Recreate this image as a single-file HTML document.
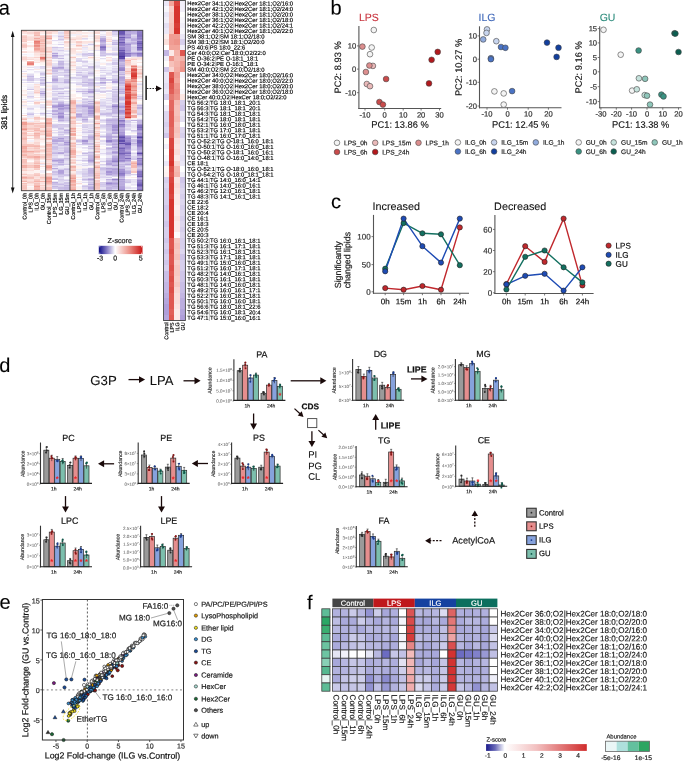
<!DOCTYPE html><html><head><meta charset="utf-8"><style>html,body{margin:0;padding:0;background:#fff;overflow:hidden}svg{display:block;}.hm rect{width:1.02px;height:1.04px}svg{font-family:"Liberation Sans",sans-serif;will-change:transform;text-rendering:geometricPrecision}</style></head><body><svg width="685" height="761" viewBox="0 0 685 761"><text transform="translate(-1.2 14.4) rotate(0.05)" font-size="20" stroke="#000" stroke-width="0.1">a</text>
<g shape-rendering="crispEdges" class="hm" transform="translate(21.4 30.3) scale(6.0700 1.0693)">
<rect x="0" y="0" fill="#f8ccc7"/>
<rect x="1" y="0" fill="#fae0dc"/>
<rect x="2" y="0" fill="#fbe2df"/>
<rect x="3" y="0" fill="#fcebe9"/>
<rect x="4" y="0" fill="#f8d2cd"/>
<rect x="5" y="0" fill="#fadfdc"/>
<rect x="6" y="0" fill="#ebe7f5"/>
<rect x="7" y="0" fill="#f7c6bf"/>
<rect x="8" y="0" fill="#fbe1de"/>
<rect x="9" y="0" fill="#f8d0ca"/>
<rect x="10" y="0" fill="#fef8f7"/>
<rect x="11" y="0" fill="#ded7ef"/>
<rect x="12" y="0" fill="#fadfdc"/>
<rect x="13" y="0" fill="#e6e1f3"/>
<rect x="14" y="0" fill="#fbe2de"/>
<rect x="15" y="0" fill="#b5a6dc"/>
<rect x="16" y="0" fill="#4f3ba2"/>
<rect x="17" y="0" fill="#8572c2"/>
<rect x="18" y="0" fill="#b9abde"/>
<rect x="19" y="0" fill="#9280c9"/>
<rect x="0" y="1" fill="#f7cac4"/>
<rect x="1" y="1" fill="#fbe4e1"/>
<rect x="2" y="1" fill="#f9d7d3"/>
<rect x="3" y="1" fill="#f9d6d2"/>
<rect x="4" y="1" fill="#f9d6d2"/>
<rect x="5" y="1" fill="#f9d4d0"/>
<rect x="6" y="1" fill="#efebf7"/>
<rect x="7" y="1" fill="#f6c1ba"/>
<rect x="8" y="1" fill="#fcecea"/>
<rect x="9" y="1" fill="#fadeda"/>
<rect x="10" y="1" fill="#fffdfd"/>
<rect x="11" y="1" fill="#f5f4fb"/>
<rect x="12" y="1" fill="#fbe0dd"/>
<rect x="13" y="1" fill="#e4dff2"/>
<rect x="14" y="1" fill="#fcedeb"/>
<rect x="15" y="1" fill="#c1b4e2"/>
<rect x="16" y="1" fill="#6754b0"/>
<rect x="17" y="1" fill="#ad9bd8"/>
<rect x="18" y="1" fill="#b6a7dd"/>
<rect x="19" y="1" fill="#9482ca"/>
<rect x="0" y="2" fill="#fbe2df"/>
<rect x="1" y="2" fill="#f9d7d3"/>
<rect x="2" y="2" fill="#f6bfb8"/>
<rect x="3" y="2" fill="#fcebe9"/>
<rect x="4" y="2" fill="#f8cfc9"/>
<rect x="5" y="2" fill="#fbe6e3"/>
<rect x="6" y="2" fill="#e1dbf1"/>
<rect x="7" y="2" fill="#f7c5be"/>
<rect x="8" y="2" fill="#fbe4e1"/>
<rect x="9" y="2" fill="#fceae8"/>
<rect x="10" y="2" fill="#fceae8"/>
<rect x="11" y="2" fill="#fdeeec"/>
<rect x="12" y="2" fill="#f9d8d3"/>
<rect x="13" y="2" fill="#f9f7fc"/>
<rect x="14" y="2" fill="#fbe2df"/>
<rect x="15" y="2" fill="#dad2ee"/>
<rect x="16" y="2" fill="#6a57b2"/>
<rect x="17" y="2" fill="#b7a8dd"/>
<rect x="18" y="2" fill="#bcaee0"/>
<rect x="19" y="2" fill="#8d7bc7"/>
<rect x="0" y="3" fill="#fef5f4"/>
<rect x="1" y="3" fill="#fceae8"/>
<rect x="2" y="3" fill="#f7c5be"/>
<rect x="3" y="3" fill="#f9f8fc"/>
<rect x="4" y="3" fill="#fcecea"/>
<rect x="5" y="3" fill="#fef8f8"/>
<rect x="6" y="3" fill="#ebe7f6"/>
<rect x="7" y="3" fill="#f9d5d1"/>
<rect x="8" y="3" fill="#f3f1f9"/>
<rect x="9" y="3" fill="#efecf8"/>
<rect x="10" y="3" fill="#fef9f8"/>
<rect x="11" y="3" fill="#f8f6fc"/>
<rect x="12" y="3" fill="#fcfbfe"/>
<rect x="13" y="3" fill="#ece8f6"/>
<rect x="14" y="3" fill="#fbe3e0"/>
<rect x="15" y="3" fill="#d6ceec"/>
<rect x="16" y="3" fill="#7360b7"/>
<rect x="17" y="3" fill="#a997d6"/>
<rect x="18" y="3" fill="#cec4e8"/>
<rect x="19" y="3" fill="#8a77c4"/>
<rect x="0" y="4" fill="#f9d7d2"/>
<rect x="1" y="4" fill="#fdf0ef"/>
<rect x="2" y="4" fill="#f5b7ae"/>
<rect x="3" y="4" fill="#f9d4cf"/>
<rect x="4" y="4" fill="#f8cbc6"/>
<rect x="5" y="4" fill="#efebf7"/>
<rect x="6" y="4" fill="#e3def2"/>
<rect x="7" y="4" fill="#f7c8c2"/>
<rect x="8" y="4" fill="#f4f2fa"/>
<rect x="9" y="4" fill="#fcedeb"/>
<rect x="10" y="4" fill="#fbe5e2"/>
<rect x="11" y="4" fill="#f6f4fb"/>
<rect x="12" y="4" fill="#faddd9"/>
<rect x="13" y="4" fill="#f0edf8"/>
<rect x="14" y="4" fill="#fbe4e1"/>
<rect x="15" y="4" fill="#e7e2f4"/>
<rect x="16" y="4" fill="#9482ca"/>
<rect x="17" y="4" fill="#af9ed9"/>
<rect x="18" y="4" fill="#e0daf1"/>
<rect x="19" y="4" fill="#8674c2"/>
<rect x="0" y="5" fill="#f7cbc5"/>
<rect x="1" y="5" fill="#fbe5e2"/>
<rect x="2" y="5" fill="#f9d8d4"/>
<rect x="3" y="5" fill="#f7c7c1"/>
<rect x="4" y="5" fill="#f5b8b0"/>
<rect x="5" y="5" fill="#f1eff9"/>
<rect x="6" y="5" fill="#cdc2e7"/>
<rect x="7" y="5" fill="#fad9d5"/>
<rect x="8" y="5" fill="#fefbfb"/>
<rect x="9" y="5" fill="#fce8e6"/>
<rect x="10" y="5" fill="#fadfdb"/>
<rect x="11" y="5" fill="#f0edf8"/>
<rect x="12" y="5" fill="#fadad5"/>
<rect x="13" y="5" fill="#d0c7e9"/>
<rect x="14" y="5" fill="#fef7f6"/>
<rect x="15" y="5" fill="#ebe6f5"/>
<rect x="16" y="5" fill="#a08ed1"/>
<rect x="17" y="5" fill="#b3a4db"/>
<rect x="18" y="5" fill="#d5cceb"/>
<rect x="19" y="5" fill="#8876c3"/>
<rect x="0" y="6" fill="#f7c7c1"/>
<rect x="1" y="6" fill="#fadeda"/>
<rect x="2" y="6" fill="#f8d1cc"/>
<rect x="3" y="6" fill="#f6c2bb"/>
<rect x="4" y="6" fill="#f6bfb8"/>
<rect x="5" y="6" fill="#fef5f4"/>
<rect x="6" y="6" fill="#e3ddf2"/>
<rect x="7" y="6" fill="#f5bcb5"/>
<rect x="8" y="6" fill="#fce8e5"/>
<rect x="9" y="6" fill="#fbe3e0"/>
<rect x="10" y="6" fill="#fdf1ef"/>
<rect x="11" y="6" fill="#fffdfd"/>
<rect x="12" y="6" fill="#f9d8d3"/>
<rect x="13" y="6" fill="#d4cceb"/>
<rect x="14" y="6" fill="#fce9e6"/>
<rect x="15" y="6" fill="#fffcfb"/>
<rect x="16" y="6" fill="#6956b1"/>
<rect x="17" y="6" fill="#9c8acf"/>
<rect x="18" y="6" fill="#d3caea"/>
<rect x="19" y="6" fill="#9482cb"/>
<rect x="0" y="7" fill="#f8cfca"/>
<rect x="1" y="7" fill="#faddd9"/>
<rect x="2" y="7" fill="#f3aba2"/>
<rect x="3" y="7" fill="#f7cac4"/>
<rect x="4" y="7" fill="#f1a198"/>
<rect x="5" y="7" fill="#fefbfa"/>
<rect x="6" y="7" fill="#e2dcf1"/>
<rect x="7" y="7" fill="#f9d5d0"/>
<rect x="8" y="7" fill="#fbe3df"/>
<rect x="9" y="7" fill="#fadeda"/>
<rect x="10" y="7" fill="#ded7ef"/>
<rect x="11" y="7" fill="#f8f6fb"/>
<rect x="12" y="7" fill="#f9d5d0"/>
<rect x="13" y="7" fill="#b9aade"/>
<rect x="14" y="7" fill="#fcecea"/>
<rect x="15" y="7" fill="#faf9fd"/>
<rect x="16" y="7" fill="#907dc8"/>
<rect x="17" y="7" fill="#bbaddf"/>
<rect x="18" y="7" fill="#c0b3e1"/>
<rect x="19" y="7" fill="#8d7bc6"/>
<rect x="0" y="8" fill="#f7c9c3"/>
<rect x="1" y="8" fill="#fadbd7"/>
<rect x="2" y="8" fill="#f7cac4"/>
<rect x="3" y="8" fill="#f5bcb5"/>
<rect x="4" y="8" fill="#f9d3ce"/>
<rect x="5" y="8" fill="#fffefe"/>
<rect x="6" y="8" fill="#cfc5e8"/>
<rect x="7" y="8" fill="#fbe1de"/>
<rect x="8" y="8" fill="#f8d1cc"/>
<rect x="9" y="8" fill="#fbe2df"/>
<rect x="10" y="8" fill="#ece8f6"/>
<rect x="11" y="8" fill="#fffefe"/>
<rect x="12" y="8" fill="#fbe6e3"/>
<rect x="13" y="8" fill="#b6a7dd"/>
<rect x="14" y="8" fill="#fadcd8"/>
<rect x="15" y="8" fill="#f2eff9"/>
<rect x="16" y="8" fill="#8573c2"/>
<rect x="17" y="8" fill="#d4cbeb"/>
<rect x="18" y="8" fill="#b9abde"/>
<rect x="19" y="8" fill="#9a88ce"/>
<rect x="0" y="9" fill="#f8cdc7"/>
<rect x="1" y="9" fill="#fae0dc"/>
<rect x="2" y="9" fill="#f3ada4"/>
<rect x="3" y="9" fill="#f5bcb4"/>
<rect x="4" y="9" fill="#fce9e7"/>
<rect x="5" y="9" fill="#e0daf1"/>
<rect x="6" y="9" fill="#e4dff2"/>
<rect x="7" y="9" fill="#fef7f6"/>
<rect x="8" y="9" fill="#fce9e6"/>
<rect x="9" y="9" fill="#fef7f6"/>
<rect x="10" y="9" fill="#fffcfc"/>
<rect x="11" y="9" fill="#fefafa"/>
<rect x="12" y="9" fill="#fad9d5"/>
<rect x="13" y="9" fill="#aa98d7"/>
<rect x="14" y="9" fill="#fceae8"/>
<rect x="15" y="9" fill="#d1c7e9"/>
<rect x="16" y="9" fill="#9582cb"/>
<rect x="17" y="9" fill="#cfc6e9"/>
<rect x="18" y="9" fill="#bbacdf"/>
<rect x="19" y="9" fill="#ac9ad8"/>
<rect x="0" y="10" fill="#f7c7c1"/>
<rect x="1" y="10" fill="#fffcfc"/>
<rect x="2" y="10" fill="#e87b72"/>
<rect x="3" y="10" fill="#f5bab3"/>
<rect x="4" y="10" fill="#fadad6"/>
<rect x="5" y="10" fill="#f9f7fc"/>
<rect x="6" y="10" fill="#f7f5fb"/>
<rect x="7" y="10" fill="#f8d1cc"/>
<rect x="8" y="10" fill="#fce7e5"/>
<rect x="9" y="10" fill="#f8cec9"/>
<rect x="10" y="10" fill="#fbe3df"/>
<rect x="11" y="10" fill="#fbe2df"/>
<rect x="12" y="10" fill="#fae0dc"/>
<rect x="13" y="10" fill="#b3a3db"/>
<rect x="14" y="10" fill="#f9d6d1"/>
<rect x="15" y="10" fill="#dfd8f0"/>
<rect x="16" y="10" fill="#9f8dd1"/>
<rect x="17" y="10" fill="#d7ceec"/>
<rect x="18" y="10" fill="#d0c6e9"/>
<rect x="19" y="10" fill="#7e6bbd"/>
<rect x="0" y="11" fill="#fceae7"/>
<rect x="1" y="11" fill="#fdeeec"/>
<rect x="2" y="11" fill="#eb877e"/>
<rect x="3" y="11" fill="#f8cec9"/>
<rect x="4" y="11" fill="#f9d7d3"/>
<rect x="5" y="11" fill="#fdfcfe"/>
<rect x="6" y="11" fill="#eeeaf7"/>
<rect x="7" y="11" fill="#f8cfca"/>
<rect x="8" y="11" fill="#fbe6e3"/>
<rect x="9" y="11" fill="#f7cbc5"/>
<rect x="10" y="11" fill="#fbe4e1"/>
<rect x="11" y="11" fill="#fbe2df"/>
<rect x="12" y="11" fill="#fef7f6"/>
<rect x="13" y="11" fill="#c1b4e2"/>
<rect x="14" y="11" fill="#fafafd"/>
<rect x="15" y="11" fill="#c8bce5"/>
<rect x="16" y="11" fill="#6d5ab4"/>
<rect x="17" y="11" fill="#c8bde5"/>
<rect x="18" y="11" fill="#bfb1e1"/>
<rect x="19" y="11" fill="#826fc0"/>
<rect x="0" y="12" fill="#faddd9"/>
<rect x="1" y="12" fill="#fefafa"/>
<rect x="2" y="12" fill="#ec8c83"/>
<rect x="3" y="12" fill="#f4b2aa"/>
<rect x="4" y="12" fill="#f9d4cf"/>
<rect x="5" y="12" fill="#fcfcfe"/>
<rect x="6" y="12" fill="#f8f7fc"/>
<rect x="7" y="12" fill="#fbe3e0"/>
<rect x="8" y="12" fill="#fef5f4"/>
<rect x="9" y="12" fill="#fadedb"/>
<rect x="10" y="12" fill="#fce9e7"/>
<rect x="11" y="12" fill="#efecf7"/>
<rect x="12" y="12" fill="#fffefe"/>
<rect x="13" y="12" fill="#cac0e6"/>
<rect x="14" y="12" fill="#fdf0ee"/>
<rect x="15" y="12" fill="#cec4e8"/>
<rect x="16" y="12" fill="#8c79c5"/>
<rect x="17" y="12" fill="#b7a8dd"/>
<rect x="18" y="12" fill="#baabde"/>
<rect x="19" y="12" fill="#6a57b2"/>
<rect x="0" y="13" fill="#f8cec8"/>
<rect x="1" y="13" fill="#fbfafd"/>
<rect x="2" y="13" fill="#f2a89e"/>
<rect x="3" y="13" fill="#f8cfca"/>
<rect x="4" y="13" fill="#fcedeb"/>
<rect x="5" y="13" fill="#efecf7"/>
<rect x="6" y="13" fill="#dbd3ee"/>
<rect x="7" y="13" fill="#fce8e5"/>
<rect x="8" y="13" fill="#efecf7"/>
<rect x="9" y="13" fill="#fadfdb"/>
<rect x="10" y="13" fill="#f6f4fb"/>
<rect x="11" y="13" fill="#d3caea"/>
<rect x="12" y="13" fill="#fdf3f1"/>
<rect x="13" y="13" fill="#b9aade"/>
<rect x="14" y="13" fill="#e8e3f4"/>
<rect x="15" y="13" fill="#c1b4e2"/>
<rect x="16" y="13" fill="#8b78c5"/>
<rect x="17" y="13" fill="#a18fd2"/>
<rect x="18" y="13" fill="#cfc5e8"/>
<rect x="19" y="13" fill="#8471c1"/>
<rect x="0" y="14" fill="#f6c3bc"/>
<rect x="1" y="14" fill="#fae0dc"/>
<rect x="2" y="14" fill="#eb8980"/>
<rect x="3" y="14" fill="#f6beb7"/>
<rect x="4" y="14" fill="#fdf4f3"/>
<rect x="5" y="14" fill="#fefbfa"/>
<rect x="6" y="14" fill="#fcfbfe"/>
<rect x="7" y="14" fill="#fce7e4"/>
<rect x="8" y="14" fill="#fdf4f3"/>
<rect x="9" y="14" fill="#f5bbb3"/>
<rect x="10" y="14" fill="#e5dff3"/>
<rect x="11" y="14" fill="#f4f2fa"/>
<rect x="12" y="14" fill="#f7c8c2"/>
<rect x="13" y="14" fill="#b4a4dc"/>
<rect x="14" y="14" fill="#fdf2f0"/>
<rect x="15" y="14" fill="#edeaf7"/>
<rect x="16" y="14" fill="#9280c9"/>
<rect x="17" y="14" fill="#b4a4db"/>
<rect x="18" y="14" fill="#e6e1f3"/>
<rect x="19" y="14" fill="#816ebf"/>
<rect x="0" y="15" fill="#f7c6c0"/>
<rect x="1" y="15" fill="#fadedb"/>
<rect x="2" y="15" fill="#ed9187"/>
<rect x="3" y="15" fill="#f7c7c1"/>
<rect x="4" y="15" fill="#fdefed"/>
<rect x="5" y="15" fill="#f4f1fa"/>
<rect x="6" y="15" fill="#fefeff"/>
<rect x="7" y="15" fill="#fce8e6"/>
<rect x="8" y="15" fill="#fdf4f3"/>
<rect x="9" y="15" fill="#fadad6"/>
<rect x="10" y="15" fill="#fce9e7"/>
<rect x="11" y="15" fill="#fef8f7"/>
<rect x="12" y="15" fill="#f9d6d2"/>
<rect x="13" y="15" fill="#8d7bc6"/>
<rect x="14" y="15" fill="#fce9e7"/>
<rect x="15" y="15" fill="#e7e2f4"/>
<rect x="16" y="15" fill="#ac9bd8"/>
<rect x="17" y="15" fill="#b2a2db"/>
<rect x="18" y="15" fill="#dcd5ee"/>
<rect x="19" y="15" fill="#907ec8"/>
<rect x="0" y="16" fill="#f8cec9"/>
<rect x="1" y="16" fill="#fef6f5"/>
<rect x="2" y="16" fill="#f4b3aa"/>
<rect x="3" y="16" fill="#f7c7c0"/>
<rect x="4" y="16" fill="#f9d5d1"/>
<rect x="5" y="16" fill="#cdc3e7"/>
<rect x="6" y="16" fill="#d8d0ed"/>
<rect x="7" y="16" fill="#fef8f7"/>
<rect x="8" y="16" fill="#fef7f6"/>
<rect x="9" y="16" fill="#fdf4f3"/>
<rect x="10" y="16" fill="#e5e0f3"/>
<rect x="11" y="16" fill="#fdf4f2"/>
<rect x="12" y="16" fill="#fce9e6"/>
<rect x="13" y="16" fill="#7d6bbd"/>
<rect x="14" y="16" fill="#ebe7f6"/>
<rect x="15" y="16" fill="#e4def2"/>
<rect x="16" y="16" fill="#9785cc"/>
<rect x="17" y="16" fill="#b4a5dc"/>
<rect x="18" y="16" fill="#d3c9ea"/>
<rect x="19" y="16" fill="#6855b1"/>
<rect x="0" y="17" fill="#fcebe9"/>
<rect x="1" y="17" fill="#fffcfc"/>
<rect x="2" y="17" fill="#f1a197"/>
<rect x="3" y="17" fill="#f5bdb6"/>
<rect x="4" y="17" fill="#fadad6"/>
<rect x="5" y="17" fill="#e2dcf1"/>
<rect x="6" y="17" fill="#ebe7f6"/>
<rect x="7" y="17" fill="#fce8e6"/>
<rect x="8" y="17" fill="#faddd9"/>
<rect x="9" y="17" fill="#fbe1de"/>
<rect x="10" y="17" fill="#eeeaf7"/>
<rect x="11" y="17" fill="#fdf0ee"/>
<rect x="12" y="17" fill="#fceae8"/>
<rect x="13" y="17" fill="#9785cc"/>
<rect x="14" y="17" fill="#f7f5fb"/>
<rect x="15" y="17" fill="#dfd9f0"/>
<rect x="16" y="17" fill="#9381ca"/>
<rect x="17" y="17" fill="#b2a2db"/>
<rect x="18" y="17" fill="#d7cfec"/>
<rect x="19" y="17" fill="#8371c0"/>
<rect x="0" y="18" fill="#fffefe"/>
<rect x="1" y="18" fill="#fef9f8"/>
<rect x="2" y="18" fill="#f4b4ac"/>
<rect x="3" y="18" fill="#f5bab2"/>
<rect x="4" y="18" fill="#fadfdc"/>
<rect x="5" y="18" fill="#e1dbf1"/>
<rect x="6" y="18" fill="#d5cceb"/>
<rect x="7" y="18" fill="#ede9f7"/>
<rect x="8" y="18" fill="#fbe1dd"/>
<rect x="9" y="18" fill="#fffdfc"/>
<rect x="10" y="18" fill="#f5f3fa"/>
<rect x="11" y="18" fill="#eeeaf7"/>
<rect x="12" y="18" fill="#e6e1f3"/>
<rect x="13" y="18" fill="#ac9bd8"/>
<rect x="14" y="18" fill="#fcedeb"/>
<rect x="15" y="18" fill="#dfd8f0"/>
<rect x="16" y="18" fill="#6754b0"/>
<rect x="17" y="18" fill="#ac9ad8"/>
<rect x="18" y="18" fill="#ddd6ef"/>
<rect x="19" y="18" fill="#a492d3"/>
<rect x="0" y="19" fill="#fadcd8"/>
<rect x="1" y="19" fill="#fdf0ef"/>
<rect x="2" y="19" fill="#f7c9c3"/>
<rect x="3" y="19" fill="#f4b3ab"/>
<rect x="4" y="19" fill="#f6c4bd"/>
<rect x="5" y="19" fill="#ebe6f5"/>
<rect x="6" y="19" fill="#eae5f5"/>
<rect x="7" y="19" fill="#e9e5f5"/>
<rect x="8" y="19" fill="#fbe3df"/>
<rect x="9" y="19" fill="#fdeeec"/>
<rect x="10" y="19" fill="#ede9f7"/>
<rect x="11" y="19" fill="#fffdfd"/>
<rect x="12" y="19" fill="#fffdfc"/>
<rect x="13" y="19" fill="#d2c9ea"/>
<rect x="14" y="19" fill="#fef8f8"/>
<rect x="15" y="19" fill="#fdf3f1"/>
<rect x="16" y="19" fill="#8774c3"/>
<rect x="17" y="19" fill="#b3a4db"/>
<rect x="18" y="19" fill="#ddd5ef"/>
<rect x="19" y="19" fill="#d0c6e9"/>
<rect x="0" y="20" fill="#fadad6"/>
<rect x="1" y="20" fill="#fcedec"/>
<rect x="2" y="20" fill="#f9d7d2"/>
<rect x="3" y="20" fill="#f8cfca"/>
<rect x="4" y="20" fill="#f8d2cd"/>
<rect x="5" y="20" fill="#e2dbf1"/>
<rect x="6" y="20" fill="#f0ecf8"/>
<rect x="7" y="20" fill="#fdfdfe"/>
<rect x="8" y="20" fill="#fbe6e3"/>
<rect x="9" y="20" fill="#fceae8"/>
<rect x="10" y="20" fill="#f0edf8"/>
<rect x="11" y="20" fill="#f8f7fc"/>
<rect x="12" y="20" fill="#fffdfc"/>
<rect x="13" y="20" fill="#cec4e8"/>
<rect x="14" y="20" fill="#fef5f4"/>
<rect x="15" y="20" fill="#e7e2f4"/>
<rect x="16" y="20" fill="#6d5ab3"/>
<rect x="17" y="20" fill="#b5a6dc"/>
<rect x="18" y="20" fill="#c2b5e2"/>
<rect x="19" y="20" fill="#b4a5dc"/>
<rect x="0" y="21" fill="#fefefe"/>
<rect x="1" y="21" fill="#fcfbfe"/>
<rect x="2" y="21" fill="#fbe5e2"/>
<rect x="3" y="21" fill="#fadbd7"/>
<rect x="4" y="21" fill="#fdeeec"/>
<rect x="5" y="21" fill="#b5a6dc"/>
<rect x="6" y="21" fill="#ede9f6"/>
<rect x="7" y="21" fill="#f3f0f9"/>
<rect x="8" y="21" fill="#fce8e5"/>
<rect x="9" y="21" fill="#ede9f6"/>
<rect x="10" y="21" fill="#d8d0ed"/>
<rect x="11" y="21" fill="#c9bde5"/>
<rect x="12" y="21" fill="#fcfcfe"/>
<rect x="13" y="21" fill="#cec3e8"/>
<rect x="14" y="21" fill="#d6ceec"/>
<rect x="15" y="21" fill="#d6ceec"/>
<rect x="16" y="21" fill="#6451ae"/>
<rect x="17" y="21" fill="#8673c2"/>
<rect x="18" y="21" fill="#9f8dd1"/>
<rect x="19" y="21" fill="#8976c4"/>
<rect x="0" y="22" fill="#f0edf8"/>
<rect x="1" y="22" fill="#f8f7fc"/>
<rect x="2" y="22" fill="#fbe3df"/>
<rect x="3" y="22" fill="#f7c9c3"/>
<rect x="4" y="22" fill="#fbe0dd"/>
<rect x="5" y="22" fill="#d7cfec"/>
<rect x="6" y="22" fill="#efecf7"/>
<rect x="7" y="22" fill="#e1dbf1"/>
<rect x="8" y="22" fill="#fdf3f1"/>
<rect x="9" y="22" fill="#e6e1f3"/>
<rect x="10" y="22" fill="#cec3e8"/>
<rect x="11" y="22" fill="#d8d0ed"/>
<rect x="12" y="22" fill="#fcfbfd"/>
<rect x="13" y="22" fill="#d4cbeb"/>
<rect x="14" y="22" fill="#d1c7e9"/>
<rect x="15" y="22" fill="#cac0e6"/>
<rect x="16" y="22" fill="#6552af"/>
<rect x="17" y="22" fill="#9c8acf"/>
<rect x="18" y="22" fill="#b5a5dc"/>
<rect x="19" y="22" fill="#9684cc"/>
<rect x="0" y="23" fill="#fef8f7"/>
<rect x="1" y="23" fill="#faf9fd"/>
<rect x="2" y="23" fill="#fce8e5"/>
<rect x="3" y="23" fill="#f9d6d1"/>
<rect x="4" y="23" fill="#fce8e5"/>
<rect x="5" y="23" fill="#aa98d7"/>
<rect x="6" y="23" fill="#d1c7e9"/>
<rect x="7" y="23" fill="#ebe7f6"/>
<rect x="8" y="23" fill="#f7f5fb"/>
<rect x="9" y="23" fill="#f3f1f9"/>
<rect x="10" y="23" fill="#d9d1ed"/>
<rect x="11" y="23" fill="#ccc1e7"/>
<rect x="12" y="23" fill="#f7f5fb"/>
<rect x="13" y="23" fill="#cabfe6"/>
<rect x="14" y="23" fill="#eae5f5"/>
<rect x="15" y="23" fill="#ded7ef"/>
<rect x="16" y="23" fill="#6350ae"/>
<rect x="17" y="23" fill="#9886cd"/>
<rect x="18" y="23" fill="#beb1e1"/>
<rect x="19" y="23" fill="#9a88ce"/>
<rect x="0" y="24" fill="#fbe5e2"/>
<rect x="1" y="24" fill="#f9f8fc"/>
<rect x="2" y="24" fill="#fdeeec"/>
<rect x="3" y="24" fill="#f7c8c2"/>
<rect x="4" y="24" fill="#fbe5e2"/>
<rect x="5" y="24" fill="#baabde"/>
<rect x="6" y="24" fill="#ddd6ef"/>
<rect x="7" y="24" fill="#f6f4fb"/>
<rect x="8" y="24" fill="#fcebe9"/>
<rect x="9" y="24" fill="#fdf2f1"/>
<rect x="10" y="24" fill="#e4def2"/>
<rect x="11" y="24" fill="#fef6f5"/>
<rect x="12" y="24" fill="#fffdfc"/>
<rect x="13" y="24" fill="#e7e2f4"/>
<rect x="14" y="24" fill="#fefefe"/>
<rect x="15" y="24" fill="#fbfbfd"/>
<rect x="16" y="24" fill="#4a369f"/>
<rect x="17" y="24" fill="#aa98d7"/>
<rect x="18" y="24" fill="#d6ceec"/>
<rect x="19" y="24" fill="#b6a7dd"/>
<rect x="0" y="25" fill="#f9d5d0"/>
<rect x="1" y="25" fill="#fbe0dd"/>
<rect x="2" y="25" fill="#f9d2cd"/>
<rect x="3" y="25" fill="#e6746c"/>
<rect x="4" y="25" fill="#f7c7c0"/>
<rect x="5" y="25" fill="#cec4e8"/>
<rect x="6" y="25" fill="#ebe7f6"/>
<rect x="7" y="25" fill="#f6f5fb"/>
<rect x="8" y="25" fill="#f7c7c1"/>
<rect x="9" y="25" fill="#fdfdfe"/>
<rect x="10" y="25" fill="#f6f4fb"/>
<rect x="11" y="25" fill="#f9d5d0"/>
<rect x="12" y="25" fill="#fdefed"/>
<rect x="13" y="25" fill="#ffffff"/>
<rect x="14" y="25" fill="#fbe0dd"/>
<rect x="15" y="25" fill="#fffdfd"/>
<rect x="16" y="25" fill="#604dac"/>
<rect x="17" y="25" fill="#fffdfd"/>
<rect x="18" y="25" fill="#fce8e5"/>
<rect x="19" y="25" fill="#fbe2df"/>
<rect x="0" y="26" fill="#f9d6d2"/>
<rect x="1" y="26" fill="#fce8e6"/>
<rect x="2" y="26" fill="#fdeeec"/>
<rect x="3" y="26" fill="#e87b73"/>
<rect x="4" y="26" fill="#fbe4e1"/>
<rect x="5" y="26" fill="#d1c7e9"/>
<rect x="6" y="26" fill="#c4b8e3"/>
<rect x="7" y="26" fill="#f2f0f9"/>
<rect x="8" y="26" fill="#fcecea"/>
<rect x="9" y="26" fill="#dfd8f0"/>
<rect x="10" y="26" fill="#e8e3f4"/>
<rect x="11" y="26" fill="#fdefee"/>
<rect x="12" y="26" fill="#fbfafd"/>
<rect x="13" y="26" fill="#e3def2"/>
<rect x="14" y="26" fill="#fdf4f3"/>
<rect x="15" y="26" fill="#e6e0f3"/>
<rect x="16" y="26" fill="#5946a8"/>
<rect x="17" y="26" fill="#fbe0dd"/>
<rect x="18" y="26" fill="#fbe0dd"/>
<rect x="19" y="26" fill="#fbe2df"/>
<rect x="0" y="27" fill="#f9d3ce"/>
<rect x="1" y="27" fill="#fadbd7"/>
<rect x="2" y="27" fill="#fce7e5"/>
<rect x="3" y="27" fill="#f09e94"/>
<rect x="4" y="27" fill="#fce7e5"/>
<rect x="5" y="27" fill="#fbfafd"/>
<rect x="6" y="27" fill="#f3f0f9"/>
<rect x="7" y="27" fill="#f2f0f9"/>
<rect x="8" y="27" fill="#fdefed"/>
<rect x="9" y="27" fill="#e0daf0"/>
<rect x="10" y="27" fill="#fefaf9"/>
<rect x="11" y="27" fill="#fef8f7"/>
<rect x="12" y="27" fill="#fdf0ee"/>
<rect x="13" y="27" fill="#f8f7fc"/>
<rect x="14" y="27" fill="#fdeeec"/>
<rect x="15" y="27" fill="#e7e2f4"/>
<rect x="16" y="27" fill="#a08ed1"/>
<rect x="17" y="27" fill="#faddda"/>
<rect x="18" y="27" fill="#f8cdc8"/>
<rect x="19" y="27" fill="#fce7e4"/>
<rect x="0" y="28" fill="#fbe6e4"/>
<rect x="1" y="28" fill="#ffffff"/>
<rect x="2" y="28" fill="#fceae7"/>
<rect x="3" y="28" fill="#f6c4bd"/>
<rect x="4" y="28" fill="#f7cac4"/>
<rect x="5" y="28" fill="#efebf7"/>
<rect x="6" y="28" fill="#e2ddf2"/>
<rect x="7" y="28" fill="#ece8f6"/>
<rect x="8" y="28" fill="#fef6f5"/>
<rect x="9" y="28" fill="#dad2ed"/>
<rect x="10" y="28" fill="#eae6f5"/>
<rect x="11" y="28" fill="#fcfbfd"/>
<rect x="12" y="28" fill="#fdf0ee"/>
<rect x="13" y="28" fill="#fdfdfe"/>
<rect x="14" y="28" fill="#fadcd8"/>
<rect x="15" y="28" fill="#dcd5ef"/>
<rect x="16" y="28" fill="#aa98d7"/>
<rect x="17" y="28" fill="#f4b0a7"/>
<rect x="18" y="28" fill="#fdf0ee"/>
<rect x="19" y="28" fill="#f8f6fc"/>
<rect x="0" y="29" fill="#fdf0ee"/>
<rect x="1" y="29" fill="#f4b3ab"/>
<rect x="2" y="29" fill="#fdf0ee"/>
<rect x="3" y="29" fill="#f9d6d1"/>
<rect x="4" y="29" fill="#fad9d5"/>
<rect x="5" y="29" fill="#f2eff9"/>
<rect x="6" y="29" fill="#c3b7e3"/>
<rect x="7" y="29" fill="#e4dff2"/>
<rect x="8" y="29" fill="#fbe2df"/>
<rect x="9" y="29" fill="#d6ceec"/>
<rect x="10" y="29" fill="#d3c9ea"/>
<rect x="11" y="29" fill="#f5f3fa"/>
<rect x="12" y="29" fill="#f7f5fb"/>
<rect x="13" y="29" fill="#fefdfe"/>
<rect x="14" y="29" fill="#fdf2f1"/>
<rect x="15" y="29" fill="#e6e1f3"/>
<rect x="16" y="29" fill="#b5a6dc"/>
<rect x="17" y="29" fill="#f8ccc6"/>
<rect x="18" y="29" fill="#fcedea"/>
<rect x="19" y="29" fill="#fefaf9"/>
<rect x="0" y="30" fill="#fffcfb"/>
<rect x="1" y="30" fill="#ed9188"/>
<rect x="2" y="30" fill="#fbe1de"/>
<rect x="3" y="30" fill="#fcedeb"/>
<rect x="4" y="30" fill="#f9d5d0"/>
<rect x="5" y="30" fill="#fef9f8"/>
<rect x="6" y="30" fill="#cac0e6"/>
<rect x="7" y="30" fill="#f2eff9"/>
<rect x="8" y="30" fill="#fad9d5"/>
<rect x="9" y="30" fill="#fbfbfd"/>
<rect x="10" y="30" fill="#ded7ef"/>
<rect x="11" y="30" fill="#f9f8fc"/>
<rect x="12" y="30" fill="#eeebf7"/>
<rect x="13" y="30" fill="#f7f6fb"/>
<rect x="14" y="30" fill="#faf9fd"/>
<rect x="15" y="30" fill="#d1c7e9"/>
<rect x="16" y="30" fill="#cabfe6"/>
<rect x="17" y="30" fill="#f7c8c1"/>
<rect x="18" y="30" fill="#fcedeb"/>
<rect x="19" y="30" fill="#fbe6e3"/>
<rect x="0" y="31" fill="#fef8f7"/>
<rect x="1" y="31" fill="#e97f77"/>
<rect x="2" y="31" fill="#fdfdfe"/>
<rect x="3" y="31" fill="#fdf4f2"/>
<rect x="4" y="31" fill="#f8ccc7"/>
<rect x="5" y="31" fill="#e6e1f3"/>
<rect x="6" y="31" fill="#c2b5e2"/>
<rect x="7" y="31" fill="#ddd7ef"/>
<rect x="8" y="31" fill="#fceae8"/>
<rect x="9" y="31" fill="#f6f4fb"/>
<rect x="10" y="31" fill="#f0edf8"/>
<rect x="11" y="31" fill="#efebf7"/>
<rect x="12" y="31" fill="#f2f0f9"/>
<rect x="13" y="31" fill="#fdefed"/>
<rect x="14" y="31" fill="#e6e0f3"/>
<rect x="15" y="31" fill="#d1c7e9"/>
<rect x="16" y="31" fill="#c1b4e2"/>
<rect x="17" y="31" fill="#f8d0cb"/>
<rect x="18" y="31" fill="#fce8e6"/>
<rect x="19" y="31" fill="#fffefe"/>
<rect x="0" y="32" fill="#fef6f5"/>
<rect x="1" y="32" fill="#f8cec8"/>
<rect x="2" y="32" fill="#fefeff"/>
<rect x="3" y="32" fill="#fefbfb"/>
<rect x="4" y="32" fill="#f9d3cf"/>
<rect x="5" y="32" fill="#e2dcf2"/>
<rect x="6" y="32" fill="#cfc5e8"/>
<rect x="7" y="32" fill="#e6e1f3"/>
<rect x="8" y="32" fill="#f9d4d0"/>
<rect x="9" y="32" fill="#fef8f7"/>
<rect x="10" y="32" fill="#e0d9f0"/>
<rect x="11" y="32" fill="#f4f1fa"/>
<rect x="12" y="32" fill="#eae6f5"/>
<rect x="13" y="32" fill="#ffffff"/>
<rect x="14" y="32" fill="#f2eff9"/>
<rect x="15" y="32" fill="#f3f1f9"/>
<rect x="16" y="32" fill="#b4a5dc"/>
<rect x="17" y="32" fill="#fad9d5"/>
<rect x="18" y="32" fill="#f4b2aa"/>
<rect x="19" y="32" fill="#f4f2fa"/>
<rect x="0" y="33" fill="#f2f0f9"/>
<rect x="1" y="33" fill="#fdf3f1"/>
<rect x="2" y="33" fill="#ebe7f6"/>
<rect x="3" y="33" fill="#dad2ee"/>
<rect x="4" y="33" fill="#fbe3e0"/>
<rect x="5" y="33" fill="#d8d0ed"/>
<rect x="6" y="33" fill="#ccc1e7"/>
<rect x="7" y="33" fill="#eae6f5"/>
<rect x="8" y="33" fill="#fcecea"/>
<rect x="9" y="33" fill="#e7e3f4"/>
<rect x="10" y="33" fill="#e2dcf1"/>
<rect x="11" y="33" fill="#cac0e6"/>
<rect x="12" y="33" fill="#e5dff3"/>
<rect x="13" y="33" fill="#ece8f6"/>
<rect x="14" y="33" fill="#faf9fd"/>
<rect x="15" y="33" fill="#e2dbf1"/>
<rect x="16" y="33" fill="#bdafe0"/>
<rect x="17" y="33" fill="#fce8e5"/>
<rect x="18" y="33" fill="#e87c73"/>
<rect x="19" y="33" fill="#fadcd9"/>
<rect x="0" y="34" fill="#fdf1ef"/>
<rect x="1" y="34" fill="#e6e1f3"/>
<rect x="2" y="34" fill="#ece8f6"/>
<rect x="3" y="34" fill="#dfd9f0"/>
<rect x="4" y="34" fill="#fbe3df"/>
<rect x="5" y="34" fill="#b9aade"/>
<rect x="6" y="34" fill="#ae9dd9"/>
<rect x="7" y="34" fill="#e2dcf1"/>
<rect x="8" y="34" fill="#fceeec"/>
<rect x="9" y="34" fill="#e4dff2"/>
<rect x="10" y="34" fill="#faf9fd"/>
<rect x="11" y="34" fill="#cabfe6"/>
<rect x="12" y="34" fill="#e9e5f5"/>
<rect x="13" y="34" fill="#ebe7f6"/>
<rect x="14" y="34" fill="#f1eef8"/>
<rect x="15" y="34" fill="#ede9f6"/>
<rect x="16" y="34" fill="#a492d4"/>
<rect x="17" y="34" fill="#fdf1f0"/>
<rect x="18" y="34" fill="#f3aca3"/>
<rect x="19" y="34" fill="#fadbd7"/>
<rect x="0" y="35" fill="#fef6f5"/>
<rect x="1" y="35" fill="#fffefe"/>
<rect x="2" y="35" fill="#efecf8"/>
<rect x="3" y="35" fill="#dfd8f0"/>
<rect x="4" y="35" fill="#fef5f4"/>
<rect x="5" y="35" fill="#b3a3db"/>
<rect x="6" y="35" fill="#b8aade"/>
<rect x="7" y="35" fill="#e1dbf1"/>
<rect x="8" y="35" fill="#fef6f5"/>
<rect x="9" y="35" fill="#ded7f0"/>
<rect x="10" y="35" fill="#e1dbf1"/>
<rect x="11" y="35" fill="#d7ceec"/>
<rect x="12" y="35" fill="#f1eef9"/>
<rect x="13" y="35" fill="#ded7f0"/>
<rect x="14" y="35" fill="#f3f1fa"/>
<rect x="15" y="35" fill="#dbd4ee"/>
<rect x="16" y="35" fill="#9b89ce"/>
<rect x="17" y="35" fill="#f9d8d4"/>
<rect x="18" y="35" fill="#e77a72"/>
<rect x="19" y="35" fill="#fdf1ef"/>
<rect x="0" y="36" fill="#fdf3f2"/>
<rect x="1" y="36" fill="#e5dff3"/>
<rect x="2" y="36" fill="#fce9e6"/>
<rect x="3" y="36" fill="#f4f2fa"/>
<rect x="4" y="36" fill="#fadcd8"/>
<rect x="5" y="36" fill="#ccc1e7"/>
<rect x="6" y="36" fill="#d1c7e9"/>
<rect x="7" y="36" fill="#d0c6e9"/>
<rect x="8" y="36" fill="#fadfdb"/>
<rect x="9" y="36" fill="#e8e3f4"/>
<rect x="10" y="36" fill="#e1dbf1"/>
<rect x="11" y="36" fill="#e2dcf1"/>
<rect x="12" y="36" fill="#fcfcfe"/>
<rect x="13" y="36" fill="#f1eef8"/>
<rect x="14" y="36" fill="#f3f1fa"/>
<rect x="15" y="36" fill="#e2dcf1"/>
<rect x="16" y="36" fill="#9784cc"/>
<rect x="17" y="36" fill="#fadad6"/>
<rect x="18" y="36" fill="#dc4e47"/>
<rect x="19" y="36" fill="#f8ccc6"/>
<rect x="0" y="37" fill="#f8f6fc"/>
<rect x="1" y="37" fill="#f7f6fb"/>
<rect x="2" y="37" fill="#fdfdfe"/>
<rect x="3" y="37" fill="#f6f4fb"/>
<rect x="4" y="37" fill="#f9d3ce"/>
<rect x="5" y="37" fill="#c8bce5"/>
<rect x="6" y="37" fill="#e2dcf1"/>
<rect x="7" y="37" fill="#c6bbe4"/>
<rect x="8" y="37" fill="#fcedeb"/>
<rect x="9" y="37" fill="#ded7ef"/>
<rect x="10" y="37" fill="#dad2ed"/>
<rect x="11" y="37" fill="#e5dff3"/>
<rect x="12" y="37" fill="#fce9e6"/>
<rect x="13" y="37" fill="#dad2ed"/>
<rect x="14" y="37" fill="#e3def2"/>
<rect x="15" y="37" fill="#e0d9f0"/>
<rect x="16" y="37" fill="#9785cc"/>
<rect x="17" y="37" fill="#fadbd8"/>
<rect x="18" y="37" fill="#dc4d46"/>
<rect x="19" y="37" fill="#fbe0dd"/>
<rect x="0" y="38" fill="#e4def2"/>
<rect x="1" y="38" fill="#fcfcfe"/>
<rect x="2" y="38" fill="#eae5f5"/>
<rect x="3" y="38" fill="#ebe7f6"/>
<rect x="4" y="38" fill="#fbe6e4"/>
<rect x="5" y="38" fill="#c8bde5"/>
<rect x="6" y="38" fill="#ede9f6"/>
<rect x="7" y="38" fill="#d5cdeb"/>
<rect x="8" y="38" fill="#fdf4f3"/>
<rect x="9" y="38" fill="#eae6f5"/>
<rect x="10" y="38" fill="#f3f1f9"/>
<rect x="11" y="38" fill="#ded8f0"/>
<rect x="12" y="38" fill="#fdf2f1"/>
<rect x="13" y="38" fill="#f2eff9"/>
<rect x="14" y="38" fill="#f0edf8"/>
<rect x="15" y="38" fill="#cec3e8"/>
<rect x="16" y="38" fill="#d5cceb"/>
<rect x="17" y="38" fill="#f5bbb3"/>
<rect x="18" y="38" fill="#e57068"/>
<rect x="19" y="38" fill="#faddda"/>
<rect x="0" y="39" fill="#fdfcfe"/>
<rect x="1" y="39" fill="#fcfcfe"/>
<rect x="2" y="39" fill="#f2eff9"/>
<rect x="3" y="39" fill="#e0daf0"/>
<rect x="4" y="39" fill="#fce7e4"/>
<rect x="5" y="39" fill="#dbd4ee"/>
<rect x="6" y="39" fill="#d5cdeb"/>
<rect x="7" y="39" fill="#ccc1e7"/>
<rect x="8" y="39" fill="#fdf3f1"/>
<rect x="9" y="39" fill="#ccc1e7"/>
<rect x="10" y="39" fill="#e4def2"/>
<rect x="11" y="39" fill="#d4cbeb"/>
<rect x="12" y="39" fill="#fef6f5"/>
<rect x="13" y="39" fill="#e1dbf1"/>
<rect x="14" y="39" fill="#e5dff3"/>
<rect x="15" y="39" fill="#d1c8e9"/>
<rect x="16" y="39" fill="#cabfe6"/>
<rect x="17" y="39" fill="#f9d7d2"/>
<rect x="18" y="39" fill="#e05d55"/>
<rect x="19" y="39" fill="#f8d2cd"/>
<rect x="0" y="40" fill="#fbe4e1"/>
<rect x="1" y="40" fill="#efecf7"/>
<rect x="2" y="40" fill="#faf9fd"/>
<rect x="3" y="40" fill="#cec4e8"/>
<rect x="4" y="40" fill="#f7c6bf"/>
<rect x="5" y="40" fill="#d2c9ea"/>
<rect x="6" y="40" fill="#e1daf1"/>
<rect x="7" y="40" fill="#e4def2"/>
<rect x="8" y="40" fill="#fffefe"/>
<rect x="9" y="40" fill="#e7e2f4"/>
<rect x="10" y="40" fill="#e7e2f4"/>
<rect x="11" y="40" fill="#c3b7e3"/>
<rect x="12" y="40" fill="#fdf3f2"/>
<rect x="13" y="40" fill="#fbfafd"/>
<rect x="14" y="40" fill="#d9d1ed"/>
<rect x="15" y="40" fill="#eae6f5"/>
<rect x="16" y="40" fill="#d0c7e9"/>
<rect x="17" y="40" fill="#f8cbc6"/>
<rect x="18" y="40" fill="#da433d"/>
<rect x="19" y="40" fill="#f6bdb6"/>
<rect x="0" y="41" fill="#fdf0ee"/>
<rect x="1" y="41" fill="#e1dbf1"/>
<rect x="2" y="41" fill="#fffdfc"/>
<rect x="3" y="41" fill="#d1c7e9"/>
<rect x="4" y="41" fill="#fbe1de"/>
<rect x="5" y="41" fill="#e4def2"/>
<rect x="6" y="41" fill="#dfd9f0"/>
<rect x="7" y="41" fill="#d9d1ed"/>
<rect x="8" y="41" fill="#f1eef8"/>
<rect x="9" y="41" fill="#d5cceb"/>
<rect x="10" y="41" fill="#dfd8f0"/>
<rect x="11" y="41" fill="#d5cdeb"/>
<rect x="12" y="41" fill="#fffdfd"/>
<rect x="13" y="41" fill="#f0edf8"/>
<rect x="14" y="41" fill="#e0daf0"/>
<rect x="15" y="41" fill="#f1eef8"/>
<rect x="16" y="41" fill="#beb0e0"/>
<rect x="17" y="41" fill="#fbe3e0"/>
<rect x="18" y="41" fill="#d9413a"/>
<rect x="19" y="41" fill="#f9d3cf"/>
<rect x="0" y="42" fill="#f4f1fa"/>
<rect x="1" y="42" fill="#ddd6ef"/>
<rect x="2" y="42" fill="#fefbfb"/>
<rect x="3" y="42" fill="#e1dbf1"/>
<rect x="4" y="42" fill="#fffefe"/>
<rect x="5" y="42" fill="#d9d1ed"/>
<rect x="6" y="42" fill="#dbd3ee"/>
<rect x="7" y="42" fill="#c7bbe5"/>
<rect x="8" y="42" fill="#fef9f9"/>
<rect x="9" y="42" fill="#d3caea"/>
<rect x="10" y="42" fill="#d3caea"/>
<rect x="11" y="42" fill="#dbd4ee"/>
<rect x="12" y="42" fill="#fef5f4"/>
<rect x="13" y="42" fill="#dad2ed"/>
<rect x="14" y="42" fill="#eae5f5"/>
<rect x="15" y="42" fill="#d4cbeb"/>
<rect x="16" y="42" fill="#dbd3ee"/>
<rect x="17" y="42" fill="#fcedeb"/>
<rect x="18" y="42" fill="#d83a34"/>
<rect x="19" y="42" fill="#fce8e6"/>
<rect x="0" y="43" fill="#fbe4e1"/>
<rect x="1" y="43" fill="#c5b9e4"/>
<rect x="2" y="43" fill="#fefeff"/>
<rect x="3" y="43" fill="#f5f3fa"/>
<rect x="4" y="43" fill="#fdf1ef"/>
<rect x="5" y="43" fill="#cec4e8"/>
<rect x="6" y="43" fill="#fefeff"/>
<rect x="7" y="43" fill="#d8d0ed"/>
<rect x="8" y="43" fill="#f6f4fb"/>
<rect x="9" y="43" fill="#ece8f6"/>
<rect x="10" y="43" fill="#c5b9e3"/>
<rect x="11" y="43" fill="#ede9f6"/>
<rect x="12" y="43" fill="#fbfafd"/>
<rect x="13" y="43" fill="#e5e0f3"/>
<rect x="14" y="43" fill="#fefafa"/>
<rect x="15" y="43" fill="#ded8f0"/>
<rect x="16" y="43" fill="#beb0e0"/>
<rect x="17" y="43" fill="#fef8f8"/>
<rect x="18" y="43" fill="#d6342e"/>
<rect x="19" y="43" fill="#f9d3ce"/>
<rect x="0" y="44" fill="#fef6f5"/>
<rect x="1" y="44" fill="#d6cdeb"/>
<rect x="2" y="44" fill="#fdfcfe"/>
<rect x="3" y="44" fill="#c8bde5"/>
<rect x="4" y="44" fill="#fffdfd"/>
<rect x="5" y="44" fill="#d1c7e9"/>
<rect x="6" y="44" fill="#ebe7f6"/>
<rect x="7" y="44" fill="#dcd5ef"/>
<rect x="8" y="44" fill="#d5cceb"/>
<rect x="9" y="44" fill="#dfd8f0"/>
<rect x="10" y="44" fill="#cec4e8"/>
<rect x="11" y="44" fill="#f9f8fc"/>
<rect x="12" y="44" fill="#e1dbf1"/>
<rect x="13" y="44" fill="#d5cceb"/>
<rect x="14" y="44" fill="#efecf7"/>
<rect x="15" y="44" fill="#dfd9f0"/>
<rect x="16" y="44" fill="#af9fd9"/>
<rect x="17" y="44" fill="#fbe4e1"/>
<rect x="18" y="44" fill="#e05b54"/>
<rect x="19" y="44" fill="#fbe0dc"/>
<rect x="0" y="45" fill="#f9f8fc"/>
<rect x="1" y="45" fill="#cfc5e8"/>
<rect x="2" y="45" fill="#dfd8f0"/>
<rect x="3" y="45" fill="#e6e1f3"/>
<rect x="4" y="45" fill="#fef7f6"/>
<rect x="5" y="45" fill="#c0b3e1"/>
<rect x="6" y="45" fill="#ded7ef"/>
<rect x="7" y="45" fill="#e2dcf1"/>
<rect x="8" y="45" fill="#ddd6ef"/>
<rect x="9" y="45" fill="#d8d0ed"/>
<rect x="10" y="45" fill="#d6cdeb"/>
<rect x="11" y="45" fill="#e5e0f3"/>
<rect x="12" y="45" fill="#e1daf1"/>
<rect x="13" y="45" fill="#b7a8dd"/>
<rect x="14" y="45" fill="#f9f8fc"/>
<rect x="15" y="45" fill="#dad3ee"/>
<rect x="16" y="45" fill="#b2a2db"/>
<rect x="17" y="45" fill="#fcedeb"/>
<rect x="18" y="45" fill="#df5a53"/>
<rect x="19" y="45" fill="#fcedeb"/>
<rect x="0" y="46" fill="#e5dff3"/>
<rect x="1" y="46" fill="#cdc2e7"/>
<rect x="2" y="46" fill="#e6e1f3"/>
<rect x="3" y="46" fill="#cbc1e7"/>
<rect x="4" y="46" fill="#fffcfc"/>
<rect x="5" y="46" fill="#b1a1da"/>
<rect x="6" y="46" fill="#ded7ef"/>
<rect x="7" y="46" fill="#c8bde5"/>
<rect x="8" y="46" fill="#efecf7"/>
<rect x="9" y="46" fill="#ece8f6"/>
<rect x="10" y="46" fill="#d7cfec"/>
<rect x="11" y="46" fill="#cabfe6"/>
<rect x="12" y="46" fill="#e5e0f3"/>
<rect x="13" y="46" fill="#ccc2e7"/>
<rect x="14" y="46" fill="#d0c6e9"/>
<rect x="15" y="46" fill="#c6bbe4"/>
<rect x="16" y="46" fill="#b8a9dd"/>
<rect x="17" y="46" fill="#f4b0a7"/>
<rect x="18" y="46" fill="#ee938a"/>
<rect x="19" y="46" fill="#fffefd"/>
<rect x="0" y="47" fill="#fefbfa"/>
<rect x="1" y="47" fill="#ede9f6"/>
<rect x="2" y="47" fill="#fefeff"/>
<rect x="3" y="47" fill="#e0d9f0"/>
<rect x="4" y="47" fill="#fefafa"/>
<rect x="5" y="47" fill="#c8bde5"/>
<rect x="6" y="47" fill="#e2dcf1"/>
<rect x="7" y="47" fill="#c3b6e3"/>
<rect x="8" y="47" fill="#fefefe"/>
<rect x="9" y="47" fill="#f2f0f9"/>
<rect x="10" y="47" fill="#d8d0ec"/>
<rect x="11" y="47" fill="#d8cfec"/>
<rect x="12" y="47" fill="#fefefe"/>
<rect x="13" y="47" fill="#e2dcf1"/>
<rect x="14" y="47" fill="#fefbfb"/>
<rect x="15" y="47" fill="#b2a2db"/>
<rect x="16" y="47" fill="#c6bae4"/>
<rect x="17" y="47" fill="#ee938a"/>
<rect x="18" y="47" fill="#ea877e"/>
<rect x="19" y="47" fill="#f9d8d4"/>
<rect x="0" y="48" fill="#e8e3f4"/>
<rect x="1" y="48" fill="#dcd5ee"/>
<rect x="2" y="48" fill="#ebe7f5"/>
<rect x="3" y="48" fill="#d3caea"/>
<rect x="4" y="48" fill="#cbc0e6"/>
<rect x="5" y="48" fill="#c5b9e4"/>
<rect x="6" y="48" fill="#cec4e8"/>
<rect x="7" y="48" fill="#bbaddf"/>
<rect x="8" y="48" fill="#e3ddf2"/>
<rect x="9" y="48" fill="#e0daf0"/>
<rect x="10" y="48" fill="#c1b4e2"/>
<rect x="11" y="48" fill="#c3b7e3"/>
<rect x="12" y="48" fill="#ddd6ef"/>
<rect x="13" y="48" fill="#b0a0da"/>
<rect x="14" y="48" fill="#ded7f0"/>
<rect x="15" y="48" fill="#b2a2db"/>
<rect x="16" y="48" fill="#bbaddf"/>
<rect x="17" y="48" fill="#f09b91"/>
<rect x="18" y="48" fill="#f4b6ae"/>
<rect x="19" y="48" fill="#faf9fd"/>
<rect x="0" y="49" fill="#fefafa"/>
<rect x="1" y="49" fill="#fffdfc"/>
<rect x="2" y="49" fill="#f2eff9"/>
<rect x="3" y="49" fill="#c3b6e3"/>
<rect x="4" y="49" fill="#f5f3fa"/>
<rect x="5" y="49" fill="#e6e0f3"/>
<rect x="6" y="49" fill="#e5dff3"/>
<rect x="7" y="49" fill="#dbd3ee"/>
<rect x="8" y="49" fill="#efebf7"/>
<rect x="9" y="49" fill="#ddd6ef"/>
<rect x="10" y="49" fill="#e2dcf1"/>
<rect x="11" y="49" fill="#c3b6e3"/>
<rect x="12" y="49" fill="#d4cbeb"/>
<rect x="13" y="49" fill="#c4b8e3"/>
<rect x="14" y="49" fill="#fdf4f3"/>
<rect x="15" y="49" fill="#e3ddf2"/>
<rect x="16" y="49" fill="#bbaddf"/>
<rect x="17" y="49" fill="#e87c74"/>
<rect x="18" y="49" fill="#f3aca3"/>
<rect x="19" y="49" fill="#ece8f6"/>
<rect x="0" y="50" fill="#fef5f4"/>
<rect x="1" y="50" fill="#f2eff9"/>
<rect x="2" y="50" fill="#fadeda"/>
<rect x="3" y="50" fill="#d9d1ed"/>
<rect x="4" y="50" fill="#fdf4f3"/>
<rect x="5" y="50" fill="#e9e5f5"/>
<rect x="6" y="50" fill="#e8e4f4"/>
<rect x="7" y="50" fill="#ede9f6"/>
<rect x="8" y="50" fill="#fefdfe"/>
<rect x="9" y="50" fill="#d7cfec"/>
<rect x="10" y="50" fill="#d0c7e9"/>
<rect x="11" y="50" fill="#c8bde5"/>
<rect x="12" y="50" fill="#e9e5f5"/>
<rect x="13" y="50" fill="#e5e0f3"/>
<rect x="14" y="50" fill="#fef8f8"/>
<rect x="15" y="50" fill="#f0edf8"/>
<rect x="16" y="50" fill="#d1c7e9"/>
<rect x="17" y="50" fill="#e1625a"/>
<rect x="18" y="50" fill="#f3aaa0"/>
<rect x="19" y="50" fill="#ded7ef"/>
<rect x="0" y="51" fill="#fef9f8"/>
<rect x="1" y="51" fill="#f4f2fa"/>
<rect x="2" y="51" fill="#fcecea"/>
<rect x="3" y="51" fill="#dbd4ee"/>
<rect x="4" y="51" fill="#fdeeec"/>
<rect x="5" y="51" fill="#ded7ef"/>
<rect x="6" y="51" fill="#ebe7f6"/>
<rect x="7" y="51" fill="#ebe7f6"/>
<rect x="8" y="51" fill="#fefafa"/>
<rect x="9" y="51" fill="#f3f0f9"/>
<rect x="10" y="51" fill="#d2c8ea"/>
<rect x="11" y="51" fill="#cabfe6"/>
<rect x="12" y="51" fill="#e5dff3"/>
<rect x="13" y="51" fill="#dcd4ee"/>
<rect x="14" y="51" fill="#fdf3f1"/>
<rect x="15" y="51" fill="#f9f8fc"/>
<rect x="16" y="51" fill="#cbc1e7"/>
<rect x="17" y="51" fill="#dd4f48"/>
<rect x="18" y="51" fill="#ef9990"/>
<rect x="19" y="51" fill="#f2f0f9"/>
<rect x="0" y="52" fill="#f7f6fb"/>
<rect x="1" y="52" fill="#f1eef8"/>
<rect x="2" y="52" fill="#faddd9"/>
<rect x="3" y="52" fill="#ffffff"/>
<rect x="4" y="52" fill="#fceae8"/>
<rect x="5" y="52" fill="#d9d1ed"/>
<rect x="6" y="52" fill="#eae5f5"/>
<rect x="7" y="52" fill="#e5e0f3"/>
<rect x="8" y="52" fill="#fefaf9"/>
<rect x="9" y="52" fill="#fdefed"/>
<rect x="10" y="52" fill="#ded7f0"/>
<rect x="11" y="52" fill="#dcd5ef"/>
<rect x="12" y="52" fill="#fbe4e1"/>
<rect x="13" y="52" fill="#fffefe"/>
<rect x="14" y="52" fill="#fdf4f3"/>
<rect x="15" y="52" fill="#e9e4f5"/>
<rect x="16" y="52" fill="#dbd4ee"/>
<rect x="17" y="52" fill="#d6342e"/>
<rect x="18" y="52" fill="#eb8b82"/>
<rect x="19" y="52" fill="#fdefed"/>
<rect x="0" y="53" fill="#fffefe"/>
<rect x="1" y="53" fill="#ece8f6"/>
<rect x="2" y="53" fill="#fbe1de"/>
<rect x="3" y="53" fill="#fefafa"/>
<rect x="4" y="53" fill="#f5f3fa"/>
<rect x="5" y="53" fill="#d8d0ed"/>
<rect x="6" y="53" fill="#e7e2f4"/>
<rect x="7" y="53" fill="#dad2ee"/>
<rect x="8" y="53" fill="#fffcfc"/>
<rect x="9" y="53" fill="#fef7f6"/>
<rect x="10" y="53" fill="#fefeff"/>
<rect x="11" y="53" fill="#e3ddf2"/>
<rect x="12" y="53" fill="#fdf1f0"/>
<rect x="13" y="53" fill="#dfd9f0"/>
<rect x="14" y="53" fill="#fce9e6"/>
<rect x="15" y="53" fill="#e1dbf1"/>
<rect x="16" y="53" fill="#d2c9ea"/>
<rect x="17" y="53" fill="#dc4e47"/>
<rect x="18" y="53" fill="#f09e94"/>
<rect x="19" y="53" fill="#f0edf8"/>
<rect x="0" y="54" fill="#fefbfa"/>
<rect x="1" y="54" fill="#ece9f6"/>
<rect x="2" y="54" fill="#fbe5e2"/>
<rect x="3" y="54" fill="#e7e2f4"/>
<rect x="4" y="54" fill="#fdeeed"/>
<rect x="5" y="54" fill="#cfc5e8"/>
<rect x="6" y="54" fill="#c9bee6"/>
<rect x="7" y="54" fill="#dad2ee"/>
<rect x="8" y="54" fill="#faf9fd"/>
<rect x="9" y="54" fill="#eae6f5"/>
<rect x="10" y="54" fill="#ece8f6"/>
<rect x="11" y="54" fill="#e1dbf1"/>
<rect x="12" y="54" fill="#f1eff9"/>
<rect x="13" y="54" fill="#e5dff3"/>
<rect x="14" y="54" fill="#fcebe9"/>
<rect x="15" y="54" fill="#e6e0f3"/>
<rect x="16" y="54" fill="#ccc1e7"/>
<rect x="17" y="54" fill="#dc4b44"/>
<rect x="18" y="54" fill="#f2a79e"/>
<rect x="19" y="54" fill="#f1eef8"/>
<rect x="0" y="55" fill="#fefbfb"/>
<rect x="1" y="55" fill="#d1c7e9"/>
<rect x="2" y="55" fill="#fbe5e2"/>
<rect x="3" y="55" fill="#e0d9f0"/>
<rect x="4" y="55" fill="#fce7e4"/>
<rect x="5" y="55" fill="#d1c8ea"/>
<rect x="6" y="55" fill="#ddd6ef"/>
<rect x="7" y="55" fill="#fffdfd"/>
<rect x="8" y="55" fill="#f8f7fc"/>
<rect x="9" y="55" fill="#e2dbf1"/>
<rect x="10" y="55" fill="#dbd3ee"/>
<rect x="11" y="55" fill="#c1b4e2"/>
<rect x="12" y="55" fill="#e2dcf1"/>
<rect x="13" y="55" fill="#f4f2fa"/>
<rect x="14" y="55" fill="#faf9fd"/>
<rect x="15" y="55" fill="#cabfe6"/>
<rect x="16" y="55" fill="#bdafe0"/>
<rect x="17" y="55" fill="#d73932"/>
<rect x="18" y="55" fill="#f3aea5"/>
<rect x="19" y="55" fill="#f3f0f9"/>
<rect x="0" y="56" fill="#fceae8"/>
<rect x="1" y="56" fill="#fdfdfe"/>
<rect x="2" y="56" fill="#fadad5"/>
<rect x="3" y="56" fill="#e7e2f4"/>
<rect x="4" y="56" fill="#fdeeed"/>
<rect x="5" y="56" fill="#f1eef8"/>
<rect x="6" y="56" fill="#f4f2fa"/>
<rect x="7" y="56" fill="#ece8f6"/>
<rect x="8" y="56" fill="#fdf4f3"/>
<rect x="9" y="56" fill="#eeeaf7"/>
<rect x="10" y="56" fill="#e4def2"/>
<rect x="11" y="56" fill="#c9bee6"/>
<rect x="12" y="56" fill="#dfd8f0"/>
<rect x="13" y="56" fill="#ebe6f5"/>
<rect x="14" y="56" fill="#dfd9f0"/>
<rect x="15" y="56" fill="#e5e0f3"/>
<rect x="16" y="56" fill="#cec4e8"/>
<rect x="17" y="56" fill="#df564f"/>
<rect x="18" y="56" fill="#ed9288"/>
<rect x="19" y="56" fill="#fffcfc"/>
<rect x="0" y="57" fill="#fdf1f0"/>
<rect x="1" y="57" fill="#ede9f7"/>
<rect x="2" y="57" fill="#fadbd7"/>
<rect x="3" y="57" fill="#c3b6e3"/>
<rect x="4" y="57" fill="#fcfbfe"/>
<rect x="5" y="57" fill="#d7cfec"/>
<rect x="6" y="57" fill="#d9d1ed"/>
<rect x="7" y="57" fill="#d5cceb"/>
<rect x="8" y="57" fill="#fef9f9"/>
<rect x="9" y="57" fill="#c6bae4"/>
<rect x="10" y="57" fill="#c1b4e2"/>
<rect x="11" y="57" fill="#ac9ad8"/>
<rect x="12" y="57" fill="#d3caea"/>
<rect x="13" y="57" fill="#d1c7e9"/>
<rect x="14" y="57" fill="#d9d1ed"/>
<rect x="15" y="57" fill="#cfc6e9"/>
<rect x="16" y="57" fill="#baacdf"/>
<rect x="17" y="57" fill="#e6756d"/>
<rect x="18" y="57" fill="#f5bab3"/>
<rect x="19" y="57" fill="#f5f2fa"/>
<rect x="0" y="58" fill="#fdf4f3"/>
<rect x="1" y="58" fill="#eeebf7"/>
<rect x="2" y="58" fill="#f7c9c3"/>
<rect x="3" y="58" fill="#d4cbeb"/>
<rect x="4" y="58" fill="#fdf0ee"/>
<rect x="5" y="58" fill="#eeeaf7"/>
<rect x="6" y="58" fill="#dfd8f0"/>
<rect x="7" y="58" fill="#ece8f6"/>
<rect x="8" y="58" fill="#fdfcfe"/>
<rect x="9" y="58" fill="#efecf8"/>
<rect x="10" y="58" fill="#ded7f0"/>
<rect x="11" y="58" fill="#b4a5dc"/>
<rect x="12" y="58" fill="#f8f7fc"/>
<rect x="13" y="58" fill="#dad2ed"/>
<rect x="14" y="58" fill="#fcfbfe"/>
<rect x="15" y="58" fill="#d1c8e9"/>
<rect x="16" y="58" fill="#c7bce5"/>
<rect x="17" y="58" fill="#dd514a"/>
<rect x="18" y="58" fill="#f4b0a7"/>
<rect x="19" y="58" fill="#fefdfe"/>
<rect x="0" y="59" fill="#fef9f9"/>
<rect x="1" y="59" fill="#e7e3f4"/>
<rect x="2" y="59" fill="#fbe1de"/>
<rect x="3" y="59" fill="#b1a1da"/>
<rect x="4" y="59" fill="#fcedeb"/>
<rect x="5" y="59" fill="#ddd6ef"/>
<rect x="6" y="59" fill="#c0b3e1"/>
<rect x="7" y="59" fill="#e0daf1"/>
<rect x="8" y="59" fill="#fefbfa"/>
<rect x="9" y="59" fill="#f7f5fb"/>
<rect x="10" y="59" fill="#cdc3e8"/>
<rect x="11" y="59" fill="#d8d0ed"/>
<rect x="12" y="59" fill="#f1eef8"/>
<rect x="13" y="59" fill="#fffefe"/>
<rect x="14" y="59" fill="#ebe7f6"/>
<rect x="15" y="59" fill="#d9d1ed"/>
<rect x="16" y="59" fill="#beb1e1"/>
<rect x="17" y="59" fill="#e36a62"/>
<rect x="18" y="59" fill="#f1a399"/>
<rect x="19" y="59" fill="#ffffff"/>
<rect x="0" y="60" fill="#fbe5e2"/>
<rect x="1" y="60" fill="#f0ecf8"/>
<rect x="2" y="60" fill="#fdf4f2"/>
<rect x="3" y="60" fill="#d2c9ea"/>
<rect x="4" y="60" fill="#fdf2f0"/>
<rect x="5" y="60" fill="#dcd5ef"/>
<rect x="6" y="60" fill="#e7e2f3"/>
<rect x="7" y="60" fill="#f2eff9"/>
<rect x="8" y="60" fill="#fdefed"/>
<rect x="9" y="60" fill="#fffdfd"/>
<rect x="10" y="60" fill="#e6e1f3"/>
<rect x="11" y="60" fill="#e8e4f4"/>
<rect x="12" y="60" fill="#fdf0ee"/>
<rect x="13" y="60" fill="#fceeec"/>
<rect x="14" y="60" fill="#f0edf8"/>
<rect x="15" y="60" fill="#d1c7e9"/>
<rect x="16" y="60" fill="#e7e2f3"/>
<rect x="17" y="60" fill="#db4640"/>
<rect x="18" y="60" fill="#e98279"/>
<rect x="19" y="60" fill="#efebf7"/>
<rect x="0" y="61" fill="#fefaf9"/>
<rect x="1" y="61" fill="#d6cdec"/>
<rect x="2" y="61" fill="#fffdfd"/>
<rect x="3" y="61" fill="#e3def2"/>
<rect x="4" y="61" fill="#fcedeb"/>
<rect x="5" y="61" fill="#ede9f6"/>
<rect x="6" y="61" fill="#d2c9ea"/>
<rect x="7" y="61" fill="#d0c6e9"/>
<rect x="8" y="61" fill="#fdefee"/>
<rect x="9" y="61" fill="#ffffff"/>
<rect x="10" y="61" fill="#e5dff3"/>
<rect x="11" y="61" fill="#cabee6"/>
<rect x="12" y="61" fill="#fdf4f3"/>
<rect x="13" y="61" fill="#fefafa"/>
<rect x="14" y="61" fill="#f2eff9"/>
<rect x="15" y="61" fill="#cabfe6"/>
<rect x="16" y="61" fill="#d8d0ed"/>
<rect x="17" y="61" fill="#d9403a"/>
<rect x="18" y="61" fill="#f2a89e"/>
<rect x="19" y="61" fill="#d3caea"/>
<rect x="0" y="62" fill="#fef6f5"/>
<rect x="1" y="62" fill="#e5dff3"/>
<rect x="2" y="62" fill="#fbe6e4"/>
<rect x="3" y="62" fill="#dfd8f0"/>
<rect x="4" y="62" fill="#fef5f4"/>
<rect x="5" y="62" fill="#dfd9f0"/>
<rect x="6" y="62" fill="#e4def2"/>
<rect x="7" y="62" fill="#f1eef8"/>
<rect x="8" y="62" fill="#fef5f4"/>
<rect x="9" y="62" fill="#fceae7"/>
<rect x="10" y="62" fill="#fdfcfe"/>
<rect x="11" y="62" fill="#dfd8f0"/>
<rect x="12" y="62" fill="#fdf2f1"/>
<rect x="13" y="62" fill="#fcece9"/>
<rect x="14" y="62" fill="#efebf7"/>
<rect x="15" y="62" fill="#d3c9ea"/>
<rect x="16" y="62" fill="#c4b8e3"/>
<rect x="17" y="62" fill="#d83b35"/>
<rect x="18" y="62" fill="#ed8f86"/>
<rect x="19" y="62" fill="#efebf7"/>
<rect x="0" y="63" fill="#fffefe"/>
<rect x="1" y="63" fill="#eeebf7"/>
<rect x="2" y="63" fill="#fffdfd"/>
<rect x="3" y="63" fill="#f4f2fa"/>
<rect x="4" y="63" fill="#fffcfc"/>
<rect x="5" y="63" fill="#cfc5e8"/>
<rect x="6" y="63" fill="#dad2ed"/>
<rect x="7" y="63" fill="#dfd8f0"/>
<rect x="8" y="63" fill="#fbe6e3"/>
<rect x="9" y="63" fill="#fcedec"/>
<rect x="10" y="63" fill="#e0daf0"/>
<rect x="11" y="63" fill="#ebe7f6"/>
<rect x="12" y="63" fill="#fcecea"/>
<rect x="13" y="63" fill="#f8f7fc"/>
<rect x="14" y="63" fill="#dcd4ee"/>
<rect x="15" y="63" fill="#cec4e8"/>
<rect x="16" y="63" fill="#c2b5e2"/>
<rect x="17" y="63" fill="#d83a34"/>
<rect x="18" y="63" fill="#f1a197"/>
<rect x="19" y="63" fill="#d8d0ec"/>
<rect x="0" y="64" fill="#e9e4f4"/>
<rect x="1" y="64" fill="#fbfbfd"/>
<rect x="2" y="64" fill="#f9f7fc"/>
<rect x="3" y="64" fill="#e4def2"/>
<rect x="4" y="64" fill="#f6f5fb"/>
<rect x="5" y="64" fill="#cec4e8"/>
<rect x="6" y="64" fill="#f0edf8"/>
<rect x="7" y="64" fill="#ece8f6"/>
<rect x="8" y="64" fill="#fbe5e2"/>
<rect x="9" y="64" fill="#fffcfb"/>
<rect x="10" y="64" fill="#cfc5e8"/>
<rect x="11" y="64" fill="#dbd3ee"/>
<rect x="12" y="64" fill="#fefeff"/>
<rect x="13" y="64" fill="#e5e0f3"/>
<rect x="14" y="64" fill="#edeaf7"/>
<rect x="15" y="64" fill="#cbc0e6"/>
<rect x="16" y="64" fill="#beb1e1"/>
<rect x="17" y="64" fill="#de554e"/>
<rect x="18" y="64" fill="#f6c3bc"/>
<rect x="19" y="64" fill="#f0edf8"/>
<rect x="0" y="65" fill="#fef6f6"/>
<rect x="1" y="65" fill="#f5f2fa"/>
<rect x="2" y="65" fill="#eeeaf7"/>
<rect x="3" y="65" fill="#f6f5fb"/>
<rect x="4" y="65" fill="#fbe1de"/>
<rect x="5" y="65" fill="#e0d9f0"/>
<rect x="6" y="65" fill="#e9e4f5"/>
<rect x="7" y="65" fill="#fefdfe"/>
<rect x="8" y="65" fill="#f5bcb4"/>
<rect x="9" y="65" fill="#ede9f6"/>
<rect x="10" y="65" fill="#e3ddf2"/>
<rect x="11" y="65" fill="#e1dbf1"/>
<rect x="12" y="65" fill="#fdf2f1"/>
<rect x="13" y="65" fill="#ebe7f6"/>
<rect x="14" y="65" fill="#e1daf1"/>
<rect x="15" y="65" fill="#d1c8e9"/>
<rect x="16" y="65" fill="#d5cceb"/>
<rect x="17" y="65" fill="#de554e"/>
<rect x="18" y="65" fill="#f8cfca"/>
<rect x="19" y="65" fill="#fdf2f0"/>
<rect x="0" y="66" fill="#fadedb"/>
<rect x="1" y="66" fill="#e4def2"/>
<rect x="2" y="66" fill="#fce9e6"/>
<rect x="3" y="66" fill="#fcedeb"/>
<rect x="4" y="66" fill="#f8cdc7"/>
<rect x="5" y="66" fill="#d8cfec"/>
<rect x="6" y="66" fill="#d4cbeb"/>
<rect x="7" y="66" fill="#e6e1f3"/>
<rect x="8" y="66" fill="#f4b4ac"/>
<rect x="9" y="66" fill="#efecf7"/>
<rect x="10" y="66" fill="#d6ceec"/>
<rect x="11" y="66" fill="#bdb0e0"/>
<rect x="12" y="66" fill="#f9d4cf"/>
<rect x="13" y="66" fill="#e4dff2"/>
<rect x="14" y="66" fill="#efecf7"/>
<rect x="15" y="66" fill="#d0c7e9"/>
<rect x="16" y="66" fill="#e5e0f3"/>
<rect x="17" y="66" fill="#d73832"/>
<rect x="18" y="66" fill="#f7c6c0"/>
<rect x="19" y="66" fill="#fffcfb"/>
<rect x="0" y="67" fill="#fbe4e0"/>
<rect x="1" y="67" fill="#fffcfc"/>
<rect x="2" y="67" fill="#f7c8c1"/>
<rect x="3" y="67" fill="#fadfdc"/>
<rect x="4" y="67" fill="#f8ccc7"/>
<rect x="5" y="67" fill="#d1c8e9"/>
<rect x="6" y="67" fill="#c2b5e2"/>
<rect x="7" y="67" fill="#eeeaf7"/>
<rect x="8" y="67" fill="#f3aca3"/>
<rect x="9" y="67" fill="#fcebe9"/>
<rect x="10" y="67" fill="#d0c6e9"/>
<rect x="11" y="67" fill="#ddd6ef"/>
<rect x="12" y="67" fill="#f5b9b1"/>
<rect x="13" y="67" fill="#ddd6ef"/>
<rect x="14" y="67" fill="#eeeaf7"/>
<rect x="15" y="67" fill="#dbd4ee"/>
<rect x="16" y="67" fill="#dcd4ee"/>
<rect x="17" y="67" fill="#d6342e"/>
<rect x="18" y="67" fill="#f2a89e"/>
<rect x="19" y="67" fill="#faf9fd"/>
<rect x="0" y="68" fill="#fdf4f2"/>
<rect x="1" y="68" fill="#f6f4fb"/>
<rect x="2" y="68" fill="#f8cec9"/>
<rect x="3" y="68" fill="#fefeff"/>
<rect x="4" y="68" fill="#fadcd8"/>
<rect x="5" y="68" fill="#ebe7f6"/>
<rect x="6" y="68" fill="#c0b2e1"/>
<rect x="7" y="68" fill="#e0d9f0"/>
<rect x="8" y="68" fill="#f4b0a7"/>
<rect x="9" y="68" fill="#ede9f6"/>
<rect x="10" y="68" fill="#dcd5ef"/>
<rect x="11" y="68" fill="#bdafe0"/>
<rect x="12" y="68" fill="#f5bbb4"/>
<rect x="13" y="68" fill="#ded7f0"/>
<rect x="14" y="68" fill="#e2dcf1"/>
<rect x="15" y="68" fill="#ebe7f6"/>
<rect x="16" y="68" fill="#c6bbe4"/>
<rect x="17" y="68" fill="#d6342e"/>
<rect x="18" y="68" fill="#f2a399"/>
<rect x="19" y="68" fill="#fdf3f2"/>
<rect x="0" y="69" fill="#fdeeec"/>
<rect x="1" y="69" fill="#ffffff"/>
<rect x="2" y="69" fill="#fce9e6"/>
<rect x="3" y="69" fill="#e9e4f5"/>
<rect x="4" y="69" fill="#f8d1cc"/>
<rect x="5" y="69" fill="#d6cdec"/>
<rect x="6" y="69" fill="#ab9ad7"/>
<rect x="7" y="69" fill="#c5b9e4"/>
<rect x="8" y="69" fill="#f6c4bd"/>
<rect x="9" y="69" fill="#d9d1ed"/>
<rect x="10" y="69" fill="#c8bce5"/>
<rect x="11" y="69" fill="#ccc1e7"/>
<rect x="12" y="69" fill="#f9d8d3"/>
<rect x="13" y="69" fill="#dfd9f0"/>
<rect x="14" y="69" fill="#eeebf7"/>
<rect x="15" y="69" fill="#beb0e0"/>
<rect x="16" y="69" fill="#cabfe6"/>
<rect x="17" y="69" fill="#d6342e"/>
<rect x="18" y="69" fill="#f8cdc7"/>
<rect x="19" y="69" fill="#e1dbf1"/>
<rect x="0" y="70" fill="#e7e2f4"/>
<rect x="1" y="70" fill="#f4f2fa"/>
<rect x="2" y="70" fill="#f0edf8"/>
<rect x="3" y="70" fill="#e7e2f4"/>
<rect x="4" y="70" fill="#fadbd7"/>
<rect x="5" y="70" fill="#b3a3db"/>
<rect x="6" y="70" fill="#a18fd2"/>
<rect x="7" y="70" fill="#a795d5"/>
<rect x="8" y="70" fill="#f7c8c2"/>
<rect x="9" y="70" fill="#c0b3e1"/>
<rect x="10" y="70" fill="#b8a9dd"/>
<rect x="11" y="70" fill="#baacdf"/>
<rect x="12" y="70" fill="#f9d8d4"/>
<rect x="13" y="70" fill="#d4cbeb"/>
<rect x="14" y="70" fill="#e0d9f0"/>
<rect x="15" y="70" fill="#af9fd9"/>
<rect x="16" y="70" fill="#beb1e0"/>
<rect x="17" y="70" fill="#e05c54"/>
<rect x="18" y="70" fill="#f8cbc6"/>
<rect x="19" y="70" fill="#c2b5e2"/>
<rect x="0" y="71" fill="#fdefee"/>
<rect x="1" y="71" fill="#efecf8"/>
<rect x="2" y="71" fill="#edeaf7"/>
<rect x="3" y="71" fill="#e8e4f4"/>
<rect x="4" y="71" fill="#fffefe"/>
<rect x="5" y="71" fill="#a795d5"/>
<rect x="6" y="71" fill="#9b89cf"/>
<rect x="7" y="71" fill="#c3b7e3"/>
<rect x="8" y="71" fill="#f7cbc5"/>
<rect x="9" y="71" fill="#c3b7e3"/>
<rect x="10" y="71" fill="#ac9bd8"/>
<rect x="11" y="71" fill="#a896d6"/>
<rect x="12" y="71" fill="#f7c8c2"/>
<rect x="13" y="71" fill="#dcd4ee"/>
<rect x="14" y="71" fill="#d0c7e9"/>
<rect x="15" y="71" fill="#9381ca"/>
<rect x="16" y="71" fill="#a997d6"/>
<rect x="17" y="71" fill="#d6342e"/>
<rect x="18" y="71" fill="#f9d7d2"/>
<rect x="19" y="71" fill="#d3caea"/>
<rect x="0" y="72" fill="#fdf4f3"/>
<rect x="1" y="72" fill="#efebf7"/>
<rect x="2" y="72" fill="#f1eef8"/>
<rect x="3" y="72" fill="#ddd6ef"/>
<rect x="4" y="72" fill="#fbe0dd"/>
<rect x="5" y="72" fill="#b5a6dc"/>
<rect x="6" y="72" fill="#b9aade"/>
<rect x="7" y="72" fill="#b5a5dc"/>
<rect x="8" y="72" fill="#f8cfc9"/>
<rect x="9" y="72" fill="#d0c6e9"/>
<rect x="10" y="72" fill="#c9bee6"/>
<rect x="11" y="72" fill="#a492d4"/>
<rect x="12" y="72" fill="#f7c5be"/>
<rect x="13" y="72" fill="#e8e3f4"/>
<rect x="14" y="72" fill="#d3caea"/>
<rect x="15" y="72" fill="#b8a9de"/>
<rect x="16" y="72" fill="#ad9bd8"/>
<rect x="17" y="72" fill="#dc4b44"/>
<rect x="18" y="72" fill="#f7c5bf"/>
<rect x="19" y="72" fill="#bcaedf"/>
<rect x="0" y="73" fill="#f8f7fc"/>
<rect x="1" y="73" fill="#dbd3ee"/>
<rect x="2" y="73" fill="#fdfcfe"/>
<rect x="3" y="73" fill="#eeebf7"/>
<rect x="4" y="73" fill="#fdf4f3"/>
<rect x="5" y="73" fill="#d5cceb"/>
<rect x="6" y="73" fill="#a593d4"/>
<rect x="7" y="73" fill="#b0a0da"/>
<rect x="8" y="73" fill="#f5b9b2"/>
<rect x="9" y="73" fill="#d5cceb"/>
<rect x="10" y="73" fill="#d2c8ea"/>
<rect x="11" y="73" fill="#a492d4"/>
<rect x="12" y="73" fill="#f6c3bd"/>
<rect x="13" y="73" fill="#e8e4f4"/>
<rect x="14" y="73" fill="#e4dff3"/>
<rect x="15" y="73" fill="#bdb0e0"/>
<rect x="16" y="73" fill="#c9bde5"/>
<rect x="17" y="73" fill="#df5a53"/>
<rect x="18" y="73" fill="#f8cec8"/>
<rect x="19" y="73" fill="#c0b3e1"/>
<rect x="0" y="74" fill="#fffefe"/>
<rect x="1" y="74" fill="#e3def2"/>
<rect x="2" y="74" fill="#fef7f6"/>
<rect x="3" y="74" fill="#f1eef8"/>
<rect x="4" y="74" fill="#fffefe"/>
<rect x="5" y="74" fill="#d9d1ed"/>
<rect x="6" y="74" fill="#b0a0da"/>
<rect x="7" y="74" fill="#c5b9e4"/>
<rect x="8" y="74" fill="#f7c8c2"/>
<rect x="9" y="74" fill="#ddd6ef"/>
<rect x="10" y="74" fill="#cec4e8"/>
<rect x="11" y="74" fill="#beb1e0"/>
<rect x="12" y="74" fill="#f6bfb8"/>
<rect x="13" y="74" fill="#f6f4fb"/>
<rect x="14" y="74" fill="#d0c7e9"/>
<rect x="15" y="74" fill="#c4b7e3"/>
<rect x="16" y="74" fill="#c5b9e4"/>
<rect x="17" y="74" fill="#d73731"/>
<rect x="18" y="74" fill="#f8cfc9"/>
<rect x="19" y="74" fill="#d8d0ed"/>
<rect x="0" y="75" fill="#fcfbfd"/>
<rect x="1" y="75" fill="#f6f5fb"/>
<rect x="2" y="75" fill="#fef9f9"/>
<rect x="3" y="75" fill="#f8f7fc"/>
<rect x="4" y="75" fill="#ece8f6"/>
<rect x="5" y="75" fill="#b8a9de"/>
<rect x="6" y="75" fill="#c1b5e2"/>
<rect x="7" y="75" fill="#cec4e8"/>
<rect x="8" y="75" fill="#f7c7c1"/>
<rect x="9" y="75" fill="#d5cceb"/>
<rect x="10" y="75" fill="#ccc1e7"/>
<rect x="11" y="75" fill="#a998d7"/>
<rect x="12" y="75" fill="#f6c0b9"/>
<rect x="13" y="75" fill="#e2dcf1"/>
<rect x="14" y="75" fill="#e6e1f3"/>
<rect x="15" y="75" fill="#c2b5e2"/>
<rect x="16" y="75" fill="#a593d4"/>
<rect x="17" y="75" fill="#e15f57"/>
<rect x="18" y="75" fill="#f4b6ad"/>
<rect x="19" y="75" fill="#ded7ef"/>
<rect x="0" y="76" fill="#fffdfd"/>
<rect x="1" y="76" fill="#eae6f5"/>
<rect x="2" y="76" fill="#fffdfc"/>
<rect x="3" y="76" fill="#efebf7"/>
<rect x="4" y="76" fill="#f9f7fc"/>
<rect x="5" y="76" fill="#d7cfec"/>
<rect x="6" y="76" fill="#b8a9dd"/>
<rect x="7" y="76" fill="#e6e1f3"/>
<rect x="8" y="76" fill="#f4b5ad"/>
<rect x="9" y="76" fill="#e7e2f4"/>
<rect x="10" y="76" fill="#d2c9ea"/>
<rect x="11" y="76" fill="#b2a2db"/>
<rect x="12" y="76" fill="#f8cec8"/>
<rect x="13" y="76" fill="#ded7ef"/>
<rect x="14" y="76" fill="#d7cfec"/>
<rect x="15" y="76" fill="#beb0e0"/>
<rect x="16" y="76" fill="#a997d6"/>
<rect x="17" y="76" fill="#d83d36"/>
<rect x="18" y="76" fill="#f4b4ac"/>
<rect x="19" y="76" fill="#dbd4ee"/>
<rect x="0" y="77" fill="#f1eef8"/>
<rect x="1" y="77" fill="#d7cfec"/>
<rect x="2" y="77" fill="#eae6f5"/>
<rect x="3" y="77" fill="#cbc0e7"/>
<rect x="4" y="77" fill="#cfc5e8"/>
<rect x="5" y="77" fill="#cabee6"/>
<rect x="6" y="77" fill="#a391d3"/>
<rect x="7" y="77" fill="#ece9f6"/>
<rect x="8" y="77" fill="#f9d6d1"/>
<rect x="9" y="77" fill="#c7bbe4"/>
<rect x="10" y="77" fill="#ccc2e7"/>
<rect x="11" y="77" fill="#a896d6"/>
<rect x="12" y="77" fill="#fbe2df"/>
<rect x="13" y="77" fill="#cac0e6"/>
<rect x="14" y="77" fill="#c4b8e3"/>
<rect x="15" y="77" fill="#c4b8e3"/>
<rect x="16" y="77" fill="#b4a4db"/>
<rect x="17" y="77" fill="#d83e38"/>
<rect x="18" y="77" fill="#f8cec9"/>
<rect x="19" y="77" fill="#d3c9ea"/>
<rect x="0" y="78" fill="#fffcfc"/>
<rect x="1" y="78" fill="#cabfe6"/>
<rect x="2" y="78" fill="#fffdfd"/>
<rect x="3" y="78" fill="#e4def2"/>
<rect x="4" y="78" fill="#f9f7fc"/>
<rect x="5" y="78" fill="#b8a9dd"/>
<rect x="6" y="78" fill="#b5a5dc"/>
<rect x="7" y="78" fill="#cbc0e6"/>
<rect x="8" y="78" fill="#fbe5e2"/>
<rect x="9" y="78" fill="#b1a1da"/>
<rect x="10" y="78" fill="#cfc5e8"/>
<rect x="11" y="78" fill="#c2b5e2"/>
<rect x="12" y="78" fill="#fcecea"/>
<rect x="13" y="78" fill="#c6bae4"/>
<rect x="14" y="78" fill="#c9bee6"/>
<rect x="15" y="78" fill="#ded7f0"/>
<rect x="16" y="78" fill="#c2b5e2"/>
<rect x="17" y="78" fill="#e05b54"/>
<rect x="18" y="78" fill="#fbe5e3"/>
<rect x="19" y="78" fill="#cec4e8"/>
<rect x="0" y="79" fill="#f9d4cf"/>
<rect x="1" y="79" fill="#e7e2f4"/>
<rect x="2" y="79" fill="#fdf2f0"/>
<rect x="3" y="79" fill="#ece8f6"/>
<rect x="4" y="79" fill="#f0edf8"/>
<rect x="5" y="79" fill="#ddd6ef"/>
<rect x="6" y="79" fill="#b1a1da"/>
<rect x="7" y="79" fill="#e8e3f4"/>
<rect x="8" y="79" fill="#fbe6e3"/>
<rect x="9" y="79" fill="#bbaddf"/>
<rect x="10" y="79" fill="#d7cfec"/>
<rect x="11" y="79" fill="#bfb2e1"/>
<rect x="12" y="79" fill="#f7c9c3"/>
<rect x="13" y="79" fill="#e2dcf1"/>
<rect x="14" y="79" fill="#d2c9ea"/>
<rect x="15" y="79" fill="#e3ddf2"/>
<rect x="16" y="79" fill="#d9d1ed"/>
<rect x="17" y="79" fill="#e36961"/>
<rect x="18" y="79" fill="#f2a89e"/>
<rect x="19" y="79" fill="#f0edf8"/>
<rect x="0" y="80" fill="#fefbfb"/>
<rect x="1" y="80" fill="#eae5f5"/>
<rect x="2" y="80" fill="#fcebe9"/>
<rect x="3" y="80" fill="#fffdfc"/>
<rect x="4" y="80" fill="#efebf7"/>
<rect x="5" y="80" fill="#d1c7e9"/>
<rect x="6" y="80" fill="#9b89ce"/>
<rect x="7" y="80" fill="#ded8f0"/>
<rect x="8" y="80" fill="#f8cdc7"/>
<rect x="9" y="80" fill="#b6a7dd"/>
<rect x="10" y="80" fill="#cbc0e6"/>
<rect x="11" y="80" fill="#cbc1e7"/>
<rect x="12" y="80" fill="#f4b2a9"/>
<rect x="13" y="80" fill="#f3f1fa"/>
<rect x="14" y="80" fill="#dfd8f0"/>
<rect x="15" y="80" fill="#c8bce5"/>
<rect x="16" y="80" fill="#c7bbe4"/>
<rect x="17" y="80" fill="#e05d56"/>
<rect x="18" y="80" fill="#f2a89f"/>
<rect x="19" y="80" fill="#f4f1fa"/>
<rect x="0" y="81" fill="#fbe6e3"/>
<rect x="1" y="81" fill="#eeebf7"/>
<rect x="2" y="81" fill="#f7c5be"/>
<rect x="3" y="81" fill="#fcecea"/>
<rect x="4" y="81" fill="#fdf1f0"/>
<rect x="5" y="81" fill="#d6cdeb"/>
<rect x="6" y="81" fill="#9e8bd0"/>
<rect x="7" y="81" fill="#d8cfec"/>
<rect x="8" y="81" fill="#f4b1a8"/>
<rect x="9" y="81" fill="#c9bde5"/>
<rect x="10" y="81" fill="#c3b7e3"/>
<rect x="11" y="81" fill="#d5cceb"/>
<rect x="12" y="81" fill="#f4b2a9"/>
<rect x="13" y="81" fill="#fefbfb"/>
<rect x="14" y="81" fill="#faf9fd"/>
<rect x="15" y="81" fill="#e8e3f4"/>
<rect x="16" y="81" fill="#c8bde5"/>
<rect x="17" y="81" fill="#d6342e"/>
<rect x="18" y="81" fill="#f4b0a8"/>
<rect x="19" y="81" fill="#fef6f5"/>
<rect x="0" y="82" fill="#f8ccc6"/>
<rect x="1" y="82" fill="#fbe4e1"/>
<rect x="2" y="82" fill="#f7c9c3"/>
<rect x="3" y="82" fill="#fad9d5"/>
<rect x="4" y="82" fill="#f5b9b1"/>
<rect x="5" y="82" fill="#e5dff3"/>
<rect x="6" y="82" fill="#b8a9dd"/>
<rect x="7" y="82" fill="#d2c9ea"/>
<rect x="8" y="82" fill="#f5bcb4"/>
<rect x="9" y="82" fill="#e5e0f3"/>
<rect x="10" y="82" fill="#d3caea"/>
<rect x="11" y="82" fill="#fffdfc"/>
<rect x="12" y="82" fill="#f5b7af"/>
<rect x="13" y="82" fill="#fbfafd"/>
<rect x="14" y="82" fill="#d9d1ed"/>
<rect x="15" y="82" fill="#cfc5e8"/>
<rect x="16" y="82" fill="#b4a4db"/>
<rect x="17" y="82" fill="#f5bbb3"/>
<rect x="18" y="82" fill="#fdf4f3"/>
<rect x="19" y="82" fill="#f3f0f9"/>
<rect x="0" y="83" fill="#f5bcb4"/>
<rect x="1" y="83" fill="#f7f6fb"/>
<rect x="2" y="83" fill="#f8d1cc"/>
<rect x="3" y="83" fill="#fbe4e1"/>
<rect x="4" y="83" fill="#f4b1a8"/>
<rect x="5" y="83" fill="#ebe7f6"/>
<rect x="6" y="83" fill="#c8bce5"/>
<rect x="7" y="83" fill="#d5cdeb"/>
<rect x="8" y="83" fill="#fadbd7"/>
<rect x="9" y="83" fill="#e4dff2"/>
<rect x="10" y="83" fill="#b3a3db"/>
<rect x="11" y="83" fill="#eeeaf7"/>
<rect x="12" y="83" fill="#f7c5be"/>
<rect x="13" y="83" fill="#e3ddf2"/>
<rect x="14" y="83" fill="#c3b7e3"/>
<rect x="15" y="83" fill="#bfb1e1"/>
<rect x="16" y="83" fill="#c2b5e2"/>
<rect x="17" y="83" fill="#fae0dc"/>
<rect x="18" y="83" fill="#f3f0f9"/>
<rect x="19" y="83" fill="#ded7ef"/>
<rect x="0" y="84" fill="#fce9e7"/>
<rect x="1" y="84" fill="#f9f7fc"/>
<rect x="2" y="84" fill="#fcece9"/>
<rect x="3" y="84" fill="#ffffff"/>
<rect x="4" y="84" fill="#f5b7af"/>
<rect x="5" y="84" fill="#fef7f6"/>
<rect x="6" y="84" fill="#b8a9de"/>
<rect x="7" y="84" fill="#ccc1e7"/>
<rect x="8" y="84" fill="#f9d4cf"/>
<rect x="9" y="84" fill="#e4def2"/>
<rect x="10" y="84" fill="#c9bee5"/>
<rect x="11" y="84" fill="#ebe7f6"/>
<rect x="12" y="84" fill="#fcebe9"/>
<rect x="13" y="84" fill="#d4cbeb"/>
<rect x="14" y="84" fill="#b8a9de"/>
<rect x="15" y="84" fill="#bbaddf"/>
<rect x="16" y="84" fill="#8876c3"/>
<rect x="17" y="84" fill="#d3caea"/>
<rect x="18" y="84" fill="#bfb2e1"/>
<rect x="19" y="84" fill="#c0b3e1"/>
<rect x="0" y="85" fill="#f8d0cb"/>
<rect x="1" y="85" fill="#efecf8"/>
<rect x="2" y="85" fill="#fadfdc"/>
<rect x="3" y="85" fill="#fffcfc"/>
<rect x="4" y="85" fill="#f6c0b9"/>
<rect x="5" y="85" fill="#ece9f6"/>
<rect x="6" y="85" fill="#d5cceb"/>
<rect x="7" y="85" fill="#dfd8f0"/>
<rect x="8" y="85" fill="#f6c4be"/>
<rect x="9" y="85" fill="#fcfbfd"/>
<rect x="10" y="85" fill="#cec3e8"/>
<rect x="11" y="85" fill="#e3ddf2"/>
<rect x="12" y="85" fill="#fad9d5"/>
<rect x="13" y="85" fill="#e3ddf2"/>
<rect x="14" y="85" fill="#c6bae4"/>
<rect x="15" y="85" fill="#c3b6e3"/>
<rect x="16" y="85" fill="#9a87ce"/>
<rect x="17" y="85" fill="#d2c8ea"/>
<rect x="18" y="85" fill="#f8f7fc"/>
<rect x="19" y="85" fill="#c3b7e3"/>
<rect x="0" y="86" fill="#f09d93"/>
<rect x="1" y="86" fill="#fadbd7"/>
<rect x="2" y="86" fill="#fbe5e2"/>
<rect x="3" y="86" fill="#faddd9"/>
<rect x="4" y="86" fill="#f2a89f"/>
<rect x="5" y="86" fill="#fefbfb"/>
<rect x="6" y="86" fill="#ece8f6"/>
<rect x="7" y="86" fill="#e9e5f5"/>
<rect x="8" y="86" fill="#f8cbc6"/>
<rect x="9" y="86" fill="#f5f3fa"/>
<rect x="10" y="86" fill="#ded7ef"/>
<rect x="11" y="86" fill="#e7e2f4"/>
<rect x="12" y="86" fill="#fadad6"/>
<rect x="13" y="86" fill="#e6e0f3"/>
<rect x="14" y="86" fill="#c6bbe4"/>
<rect x="15" y="86" fill="#c4b8e3"/>
<rect x="16" y="86" fill="#af9fd9"/>
<rect x="17" y="86" fill="#d4cceb"/>
<rect x="18" y="86" fill="#e4def2"/>
<rect x="19" y="86" fill="#c2b6e2"/>
<rect x="0" y="87" fill="#f09f95"/>
<rect x="1" y="87" fill="#f6beb6"/>
<rect x="2" y="87" fill="#f6bfb8"/>
<rect x="3" y="87" fill="#f6c4bd"/>
<rect x="4" y="87" fill="#ee958b"/>
<rect x="5" y="87" fill="#f2f0f9"/>
<rect x="6" y="87" fill="#f7f6fb"/>
<rect x="7" y="87" fill="#fcfbfe"/>
<rect x="8" y="87" fill="#f6bfb8"/>
<rect x="9" y="87" fill="#f9d8d4"/>
<rect x="10" y="87" fill="#fdf4f3"/>
<rect x="11" y="87" fill="#fef7f6"/>
<rect x="12" y="87" fill="#f2a49a"/>
<rect x="13" y="87" fill="#fffcfc"/>
<rect x="14" y="87" fill="#d2c9ea"/>
<rect x="15" y="87" fill="#c6bae4"/>
<rect x="16" y="87" fill="#b2a2db"/>
<rect x="17" y="87" fill="#e6e1f3"/>
<rect x="18" y="87" fill="#f6f4fb"/>
<rect x="19" y="87" fill="#c5b8e3"/>
<rect x="0" y="88" fill="#f09f95"/>
<rect x="1" y="88" fill="#f6c1ba"/>
<rect x="2" y="88" fill="#f9d7d3"/>
<rect x="3" y="88" fill="#fadbd7"/>
<rect x="4" y="88" fill="#f4b3ab"/>
<rect x="5" y="88" fill="#d8d0ed"/>
<rect x="6" y="88" fill="#d0c6e9"/>
<rect x="7" y="88" fill="#d3caea"/>
<rect x="8" y="88" fill="#fadbd8"/>
<rect x="9" y="88" fill="#fffefe"/>
<rect x="10" y="88" fill="#ded8f0"/>
<rect x="11" y="88" fill="#ded7f0"/>
<rect x="12" y="88" fill="#f9d7d3"/>
<rect x="13" y="88" fill="#e3ddf2"/>
<rect x="14" y="88" fill="#bbaddf"/>
<rect x="15" y="88" fill="#b6a7dd"/>
<rect x="16" y="88" fill="#8775c3"/>
<rect x="17" y="88" fill="#d1c7e9"/>
<rect x="18" y="88" fill="#ebe7f6"/>
<rect x="19" y="88" fill="#a290d2"/>
<rect x="0" y="89" fill="#f5b9b1"/>
<rect x="1" y="89" fill="#f9d7d2"/>
<rect x="2" y="89" fill="#f7c8c2"/>
<rect x="3" y="89" fill="#f7c9c3"/>
<rect x="4" y="89" fill="#f5b9b1"/>
<rect x="5" y="89" fill="#cfc5e8"/>
<rect x="6" y="89" fill="#d6cdeb"/>
<rect x="7" y="89" fill="#d5cceb"/>
<rect x="8" y="89" fill="#fadad5"/>
<rect x="9" y="89" fill="#f2eff9"/>
<rect x="10" y="89" fill="#d9d1ed"/>
<rect x="11" y="89" fill="#e0daf0"/>
<rect x="12" y="89" fill="#fbe3e0"/>
<rect x="13" y="89" fill="#d6cdec"/>
<rect x="14" y="89" fill="#c7bbe4"/>
<rect x="15" y="89" fill="#a492d4"/>
<rect x="16" y="89" fill="#9c89cf"/>
<rect x="17" y="89" fill="#d6cdec"/>
<rect x="18" y="89" fill="#e6e1f3"/>
<rect x="19" y="89" fill="#8572c1"/>
<rect x="0" y="90" fill="#f6bfb8"/>
<rect x="1" y="90" fill="#f9d6d1"/>
<rect x="2" y="90" fill="#f9d4d0"/>
<rect x="3" y="90" fill="#f7c4be"/>
<rect x="4" y="90" fill="#f8cec9"/>
<rect x="5" y="90" fill="#d4cbeb"/>
<rect x="6" y="90" fill="#d6cdec"/>
<rect x="7" y="90" fill="#e3ddf2"/>
<rect x="8" y="90" fill="#f8d1cc"/>
<rect x="9" y="90" fill="#fffefe"/>
<rect x="10" y="90" fill="#d3caea"/>
<rect x="11" y="90" fill="#e5dff3"/>
<rect x="12" y="90" fill="#f5bcb4"/>
<rect x="13" y="90" fill="#dbd4ee"/>
<rect x="14" y="90" fill="#cec4e8"/>
<rect x="15" y="90" fill="#a391d3"/>
<rect x="16" y="90" fill="#b4a5dc"/>
<rect x="17" y="90" fill="#e7e2f4"/>
<rect x="18" y="90" fill="#e9e4f4"/>
<rect x="19" y="90" fill="#7966bb"/>
<rect x="0" y="91" fill="#f2a89e"/>
<rect x="1" y="91" fill="#f7c6bf"/>
<rect x="2" y="91" fill="#f6beb6"/>
<rect x="3" y="91" fill="#fce8e6"/>
<rect x="4" y="91" fill="#f7c5bf"/>
<rect x="5" y="91" fill="#f1eef8"/>
<rect x="6" y="91" fill="#c9bee6"/>
<rect x="7" y="91" fill="#f0edf8"/>
<rect x="8" y="91" fill="#f2a59b"/>
<rect x="9" y="91" fill="#fdf0ee"/>
<rect x="10" y="91" fill="#ece8f6"/>
<rect x="11" y="91" fill="#dcd5ef"/>
<rect x="12" y="91" fill="#f8d0cb"/>
<rect x="13" y="91" fill="#e6e1f3"/>
<rect x="14" y="91" fill="#ccc2e7"/>
<rect x="15" y="91" fill="#b4a5dc"/>
<rect x="16" y="91" fill="#bfb1e1"/>
<rect x="17" y="91" fill="#e0d9f0"/>
<rect x="18" y="91" fill="#f0edf8"/>
<rect x="19" y="91" fill="#9684cb"/>
<rect x="0" y="92" fill="#ee938a"/>
<rect x="1" y="92" fill="#f8ccc6"/>
<rect x="2" y="92" fill="#f6c2bb"/>
<rect x="3" y="92" fill="#fbe5e2"/>
<rect x="4" y="92" fill="#f7c4be"/>
<rect x="5" y="92" fill="#f9f8fc"/>
<rect x="6" y="92" fill="#d3c9ea"/>
<rect x="7" y="92" fill="#d3caea"/>
<rect x="8" y="92" fill="#f5b9b1"/>
<rect x="9" y="92" fill="#fefafa"/>
<rect x="10" y="92" fill="#ded7ef"/>
<rect x="11" y="92" fill="#e8e4f4"/>
<rect x="12" y="92" fill="#fadcd8"/>
<rect x="13" y="92" fill="#f0ecf8"/>
<rect x="14" y="92" fill="#cdc2e7"/>
<rect x="15" y="92" fill="#a896d6"/>
<rect x="16" y="92" fill="#b7a8dd"/>
<rect x="17" y="92" fill="#d9d2ed"/>
<rect x="18" y="92" fill="#f4f2fa"/>
<rect x="19" y="92" fill="#8e7cc7"/>
<rect x="0" y="93" fill="#f6bfb8"/>
<rect x="1" y="93" fill="#fbe2de"/>
<rect x="2" y="93" fill="#f5b7af"/>
<rect x="3" y="93" fill="#f8cec9"/>
<rect x="4" y="93" fill="#f5b8b0"/>
<rect x="5" y="93" fill="#e4dff2"/>
<rect x="6" y="93" fill="#e7e2f4"/>
<rect x="7" y="93" fill="#bbacdf"/>
<rect x="8" y="93" fill="#f6c2bb"/>
<rect x="9" y="93" fill="#fdf0ef"/>
<rect x="10" y="93" fill="#eae5f5"/>
<rect x="11" y="93" fill="#d3caea"/>
<rect x="12" y="93" fill="#fce9e7"/>
<rect x="13" y="93" fill="#fefaf9"/>
<rect x="14" y="93" fill="#d0c6e9"/>
<rect x="15" y="93" fill="#a998d7"/>
<rect x="16" y="93" fill="#b6a7dc"/>
<rect x="17" y="93" fill="#e7e3f4"/>
<rect x="18" y="93" fill="#cec3e8"/>
<rect x="19" y="93" fill="#aa98d7"/>
<rect x="0" y="94" fill="#f9d3ce"/>
<rect x="1" y="94" fill="#f8cdc7"/>
<rect x="2" y="94" fill="#f9d3ce"/>
<rect x="3" y="94" fill="#f6beb7"/>
<rect x="4" y="94" fill="#f2a89f"/>
<rect x="5" y="94" fill="#fef7f6"/>
<rect x="6" y="94" fill="#dcd5ef"/>
<rect x="7" y="94" fill="#d1c8e9"/>
<rect x="8" y="94" fill="#f2a79e"/>
<rect x="9" y="94" fill="#fefbfa"/>
<rect x="10" y="94" fill="#e0d9f0"/>
<rect x="11" y="94" fill="#d7ceec"/>
<rect x="12" y="94" fill="#f8d1cc"/>
<rect x="13" y="94" fill="#eeeaf7"/>
<rect x="14" y="94" fill="#dad2ee"/>
<rect x="15" y="94" fill="#c2b5e2"/>
<rect x="16" y="94" fill="#baabde"/>
<rect x="17" y="94" fill="#fdfcfe"/>
<rect x="18" y="94" fill="#e0daf0"/>
<rect x="19" y="94" fill="#bbacdf"/>
<rect x="0" y="95" fill="#f6c0b8"/>
<rect x="1" y="95" fill="#fef6f6"/>
<rect x="2" y="95" fill="#f8cfca"/>
<rect x="3" y="95" fill="#f9d7d2"/>
<rect x="4" y="95" fill="#f5bab3"/>
<rect x="5" y="95" fill="#e3ddf2"/>
<rect x="6" y="95" fill="#cfc6e9"/>
<rect x="7" y="95" fill="#c5b9e4"/>
<rect x="8" y="95" fill="#f9d6d2"/>
<rect x="9" y="95" fill="#f4f1fa"/>
<rect x="10" y="95" fill="#d2c9ea"/>
<rect x="11" y="95" fill="#cac0e6"/>
<rect x="12" y="95" fill="#fbe0dd"/>
<rect x="13" y="95" fill="#e5e0f3"/>
<rect x="14" y="95" fill="#d7ceec"/>
<rect x="15" y="95" fill="#b6a7dd"/>
<rect x="16" y="95" fill="#a896d6"/>
<rect x="17" y="95" fill="#f6f4fb"/>
<rect x="18" y="95" fill="#efebf7"/>
<rect x="19" y="95" fill="#b1a1da"/>
<rect x="0" y="96" fill="#f4b6ae"/>
<rect x="1" y="96" fill="#fadfdb"/>
<rect x="2" y="96" fill="#f4b0a7"/>
<rect x="3" y="96" fill="#f9d7d2"/>
<rect x="4" y="96" fill="#f3ada4"/>
<rect x="5" y="96" fill="#f0edf8"/>
<rect x="6" y="96" fill="#e3def2"/>
<rect x="7" y="96" fill="#d6cdec"/>
<rect x="8" y="96" fill="#f3ada4"/>
<rect x="9" y="96" fill="#fffcfc"/>
<rect x="10" y="96" fill="#ede9f7"/>
<rect x="11" y="96" fill="#ebe7f6"/>
<rect x="12" y="96" fill="#f6beb7"/>
<rect x="13" y="96" fill="#fdfdfe"/>
<rect x="14" y="96" fill="#cabfe6"/>
<rect x="15" y="96" fill="#b2a2db"/>
<rect x="16" y="96" fill="#ae9dd9"/>
<rect x="17" y="96" fill="#f6f4fb"/>
<rect x="18" y="96" fill="#fdf1f0"/>
<rect x="19" y="96" fill="#9b89cf"/>
<rect x="0" y="97" fill="#f6c2bb"/>
<rect x="1" y="97" fill="#fbe5e2"/>
<rect x="2" y="97" fill="#f6beb7"/>
<rect x="3" y="97" fill="#f8cdc7"/>
<rect x="4" y="97" fill="#f3aaa1"/>
<rect x="5" y="97" fill="#f9f8fc"/>
<rect x="6" y="97" fill="#d2c8ea"/>
<rect x="7" y="97" fill="#e6e0f3"/>
<rect x="8" y="97" fill="#f2a49a"/>
<rect x="9" y="97" fill="#fefaf9"/>
<rect x="10" y="97" fill="#eeebf7"/>
<rect x="11" y="97" fill="#dbd3ee"/>
<rect x="12" y="97" fill="#f8d0cb"/>
<rect x="13" y="97" fill="#f0edf8"/>
<rect x="14" y="97" fill="#c3b7e3"/>
<rect x="15" y="97" fill="#e3ddf2"/>
<rect x="16" y="97" fill="#aa99d7"/>
<rect x="17" y="97" fill="#ffffff"/>
<rect x="18" y="97" fill="#fffefe"/>
<rect x="19" y="97" fill="#a290d3"/>
<rect x="0" y="98" fill="#f7c5bf"/>
<rect x="1" y="98" fill="#f7c8c2"/>
<rect x="2" y="98" fill="#f5b7af"/>
<rect x="3" y="98" fill="#fce8e6"/>
<rect x="4" y="98" fill="#f1a299"/>
<rect x="5" y="98" fill="#f8f7fc"/>
<rect x="6" y="98" fill="#e2dcf1"/>
<rect x="7" y="98" fill="#fafafd"/>
<rect x="8" y="98" fill="#f3afa6"/>
<rect x="9" y="98" fill="#fdeeec"/>
<rect x="10" y="98" fill="#f6f4fb"/>
<rect x="11" y="98" fill="#cfc5e8"/>
<rect x="12" y="98" fill="#f5b7af"/>
<rect x="13" y="98" fill="#e4def2"/>
<rect x="14" y="98" fill="#bfb2e1"/>
<rect x="15" y="98" fill="#dcd4ee"/>
<rect x="16" y="98" fill="#9582cb"/>
<rect x="17" y="98" fill="#d1c7e9"/>
<rect x="18" y="98" fill="#ddd6ef"/>
<rect x="19" y="98" fill="#a18fd2"/>
<rect x="0" y="99" fill="#f7c9c3"/>
<rect x="1" y="99" fill="#fdf0ef"/>
<rect x="2" y="99" fill="#f7c4be"/>
<rect x="3" y="99" fill="#fdf4f3"/>
<rect x="4" y="99" fill="#f5b9b2"/>
<rect x="5" y="99" fill="#ded8f0"/>
<rect x="6" y="99" fill="#d3caea"/>
<rect x="7" y="99" fill="#cabfe6"/>
<rect x="8" y="99" fill="#fbe5e2"/>
<rect x="9" y="99" fill="#fcfcfe"/>
<rect x="10" y="99" fill="#d1c8e9"/>
<rect x="11" y="99" fill="#bfb2e1"/>
<rect x="12" y="99" fill="#f7c8c2"/>
<rect x="13" y="99" fill="#c5b9e4"/>
<rect x="14" y="99" fill="#b3a4db"/>
<rect x="15" y="99" fill="#b7a8dd"/>
<rect x="16" y="99" fill="#7562b8"/>
<rect x="17" y="99" fill="#b1a1da"/>
<rect x="18" y="99" fill="#d1c7e9"/>
<rect x="19" y="99" fill="#7a67bb"/>
<rect x="0" y="100" fill="#f6c2bb"/>
<rect x="1" y="100" fill="#fdf5f3"/>
<rect x="2" y="100" fill="#f7c7c1"/>
<rect x="3" y="100" fill="#fdeeec"/>
<rect x="4" y="100" fill="#fadedb"/>
<rect x="5" y="100" fill="#c6bae4"/>
<rect x="6" y="100" fill="#ccc2e7"/>
<rect x="7" y="100" fill="#cdc2e7"/>
<rect x="8" y="100" fill="#f8cbc5"/>
<rect x="9" y="100" fill="#fffefe"/>
<rect x="10" y="100" fill="#ddd6ef"/>
<rect x="11" y="100" fill="#baacdf"/>
<rect x="12" y="100" fill="#f9d8d4"/>
<rect x="13" y="100" fill="#dfd9f0"/>
<rect x="14" y="100" fill="#b4a5dc"/>
<rect x="15" y="100" fill="#c0b3e1"/>
<rect x="16" y="100" fill="#5f4cab"/>
<rect x="17" y="100" fill="#a896d6"/>
<rect x="18" y="100" fill="#ccc2e7"/>
<rect x="19" y="100" fill="#5642a6"/>
<rect x="0" y="101" fill="#f4b3ab"/>
<rect x="1" y="101" fill="#fadad6"/>
<rect x="2" y="101" fill="#f8cec8"/>
<rect x="3" y="101" fill="#fbe5e3"/>
<rect x="4" y="101" fill="#f3aba2"/>
<rect x="5" y="101" fill="#d0c7e9"/>
<rect x="6" y="101" fill="#aa99d7"/>
<rect x="7" y="101" fill="#cfc5e9"/>
<rect x="8" y="101" fill="#f7cac4"/>
<rect x="9" y="101" fill="#fef7f6"/>
<rect x="10" y="101" fill="#e1dbf1"/>
<rect x="11" y="101" fill="#c2b6e2"/>
<rect x="12" y="101" fill="#f9d6d1"/>
<rect x="13" y="101" fill="#fffdfd"/>
<rect x="14" y="101" fill="#b8aade"/>
<rect x="15" y="101" fill="#e2dcf1"/>
<rect x="16" y="101" fill="#7f6dbe"/>
<rect x="17" y="101" fill="#9b89cf"/>
<rect x="18" y="101" fill="#eae5f5"/>
<rect x="19" y="101" fill="#8a78c5"/>
<rect x="0" y="102" fill="#f5bab2"/>
<rect x="1" y="102" fill="#fffcfc"/>
<rect x="2" y="102" fill="#fbe2de"/>
<rect x="3" y="102" fill="#fadeda"/>
<rect x="4" y="102" fill="#f6c1ba"/>
<rect x="5" y="102" fill="#bcaedf"/>
<rect x="6" y="102" fill="#c0b4e2"/>
<rect x="7" y="102" fill="#d7ceec"/>
<rect x="8" y="102" fill="#f8cbc5"/>
<rect x="9" y="102" fill="#e0d9f0"/>
<rect x="10" y="102" fill="#d1c7e9"/>
<rect x="11" y="102" fill="#c6bbe4"/>
<rect x="12" y="102" fill="#f8d1cb"/>
<rect x="13" y="102" fill="#fef5f4"/>
<rect x="14" y="102" fill="#b8aade"/>
<rect x="15" y="102" fill="#bdafe0"/>
<rect x="16" y="102" fill="#7f6cbe"/>
<rect x="17" y="102" fill="#a795d5"/>
<rect x="18" y="102" fill="#ccc2e7"/>
<rect x="19" y="102" fill="#9885cc"/>
<rect x="0" y="103" fill="#f8ccc7"/>
<rect x="1" y="103" fill="#f4f1fa"/>
<rect x="2" y="103" fill="#fce7e4"/>
<rect x="3" y="103" fill="#fdf1f0"/>
<rect x="4" y="103" fill="#fce8e6"/>
<rect x="5" y="103" fill="#b4a4dc"/>
<rect x="6" y="103" fill="#b7a8dd"/>
<rect x="7" y="103" fill="#c6bae4"/>
<rect x="8" y="103" fill="#fce9e7"/>
<rect x="9" y="103" fill="#cabfe6"/>
<rect x="10" y="103" fill="#a290d3"/>
<rect x="11" y="103" fill="#d6cdec"/>
<rect x="12" y="103" fill="#fcecea"/>
<rect x="13" y="103" fill="#e0d9f0"/>
<rect x="14" y="103" fill="#9280c9"/>
<rect x="15" y="103" fill="#b0a0da"/>
<rect x="16" y="103" fill="#614ead"/>
<rect x="17" y="103" fill="#9c8acf"/>
<rect x="18" y="103" fill="#c8bde5"/>
<rect x="19" y="103" fill="#725fb6"/>
<rect x="0" y="104" fill="#f8cfca"/>
<rect x="1" y="104" fill="#fcebe9"/>
<rect x="2" y="104" fill="#f9d7d3"/>
<rect x="3" y="104" fill="#fef5f4"/>
<rect x="4" y="104" fill="#f7c7c1"/>
<rect x="5" y="104" fill="#cfc6e9"/>
<rect x="6" y="104" fill="#e3ddf2"/>
<rect x="7" y="104" fill="#a795d5"/>
<rect x="8" y="104" fill="#f8d2cd"/>
<rect x="9" y="104" fill="#e1dbf1"/>
<rect x="10" y="104" fill="#c4b7e3"/>
<rect x="11" y="104" fill="#dfd9f0"/>
<rect x="12" y="104" fill="#f8cfca"/>
<rect x="13" y="104" fill="#f1eef8"/>
<rect x="14" y="104" fill="#b7a8dd"/>
<rect x="15" y="104" fill="#c4b8e3"/>
<rect x="16" y="104" fill="#8e7bc7"/>
<rect x="17" y="104" fill="#8572c2"/>
<rect x="18" y="104" fill="#d7cfec"/>
<rect x="19" y="104" fill="#715eb6"/>
<rect x="0" y="105" fill="#f8d0cb"/>
<rect x="1" y="105" fill="#fceae7"/>
<rect x="2" y="105" fill="#f9d8d4"/>
<rect x="3" y="105" fill="#fbfafd"/>
<rect x="4" y="105" fill="#f8cec9"/>
<rect x="5" y="105" fill="#c0b2e1"/>
<rect x="6" y="105" fill="#d7cfec"/>
<rect x="7" y="105" fill="#c0b3e1"/>
<rect x="8" y="105" fill="#f5b6ae"/>
<rect x="9" y="105" fill="#f8f7fc"/>
<rect x="10" y="105" fill="#bcaedf"/>
<rect x="11" y="105" fill="#c6bae4"/>
<rect x="12" y="105" fill="#fce8e5"/>
<rect x="13" y="105" fill="#ebe6f5"/>
<rect x="14" y="105" fill="#d5cdeb"/>
<rect x="15" y="105" fill="#bfb2e1"/>
<rect x="16" y="105" fill="#5d49aa"/>
<rect x="17" y="105" fill="#6f5bb4"/>
<rect x="18" y="105" fill="#beb0e0"/>
<rect x="19" y="105" fill="#7c69bc"/>
<rect x="0" y="106" fill="#f6c3bd"/>
<rect x="1" y="106" fill="#f7c5be"/>
<rect x="2" y="106" fill="#fadbd7"/>
<rect x="3" y="106" fill="#fffefe"/>
<rect x="4" y="106" fill="#f2a69d"/>
<rect x="5" y="106" fill="#d5cceb"/>
<rect x="6" y="106" fill="#ccc1e7"/>
<rect x="7" y="106" fill="#b0a0da"/>
<rect x="8" y="106" fill="#f8cec9"/>
<rect x="9" y="106" fill="#dad2ed"/>
<rect x="10" y="106" fill="#cfc5e9"/>
<rect x="11" y="106" fill="#ccc2e7"/>
<rect x="12" y="106" fill="#f8cbc6"/>
<rect x="13" y="106" fill="#ede9f6"/>
<rect x="14" y="106" fill="#c9bee5"/>
<rect x="15" y="106" fill="#b3a3db"/>
<rect x="16" y="106" fill="#9f8dd1"/>
<rect x="17" y="106" fill="#6956b1"/>
<rect x="18" y="106" fill="#d2c8ea"/>
<rect x="19" y="106" fill="#8674c2"/>
<rect x="0" y="107" fill="#f6c2bb"/>
<rect x="1" y="107" fill="#f6c1ba"/>
<rect x="2" y="107" fill="#f6bfb8"/>
<rect x="3" y="107" fill="#fcece9"/>
<rect x="4" y="107" fill="#f4b2a9"/>
<rect x="5" y="107" fill="#ddd6ef"/>
<rect x="6" y="107" fill="#cabfe6"/>
<rect x="7" y="107" fill="#c8bde5"/>
<rect x="8" y="107" fill="#f6c2bb"/>
<rect x="9" y="107" fill="#f7f5fb"/>
<rect x="10" y="107" fill="#efecf8"/>
<rect x="11" y="107" fill="#e6e1f3"/>
<rect x="12" y="107" fill="#f8cec8"/>
<rect x="13" y="107" fill="#fdfdfe"/>
<rect x="14" y="107" fill="#d7ceec"/>
<rect x="15" y="107" fill="#c8bde5"/>
<rect x="16" y="107" fill="#a290d3"/>
<rect x="17" y="107" fill="#9381ca"/>
<rect x="18" y="107" fill="#d7cfec"/>
<rect x="19" y="107" fill="#8471c1"/>
<rect x="0" y="108" fill="#f2a69c"/>
<rect x="1" y="108" fill="#f5bab3"/>
<rect x="2" y="108" fill="#f4b5ad"/>
<rect x="3" y="108" fill="#fadbd7"/>
<rect x="4" y="108" fill="#f4b4ac"/>
<rect x="5" y="108" fill="#ccc2e7"/>
<rect x="6" y="108" fill="#e2ddf2"/>
<rect x="7" y="108" fill="#dbd4ee"/>
<rect x="8" y="108" fill="#f5bdb6"/>
<rect x="9" y="108" fill="#f6f4fb"/>
<rect x="10" y="108" fill="#fffefe"/>
<rect x="11" y="108" fill="#c9bee6"/>
<rect x="12" y="108" fill="#f3aca3"/>
<rect x="13" y="108" fill="#fef6f5"/>
<rect x="14" y="108" fill="#fcfcfe"/>
<rect x="15" y="108" fill="#c0b2e1"/>
<rect x="16" y="108" fill="#a694d5"/>
<rect x="17" y="108" fill="#9b89ce"/>
<rect x="18" y="108" fill="#e5e0f3"/>
<rect x="19" y="108" fill="#907dc8"/>
<rect x="0" y="109" fill="#f3aca3"/>
<rect x="1" y="109" fill="#fadcd8"/>
<rect x="2" y="109" fill="#f8cec8"/>
<rect x="3" y="109" fill="#fadfdb"/>
<rect x="4" y="109" fill="#f7c6c0"/>
<rect x="5" y="109" fill="#c9bee5"/>
<rect x="6" y="109" fill="#dad3ee"/>
<rect x="7" y="109" fill="#cdc2e7"/>
<rect x="8" y="109" fill="#f9d4d0"/>
<rect x="9" y="109" fill="#f3f0f9"/>
<rect x="10" y="109" fill="#e3ddf2"/>
<rect x="11" y="109" fill="#ded7ef"/>
<rect x="12" y="109" fill="#f9d6d2"/>
<rect x="13" y="109" fill="#fffcfb"/>
<rect x="14" y="109" fill="#d2c9ea"/>
<rect x="15" y="109" fill="#b2a2db"/>
<rect x="16" y="109" fill="#8f7cc7"/>
<rect x="17" y="109" fill="#9987cd"/>
<rect x="18" y="109" fill="#e6e1f3"/>
<rect x="19" y="109" fill="#a694d5"/>
<rect x="0" y="110" fill="#f3aaa1"/>
<rect x="1" y="110" fill="#f8d0cb"/>
<rect x="2" y="110" fill="#f7c5be"/>
<rect x="3" y="110" fill="#fdf2f1"/>
<rect x="4" y="110" fill="#f5b8b1"/>
<rect x="5" y="110" fill="#cdc2e7"/>
<rect x="6" y="110" fill="#d7cfec"/>
<rect x="7" y="110" fill="#c9bde5"/>
<rect x="8" y="110" fill="#f6c2bb"/>
<rect x="9" y="110" fill="#fefbfa"/>
<rect x="10" y="110" fill="#eae6f5"/>
<rect x="11" y="110" fill="#cec3e8"/>
<rect x="12" y="110" fill="#f7cac4"/>
<rect x="13" y="110" fill="#fef6f5"/>
<rect x="14" y="110" fill="#beb1e0"/>
<rect x="15" y="110" fill="#c6bae4"/>
<rect x="16" y="110" fill="#7360b7"/>
<rect x="17" y="110" fill="#9f8dd1"/>
<rect x="18" y="110" fill="#e4def2"/>
<rect x="19" y="110" fill="#ab9ad7"/>
<rect x="0" y="111" fill="#f5bbb3"/>
<rect x="1" y="111" fill="#fadcd8"/>
<rect x="2" y="111" fill="#f9d6d1"/>
<rect x="3" y="111" fill="#fadcd8"/>
<rect x="4" y="111" fill="#f5bab2"/>
<rect x="5" y="111" fill="#cfc5e8"/>
<rect x="6" y="111" fill="#e1dbf1"/>
<rect x="7" y="111" fill="#c8bde5"/>
<rect x="8" y="111" fill="#f6c1ba"/>
<rect x="9" y="111" fill="#fdfdfe"/>
<rect x="10" y="111" fill="#fdfcfe"/>
<rect x="11" y="111" fill="#e6e1f3"/>
<rect x="12" y="111" fill="#f8ccc6"/>
<rect x="13" y="111" fill="#e8e3f4"/>
<rect x="14" y="111" fill="#cec4e8"/>
<rect x="15" y="111" fill="#c4b8e3"/>
<rect x="16" y="111" fill="#907ec8"/>
<rect x="17" y="111" fill="#ac9ad8"/>
<rect x="18" y="111" fill="#ded8f0"/>
<rect x="19" y="111" fill="#ae9dd9"/>
<rect x="0" y="112" fill="#f4b3ab"/>
<rect x="1" y="112" fill="#f9d6d2"/>
<rect x="2" y="112" fill="#f8cdc7"/>
<rect x="3" y="112" fill="#f8cec9"/>
<rect x="4" y="112" fill="#f6c2bb"/>
<rect x="5" y="112" fill="#dcd5ef"/>
<rect x="6" y="112" fill="#d9d1ed"/>
<rect x="7" y="112" fill="#c5b8e3"/>
<rect x="8" y="112" fill="#f3aca3"/>
<rect x="9" y="112" fill="#fef8f8"/>
<rect x="10" y="112" fill="#f4f1fa"/>
<rect x="11" y="112" fill="#eeeaf7"/>
<rect x="12" y="112" fill="#fadbd7"/>
<rect x="13" y="112" fill="#f4f2fa"/>
<rect x="14" y="112" fill="#dbd4ee"/>
<rect x="15" y="112" fill="#d3caea"/>
<rect x="16" y="112" fill="#8a78c5"/>
<rect x="17" y="112" fill="#b8a9dd"/>
<rect x="18" y="112" fill="#e9e4f4"/>
<rect x="19" y="112" fill="#baacdf"/>
<rect x="0" y="113" fill="#f2a89e"/>
<rect x="1" y="113" fill="#f3aca3"/>
<rect x="2" y="113" fill="#f6bfb8"/>
<rect x="3" y="113" fill="#f9d5d0"/>
<rect x="4" y="113" fill="#f5b7b0"/>
<rect x="5" y="113" fill="#dad3ee"/>
<rect x="6" y="113" fill="#e2dcf1"/>
<rect x="7" y="113" fill="#bfb2e1"/>
<rect x="8" y="113" fill="#f3aaa1"/>
<rect x="9" y="113" fill="#fcebe9"/>
<rect x="10" y="113" fill="#fffefe"/>
<rect x="11" y="113" fill="#e3ddf2"/>
<rect x="12" y="113" fill="#f4b5ad"/>
<rect x="13" y="113" fill="#f4f2fa"/>
<rect x="14" y="113" fill="#ded7ef"/>
<rect x="15" y="113" fill="#b7a8dd"/>
<rect x="16" y="113" fill="#917ec8"/>
<rect x="17" y="113" fill="#ab99d7"/>
<rect x="18" y="113" fill="#fffcfc"/>
<rect x="19" y="113" fill="#b7a8dd"/>
<rect x="0" y="114" fill="#f5b8b0"/>
<rect x="1" y="114" fill="#f7c6c0"/>
<rect x="2" y="114" fill="#f8d1cc"/>
<rect x="3" y="114" fill="#fce7e4"/>
<rect x="4" y="114" fill="#f7c7c1"/>
<rect x="5" y="114" fill="#cbc0e6"/>
<rect x="6" y="114" fill="#baabde"/>
<rect x="7" y="114" fill="#c1b4e2"/>
<rect x="8" y="114" fill="#f3aba2"/>
<rect x="9" y="114" fill="#fcecea"/>
<rect x="10" y="114" fill="#dfd9f0"/>
<rect x="11" y="114" fill="#c5b9e3"/>
<rect x="12" y="114" fill="#f8d0cb"/>
<rect x="13" y="114" fill="#f5f3fa"/>
<rect x="14" y="114" fill="#d1c8e9"/>
<rect x="15" y="114" fill="#a896d6"/>
<rect x="16" y="114" fill="#8e7bc7"/>
<rect x="17" y="114" fill="#9482ca"/>
<rect x="18" y="114" fill="#ebe7f5"/>
<rect x="19" y="114" fill="#8e7cc7"/>
<rect x="0" y="115" fill="#f7cac4"/>
<rect x="1" y="115" fill="#f8d2cc"/>
<rect x="2" y="115" fill="#fce9e7"/>
<rect x="3" y="115" fill="#fdf4f3"/>
<rect x="4" y="115" fill="#f6c1ba"/>
<rect x="5" y="115" fill="#c3b6e3"/>
<rect x="6" y="115" fill="#b4a4db"/>
<rect x="7" y="115" fill="#dbd4ee"/>
<rect x="8" y="115" fill="#f4b5ad"/>
<rect x="9" y="115" fill="#fef6f5"/>
<rect x="10" y="115" fill="#c4b8e3"/>
<rect x="11" y="115" fill="#d4cbeb"/>
<rect x="12" y="115" fill="#fdf4f3"/>
<rect x="13" y="115" fill="#dfd8f0"/>
<rect x="14" y="115" fill="#cdc3e8"/>
<rect x="15" y="115" fill="#b8a9dd"/>
<rect x="16" y="115" fill="#715eb6"/>
<rect x="17" y="115" fill="#7d6bbd"/>
<rect x="18" y="115" fill="#d9d1ed"/>
<rect x="19" y="115" fill="#5b47a9"/>
<rect x="0" y="116" fill="#f5b7af"/>
<rect x="1" y="116" fill="#f9d4cf"/>
<rect x="2" y="116" fill="#f7c9c3"/>
<rect x="3" y="116" fill="#fadad6"/>
<rect x="4" y="116" fill="#f4b3aa"/>
<rect x="5" y="116" fill="#ded8f0"/>
<rect x="6" y="116" fill="#e1dbf1"/>
<rect x="7" y="116" fill="#d8d0ed"/>
<rect x="8" y="116" fill="#f4afa7"/>
<rect x="9" y="116" fill="#fffcfc"/>
<rect x="10" y="116" fill="#e6e1f3"/>
<rect x="11" y="116" fill="#d2c9ea"/>
<rect x="12" y="116" fill="#f9d3ce"/>
<rect x="13" y="116" fill="#f1eef8"/>
<rect x="14" y="116" fill="#d6cdeb"/>
<rect x="15" y="116" fill="#d7cfec"/>
<rect x="16" y="116" fill="#8c79c5"/>
<rect x="17" y="116" fill="#af9ed9"/>
<rect x="18" y="116" fill="#ece9f6"/>
<rect x="19" y="116" fill="#9683cb"/>
<rect x="0" y="117" fill="#f4b1a8"/>
<rect x="1" y="117" fill="#f8ccc6"/>
<rect x="2" y="117" fill="#f9d2ce"/>
<rect x="3" y="117" fill="#faddd9"/>
<rect x="4" y="117" fill="#f5bab2"/>
<rect x="5" y="117" fill="#dcd5ee"/>
<rect x="6" y="117" fill="#ece8f6"/>
<rect x="7" y="117" fill="#ccc2e7"/>
<rect x="8" y="117" fill="#f8cec9"/>
<rect x="9" y="117" fill="#e7e2f4"/>
<rect x="10" y="117" fill="#dad2ed"/>
<rect x="11" y="117" fill="#c7bbe5"/>
<rect x="12" y="117" fill="#f8d2cd"/>
<rect x="13" y="117" fill="#f7f6fb"/>
<rect x="14" y="117" fill="#e9e4f5"/>
<rect x="15" y="117" fill="#cbc0e6"/>
<rect x="16" y="117" fill="#9886cd"/>
<rect x="17" y="117" fill="#9886cd"/>
<rect x="18" y="117" fill="#ebe6f5"/>
<rect x="19" y="117" fill="#a795d6"/>
<rect x="0" y="118" fill="#f7c9c2"/>
<rect x="1" y="118" fill="#f5b8b1"/>
<rect x="2" y="118" fill="#f3aaa1"/>
<rect x="3" y="118" fill="#f7c9c3"/>
<rect x="4" y="118" fill="#f6c2bc"/>
<rect x="5" y="118" fill="#e5dff3"/>
<rect x="6" y="118" fill="#f4f2fa"/>
<rect x="7" y="118" fill="#e4def2"/>
<rect x="8" y="118" fill="#f6c2bb"/>
<rect x="9" y="118" fill="#f4f2fa"/>
<rect x="10" y="118" fill="#f5f3fa"/>
<rect x="11" y="118" fill="#c6bae4"/>
<rect x="12" y="118" fill="#f4b0a7"/>
<rect x="13" y="118" fill="#fffefd"/>
<rect x="14" y="118" fill="#ebe7f6"/>
<rect x="15" y="118" fill="#bdafe0"/>
<rect x="16" y="118" fill="#9c8acf"/>
<rect x="17" y="118" fill="#b4a5dc"/>
<rect x="18" y="118" fill="#dcd4ee"/>
<rect x="19" y="118" fill="#c4b8e3"/>
<rect x="0" y="119" fill="#fbe2df"/>
<rect x="1" y="119" fill="#f9d5d0"/>
<rect x="2" y="119" fill="#f6c0ba"/>
<rect x="3" y="119" fill="#fadad6"/>
<rect x="4" y="119" fill="#f8d0ca"/>
<rect x="5" y="119" fill="#d1c8ea"/>
<rect x="6" y="119" fill="#d4cceb"/>
<rect x="7" y="119" fill="#c8bde5"/>
<rect x="8" y="119" fill="#fdeeec"/>
<rect x="9" y="119" fill="#fbfafd"/>
<rect x="10" y="119" fill="#dfd8f0"/>
<rect x="11" y="119" fill="#c1b4e2"/>
<rect x="12" y="119" fill="#f9d6d2"/>
<rect x="13" y="119" fill="#efecf8"/>
<rect x="14" y="119" fill="#d0c6e9"/>
<rect x="15" y="119" fill="#af9ed9"/>
<rect x="16" y="119" fill="#9c8acf"/>
<rect x="17" y="119" fill="#7c69bc"/>
<rect x="18" y="119" fill="#d4cbeb"/>
<rect x="19" y="119" fill="#8875c3"/>
<rect x="0" y="120" fill="#f6beb7"/>
<rect x="1" y="120" fill="#fce7e4"/>
<rect x="2" y="120" fill="#f7c9c3"/>
<rect x="3" y="120" fill="#fceae8"/>
<rect x="4" y="120" fill="#f5b9b2"/>
<rect x="5" y="120" fill="#c8bde5"/>
<rect x="6" y="120" fill="#bcafe0"/>
<rect x="7" y="120" fill="#d4cceb"/>
<rect x="8" y="120" fill="#fad9d5"/>
<rect x="9" y="120" fill="#f6f4fb"/>
<rect x="10" y="120" fill="#eae5f5"/>
<rect x="11" y="120" fill="#bbaddf"/>
<rect x="12" y="120" fill="#fadad6"/>
<rect x="13" y="120" fill="#f0edf8"/>
<rect x="14" y="120" fill="#d3caea"/>
<rect x="15" y="120" fill="#ac9bd8"/>
<rect x="16" y="120" fill="#a896d6"/>
<rect x="17" y="120" fill="#b0a0da"/>
<rect x="18" y="120" fill="#d1c7e9"/>
<rect x="19" y="120" fill="#a896d6"/>
<rect x="0" y="121" fill="#f6c3bc"/>
<rect x="1" y="121" fill="#fef5f4"/>
<rect x="2" y="121" fill="#fad9d5"/>
<rect x="3" y="121" fill="#fcfbfe"/>
<rect x="4" y="121" fill="#fadad5"/>
<rect x="5" y="121" fill="#ac9bd8"/>
<rect x="6" y="121" fill="#af9fd9"/>
<rect x="7" y="121" fill="#dcd5ee"/>
<rect x="8" y="121" fill="#f8cfca"/>
<rect x="9" y="121" fill="#e0d9f0"/>
<rect x="10" y="121" fill="#cdc3e7"/>
<rect x="11" y="121" fill="#aa99d7"/>
<rect x="12" y="121" fill="#fef8f7"/>
<rect x="13" y="121" fill="#efecf7"/>
<rect x="14" y="121" fill="#c0b3e1"/>
<rect x="15" y="121" fill="#a391d3"/>
<rect x="16" y="121" fill="#9583cb"/>
<rect x="17" y="121" fill="#a997d6"/>
<rect x="18" y="121" fill="#fdf3f2"/>
<rect x="19" y="121" fill="#9986cd"/>
<rect x="0" y="122" fill="#f6c0ba"/>
<rect x="1" y="122" fill="#fffcfc"/>
<rect x="2" y="122" fill="#f8cfca"/>
<rect x="3" y="122" fill="#f3f1f9"/>
<rect x="4" y="122" fill="#fadad6"/>
<rect x="5" y="122" fill="#c2b5e2"/>
<rect x="6" y="122" fill="#bfb1e1"/>
<rect x="7" y="122" fill="#e6e0f3"/>
<rect x="8" y="122" fill="#fadcd8"/>
<rect x="9" y="122" fill="#faf9fd"/>
<rect x="10" y="122" fill="#e3def2"/>
<rect x="11" y="122" fill="#b7a8dd"/>
<rect x="12" y="122" fill="#fbe3e0"/>
<rect x="13" y="122" fill="#d6ceec"/>
<rect x="14" y="122" fill="#b7a8dd"/>
<rect x="15" y="122" fill="#9280c9"/>
<rect x="16" y="122" fill="#a593d4"/>
<rect x="17" y="122" fill="#c0b3e1"/>
<rect x="18" y="122" fill="#f8cdc8"/>
<rect x="19" y="122" fill="#a290d2"/>
<rect x="0" y="123" fill="#f6c2bb"/>
<rect x="1" y="123" fill="#fbe2df"/>
<rect x="2" y="123" fill="#f7c8c2"/>
<rect x="3" y="123" fill="#fdeeed"/>
<rect x="4" y="123" fill="#fae0dc"/>
<rect x="5" y="123" fill="#dfd8f0"/>
<rect x="6" y="123" fill="#baacdf"/>
<rect x="7" y="123" fill="#e5e0f3"/>
<rect x="8" y="123" fill="#f7c5bf"/>
<rect x="9" y="123" fill="#f9f8fc"/>
<rect x="10" y="123" fill="#fffdfc"/>
<rect x="11" y="123" fill="#cbc0e6"/>
<rect x="12" y="123" fill="#f5bbb3"/>
<rect x="13" y="123" fill="#f5f3fa"/>
<rect x="14" y="123" fill="#beb1e0"/>
<rect x="15" y="123" fill="#b8a9de"/>
<rect x="16" y="123" fill="#cac0e6"/>
<rect x="17" y="123" fill="#d3caea"/>
<rect x="18" y="123" fill="#f6beb7"/>
<rect x="19" y="123" fill="#a08ed1"/>
<rect x="0" y="124" fill="#f7c9c4"/>
<rect x="1" y="124" fill="#fadad5"/>
<rect x="2" y="124" fill="#f5bab2"/>
<rect x="3" y="124" fill="#f9d8d4"/>
<rect x="4" y="124" fill="#f8ccc7"/>
<rect x="5" y="124" fill="#ded7ef"/>
<rect x="6" y="124" fill="#d2c9ea"/>
<rect x="7" y="124" fill="#e1dbf1"/>
<rect x="8" y="124" fill="#f8d1cc"/>
<rect x="9" y="124" fill="#fef5f4"/>
<rect x="10" y="124" fill="#e5e0f3"/>
<rect x="11" y="124" fill="#dbd3ee"/>
<rect x="12" y="124" fill="#f9d2cd"/>
<rect x="13" y="124" fill="#fef9f8"/>
<rect x="14" y="124" fill="#b3a3db"/>
<rect x="15" y="124" fill="#c6bae4"/>
<rect x="16" y="124" fill="#d7cfec"/>
<rect x="17" y="124" fill="#ccc2e7"/>
<rect x="18" y="124" fill="#f3aaa1"/>
<rect x="19" y="124" fill="#9280c9"/>
<rect x="0" y="125" fill="#f8cfc9"/>
<rect x="1" y="125" fill="#fadeda"/>
<rect x="2" y="125" fill="#f9d4cf"/>
<rect x="3" y="125" fill="#e9e5f5"/>
<rect x="4" y="125" fill="#f9d7d2"/>
<rect x="5" y="125" fill="#c6bbe4"/>
<rect x="6" y="125" fill="#bcafe0"/>
<rect x="7" y="125" fill="#cfc6e9"/>
<rect x="8" y="125" fill="#fdf1ef"/>
<rect x="9" y="125" fill="#e8e4f4"/>
<rect x="10" y="125" fill="#edeaf7"/>
<rect x="11" y="125" fill="#dad2ee"/>
<rect x="12" y="125" fill="#fbe5e3"/>
<rect x="13" y="125" fill="#dad2ed"/>
<rect x="14" y="125" fill="#b1a1da"/>
<rect x="15" y="125" fill="#bfb2e1"/>
<rect x="16" y="125" fill="#c2b6e2"/>
<rect x="17" y="125" fill="#b7a8dd"/>
<rect x="18" y="125" fill="#f7c4be"/>
<rect x="19" y="125" fill="#8875c3"/>
<rect x="0" y="126" fill="#f3ada4"/>
<rect x="1" y="126" fill="#f7c5be"/>
<rect x="2" y="126" fill="#f3afa6"/>
<rect x="3" y="126" fill="#fef6f5"/>
<rect x="4" y="126" fill="#f2a89e"/>
<rect x="5" y="126" fill="#d6ceec"/>
<rect x="6" y="126" fill="#d9d2ed"/>
<rect x="7" y="126" fill="#f4f2fa"/>
<rect x="8" y="126" fill="#f9d6d1"/>
<rect x="9" y="126" fill="#f4f2fa"/>
<rect x="10" y="126" fill="#ddd6ef"/>
<rect x="11" y="126" fill="#e4def2"/>
<rect x="12" y="126" fill="#f8ccc7"/>
<rect x="13" y="126" fill="#e8e3f4"/>
<rect x="14" y="126" fill="#cec4e8"/>
<rect x="15" y="126" fill="#ae9dd9"/>
<rect x="16" y="126" fill="#cbc1e7"/>
<rect x="17" y="126" fill="#dad2ee"/>
<rect x="18" y="126" fill="#f5b9b1"/>
<rect x="19" y="126" fill="#b0a0da"/>
<rect x="0" y="127" fill="#f4b2a9"/>
<rect x="1" y="127" fill="#f7cbc5"/>
<rect x="2" y="127" fill="#f4b5ad"/>
<rect x="3" y="127" fill="#fadedb"/>
<rect x="4" y="127" fill="#f09c92"/>
<rect x="5" y="127" fill="#dbd3ee"/>
<rect x="6" y="127" fill="#f1eef8"/>
<rect x="7" y="127" fill="#ede9f7"/>
<rect x="8" y="127" fill="#f3afa6"/>
<rect x="9" y="127" fill="#fdf2f0"/>
<rect x="10" y="127" fill="#f7f5fb"/>
<rect x="11" y="127" fill="#fef8f8"/>
<rect x="12" y="127" fill="#f6c1ba"/>
<rect x="13" y="127" fill="#f3f1f9"/>
<rect x="14" y="127" fill="#ded7ef"/>
<rect x="15" y="127" fill="#d1c7e9"/>
<rect x="16" y="127" fill="#c0b3e2"/>
<rect x="17" y="127" fill="#efecf7"/>
<rect x="18" y="127" fill="#f5b7b0"/>
<rect x="19" y="127" fill="#c0b3e1"/>
<rect x="0" y="128" fill="#f4b1a8"/>
<rect x="1" y="128" fill="#f7c6bf"/>
<rect x="2" y="128" fill="#f4b0a7"/>
<rect x="3" y="128" fill="#fdfcfe"/>
<rect x="4" y="128" fill="#ee978d"/>
<rect x="5" y="128" fill="#ece8f6"/>
<rect x="6" y="128" fill="#edeaf7"/>
<rect x="7" y="128" fill="#efecf7"/>
<rect x="8" y="128" fill="#f4b6ae"/>
<rect x="9" y="128" fill="#fdf3f1"/>
<rect x="10" y="128" fill="#fef5f3"/>
<rect x="11" y="128" fill="#f3f0f9"/>
<rect x="12" y="128" fill="#f3a9a0"/>
<rect x="13" y="128" fill="#d4cceb"/>
<rect x="14" y="128" fill="#d5cceb"/>
<rect x="15" y="128" fill="#d5cceb"/>
<rect x="16" y="128" fill="#cabfe6"/>
<rect x="17" y="128" fill="#dbd4ee"/>
<rect x="18" y="128" fill="#f5b9b2"/>
<rect x="19" y="128" fill="#ccc1e7"/>
<rect x="0" y="129" fill="#f9d7d2"/>
<rect x="1" y="129" fill="#fce9e7"/>
<rect x="2" y="129" fill="#f8d1cb"/>
<rect x="3" y="129" fill="#fef8f7"/>
<rect x="4" y="129" fill="#f4b3aa"/>
<rect x="5" y="129" fill="#baabde"/>
<rect x="6" y="129" fill="#e5e0f3"/>
<rect x="7" y="129" fill="#d6cdec"/>
<rect x="8" y="129" fill="#f8d0cb"/>
<rect x="9" y="129" fill="#fdf2f1"/>
<rect x="10" y="129" fill="#e8e4f4"/>
<rect x="11" y="129" fill="#c4b7e3"/>
<rect x="12" y="129" fill="#f9d2ce"/>
<rect x="13" y="129" fill="#c8bde5"/>
<rect x="14" y="129" fill="#b2a2db"/>
<rect x="15" y="129" fill="#b7a9dd"/>
<rect x="16" y="129" fill="#c3b6e3"/>
<rect x="17" y="129" fill="#d6cdec"/>
<rect x="18" y="129" fill="#fadcd8"/>
<rect x="19" y="129" fill="#cfc5e8"/>
<rect x="0" y="130" fill="#f9d6d1"/>
<rect x="1" y="130" fill="#fce7e4"/>
<rect x="2" y="130" fill="#f7cac4"/>
<rect x="3" y="130" fill="#fffefe"/>
<rect x="4" y="130" fill="#f5bdb6"/>
<rect x="5" y="130" fill="#ddd6ef"/>
<rect x="6" y="130" fill="#d2c9ea"/>
<rect x="7" y="130" fill="#c6bbe4"/>
<rect x="8" y="130" fill="#f8ccc6"/>
<rect x="9" y="130" fill="#edeaf7"/>
<rect x="10" y="130" fill="#d8d0ed"/>
<rect x="11" y="130" fill="#c4b8e3"/>
<rect x="12" y="130" fill="#f9d5d0"/>
<rect x="13" y="130" fill="#cbc0e6"/>
<rect x="14" y="130" fill="#beb0e0"/>
<rect x="15" y="130" fill="#af9ed9"/>
<rect x="16" y="130" fill="#a492d4"/>
<rect x="17" y="130" fill="#ddd6ef"/>
<rect x="18" y="130" fill="#fadbd7"/>
<rect x="19" y="130" fill="#bdb0e0"/>
<rect x="0" y="131" fill="#f8ccc6"/>
<rect x="1" y="131" fill="#fadfdb"/>
<rect x="2" y="131" fill="#fdf4f3"/>
<rect x="3" y="131" fill="#f1eef8"/>
<rect x="4" y="131" fill="#f9d5d0"/>
<rect x="5" y="131" fill="#e7e2f4"/>
<rect x="6" y="131" fill="#b2a2db"/>
<rect x="7" y="131" fill="#ddd6ef"/>
<rect x="8" y="131" fill="#f5bdb5"/>
<rect x="9" y="131" fill="#f4f2fa"/>
<rect x="10" y="131" fill="#e2dcf1"/>
<rect x="11" y="131" fill="#beb1e1"/>
<rect x="12" y="131" fill="#f9d7d3"/>
<rect x="13" y="131" fill="#d6ceec"/>
<rect x="14" y="131" fill="#c0b3e2"/>
<rect x="15" y="131" fill="#baabde"/>
<rect x="16" y="131" fill="#a997d6"/>
<rect x="17" y="131" fill="#cec4e8"/>
<rect x="18" y="131" fill="#fadad6"/>
<rect x="19" y="131" fill="#ae9dd9"/>
<rect x="0" y="132" fill="#fceae8"/>
<rect x="1" y="132" fill="#fdefed"/>
<rect x="2" y="132" fill="#fdf3f1"/>
<rect x="3" y="132" fill="#f1eef9"/>
<rect x="4" y="132" fill="#fffefe"/>
<rect x="5" y="132" fill="#cbc0e6"/>
<rect x="6" y="132" fill="#b1a0da"/>
<rect x="7" y="132" fill="#ddd6ef"/>
<rect x="8" y="132" fill="#fceae7"/>
<rect x="9" y="132" fill="#e4def2"/>
<rect x="10" y="132" fill="#dbd4ee"/>
<rect x="11" y="132" fill="#c0b3e1"/>
<rect x="12" y="132" fill="#f8d1cc"/>
<rect x="13" y="132" fill="#ddd6ef"/>
<rect x="14" y="132" fill="#a492d4"/>
<rect x="15" y="132" fill="#b5a6dc"/>
<rect x="16" y="132" fill="#9e8cd0"/>
<rect x="17" y="132" fill="#bdb0e0"/>
<rect x="18" y="132" fill="#f7c6c0"/>
<rect x="19" y="132" fill="#8876c4"/>
<rect x="0" y="133" fill="#fbe1de"/>
<rect x="1" y="133" fill="#fdf1ef"/>
<rect x="2" y="133" fill="#f8d1cc"/>
<rect x="3" y="133" fill="#fef9f8"/>
<rect x="4" y="133" fill="#f8cdc7"/>
<rect x="5" y="133" fill="#d7ceec"/>
<rect x="6" y="133" fill="#b6a7dc"/>
<rect x="7" y="133" fill="#e4def2"/>
<rect x="8" y="133" fill="#fbe0dd"/>
<rect x="9" y="133" fill="#e5e0f3"/>
<rect x="10" y="133" fill="#d3c9ea"/>
<rect x="11" y="133" fill="#c2b5e2"/>
<rect x="12" y="133" fill="#f6bfb8"/>
<rect x="13" y="133" fill="#d5cceb"/>
<rect x="14" y="133" fill="#b6a7dd"/>
<rect x="15" y="133" fill="#b5a5dc"/>
<rect x="16" y="133" fill="#8876c4"/>
<rect x="17" y="133" fill="#bcafe0"/>
<rect x="18" y="133" fill="#fef8f7"/>
<rect x="19" y="133" fill="#8976c4"/>
<rect x="0" y="134" fill="#f7c6bf"/>
<rect x="1" y="134" fill="#fadad6"/>
<rect x="2" y="134" fill="#f8cbc6"/>
<rect x="3" y="134" fill="#fbe4e1"/>
<rect x="4" y="134" fill="#f8cdc8"/>
<rect x="5" y="134" fill="#cfc5e8"/>
<rect x="6" y="134" fill="#c6bbe4"/>
<rect x="7" y="134" fill="#d0c6e9"/>
<rect x="8" y="134" fill="#f8cfca"/>
<rect x="9" y="134" fill="#ece8f6"/>
<rect x="10" y="134" fill="#d4cbeb"/>
<rect x="11" y="134" fill="#ccc1e7"/>
<rect x="12" y="134" fill="#f7c8c2"/>
<rect x="13" y="134" fill="#ded7f0"/>
<rect x="14" y="134" fill="#ad9cd8"/>
<rect x="15" y="134" fill="#c1b4e2"/>
<rect x="16" y="134" fill="#9380ca"/>
<rect x="17" y="134" fill="#dbd3ee"/>
<rect x="18" y="134" fill="#d7cfec"/>
<rect x="19" y="134" fill="#816fbf"/>
<rect x="0" y="135" fill="#fbe3e0"/>
<rect x="1" y="135" fill="#f9d7d2"/>
<rect x="2" y="135" fill="#f6c2bb"/>
<rect x="3" y="135" fill="#fbe0dd"/>
<rect x="4" y="135" fill="#f9d5d1"/>
<rect x="5" y="135" fill="#e0d9f0"/>
<rect x="6" y="135" fill="#d4cbeb"/>
<rect x="7" y="135" fill="#ccc2e7"/>
<rect x="8" y="135" fill="#f5b7af"/>
<rect x="9" y="135" fill="#f8f7fc"/>
<rect x="10" y="135" fill="#dcd4ee"/>
<rect x="11" y="135" fill="#cabfe6"/>
<rect x="12" y="135" fill="#f5bab3"/>
<rect x="13" y="135" fill="#e9e4f4"/>
<rect x="14" y="135" fill="#cec4e8"/>
<rect x="15" y="135" fill="#cabfe6"/>
<rect x="16" y="135" fill="#9b89cf"/>
<rect x="17" y="135" fill="#dfd8f0"/>
<rect x="18" y="135" fill="#f4f2fa"/>
<rect x="19" y="135" fill="#8572c1"/>
<rect x="0" y="136" fill="#f7c5bf"/>
<rect x="1" y="136" fill="#f8d1cc"/>
<rect x="2" y="136" fill="#fadedb"/>
<rect x="3" y="136" fill="#fadcd9"/>
<rect x="4" y="136" fill="#f6c0b9"/>
<rect x="5" y="136" fill="#e8e3f4"/>
<rect x="6" y="136" fill="#cfc4e8"/>
<rect x="7" y="136" fill="#eae5f5"/>
<rect x="8" y="136" fill="#f5b7af"/>
<rect x="9" y="136" fill="#f7f5fb"/>
<rect x="10" y="136" fill="#d6ceec"/>
<rect x="11" y="136" fill="#d6cdec"/>
<rect x="12" y="136" fill="#f7cac4"/>
<rect x="13" y="136" fill="#e0d9f0"/>
<rect x="14" y="136" fill="#eae6f5"/>
<rect x="15" y="136" fill="#dbd4ee"/>
<rect x="16" y="136" fill="#b9aade"/>
<rect x="17" y="136" fill="#f8f6fc"/>
<rect x="18" y="136" fill="#fefeff"/>
<rect x="19" y="136" fill="#715eb6"/>
<rect x="0" y="137" fill="#f2a69d"/>
<rect x="1" y="137" fill="#f6beb7"/>
<rect x="2" y="137" fill="#fadedb"/>
<rect x="3" y="137" fill="#f6c4bd"/>
<rect x="4" y="137" fill="#f09d93"/>
<rect x="5" y="137" fill="#eae5f5"/>
<rect x="6" y="137" fill="#dfd9f0"/>
<rect x="7" y="137" fill="#f8f7fc"/>
<rect x="8" y="137" fill="#f3afa6"/>
<rect x="9" y="137" fill="#fce8e6"/>
<rect x="10" y="137" fill="#e6e1f3"/>
<rect x="11" y="137" fill="#e7e2f4"/>
<rect x="12" y="137" fill="#f5b8b1"/>
<rect x="13" y="137" fill="#ddd5ef"/>
<rect x="14" y="137" fill="#d5cdeb"/>
<rect x="15" y="137" fill="#fefbfa"/>
<rect x="16" y="137" fill="#c2b5e2"/>
<rect x="17" y="137" fill="#fdf4f3"/>
<rect x="18" y="137" fill="#fcecea"/>
<rect x="19" y="137" fill="#ac9ad8"/>
<rect x="0" y="138" fill="#f5b8b0"/>
<rect x="1" y="138" fill="#f6c2bb"/>
<rect x="2" y="138" fill="#fbe4e1"/>
<rect x="3" y="138" fill="#f9d3ce"/>
<rect x="4" y="138" fill="#ef9990"/>
<rect x="5" y="138" fill="#cec4e8"/>
<rect x="6" y="138" fill="#e2dcf1"/>
<rect x="7" y="138" fill="#faf9fc"/>
<rect x="8" y="138" fill="#f09b91"/>
<rect x="9" y="138" fill="#fffdfc"/>
<rect x="10" y="138" fill="#ddd7ef"/>
<rect x="11" y="138" fill="#c6bae4"/>
<rect x="12" y="138" fill="#f7c6c0"/>
<rect x="13" y="138" fill="#f1eef8"/>
<rect x="14" y="138" fill="#f0edf8"/>
<rect x="15" y="138" fill="#d5cdeb"/>
<rect x="16" y="138" fill="#cfc5e8"/>
<rect x="17" y="138" fill="#fffefe"/>
<rect x="18" y="138" fill="#fefeff"/>
<rect x="19" y="138" fill="#c1b5e2"/>
<rect x="0" y="139" fill="#f9d5d0"/>
<rect x="1" y="139" fill="#faddd9"/>
<rect x="2" y="139" fill="#f7cac4"/>
<rect x="3" y="139" fill="#fadad6"/>
<rect x="4" y="139" fill="#f2a399"/>
<rect x="5" y="139" fill="#c6bae4"/>
<rect x="6" y="139" fill="#d3caea"/>
<rect x="7" y="139" fill="#e6e1f3"/>
<rect x="8" y="139" fill="#f5bdb6"/>
<rect x="9" y="139" fill="#eeebf7"/>
<rect x="10" y="139" fill="#c4b8e3"/>
<rect x="11" y="139" fill="#af9fd9"/>
<rect x="12" y="139" fill="#fcecea"/>
<rect x="13" y="139" fill="#f1eff9"/>
<rect x="14" y="139" fill="#beb1e0"/>
<rect x="15" y="139" fill="#9481ca"/>
<rect x="16" y="139" fill="#aa99d7"/>
<rect x="17" y="139" fill="#dad2ed"/>
<rect x="18" y="139" fill="#e3ddf2"/>
<rect x="19" y="139" fill="#ab99d7"/>
<rect x="0" y="140" fill="#f8cfc9"/>
<rect x="1" y="140" fill="#fbe1dd"/>
<rect x="2" y="140" fill="#f7c6c0"/>
<rect x="3" y="140" fill="#fbe6e3"/>
<rect x="4" y="140" fill="#f3aea5"/>
<rect x="5" y="140" fill="#fffefe"/>
<rect x="6" y="140" fill="#d9d2ed"/>
<rect x="7" y="140" fill="#d5cceb"/>
<rect x="8" y="140" fill="#f1a096"/>
<rect x="9" y="140" fill="#fffcfb"/>
<rect x="10" y="140" fill="#dcd5ef"/>
<rect x="11" y="140" fill="#cabfe6"/>
<rect x="12" y="140" fill="#f7cac4"/>
<rect x="13" y="140" fill="#f6f4fb"/>
<rect x="14" y="140" fill="#d7ceec"/>
<rect x="15" y="140" fill="#bcafe0"/>
<rect x="16" y="140" fill="#beb1e0"/>
<rect x="17" y="140" fill="#d8d0ec"/>
<rect x="18" y="140" fill="#eae6f5"/>
<rect x="19" y="140" fill="#8d7bc6"/>
<rect x="0" y="141" fill="#f4b2aa"/>
<rect x="1" y="141" fill="#f9d4d0"/>
<rect x="2" y="141" fill="#f4b2a9"/>
<rect x="3" y="141" fill="#f5b7af"/>
<rect x="4" y="141" fill="#ef978e"/>
<rect x="5" y="141" fill="#eae6f5"/>
<rect x="6" y="141" fill="#dfd9f0"/>
<rect x="7" y="141" fill="#ebe7f5"/>
<rect x="8" y="141" fill="#f2a69c"/>
<rect x="9" y="141" fill="#fdefed"/>
<rect x="10" y="141" fill="#f6f4fb"/>
<rect x="11" y="141" fill="#dbd3ee"/>
<rect x="12" y="141" fill="#f8cbc6"/>
<rect x="13" y="141" fill="#fffcfb"/>
<rect x="14" y="141" fill="#d7ceec"/>
<rect x="15" y="141" fill="#cabfe6"/>
<rect x="16" y="141" fill="#b6a7dd"/>
<rect x="17" y="141" fill="#d4cbeb"/>
<rect x="18" y="141" fill="#e6e1f3"/>
<rect x="19" y="141" fill="#9280c9"/>
<rect x="0" y="142" fill="#fceae8"/>
<rect x="1" y="142" fill="#f7cbc5"/>
<rect x="2" y="142" fill="#f9d4d0"/>
<rect x="3" y="142" fill="#fbe3e0"/>
<rect x="4" y="142" fill="#f3aea5"/>
<rect x="5" y="142" fill="#bcafe0"/>
<rect x="6" y="142" fill="#e3def2"/>
<rect x="7" y="142" fill="#cfc6e9"/>
<rect x="8" y="142" fill="#f4b2a9"/>
<rect x="9" y="142" fill="#f6f4fb"/>
<rect x="10" y="142" fill="#e3ddf2"/>
<rect x="11" y="142" fill="#cdc2e7"/>
<rect x="12" y="142" fill="#f8cfca"/>
<rect x="13" y="142" fill="#d3caea"/>
<rect x="14" y="142" fill="#b2a2db"/>
<rect x="15" y="142" fill="#bcaedf"/>
<rect x="16" y="142" fill="#bcaedf"/>
<rect x="17" y="142" fill="#ccc2e7"/>
<rect x="18" y="142" fill="#eae6f5"/>
<rect x="19" y="142" fill="#8674c2"/>
<rect x="0" y="143" fill="#f6c1ba"/>
<rect x="1" y="143" fill="#fadeda"/>
<rect x="2" y="143" fill="#f6c1ba"/>
<rect x="3" y="143" fill="#fbe1de"/>
<rect x="4" y="143" fill="#f4b4ac"/>
<rect x="5" y="143" fill="#cbc0e7"/>
<rect x="6" y="143" fill="#d6ceec"/>
<rect x="7" y="143" fill="#cec3e8"/>
<rect x="8" y="143" fill="#f6c1ba"/>
<rect x="9" y="143" fill="#fadbd7"/>
<rect x="10" y="143" fill="#fbfbfd"/>
<rect x="11" y="143" fill="#d3caea"/>
<rect x="12" y="143" fill="#f5b8b1"/>
<rect x="13" y="143" fill="#d7cfec"/>
<rect x="14" y="143" fill="#9a88ce"/>
<rect x="15" y="143" fill="#ab9ad7"/>
<rect x="16" y="143" fill="#bbaddf"/>
<rect x="17" y="143" fill="#f1eef9"/>
<rect x="18" y="143" fill="#f2eff9"/>
<rect x="19" y="143" fill="#7e6cbe"/>
<rect x="0" y="144" fill="#f8d1cc"/>
<rect x="1" y="144" fill="#fcebe9"/>
<rect x="2" y="144" fill="#f7c6c0"/>
<rect x="3" y="144" fill="#fceae8"/>
<rect x="4" y="144" fill="#f7c5bf"/>
<rect x="5" y="144" fill="#cbc0e6"/>
<rect x="6" y="144" fill="#c8bce5"/>
<rect x="7" y="144" fill="#d7cfec"/>
<rect x="8" y="144" fill="#f3aca2"/>
<rect x="9" y="144" fill="#fdf4f3"/>
<rect x="10" y="144" fill="#fef6f5"/>
<rect x="11" y="144" fill="#b9abde"/>
<rect x="12" y="144" fill="#f5bbb4"/>
<rect x="13" y="144" fill="#d0c6e9"/>
<rect x="14" y="144" fill="#b1a1da"/>
<rect x="15" y="144" fill="#b7a9dd"/>
<rect x="16" y="144" fill="#baabde"/>
<rect x="17" y="144" fill="#f7f6fb"/>
<rect x="18" y="144" fill="#e8e3f4"/>
<rect x="19" y="144" fill="#6e5bb4"/>
<rect x="0" y="145" fill="#f7c6bf"/>
<rect x="1" y="145" fill="#fce7e4"/>
<rect x="2" y="145" fill="#f5b8b1"/>
<rect x="3" y="145" fill="#f8d0cb"/>
<rect x="4" y="145" fill="#f9d5d0"/>
<rect x="5" y="145" fill="#dcd5ee"/>
<rect x="6" y="145" fill="#dcd5ef"/>
<rect x="7" y="145" fill="#bfb2e1"/>
<rect x="8" y="145" fill="#f4b2aa"/>
<rect x="9" y="145" fill="#ffffff"/>
<rect x="10" y="145" fill="#dbd4ee"/>
<rect x="11" y="145" fill="#d6ceec"/>
<rect x="12" y="145" fill="#f5bdb6"/>
<rect x="13" y="145" fill="#d7ceec"/>
<rect x="14" y="145" fill="#c3b6e3"/>
<rect x="15" y="145" fill="#c5b9e4"/>
<rect x="16" y="145" fill="#bcafe0"/>
<rect x="17" y="145" fill="#f3f1f9"/>
<rect x="18" y="145" fill="#f1eef8"/>
<rect x="19" y="145" fill="#6955b1"/>
<rect x="0" y="146" fill="#f7c5bf"/>
<rect x="1" y="146" fill="#faf9fc"/>
<rect x="2" y="146" fill="#f1a298"/>
<rect x="3" y="146" fill="#fbe4e1"/>
<rect x="4" y="146" fill="#f9d9d4"/>
<rect x="5" y="146" fill="#c4b8e3"/>
<rect x="6" y="146" fill="#d9d1ed"/>
<rect x="7" y="146" fill="#ccc2e7"/>
<rect x="8" y="146" fill="#f6c3bc"/>
<rect x="9" y="146" fill="#f6f4fb"/>
<rect x="10" y="146" fill="#cdc2e7"/>
<rect x="11" y="146" fill="#c5b9e4"/>
<rect x="12" y="146" fill="#f7c4be"/>
<rect x="13" y="146" fill="#d5cdeb"/>
<rect x="14" y="146" fill="#ccc1e7"/>
<rect x="15" y="146" fill="#beb0e0"/>
<rect x="16" y="146" fill="#b3a3db"/>
<rect x="17" y="146" fill="#ede9f6"/>
<rect x="18" y="146" fill="#ffffff"/>
<rect x="19" y="146" fill="#8370c0"/>
<rect x="0" y="147" fill="#f6c3bc"/>
<rect x="1" y="147" fill="#fdf0ee"/>
<rect x="2" y="147" fill="#f4b6ae"/>
<rect x="3" y="147" fill="#f9d8d4"/>
<rect x="4" y="147" fill="#f6c2bc"/>
<rect x="5" y="147" fill="#d2c9ea"/>
<rect x="6" y="147" fill="#c8bce5"/>
<rect x="7" y="147" fill="#c3b7e3"/>
<rect x="8" y="147" fill="#f5b7af"/>
<rect x="9" y="147" fill="#fdf3f1"/>
<rect x="10" y="147" fill="#ddd6ef"/>
<rect x="11" y="147" fill="#baacdf"/>
<rect x="12" y="147" fill="#f6c3bd"/>
<rect x="13" y="147" fill="#e6e1f3"/>
<rect x="14" y="147" fill="#c0b3e1"/>
<rect x="15" y="147" fill="#c7bce5"/>
<rect x="16" y="147" fill="#b0a0da"/>
<rect x="17" y="147" fill="#dfd8f0"/>
<rect x="18" y="147" fill="#e9e4f5"/>
<rect x="19" y="147" fill="#9a88ce"/>
<rect x="0" y="148" fill="#f7cbc5"/>
<rect x="1" y="148" fill="#fce9e6"/>
<rect x="2" y="148" fill="#f3aca3"/>
<rect x="3" y="148" fill="#f9d2ce"/>
<rect x="4" y="148" fill="#f6bfb7"/>
<rect x="5" y="148" fill="#f5f3fa"/>
<rect x="6" y="148" fill="#cfc5e9"/>
<rect x="7" y="148" fill="#c6bbe4"/>
<rect x="8" y="148" fill="#f2a69c"/>
<rect x="9" y="148" fill="#fef9f8"/>
<rect x="10" y="148" fill="#e5e0f3"/>
<rect x="11" y="148" fill="#cabfe6"/>
<rect x="12" y="148" fill="#f8cdc7"/>
<rect x="13" y="148" fill="#dcd5ee"/>
<rect x="14" y="148" fill="#c6bae4"/>
<rect x="15" y="148" fill="#dbd4ee"/>
<rect x="16" y="148" fill="#a492d4"/>
<rect x="17" y="148" fill="#f7f6fb"/>
<rect x="18" y="148" fill="#f4f2fa"/>
<rect x="19" y="148" fill="#8471c1"/>
<rect x="0" y="149" fill="#f5bbb3"/>
<rect x="1" y="149" fill="#fbe4e2"/>
<rect x="2" y="149" fill="#f9d3ce"/>
<rect x="3" y="149" fill="#f9d4cf"/>
<rect x="4" y="149" fill="#f7c9c3"/>
<rect x="5" y="149" fill="#f4f2fa"/>
<rect x="6" y="149" fill="#bcaedf"/>
<rect x="7" y="149" fill="#d4cbeb"/>
<rect x="8" y="149" fill="#f5bab2"/>
<rect x="9" y="149" fill="#f0edf8"/>
<rect x="10" y="149" fill="#e0daf0"/>
<rect x="11" y="149" fill="#d2c9ea"/>
<rect x="12" y="149" fill="#f8cbc6"/>
<rect x="13" y="149" fill="#d6ceec"/>
<rect x="14" y="149" fill="#cdc3e7"/>
<rect x="15" y="149" fill="#b8aade"/>
<rect x="16" y="149" fill="#b4a4dc"/>
<rect x="17" y="149" fill="#f6f4fb"/>
<rect x="18" y="149" fill="#fdf2f0"/>
<rect x="19" y="149" fill="#9c8acf"/>
</g>
<rect x="21.4" y="30.3" width="121.4" height="160.4" fill="none" stroke="#444" stroke-width="0.9"/>
<line x1="45.68" y1="30.3" x2="45.68" y2="190.7" stroke="#333" stroke-width="0.9"/>
<line x1="69.96" y1="30.3" x2="69.96" y2="190.7" stroke="#333" stroke-width="0.9"/>
<line x1="94.24" y1="30.3" x2="94.24" y2="190.7" stroke="#333" stroke-width="0.9"/>
<line x1="118.52" y1="30.3" x2="118.52" y2="190.7" stroke="#333" stroke-width="0.9"/>
<line x1="12.7" y1="35" x2="12.7" y2="189" stroke="#111" stroke-width="0.8"/>
<path d="M12.7 30.8L10.9 37L14.5 37Z" fill="#111"/>
<path d="M12.7 193.6L10.9 187.4L14.5 187.4Z" fill="#111"/>
<text transform="translate(7 112.2) rotate(-89.95)" font-size="8.2" text-anchor="middle" stroke="#000" stroke-width="0.2">381 lipids</text>
<text transform="translate(26.43 192.8) rotate(-89.95)" font-size="5.5" text-anchor="end" stroke="#000" stroke-width="0.17">Control_0h</text>
<text transform="translate(32.5 192.8) rotate(-89.95)" font-size="5.5" text-anchor="end" stroke="#000" stroke-width="0.17">LPS_0h</text>
<text transform="translate(38.58 192.8) rotate(-89.95)" font-size="5.5" text-anchor="end" stroke="#000" stroke-width="0.17">ILG_0h</text>
<text transform="translate(44.64 192.8) rotate(-89.95)" font-size="5.5" text-anchor="end" stroke="#000" stroke-width="0.17">GU_0h</text>
<text transform="translate(50.72 192.8) rotate(-89.95)" font-size="5.5" text-anchor="end" stroke="#000" stroke-width="0.17">Control_15m</text>
<text transform="translate(56.79 192.8) rotate(-89.95)" font-size="5.5" text-anchor="end" stroke="#000" stroke-width="0.17">LPS_15m</text>
<text transform="translate(62.85 192.8) rotate(-89.95)" font-size="5.5" text-anchor="end" stroke="#000" stroke-width="0.17">ILG_15m</text>
<text transform="translate(68.93 192.8) rotate(-89.95)" font-size="5.5" text-anchor="end" stroke="#000" stroke-width="0.17">GU_15m</text>
<text transform="translate(75 192.8) rotate(-89.95)" font-size="5.5" text-anchor="end" stroke="#000" stroke-width="0.17">Control_1h</text>
<text transform="translate(81.06 192.8) rotate(-89.95)" font-size="5.5" text-anchor="end" stroke="#000" stroke-width="0.17">LPS_1h</text>
<text transform="translate(87.13 192.8) rotate(-89.95)" font-size="5.5" text-anchor="end" stroke="#000" stroke-width="0.17">ILG_1h</text>
<text transform="translate(93.21 192.8) rotate(-89.95)" font-size="5.5" text-anchor="end" stroke="#000" stroke-width="0.17">GU_1h</text>
<text transform="translate(99.28 192.8) rotate(-89.95)" font-size="5.5" text-anchor="end" stroke="#000" stroke-width="0.17">Control_6h</text>
<text transform="translate(105.34 192.8) rotate(-89.95)" font-size="5.5" text-anchor="end" stroke="#000" stroke-width="0.17">LPS_6h</text>
<text transform="translate(111.41 192.8) rotate(-89.95)" font-size="5.5" text-anchor="end" stroke="#000" stroke-width="0.17">ILG_6h</text>
<text transform="translate(117.49 192.8) rotate(-89.95)" font-size="5.5" text-anchor="end" stroke="#000" stroke-width="0.17">GU_6h</text>
<text transform="translate(123.56 192.8) rotate(-89.95)" font-size="5.5" text-anchor="end" stroke="#000" stroke-width="0.17">Control_24h</text>
<text transform="translate(129.62 192.8) rotate(-89.95)" font-size="5.5" text-anchor="end" stroke="#000" stroke-width="0.17">LPS_24h</text>
<text transform="translate(135.69 192.8) rotate(-89.95)" font-size="5.5" text-anchor="end" stroke="#000" stroke-width="0.17">ILG_24h</text>
<text transform="translate(141.77 192.8) rotate(-89.95)" font-size="5.5" text-anchor="end" stroke="#000" stroke-width="0.17">GU_24h</text>
<defs><linearGradient id="zg" x1="0" x2="1" y1="0" y2="0"><stop offset="0" stop-color="#0b0b86"/><stop offset="0.19" stop-color="#8a80c8"/><stop offset="0.375" stop-color="#ffffff"/><stop offset="0.7" stop-color="#ec8f86"/><stop offset="1" stop-color="#c81414"/></linearGradient></defs>
<rect x="98.8" y="245.8" width="43.7" height="8.3" fill="url(#zg)"/>
<line x1="99.8" y1="245.8" x2="99.8" y2="247.3" stroke="#fff" stroke-width="0.6"/>
<line x1="99.8" y1="252.6" x2="99.8" y2="254.1" stroke="#fff" stroke-width="0.6"/>
<line x1="141.5" y1="245.8" x2="141.5" y2="247.3" stroke="#fff" stroke-width="0.6"/>
<line x1="141.5" y1="252.6" x2="141.5" y2="254.1" stroke="#fff" stroke-width="0.6"/>
<text transform="translate(119.8 243) rotate(0.05)" font-size="7.2" text-anchor="middle" fill="#222" stroke="#222" stroke-width="0.2">Z-score</text>
<text transform="translate(100.1 260.4) rotate(0.05)" font-size="7" text-anchor="middle" fill="#222" stroke="#222" stroke-width="0.2">-3</text>
<text transform="translate(115.3 260.4) rotate(0.05)" font-size="7" text-anchor="middle" fill="#222" stroke="#222" stroke-width="0.2">0</text>
<text transform="translate(140.6 260.4) rotate(0.05)" font-size="7" text-anchor="middle" fill="#222" stroke="#222" stroke-width="0.2">5</text>
<line x1="146.1" y1="75.8" x2="146.1" y2="100.1" stroke="#000" stroke-width="1.4"/>
<line x1="146.8" y1="88.5" x2="156" y2="88.5" stroke="#111" stroke-width="0.9" stroke-dasharray="1.6 1.2"/>
<path d="M161.9 88.5L156 85.4L156 91.6Z" fill="#150a0a"/>
<g shape-rendering="crispEdges">
<rect x="163.5" y="0.5" width="5.53" height="5.57" fill="#ebe7f6"/>
<rect x="168.97" y="0.5" width="5.53" height="5.57" fill="#f2a59b"/>
<rect x="174.45" y="0.5" width="5.53" height="5.57" fill="#da453f"/>
<rect x="179.93" y="0.5" width="5.53" height="5.57" fill="#f2eff9"/>
<rect x="163.5" y="6.02" width="5.53" height="5.57" fill="#f8f7fc"/>
<rect x="168.97" y="6.02" width="5.53" height="5.57" fill="#f8cfc9"/>
<rect x="174.45" y="6.02" width="5.53" height="5.57" fill="#d6342e"/>
<rect x="179.93" y="6.02" width="5.53" height="5.57" fill="#f2eff9"/>
<rect x="163.5" y="11.53" width="5.53" height="5.57" fill="#ebe7f6"/>
<rect x="168.97" y="11.53" width="5.53" height="5.57" fill="#f7c8c1"/>
<rect x="174.45" y="11.53" width="5.53" height="5.57" fill="#d6342e"/>
<rect x="179.93" y="11.53" width="5.53" height="5.57" fill="#ffffff"/>
<rect x="163.5" y="17.05" width="5.53" height="5.57" fill="#f2eff9"/>
<rect x="168.97" y="17.05" width="5.53" height="5.57" fill="#f7c8c1"/>
<rect x="174.45" y="17.05" width="5.53" height="5.57" fill="#d6342e"/>
<rect x="179.93" y="17.05" width="5.53" height="5.57" fill="#f8f7fc"/>
<rect x="163.5" y="22.57" width="5.53" height="5.57" fill="#e4dff2"/>
<rect x="168.97" y="22.57" width="5.53" height="5.57" fill="#f6c1ba"/>
<rect x="174.45" y="22.57" width="5.53" height="5.57" fill="#d83d36"/>
<rect x="179.93" y="22.57" width="5.53" height="5.57" fill="#f2eff9"/>
<rect x="163.5" y="28.09" width="5.53" height="5.57" fill="#ebe7f6"/>
<rect x="168.97" y="28.09" width="5.53" height="5.57" fill="#f6c1ba"/>
<rect x="174.45" y="28.09" width="5.53" height="5.57" fill="#d6342e"/>
<rect x="179.93" y="28.09" width="5.53" height="5.57" fill="#f8f7fc"/>
<rect x="163.5" y="33.6" width="5.53" height="5.57" fill="#fceeec"/>
<rect x="168.97" y="33.6" width="5.53" height="5.57" fill="#f09c93"/>
<rect x="174.45" y="33.6" width="5.53" height="5.57" fill="#f09c93"/>
<rect x="179.93" y="33.6" width="5.53" height="5.57" fill="#ebe7f6"/>
<rect x="163.5" y="39.12" width="5.53" height="5.57" fill="#fae0dc"/>
<rect x="168.97" y="39.12" width="5.53" height="5.57" fill="#f09c93"/>
<rect x="174.45" y="39.12" width="5.53" height="5.57" fill="#ee948a"/>
<rect x="179.93" y="39.12" width="5.53" height="5.57" fill="#d7cfec"/>
<rect x="163.5" y="44.64" width="5.53" height="5.57" fill="#ffffff"/>
<rect x="168.97" y="44.64" width="5.53" height="5.57" fill="#f2a59b"/>
<rect x="174.45" y="44.64" width="5.53" height="5.57" fill="#f2a59b"/>
<rect x="179.93" y="44.64" width="5.53" height="5.57" fill="#f2eff9"/>
<rect x="163.5" y="50.16" width="5.53" height="5.57" fill="#c3b6e3"/>
<rect x="168.97" y="50.16" width="5.53" height="5.57" fill="#fceae8"/>
<rect x="174.45" y="50.16" width="5.53" height="5.57" fill="#f4b3aa"/>
<rect x="179.93" y="50.16" width="5.53" height="5.57" fill="#df5750"/>
<rect x="163.5" y="55.67" width="5.53" height="5.57" fill="#f2eff9"/>
<rect x="168.97" y="55.67" width="5.53" height="5.57" fill="#ee948a"/>
<rect x="174.45" y="55.67" width="5.53" height="5.57" fill="#f5bab2"/>
<rect x="179.93" y="55.67" width="5.53" height="5.57" fill="#f4b3aa"/>
<rect x="163.5" y="61.19" width="5.53" height="5.57" fill="#fefcfb"/>
<rect x="168.97" y="61.19" width="5.53" height="5.57" fill="#f6c1ba"/>
<rect x="174.45" y="61.19" width="5.53" height="5.57" fill="#f4b3aa"/>
<rect x="179.93" y="61.19" width="5.53" height="5.57" fill="#f09c93"/>
<rect x="163.5" y="66.71" width="5.53" height="5.57" fill="#d0c6e9"/>
<rect x="168.97" y="66.71" width="5.53" height="5.57" fill="#f9d5d1"/>
<rect x="174.45" y="66.71" width="5.53" height="5.57" fill="#f3aca3"/>
<rect x="179.93" y="66.71" width="5.53" height="5.57" fill="#ee948a"/>
<rect x="163.5" y="72.22" width="5.53" height="5.57" fill="#ebe7f6"/>
<rect x="168.97" y="72.22" width="5.53" height="5.57" fill="#df5750"/>
<rect x="174.45" y="72.22" width="5.53" height="5.57" fill="#f09c93"/>
<rect x="179.93" y="72.22" width="5.53" height="5.57" fill="#f8f7fc"/>
<rect x="163.5" y="77.74" width="5.53" height="5.57" fill="#ebe7f6"/>
<rect x="168.97" y="77.74" width="5.53" height="5.57" fill="#da453f"/>
<rect x="174.45" y="77.74" width="5.53" height="5.57" fill="#f2a59b"/>
<rect x="179.93" y="77.74" width="5.53" height="5.57" fill="#ffffff"/>
<rect x="163.5" y="83.26" width="5.53" height="5.57" fill="#e4dff2"/>
<rect x="168.97" y="83.26" width="5.53" height="5.57" fill="#df5750"/>
<rect x="174.45" y="83.26" width="5.53" height="5.57" fill="#ee948a"/>
<rect x="179.93" y="83.26" width="5.53" height="5.57" fill="#ffffff"/>
<rect x="163.5" y="88.78" width="5.53" height="5.57" fill="#ebe7f6"/>
<rect x="168.97" y="88.78" width="5.53" height="5.57" fill="#e15f58"/>
<rect x="174.45" y="88.78" width="5.53" height="5.57" fill="#ec8b82"/>
<rect x="179.93" y="88.78" width="5.53" height="5.57" fill="#f8f7fc"/>
<rect x="163.5" y="94.29" width="5.53" height="5.57" fill="#d7cfec"/>
<rect x="168.97" y="94.29" width="5.53" height="5.57" fill="#e77a71"/>
<rect x="174.45" y="94.29" width="5.53" height="5.57" fill="#ee948a"/>
<rect x="179.93" y="94.29" width="5.53" height="5.57" fill="#fce7e4"/>
<rect x="163.5" y="99.81" width="5.53" height="5.57" fill="#ffffff"/>
<rect x="168.97" y="99.81" width="5.53" height="5.57" fill="#e36860"/>
<rect x="174.45" y="99.81" width="5.53" height="5.57" fill="#f5bab2"/>
<rect x="179.93" y="99.81" width="5.53" height="5.57" fill="#d7cfec"/>
<rect x="163.5" y="105.33" width="5.53" height="5.57" fill="#f2eff9"/>
<rect x="168.97" y="105.33" width="5.53" height="5.57" fill="#e36860"/>
<rect x="174.45" y="105.33" width="5.53" height="5.57" fill="#f6c1ba"/>
<rect x="179.93" y="105.33" width="5.53" height="5.57" fill="#d0c6e9"/>
<rect x="163.5" y="110.84" width="5.53" height="5.57" fill="#ded7ef"/>
<rect x="168.97" y="110.84" width="5.53" height="5.57" fill="#e15f58"/>
<rect x="174.45" y="110.84" width="5.53" height="5.57" fill="#f6c1ba"/>
<rect x="179.93" y="110.84" width="5.53" height="5.57" fill="#ebe7f6"/>
<rect x="163.5" y="116.36" width="5.53" height="5.57" fill="#ded7ef"/>
<rect x="168.97" y="116.36" width="5.53" height="5.57" fill="#e15f58"/>
<rect x="174.45" y="116.36" width="5.53" height="5.57" fill="#f5bab2"/>
<rect x="179.93" y="116.36" width="5.53" height="5.57" fill="#e4dff2"/>
<rect x="163.5" y="121.88" width="5.53" height="5.57" fill="#d7cfec"/>
<rect x="168.97" y="121.88" width="5.53" height="5.57" fill="#e15f58"/>
<rect x="174.45" y="121.88" width="5.53" height="5.57" fill="#f7c8c1"/>
<rect x="179.93" y="121.88" width="5.53" height="5.57" fill="#ffffff"/>
<rect x="163.5" y="127.4" width="5.53" height="5.57" fill="#ded7ef"/>
<rect x="168.97" y="127.4" width="5.53" height="5.57" fill="#e36860"/>
<rect x="174.45" y="127.4" width="5.53" height="5.57" fill="#f6c1ba"/>
<rect x="179.93" y="127.4" width="5.53" height="5.57" fill="#ded7ef"/>
<rect x="163.5" y="132.91" width="5.53" height="5.57" fill="#d0c6e9"/>
<rect x="168.97" y="132.91" width="5.53" height="5.57" fill="#e36860"/>
<rect x="174.45" y="132.91" width="5.53" height="5.57" fill="#f7c8c1"/>
<rect x="179.93" y="132.91" width="5.53" height="5.57" fill="#d7cfec"/>
<rect x="163.5" y="138.43" width="5.53" height="5.57" fill="#fefcfb"/>
<rect x="168.97" y="138.43" width="5.53" height="5.57" fill="#da453f"/>
<rect x="174.45" y="138.43" width="5.53" height="5.57" fill="#fadcd9"/>
<rect x="179.93" y="138.43" width="5.53" height="5.57" fill="#ebe7f6"/>
<rect x="163.5" y="143.95" width="5.53" height="5.57" fill="#f2eff9"/>
<rect x="168.97" y="143.95" width="5.53" height="5.57" fill="#da453f"/>
<rect x="174.45" y="143.95" width="5.53" height="5.57" fill="#fbe3e0"/>
<rect x="179.93" y="143.95" width="5.53" height="5.57" fill="#ebe7f6"/>
<rect x="163.5" y="149.47" width="5.53" height="5.57" fill="#ffffff"/>
<rect x="168.97" y="149.47" width="5.53" height="5.57" fill="#d83d36"/>
<rect x="174.45" y="149.47" width="5.53" height="5.57" fill="#fadcd9"/>
<rect x="179.93" y="149.47" width="5.53" height="5.57" fill="#ebe7f6"/>
<rect x="163.5" y="154.98" width="5.53" height="5.57" fill="#f8f7fc"/>
<rect x="168.97" y="154.98" width="5.53" height="5.57" fill="#d83d36"/>
<rect x="174.45" y="154.98" width="5.53" height="5.57" fill="#fceae8"/>
<rect x="179.93" y="154.98" width="5.53" height="5.57" fill="#e4dff2"/>
<rect x="163.5" y="160.5" width="5.53" height="5.57" fill="#ebe7f6"/>
<rect x="168.97" y="160.5" width="5.53" height="5.57" fill="#d6342e"/>
<rect x="174.45" y="160.5" width="5.53" height="5.57" fill="#f9d5d1"/>
<rect x="179.93" y="160.5" width="5.53" height="5.57" fill="#ebe7f6"/>
<rect x="163.5" y="166.02" width="5.53" height="5.57" fill="#fef5f3"/>
<rect x="168.97" y="166.02" width="5.53" height="5.57" fill="#dc4e47"/>
<rect x="174.45" y="166.02" width="5.53" height="5.57" fill="#f5bab2"/>
<rect x="179.93" y="166.02" width="5.53" height="5.57" fill="#ffffff"/>
<rect x="163.5" y="171.53" width="5.53" height="5.57" fill="#fdf1f0"/>
<rect x="168.97" y="171.53" width="5.53" height="5.57" fill="#df5750"/>
<rect x="174.45" y="171.53" width="5.53" height="5.57" fill="#f4b3aa"/>
<rect x="179.93" y="171.53" width="5.53" height="5.57" fill="#f2eff9"/>
<rect x="163.5" y="177.05" width="5.53" height="5.57" fill="#d7cfec"/>
<rect x="168.97" y="177.05" width="5.53" height="5.57" fill="#da453f"/>
<rect x="174.45" y="177.05" width="5.53" height="5.57" fill="#fbe3e0"/>
<rect x="179.93" y="177.05" width="5.53" height="5.57" fill="#d0c6e9"/>
<rect x="163.5" y="182.57" width="5.53" height="5.57" fill="#ded7ef"/>
<rect x="168.97" y="182.57" width="5.53" height="5.57" fill="#d83d36"/>
<rect x="174.45" y="182.57" width="5.53" height="5.57" fill="#fadcd9"/>
<rect x="179.93" y="182.57" width="5.53" height="5.57" fill="#d7cfec"/>
<rect x="163.5" y="188.09" width="5.53" height="5.57" fill="#d7cfec"/>
<rect x="168.97" y="188.09" width="5.53" height="5.57" fill="#d83d36"/>
<rect x="174.45" y="188.09" width="5.53" height="5.57" fill="#fbe3e0"/>
<rect x="179.93" y="188.09" width="5.53" height="5.57" fill="#ded7ef"/>
<rect x="163.5" y="193.6" width="5.53" height="5.57" fill="#d7cfec"/>
<rect x="168.97" y="193.6" width="5.53" height="5.57" fill="#da453f"/>
<rect x="174.45" y="193.6" width="5.53" height="5.57" fill="#fceae8"/>
<rect x="179.93" y="193.6" width="5.53" height="5.57" fill="#d7cfec"/>
<rect x="163.5" y="199.12" width="5.53" height="5.57" fill="#d7cfec"/>
<rect x="168.97" y="199.12" width="5.53" height="5.57" fill="#d6342e"/>
<rect x="174.45" y="199.12" width="5.53" height="5.57" fill="#fceae8"/>
<rect x="179.93" y="199.12" width="5.53" height="5.57" fill="#ded7ef"/>
<rect x="163.5" y="204.64" width="5.53" height="5.57" fill="#d0c6e9"/>
<rect x="168.97" y="204.64" width="5.53" height="5.57" fill="#d6342e"/>
<rect x="174.45" y="204.64" width="5.53" height="5.57" fill="#fdf1f0"/>
<rect x="179.93" y="204.64" width="5.53" height="5.57" fill="#d7cfec"/>
<rect x="163.5" y="210.16" width="5.53" height="5.57" fill="#d7cfec"/>
<rect x="168.97" y="210.16" width="5.53" height="5.57" fill="#d6342e"/>
<rect x="174.45" y="210.16" width="5.53" height="5.57" fill="#fceae8"/>
<rect x="179.93" y="210.16" width="5.53" height="5.57" fill="#ded7ef"/>
<rect x="163.5" y="215.67" width="5.53" height="5.57" fill="#d7cfec"/>
<rect x="168.97" y="215.67" width="5.53" height="5.57" fill="#d6342e"/>
<rect x="174.45" y="215.67" width="5.53" height="5.57" fill="#fbe3e0"/>
<rect x="179.93" y="215.67" width="5.53" height="5.57" fill="#d7cfec"/>
<rect x="163.5" y="221.19" width="5.53" height="5.57" fill="#d0c6e9"/>
<rect x="168.97" y="221.19" width="5.53" height="5.57" fill="#d6342e"/>
<rect x="174.45" y="221.19" width="5.53" height="5.57" fill="#fceae8"/>
<rect x="179.93" y="221.19" width="5.53" height="5.57" fill="#ded7ef"/>
<rect x="163.5" y="226.71" width="5.53" height="5.57" fill="#d7cfec"/>
<rect x="168.97" y="226.71" width="5.53" height="5.57" fill="#d6342e"/>
<rect x="174.45" y="226.71" width="5.53" height="5.57" fill="#fceae8"/>
<rect x="179.93" y="226.71" width="5.53" height="5.57" fill="#d7cfec"/>
<rect x="163.5" y="232.22" width="5.53" height="5.57" fill="#d7cfec"/>
<rect x="168.97" y="232.22" width="5.53" height="5.57" fill="#d6342e"/>
<rect x="174.45" y="232.22" width="5.53" height="5.57" fill="#fefcfb"/>
<rect x="179.93" y="232.22" width="5.53" height="5.57" fill="#ded7ef"/>
<rect x="163.5" y="237.74" width="5.53" height="5.57" fill="#d0c6e9"/>
<rect x="168.97" y="237.74" width="5.53" height="5.57" fill="#df5750"/>
<rect x="174.45" y="237.74" width="5.53" height="5.57" fill="#f7c8c1"/>
<rect x="179.93" y="237.74" width="5.53" height="5.57" fill="#d7cfec"/>
<rect x="163.5" y="243.26" width="5.53" height="5.57" fill="#d7cfec"/>
<rect x="168.97" y="243.26" width="5.53" height="5.57" fill="#df5750"/>
<rect x="174.45" y="243.26" width="5.53" height="5.57" fill="#f6c1ba"/>
<rect x="179.93" y="243.26" width="5.53" height="5.57" fill="#d7cfec"/>
<rect x="163.5" y="248.78" width="5.53" height="5.57" fill="#d0c6e9"/>
<rect x="168.97" y="248.78" width="5.53" height="5.57" fill="#dc4e47"/>
<rect x="174.45" y="248.78" width="5.53" height="5.57" fill="#f7c8c1"/>
<rect x="179.93" y="248.78" width="5.53" height="5.57" fill="#ded7ef"/>
<rect x="163.5" y="254.29" width="5.53" height="5.57" fill="#d7cfec"/>
<rect x="168.97" y="254.29" width="5.53" height="5.57" fill="#df5750"/>
<rect x="174.45" y="254.29" width="5.53" height="5.57" fill="#f6c1ba"/>
<rect x="179.93" y="254.29" width="5.53" height="5.57" fill="#d0c6e9"/>
<rect x="163.5" y="259.81" width="5.53" height="5.57" fill="#d0c6e9"/>
<rect x="168.97" y="259.81" width="5.53" height="5.57" fill="#df5750"/>
<rect x="174.45" y="259.81" width="5.53" height="5.57" fill="#f8cfc9"/>
<rect x="179.93" y="259.81" width="5.53" height="5.57" fill="#d7cfec"/>
<rect x="163.5" y="265.33" width="5.53" height="5.57" fill="#d7cfec"/>
<rect x="168.97" y="265.33" width="5.53" height="5.57" fill="#dc4e47"/>
<rect x="174.45" y="265.33" width="5.53" height="5.57" fill="#f7c8c1"/>
<rect x="179.93" y="265.33" width="5.53" height="5.57" fill="#d7cfec"/>
<rect x="163.5" y="270.84" width="5.53" height="5.57" fill="#c9bee6"/>
<rect x="168.97" y="270.84" width="5.53" height="5.57" fill="#df5750"/>
<rect x="174.45" y="270.84" width="5.53" height="5.57" fill="#f7c8c1"/>
<rect x="179.93" y="270.84" width="5.53" height="5.57" fill="#d0c6e9"/>
<rect x="163.5" y="276.36" width="5.53" height="5.57" fill="#c9bee6"/>
<rect x="168.97" y="276.36" width="5.53" height="5.57" fill="#dc4e47"/>
<rect x="174.45" y="276.36" width="5.53" height="5.57" fill="#f8cfc9"/>
<rect x="179.93" y="276.36" width="5.53" height="5.57" fill="#d0c6e9"/>
<rect x="163.5" y="281.88" width="5.53" height="5.57" fill="#c3b6e3"/>
<rect x="168.97" y="281.88" width="5.53" height="5.57" fill="#df5750"/>
<rect x="174.45" y="281.88" width="5.53" height="5.57" fill="#f7c8c1"/>
<rect x="179.93" y="281.88" width="5.53" height="5.57" fill="#c9bee6"/>
<rect x="163.5" y="287.4" width="5.53" height="5.57" fill="#c3b6e3"/>
<rect x="168.97" y="287.4" width="5.53" height="5.57" fill="#dc4e47"/>
<rect x="174.45" y="287.4" width="5.53" height="5.57" fill="#f9d5d1"/>
<rect x="179.93" y="287.4" width="5.53" height="5.57" fill="#c9bee6"/>
<rect x="163.5" y="292.91" width="5.53" height="5.57" fill="#bcaedf"/>
<rect x="168.97" y="292.91" width="5.53" height="5.57" fill="#df5750"/>
<rect x="174.45" y="292.91" width="5.53" height="5.57" fill="#fadcd9"/>
<rect x="179.93" y="292.91" width="5.53" height="5.57" fill="#c3b6e3"/>
<rect x="163.5" y="298.43" width="5.53" height="5.57" fill="#b5a6dc"/>
<rect x="168.97" y="298.43" width="5.53" height="5.57" fill="#df5750"/>
<rect x="174.45" y="298.43" width="5.53" height="5.57" fill="#fadcd9"/>
<rect x="179.93" y="298.43" width="5.53" height="5.57" fill="#bcaedf"/>
<rect x="163.5" y="303.95" width="5.53" height="5.57" fill="#af9ed9"/>
<rect x="168.97" y="303.95" width="5.53" height="5.57" fill="#df5750"/>
<rect x="174.45" y="303.95" width="5.53" height="5.57" fill="#fbe3e0"/>
<rect x="179.93" y="303.95" width="5.53" height="5.57" fill="#bcaedf"/>
<rect x="163.5" y="309.47" width="5.53" height="5.57" fill="#af9ed9"/>
<rect x="168.97" y="309.47" width="5.53" height="5.57" fill="#e15f58"/>
<rect x="174.45" y="309.47" width="5.53" height="5.57" fill="#fceae8"/>
<rect x="179.93" y="309.47" width="5.53" height="5.57" fill="#b5a6dc"/>
<rect x="163.5" y="314.98" width="5.53" height="5.57" fill="#b5a6dc"/>
<rect x="168.97" y="314.98" width="5.53" height="5.57" fill="#df5750"/>
<rect x="174.45" y="314.98" width="5.53" height="5.57" fill="#fceae8"/>
<rect x="179.93" y="314.98" width="5.53" height="5.57" fill="#af9ed9"/>
</g>
<rect x="163.5" y="0.5" width="21.9" height="320" fill="none" stroke="#444" stroke-width="0.9"/>
<g font-size="5.86" stroke="#000" stroke-width="0.17">
<text transform="translate(187.3 5.36) rotate(0.05)">Hex2Cer 34:1;O2<tspan fill="#aaa" stroke="#aaa">|</tspan>Hex2Cer 18:1;O2/16:0</text>
<text transform="translate(187.3 10.88) rotate(0.05)">Hex2Cer 42:1;O2<tspan fill="#aaa" stroke="#aaa">|</tspan>Hex2Cer 18:1;O2/24:0</text>
<text transform="translate(187.3 16.39) rotate(0.05)">Hex2Cer 38:1;O2<tspan fill="#aaa" stroke="#aaa">|</tspan>Hex2Cer 18:1;O2/20:0</text>
<text transform="translate(187.3 21.91) rotate(0.05)">Hex2Cer 36:1;O2<tspan fill="#aaa" stroke="#aaa">|</tspan>Hex2Cer 18:1;O2/18:0</text>
<text transform="translate(187.3 27.43) rotate(0.05)">Hex2Cer 42:2;O2<tspan fill="#aaa" stroke="#aaa">|</tspan>Hex2Cer 18:1;O2/24:1</text>
<text transform="translate(187.3 32.94) rotate(0.05)">Hex2Cer 40:1;O2<tspan fill="#aaa" stroke="#aaa">|</tspan>Hex2Cer 18:1;O2/22:0</text>
<text transform="translate(187.3 38.46) rotate(0.05)">SM 38:1;O2<tspan fill="#aaa" stroke="#aaa">|</tspan>SM 18:1;O2/18:0</text>
<text transform="translate(187.3 43.98) rotate(0.05)">SM 38:1;O2<tspan fill="#aaa" stroke="#aaa">|</tspan>SM 18:1;O2/20:0</text>
<text transform="translate(187.3 49.5) rotate(0.05)">PS 40:6<tspan fill="#aaa" stroke="#aaa">|</tspan>PS 18:0_22:6</text>
<text transform="translate(187.3 55.01) rotate(0.05)">Cer 40:0;O2<tspan fill="#aaa" stroke="#aaa">|</tspan>Cer 18:0;O2/22:0</text>
<text transform="translate(187.3 60.53) rotate(0.05)">PE O-36:2<tspan fill="#aaa" stroke="#aaa">|</tspan>PE O-18:1_18:1</text>
<text transform="translate(187.3 66.05) rotate(0.05)">PE O-34:2<tspan fill="#aaa" stroke="#aaa">|</tspan>PE O-16:1_18:1</text>
<text transform="translate(187.3 71.57) rotate(0.05)">SM 40:0;O2<tspan fill="#aaa" stroke="#aaa">|</tspan>SM 22:0;O2/18:0</text>
<text transform="translate(187.3 77.08) rotate(0.05)">Hex2Cer 34:0;O2<tspan fill="#aaa" stroke="#aaa">|</tspan>Hex2Cer 18:0;O2/16:0</text>
<text transform="translate(187.3 82.6) rotate(0.05)">Hex2Cer 40:0;O2<tspan fill="#aaa" stroke="#aaa">|</tspan>Hex2Cer 18:0;O2/22:0</text>
<text transform="translate(187.3 88.12) rotate(0.05)">Hex2Cer 38:0;O2<tspan fill="#aaa" stroke="#aaa">|</tspan>Hex2Cer 18:0;O2/20:0</text>
<text transform="translate(187.3 93.63) rotate(0.05)">Hex2Cer 36:0;O2<tspan fill="#aaa" stroke="#aaa">|</tspan>Hex2Cer 18:0;O2/18:0</text>
<text transform="translate(187.3 99.15) rotate(0.05)">HexCer 40:0;O2<tspan fill="#aaa" stroke="#aaa">|</tspan>HexCer 18:0;O2/22:0</text>
<text transform="translate(187.3 104.67) rotate(0.05)">TG 56:2<tspan fill="#aaa" stroke="#aaa">|</tspan>TG 18:0_18:1_20:1</text>
<text transform="translate(187.3 110.19) rotate(0.05)">TG 56:3<tspan fill="#aaa" stroke="#aaa">|</tspan>TG 18:1_18:1_20:1</text>
<text transform="translate(187.3 115.7) rotate(0.05)">TG 54:3<tspan fill="#aaa" stroke="#aaa">|</tspan>TG 18:1_18:1_18:1</text>
<text transform="translate(187.3 121.22) rotate(0.05)">TG 54:2<tspan fill="#aaa" stroke="#aaa">|</tspan>TG 18:0_18:1_18:1</text>
<text transform="translate(187.3 126.74) rotate(0.05)">TG 52:1<tspan fill="#aaa" stroke="#aaa">|</tspan>TG 16:0_18:0_18:1</text>
<text transform="translate(187.3 132.26) rotate(0.05)">TG 53:2<tspan fill="#aaa" stroke="#aaa">|</tspan>TG 17:0_18:1_18:1</text>
<text transform="translate(187.3 137.77) rotate(0.05)">TG 51:1<tspan fill="#aaa" stroke="#aaa">|</tspan>TG 16:0_17:0_18:1</text>
<text transform="translate(187.3 143.29) rotate(0.05)">TG O-52:2<tspan fill="#aaa" stroke="#aaa">|</tspan>TG O-18:1_16:0_18:1</text>
<text transform="translate(187.3 148.81) rotate(0.05)">TG O-50:1<tspan fill="#aaa" stroke="#aaa">|</tspan>TG O-16:0_16:0_18:1</text>
<text transform="translate(187.3 154.32) rotate(0.05)">TG O-50:2<tspan fill="#aaa" stroke="#aaa">|</tspan>TG O-18:1_16:0_16:1</text>
<text transform="translate(187.3 159.84) rotate(0.05)">TG O-48:1<tspan fill="#aaa" stroke="#aaa">|</tspan>TG O-16:0_14:0_18:1</text>
<text transform="translate(187.3 165.36) rotate(0.05)">CE 18:1</text>
<text transform="translate(187.3 170.88) rotate(0.05)">TG O-52:1<tspan fill="#aaa" stroke="#aaa">|</tspan>TG O-18:0_16:0_18:1</text>
<text transform="translate(187.3 176.39) rotate(0.05)">TG O-54:2<tspan fill="#aaa" stroke="#aaa">|</tspan>TG O-18:0_18:1_18:1</text>
<text transform="translate(187.3 181.91) rotate(0.05)">TG 44:1<tspan fill="#aaa" stroke="#aaa">|</tspan>TG 14:0_16:0_14:1</text>
<text transform="translate(187.3 187.43) rotate(0.05)">TG 46:1<tspan fill="#aaa" stroke="#aaa">|</tspan>TG 14:0_16:0_16:1</text>
<text transform="translate(187.3 192.94) rotate(0.05)">TG 46:2<tspan fill="#aaa" stroke="#aaa">|</tspan>TG 12:0_16:1_18:1</text>
<text transform="translate(187.3 198.46) rotate(0.05)">TG 48:3<tspan fill="#aaa" stroke="#aaa">|</tspan>TG 14:1_16:1_18:1</text>
<text transform="translate(187.3 203.98) rotate(0.05)">CE 22:6</text>
<text transform="translate(187.3 209.5) rotate(0.05)">CE 18:2</text>
<text transform="translate(187.3 215.01) rotate(0.05)">CE 20:4</text>
<text transform="translate(187.3 220.53) rotate(0.05)">CE 16:1</text>
<text transform="translate(187.3 226.05) rotate(0.05)">CE 18:3</text>
<text transform="translate(187.3 231.57) rotate(0.05)">CE 20:5</text>
<text transform="translate(187.3 237.08) rotate(0.05)">CE 20:3</text>
<text transform="translate(187.3 242.6) rotate(0.05)">TG 50:2<tspan fill="#aaa" stroke="#aaa">|</tspan>TG 16:0_16:1_18:1</text>
<text transform="translate(187.3 248.12) rotate(0.05)">TG 51:3<tspan fill="#aaa" stroke="#aaa">|</tspan>TG 16:1_17:1_18:1</text>
<text transform="translate(187.3 253.63) rotate(0.05)">TG 52:3<tspan fill="#aaa" stroke="#aaa">|</tspan>TG 16:1_18:1_18:1</text>
<text transform="translate(187.3 259.15) rotate(0.05)">TG 53:3<tspan fill="#aaa" stroke="#aaa">|</tspan>TG 17:1_18:1_18:1</text>
<text transform="translate(187.3 264.67) rotate(0.05)">TG 49:1<tspan fill="#aaa" stroke="#aaa">|</tspan>TG 15:0_16:0_18:1</text>
<text transform="translate(187.3 270.19) rotate(0.05)">TG 51:2<tspan fill="#aaa" stroke="#aaa">|</tspan>TG 16:0_17:1_18:1</text>
<text transform="translate(187.3 275.7) rotate(0.05)">TG 48:2<tspan fill="#aaa" stroke="#aaa">|</tspan>TG 14:0_16:1_18:1</text>
<text transform="translate(187.3 281.22) rotate(0.05)">TG 50:3<tspan fill="#aaa" stroke="#aaa">|</tspan>TG 16:1_16:1_18:1</text>
<text transform="translate(187.3 286.74) rotate(0.05)">TG 48:1<tspan fill="#aaa" stroke="#aaa">|</tspan>TG 14:0_16:0_18:1</text>
<text transform="translate(187.3 292.26) rotate(0.05)">TG 49:2<tspan fill="#aaa" stroke="#aaa">|</tspan>TG 16:0_16:1_17:1</text>
<text transform="translate(187.3 297.77) rotate(0.05)">TG 52:2<tspan fill="#aaa" stroke="#aaa">|</tspan>TG 16:0_18:1_18:1</text>
<text transform="translate(187.3 303.29) rotate(0.05)">TG 50:1<tspan fill="#aaa" stroke="#aaa">|</tspan>TG 16:0_16:0_18:1</text>
<text transform="translate(187.3 308.81) rotate(0.05)">TG 56:6<tspan fill="#aaa" stroke="#aaa">|</tspan>TG 18:0_18:1_22:6</text>
<text transform="translate(187.3 314.32) rotate(0.05)">TG 54:6<tspan fill="#aaa" stroke="#aaa">|</tspan>TG 16:0_18:1_20:4</text>
<text transform="translate(187.3 319.84) rotate(0.05)">TG 47:1<tspan fill="#aaa" stroke="#aaa">|</tspan>TG 15:0_16:0_16:1</text>
</g>
<text transform="translate(168.24 322.3) rotate(-89.95)" font-size="5.4" text-anchor="end" stroke="#000" stroke-width="0.17">Control</text>
<text transform="translate(173.71 322.3) rotate(-89.95)" font-size="5.4" text-anchor="end" stroke="#000" stroke-width="0.17">LPS</text>
<text transform="translate(179.19 322.3) rotate(-89.95)" font-size="5.4" text-anchor="end" stroke="#000" stroke-width="0.17">ILG</text>
<text transform="translate(184.66 322.3) rotate(-89.95)" font-size="5.4" text-anchor="end" stroke="#000" stroke-width="0.17">GU</text>
<text transform="translate(330.5 14.5) rotate(0.05)" font-size="20" stroke="#000" stroke-width="0.1">b</text>
<text transform="translate(358.9 21) rotate(0.05)" font-size="10.5" fill="#c8323c" stroke="#c8323c" stroke-width="0.1">LPS</text>
<line x1="358.9" y1="26.1" x2="358.9" y2="109.05" stroke="#555" stroke-width="1.1"/>
<line x1="358.35" y1="108.5" x2="441.2" y2="108.5" stroke="#555" stroke-width="1.1"/>
<line x1="356.9" y1="45.9" x2="358.9" y2="45.9" stroke="#555" stroke-width="0.8"/>
<text transform="translate(356.3 48.6) rotate(0.05)" font-size="7.6" text-anchor="end" fill="#333" stroke="#333" stroke-width="0.2">10</text>
<line x1="356.9" y1="69.1" x2="358.9" y2="69.1" stroke="#555" stroke-width="0.8"/>
<text transform="translate(356.3 71.8) rotate(0.05)" font-size="7.6" text-anchor="end" fill="#333" stroke="#333" stroke-width="0.2">0</text>
<line x1="356.9" y1="92.7" x2="358.9" y2="92.7" stroke="#555" stroke-width="0.8"/>
<text transform="translate(356.3 95.4) rotate(0.05)" font-size="7.6" text-anchor="end" fill="#333" stroke="#333" stroke-width="0.2">-10</text>
<line x1="365" y1="108.5" x2="365" y2="110.5" stroke="#555" stroke-width="0.8"/>
<text transform="translate(365 117.4) rotate(0.05)" font-size="7.6" text-anchor="middle" fill="#333" stroke="#333" stroke-width="0.2">-10</text>
<line x1="384.7" y1="108.5" x2="384.7" y2="110.5" stroke="#555" stroke-width="0.8"/>
<text transform="translate(384.7 117.4) rotate(0.05)" font-size="7.6" text-anchor="middle" fill="#333" stroke="#333" stroke-width="0.2">0</text>
<line x1="403.2" y1="108.5" x2="403.2" y2="110.5" stroke="#555" stroke-width="0.8"/>
<text transform="translate(403.2 117.4) rotate(0.05)" font-size="7.6" text-anchor="middle" fill="#333" stroke="#333" stroke-width="0.2">10</text>
<line x1="421.1" y1="108.5" x2="421.1" y2="110.5" stroke="#555" stroke-width="0.8"/>
<text transform="translate(421.1 117.4) rotate(0.05)" font-size="7.6" text-anchor="middle" fill="#333" stroke="#333" stroke-width="0.2">20</text>
<line x1="439.5" y1="108.5" x2="439.5" y2="110.5" stroke="#555" stroke-width="0.8"/>
<text transform="translate(439.5 117.4) rotate(0.05)" font-size="7.6" text-anchor="middle" fill="#333" stroke="#333" stroke-width="0.2">30</text>
<text transform="translate(400 127.8) rotate(0.05)" font-size="9.3" text-anchor="middle" fill="#111" stroke="#111" stroke-width="0.14">PC1: 13.86 %</text>
<text transform="translate(341 67.4) rotate(-89.95)" font-size="9.3" text-anchor="middle" fill="#111" stroke="#111" stroke-width="0.14">PC2: 8.93 %</text>
<circle cx="373.8" cy="30" r="2.85" fill="#f4f4f4" stroke="#444" stroke-width="0.6"/>
<circle cx="371.7" cy="47.5" r="2.85" fill="#f4f4f4" stroke="#444" stroke-width="0.6"/>
<circle cx="370" cy="54.2" r="2.85" fill="#f4f4f4" stroke="#444" stroke-width="0.6"/>
<circle cx="372.9" cy="65.9" r="2.85" fill="#e9b9b9" stroke="#444" stroke-width="0.6"/>
<circle cx="366.8" cy="84" r="2.85" fill="#e9b9b9" stroke="#444" stroke-width="0.6"/>
<circle cx="370" cy="86.2" r="2.85" fill="#e9b9b9" stroke="#444" stroke-width="0.6"/>
<circle cx="362.4" cy="46.6" r="2.85" fill="#dc8e8e" stroke="#444" stroke-width="0.6"/>
<circle cx="369.4" cy="65.5" r="2.85" fill="#dc8e8e" stroke="#444" stroke-width="0.6"/>
<circle cx="365.9" cy="72" r="2.85" fill="#dc8e8e" stroke="#444" stroke-width="0.6"/>
<circle cx="386.1" cy="79" r="2.85" fill="#c94b4b" stroke="#444" stroke-width="0.6"/>
<circle cx="379.4" cy="102" r="2.85" fill="#c94b4b" stroke="#444" stroke-width="0.6"/>
<circle cx="382.9" cy="104.6" r="2.85" fill="#c94b4b" stroke="#444" stroke-width="0.6"/>
<circle cx="437.7" cy="51.9" r="2.85" fill="#b3181c" stroke="#444" stroke-width="0.6"/>
<circle cx="431.6" cy="59.8" r="2.85" fill="#b3181c" stroke="#444" stroke-width="0.6"/>
<circle cx="429" cy="83.4" r="2.85" fill="#b3181c" stroke="#444" stroke-width="0.6"/>
<text transform="translate(478.6 21) rotate(0.05)" font-size="10.5" fill="#3d66b8" stroke="#3d66b8" stroke-width="0.1">ILG</text>
<line x1="479.5" y1="26.3" x2="479.5" y2="108.25" stroke="#555" stroke-width="1.1"/>
<line x1="478.95" y1="107.7" x2="561.5" y2="107.7" stroke="#555" stroke-width="1.1"/>
<line x1="477.5" y1="35.9" x2="479.5" y2="35.9" stroke="#555" stroke-width="0.8"/>
<text transform="translate(476.9 38.6) rotate(0.05)" font-size="7.6" text-anchor="end" fill="#333" stroke="#333" stroke-width="0.2">10</text>
<line x1="477.5" y1="59.2" x2="479.5" y2="59.2" stroke="#555" stroke-width="0.8"/>
<text transform="translate(476.9 61.9) rotate(0.05)" font-size="7.6" text-anchor="end" fill="#333" stroke="#333" stroke-width="0.2">0</text>
<line x1="477.5" y1="82.3" x2="479.5" y2="82.3" stroke="#555" stroke-width="0.8"/>
<text transform="translate(476.9 85) rotate(0.05)" font-size="7.6" text-anchor="end" fill="#333" stroke="#333" stroke-width="0.2">-10</text>
<line x1="477.5" y1="106" x2="479.5" y2="106" stroke="#555" stroke-width="0.8"/>
<text transform="translate(476.9 108.7) rotate(0.05)" font-size="7.6" text-anchor="end" fill="#333" stroke="#333" stroke-width="0.2">-20</text>
<line x1="487" y1="107.7" x2="487" y2="109.7" stroke="#555" stroke-width="0.8"/>
<text transform="translate(487 116.6) rotate(0.05)" font-size="7.6" text-anchor="middle" fill="#333" stroke="#333" stroke-width="0.2">-10</text>
<line x1="507.5" y1="107.7" x2="507.5" y2="109.7" stroke="#555" stroke-width="0.8"/>
<text transform="translate(507.5 116.6) rotate(0.05)" font-size="7.6" text-anchor="middle" fill="#333" stroke="#333" stroke-width="0.2">0</text>
<line x1="528.2" y1="107.7" x2="528.2" y2="109.7" stroke="#555" stroke-width="0.8"/>
<text transform="translate(528.2 116.6) rotate(0.05)" font-size="7.6" text-anchor="middle" fill="#333" stroke="#333" stroke-width="0.2">10</text>
<line x1="548.4" y1="107.7" x2="548.4" y2="109.7" stroke="#555" stroke-width="0.8"/>
<text transform="translate(548.4 116.6) rotate(0.05)" font-size="7.6" text-anchor="middle" fill="#333" stroke="#333" stroke-width="0.2">20</text>
<text transform="translate(520.7 127.8) rotate(0.05)" font-size="9.3" text-anchor="middle" fill="#111" stroke="#111" stroke-width="0.14">PC1: 12.45 %</text>
<text transform="translate(461.8 67.4) rotate(-89.95)" font-size="9.3" text-anchor="middle" fill="#111" stroke="#111" stroke-width="0.14">PC2: 10.27 %</text>
<circle cx="494.4" cy="91.4" r="2.85" fill="#f4f4f4" stroke="#444" stroke-width="0.6"/>
<circle cx="503.7" cy="93.4" r="2.85" fill="#f4f4f4" stroke="#444" stroke-width="0.6"/>
<circle cx="503.7" cy="104.6" r="2.85" fill="#f4f4f4" stroke="#444" stroke-width="0.6"/>
<circle cx="487" cy="29.4" r="2.85" fill="#c8d5ee" stroke="#444" stroke-width="0.6"/>
<circle cx="486.5" cy="32.9" r="2.85" fill="#c8d5ee" stroke="#444" stroke-width="0.6"/>
<circle cx="496.3" cy="41.2" r="2.85" fill="#c8d5ee" stroke="#444" stroke-width="0.6"/>
<circle cx="483.2" cy="39.4" r="2.85" fill="#91abdd" stroke="#444" stroke-width="0.6"/>
<circle cx="490.9" cy="58.2" r="2.85" fill="#91abdd" stroke="#444" stroke-width="0.6"/>
<circle cx="501" cy="47" r="2.85" fill="#4a73c4" stroke="#444" stroke-width="0.6"/>
<circle cx="505.4" cy="47.8" r="2.85" fill="#4a73c4" stroke="#444" stroke-width="0.6"/>
<circle cx="512.1" cy="91.1" r="2.85" fill="#4a73c4" stroke="#444" stroke-width="0.6"/>
<circle cx="490.9" cy="59.2" r="2.85" fill="#4a73c4" stroke="#444" stroke-width="0.6"/>
<circle cx="547" cy="42.6" r="2.85" fill="#123f9e" stroke="#444" stroke-width="0.6"/>
<circle cx="558.5" cy="47.7" r="2.85" fill="#123f9e" stroke="#444" stroke-width="0.6"/>
<circle cx="556.6" cy="56.9" r="2.85" fill="#123f9e" stroke="#444" stroke-width="0.6"/>
<text transform="translate(599.7 21) rotate(0.05)" font-size="10.5" fill="#2a8a7a" stroke="#2a8a7a" stroke-width="0.1">GU</text>
<line x1="599.7" y1="26.3" x2="599.7" y2="108.25" stroke="#555" stroke-width="1.1"/>
<line x1="599.15" y1="107.7" x2="681.5" y2="107.7" stroke="#555" stroke-width="1.1"/>
<line x1="597.7" y1="28.6" x2="599.7" y2="28.6" stroke="#555" stroke-width="0.8"/>
<text transform="translate(597.1 31.3) rotate(0.05)" font-size="7.6" text-anchor="end" fill="#333" stroke="#333" stroke-width="0.2">15</text>
<line x1="597.7" y1="42.9" x2="599.7" y2="42.9" stroke="#555" stroke-width="0.8"/>
<text transform="translate(597.1 45.6) rotate(0.05)" font-size="7.6" text-anchor="end" fill="#333" stroke="#333" stroke-width="0.2">10</text>
<line x1="597.7" y1="57.5" x2="599.7" y2="57.5" stroke="#555" stroke-width="0.8"/>
<text transform="translate(597.1 60.2) rotate(0.05)" font-size="7.6" text-anchor="end" fill="#333" stroke="#333" stroke-width="0.2">5</text>
<line x1="597.7" y1="71.8" x2="599.7" y2="71.8" stroke="#555" stroke-width="0.8"/>
<text transform="translate(597.1 74.5) rotate(0.05)" font-size="7.6" text-anchor="end" fill="#333" stroke="#333" stroke-width="0.2">0</text>
<line x1="597.7" y1="86.7" x2="599.7" y2="86.7" stroke="#555" stroke-width="0.8"/>
<text transform="translate(597.1 89.4) rotate(0.05)" font-size="7.6" text-anchor="end" fill="#333" stroke="#333" stroke-width="0.2">-5</text>
<line x1="597.7" y1="101.6" x2="599.7" y2="101.6" stroke="#555" stroke-width="0.8"/>
<text transform="translate(597.1 104.3) rotate(0.05)" font-size="7.6" text-anchor="end" fill="#333" stroke="#333" stroke-width="0.2">-10</text>
<line x1="600.9" y1="107.7" x2="600.9" y2="109.7" stroke="#555" stroke-width="0.8"/>
<text transform="translate(600.9 116.6) rotate(0.05)" font-size="7.6" text-anchor="middle" fill="#333" stroke="#333" stroke-width="0.2">-30</text>
<line x1="616.3" y1="107.7" x2="616.3" y2="109.7" stroke="#555" stroke-width="0.8"/>
<text transform="translate(616.3 116.6) rotate(0.05)" font-size="7.6" text-anchor="middle" fill="#333" stroke="#333" stroke-width="0.2">-20</text>
<line x1="631.6" y1="107.7" x2="631.6" y2="109.7" stroke="#555" stroke-width="0.8"/>
<text transform="translate(631.6 116.6) rotate(0.05)" font-size="7.6" text-anchor="middle" fill="#333" stroke="#333" stroke-width="0.2">-10</text>
<line x1="647" y1="107.7" x2="647" y2="109.7" stroke="#555" stroke-width="0.8"/>
<text transform="translate(647 116.6) rotate(0.05)" font-size="7.6" text-anchor="middle" fill="#333" stroke="#333" stroke-width="0.2">0</text>
<line x1="662.8" y1="107.7" x2="662.8" y2="109.7" stroke="#555" stroke-width="0.8"/>
<text transform="translate(662.8 116.6) rotate(0.05)" font-size="7.6" text-anchor="middle" fill="#333" stroke="#333" stroke-width="0.2">10</text>
<line x1="678.5" y1="107.7" x2="678.5" y2="109.7" stroke="#555" stroke-width="0.8"/>
<text transform="translate(678.5 116.6) rotate(0.05)" font-size="7.6" text-anchor="middle" fill="#333" stroke="#333" stroke-width="0.2">20</text>
<text transform="translate(640.7 127.8) rotate(0.05)" font-size="9.3" text-anchor="middle" fill="#111" stroke="#111" stroke-width="0.14">PC1: 13.38 %</text>
<text transform="translate(581.8 67.4) rotate(-89.95)" font-size="9.3" text-anchor="middle" fill="#111" stroke="#111" stroke-width="0.14">PC2: 9.16 %</text>
<circle cx="603.5" cy="29.8" r="2.85" fill="#f4f4f4" stroke="#444" stroke-width="0.6"/>
<circle cx="620.7" cy="54.7" r="2.85" fill="#f4f4f4" stroke="#444" stroke-width="0.6"/>
<circle cx="632.1" cy="90.6" r="2.85" fill="#f4f4f4" stroke="#444" stroke-width="0.6"/>
<circle cx="638.9" cy="78.3" r="2.85" fill="#c6e2dc" stroke="#444" stroke-width="0.6"/>
<circle cx="636.8" cy="89.3" r="2.85" fill="#c6e2dc" stroke="#444" stroke-width="0.6"/>
<circle cx="644.7" cy="95.1" r="2.85" fill="#c6e2dc" stroke="#444" stroke-width="0.6"/>
<circle cx="645.1" cy="78.8" r="2.85" fill="#8ec6ba" stroke="#444" stroke-width="0.6"/>
<circle cx="647" cy="95.7" r="2.85" fill="#8ec6ba" stroke="#444" stroke-width="0.6"/>
<circle cx="650" cy="104.6" r="2.85" fill="#8ec6ba" stroke="#444" stroke-width="0.6"/>
<circle cx="638.6" cy="50.5" r="2.85" fill="#3a9282" stroke="#444" stroke-width="0.6"/>
<circle cx="661.4" cy="94.6" r="2.85" fill="#3a9282" stroke="#444" stroke-width="0.6"/>
<circle cx="663.5" cy="96.4" r="2.85" fill="#3a9282" stroke="#444" stroke-width="0.6"/>
<circle cx="674.5" cy="33.3" r="2.85" fill="#0b5e50" stroke="#444" stroke-width="0.6"/>
<circle cx="675.4" cy="33.6" r="2.85" fill="#0b5e50" stroke="#444" stroke-width="0.6"/>
<circle cx="678.5" cy="52" r="2.85" fill="#0b5e50" stroke="#444" stroke-width="0.6"/>
<circle cx="337" cy="142.8" r="2.8" fill="#f4f4f4" stroke="#444" stroke-width="0.6"/>
<text transform="translate(344 145.2) rotate(0.05)" font-size="6.6" fill="#222" stroke="#222" stroke-width="0.2">LPS_0h</text>
<circle cx="375.2" cy="142.8" r="2.8" fill="#e9b9b9" stroke="#444" stroke-width="0.6"/>
<text transform="translate(382.2 145.2) rotate(0.05)" font-size="6.6" fill="#222" stroke="#222" stroke-width="0.2">LPS_15m</text>
<circle cx="418.5" cy="142.8" r="2.8" fill="#dc8e8e" stroke="#444" stroke-width="0.6"/>
<text transform="translate(425.5 145.2) rotate(0.05)" font-size="6.6" fill="#222" stroke="#222" stroke-width="0.2">LPS_1h</text>
<circle cx="337" cy="152" r="2.8" fill="#c94b4b" stroke="#444" stroke-width="0.6"/>
<text transform="translate(344 154.4) rotate(0.05)" font-size="6.6" fill="#222" stroke="#222" stroke-width="0.2">LPS_6h</text>
<circle cx="375.2" cy="152" r="2.8" fill="#b3181c" stroke="#444" stroke-width="0.6"/>
<text transform="translate(382.2 154.4) rotate(0.05)" font-size="6.6" fill="#222" stroke="#222" stroke-width="0.2">LPS_24h</text>
<circle cx="457.9" cy="142.4" r="2.8" fill="#f4f4f4" stroke="#444" stroke-width="0.6"/>
<text transform="translate(464.9 144.8) rotate(0.05)" font-size="6.6" fill="#222" stroke="#222" stroke-width="0.2">ILG_0h</text>
<circle cx="494.1" cy="142.4" r="2.8" fill="#c8d5ee" stroke="#444" stroke-width="0.6"/>
<text transform="translate(501.2 144.8) rotate(0.05)" font-size="6.6" fill="#222" stroke="#222" stroke-width="0.2">ILG_15m</text>
<circle cx="535.8" cy="142.4" r="2.8" fill="#91abdd" stroke="#444" stroke-width="0.6"/>
<text transform="translate(542.9 144.8) rotate(0.05)" font-size="6.6" fill="#222" stroke="#222" stroke-width="0.2">ILG_1h</text>
<circle cx="457.9" cy="151.5" r="2.8" fill="#4a73c4" stroke="#444" stroke-width="0.6"/>
<text transform="translate(464.9 153.9) rotate(0.05)" font-size="6.6" fill="#222" stroke="#222" stroke-width="0.2">ILG_6h</text>
<circle cx="494.1" cy="151.5" r="2.8" fill="#123f9e" stroke="#444" stroke-width="0.6"/>
<text transform="translate(501.2 153.9) rotate(0.05)" font-size="6.6" fill="#222" stroke="#222" stroke-width="0.2">ILG_24h</text>
<circle cx="578.7" cy="142.4" r="2.8" fill="#f4f4f4" stroke="#444" stroke-width="0.6"/>
<text transform="translate(585.7 144.8) rotate(0.05)" font-size="6.6" fill="#222" stroke="#222" stroke-width="0.2">GU_0h</text>
<circle cx="613.7" cy="142.4" r="2.8" fill="#c6e2dc" stroke="#444" stroke-width="0.6"/>
<text transform="translate(621 144.8) rotate(0.05)" font-size="6.6" fill="#222" stroke="#222" stroke-width="0.2">GU_15m</text>
<circle cx="654.7" cy="142.4" r="2.8" fill="#8ec6ba" stroke="#444" stroke-width="0.6"/>
<text transform="translate(661.9 144.8) rotate(0.05)" font-size="6.6" fill="#222" stroke="#222" stroke-width="0.2">GU_1h</text>
<circle cx="578.7" cy="151.5" r="2.8" fill="#3a9282" stroke="#444" stroke-width="0.6"/>
<text transform="translate(585.7 153.9) rotate(0.05)" font-size="6.6" fill="#222" stroke="#222" stroke-width="0.2">GU_6h</text>
<circle cx="613.7" cy="151.5" r="2.8" fill="#0b5e50" stroke="#444" stroke-width="0.6"/>
<text transform="translate(621 153.9) rotate(0.05)" font-size="6.6" fill="#222" stroke="#222" stroke-width="0.2">GU_24h</text>
<text transform="translate(331 208.2) rotate(0.05)" font-size="20" stroke="#000" stroke-width="0.1">c</text>
<text transform="translate(372.5 210) rotate(0.05)" font-size="10.8" fill="#111" stroke="#111" stroke-width="0.1">Increased</text>
<line x1="373.5" y1="214.9" x2="373.5" y2="293.75" stroke="#555" stroke-width="1.1"/>
<line x1="372.95" y1="293.2" x2="469" y2="293.2" stroke="#555" stroke-width="1.1"/>
<line x1="371.5" y1="236.6" x2="373.5" y2="236.6" stroke="#555" stroke-width="0.8"/>
<text transform="translate(370.7 239.6) rotate(0.05)" font-size="8" text-anchor="end" fill="#333" stroke="#333" stroke-width="0.2">100</text>
<line x1="371.5" y1="264.6" x2="373.5" y2="264.6" stroke="#555" stroke-width="0.8"/>
<text transform="translate(370.7 267.6) rotate(0.05)" font-size="8" text-anchor="end" fill="#333" stroke="#333" stroke-width="0.2">50</text>
<line x1="371.5" y1="291.8" x2="373.5" y2="291.8" stroke="#555" stroke-width="0.8"/>
<text transform="translate(370.7 294.8) rotate(0.05)" font-size="8" text-anchor="end" fill="#333" stroke="#333" stroke-width="0.2">0</text>
<line x1="385.2" y1="293.2" x2="385.2" y2="295.2" stroke="#555" stroke-width="0.8"/>
<text transform="translate(385.2 304.3) rotate(0.05)" font-size="8" text-anchor="middle" fill="#111" stroke="#111" stroke-width="0.2">0h</text>
<line x1="403.6" y1="293.2" x2="403.6" y2="295.2" stroke="#555" stroke-width="0.8"/>
<text transform="translate(403.6 304.3) rotate(0.05)" font-size="8" text-anchor="middle" fill="#111" stroke="#111" stroke-width="0.2">15m</text>
<line x1="422.4" y1="293.2" x2="422.4" y2="295.2" stroke="#555" stroke-width="0.8"/>
<text transform="translate(422.4 304.3) rotate(0.05)" font-size="8" text-anchor="middle" fill="#111" stroke="#111" stroke-width="0.2">1h</text>
<line x1="441" y1="293.2" x2="441" y2="295.2" stroke="#555" stroke-width="0.8"/>
<text transform="translate(441 304.3) rotate(0.05)" font-size="8" text-anchor="middle" fill="#111" stroke="#111" stroke-width="0.2">6h</text>
<line x1="459.8" y1="293.2" x2="459.8" y2="295.2" stroke="#555" stroke-width="0.8"/>
<text transform="translate(459.8 304.3) rotate(0.05)" font-size="8" text-anchor="middle" fill="#111" stroke="#111" stroke-width="0.2">24h</text>
<polyline points="385.2,288.1 403.6,289.7 422.4,286 441,289.7 459.8,227.4" fill="none" stroke="#c0282d" stroke-width="1.4" stroke-linejoin="round"/>
<polyline points="385.2,268.7 403.6,223.1 422.4,233.3 441,234.3 459.8,265.2" fill="none" stroke="#137060" stroke-width="1.4" stroke-linejoin="round"/>
<polyline points="385.2,271.3 403.6,218.6 422.4,246.2 441,262.6 459.8,218.6" fill="none" stroke="#1e4bb4" stroke-width="1.4" stroke-linejoin="round"/>
<circle cx="385.2" cy="288.1" r="2.6" fill="#c0282d" stroke="#222" stroke-width="0.6"/>
<circle cx="403.6" cy="289.7" r="2.6" fill="#c0282d" stroke="#222" stroke-width="0.6"/>
<circle cx="422.4" cy="286" r="2.6" fill="#c0282d" stroke="#222" stroke-width="0.6"/>
<circle cx="441" cy="289.7" r="2.6" fill="#c0282d" stroke="#222" stroke-width="0.6"/>
<circle cx="459.8" cy="227.4" r="2.6" fill="#c0282d" stroke="#222" stroke-width="0.6"/>
<circle cx="385.2" cy="268.7" r="2.6" fill="#137060" stroke="#222" stroke-width="0.6"/>
<circle cx="403.6" cy="223.1" r="2.6" fill="#137060" stroke="#222" stroke-width="0.6"/>
<circle cx="422.4" cy="233.3" r="2.6" fill="#137060" stroke="#222" stroke-width="0.6"/>
<circle cx="441" cy="234.3" r="2.6" fill="#137060" stroke="#222" stroke-width="0.6"/>
<circle cx="459.8" cy="265.2" r="2.6" fill="#137060" stroke="#222" stroke-width="0.6"/>
<circle cx="385.2" cy="271.3" r="2.6" fill="#1e4bb4" stroke="#222" stroke-width="0.6"/>
<circle cx="403.6" cy="218.6" r="2.6" fill="#1e4bb4" stroke="#222" stroke-width="0.6"/>
<circle cx="422.4" cy="246.2" r="2.6" fill="#1e4bb4" stroke="#222" stroke-width="0.6"/>
<circle cx="441" cy="262.6" r="2.6" fill="#1e4bb4" stroke="#222" stroke-width="0.6"/>
<circle cx="459.8" cy="218.6" r="2.6" fill="#1e4bb4" stroke="#222" stroke-width="0.6"/>
<text transform="translate(494.1 210) rotate(0.05)" font-size="10.8" fill="#111" stroke="#111" stroke-width="0.1">Decreased</text>
<line x1="494.9" y1="214.9" x2="494.9" y2="294.05" stroke="#555" stroke-width="1.1"/>
<line x1="494.35" y1="293.5" x2="593.6" y2="293.5" stroke="#555" stroke-width="1.1"/>
<line x1="492.9" y1="229.4" x2="494.9" y2="229.4" stroke="#555" stroke-width="0.8"/>
<text transform="translate(492.1 232.4) rotate(0.05)" font-size="8" text-anchor="end" fill="#333" stroke="#333" stroke-width="0.2">60</text>
<line x1="492.9" y1="250.5" x2="494.9" y2="250.5" stroke="#555" stroke-width="0.8"/>
<text transform="translate(492.1 253.5) rotate(0.05)" font-size="8" text-anchor="end" fill="#333" stroke="#333" stroke-width="0.2">40</text>
<line x1="492.9" y1="271.7" x2="494.9" y2="271.7" stroke="#555" stroke-width="0.8"/>
<text transform="translate(492.1 274.7) rotate(0.05)" font-size="8" text-anchor="end" fill="#333" stroke="#333" stroke-width="0.2">20</text>
<line x1="492.9" y1="292.8" x2="494.9" y2="292.8" stroke="#555" stroke-width="0.8"/>
<text transform="translate(492.1 295.8) rotate(0.05)" font-size="8" text-anchor="end" fill="#333" stroke="#333" stroke-width="0.2">0</text>
<line x1="506.4" y1="293.5" x2="506.4" y2="295.5" stroke="#555" stroke-width="0.8"/>
<text transform="translate(506.4 304.3) rotate(0.05)" font-size="8" text-anchor="middle" fill="#111" stroke="#111" stroke-width="0.2">0h</text>
<line x1="525.2" y1="293.5" x2="525.2" y2="295.5" stroke="#555" stroke-width="0.8"/>
<text transform="translate(525.2 304.3) rotate(0.05)" font-size="8" text-anchor="middle" fill="#111" stroke="#111" stroke-width="0.2">15m</text>
<line x1="544.6" y1="293.5" x2="544.6" y2="295.5" stroke="#555" stroke-width="0.8"/>
<text transform="translate(544.6 304.3) rotate(0.05)" font-size="8" text-anchor="middle" fill="#111" stroke="#111" stroke-width="0.2">1h</text>
<line x1="563.6" y1="293.5" x2="563.6" y2="295.5" stroke="#555" stroke-width="0.8"/>
<text transform="translate(563.6 304.3) rotate(0.05)" font-size="8" text-anchor="middle" fill="#111" stroke="#111" stroke-width="0.2">6h</text>
<line x1="582.4" y1="293.5" x2="582.4" y2="295.5" stroke="#555" stroke-width="0.8"/>
<text transform="translate(582.4 304.3) rotate(0.05)" font-size="8" text-anchor="middle" fill="#111" stroke="#111" stroke-width="0.2">24h</text>
<polyline points="506.4,284 525.2,246.2 544.6,261.9 563.6,218.6 582.4,285.4" fill="none" stroke="#c0282d" stroke-width="1.4" stroke-linejoin="round"/>
<polyline points="506.4,284.4 525.2,275.8 544.6,273.8 563.6,290.6 582.4,267.3" fill="none" stroke="#1e4bb4" stroke-width="1.4" stroke-linejoin="round"/>
<polyline points="506.4,289.5 525.2,256.8 544.6,250.5 563.6,267.3 582.4,282.4" fill="none" stroke="#137060" stroke-width="1.4" stroke-linejoin="round"/>
<circle cx="506.4" cy="284" r="2.6" fill="#c0282d" stroke="#222" stroke-width="0.6"/>
<circle cx="525.2" cy="246.2" r="2.6" fill="#c0282d" stroke="#222" stroke-width="0.6"/>
<circle cx="544.6" cy="261.9" r="2.6" fill="#c0282d" stroke="#222" stroke-width="0.6"/>
<circle cx="563.6" cy="218.6" r="2.6" fill="#c0282d" stroke="#222" stroke-width="0.6"/>
<circle cx="582.4" cy="285.4" r="2.6" fill="#c0282d" stroke="#222" stroke-width="0.6"/>
<circle cx="506.4" cy="284.4" r="2.6" fill="#1e4bb4" stroke="#222" stroke-width="0.6"/>
<circle cx="525.2" cy="275.8" r="2.6" fill="#1e4bb4" stroke="#222" stroke-width="0.6"/>
<circle cx="544.6" cy="273.8" r="2.6" fill="#1e4bb4" stroke="#222" stroke-width="0.6"/>
<circle cx="563.6" cy="290.6" r="2.6" fill="#1e4bb4" stroke="#222" stroke-width="0.6"/>
<circle cx="582.4" cy="267.3" r="2.6" fill="#1e4bb4" stroke="#222" stroke-width="0.6"/>
<circle cx="506.4" cy="289.5" r="2.6" fill="#137060" stroke="#222" stroke-width="0.6"/>
<circle cx="525.2" cy="256.8" r="2.6" fill="#137060" stroke="#222" stroke-width="0.6"/>
<circle cx="544.6" cy="250.5" r="2.6" fill="#137060" stroke="#222" stroke-width="0.6"/>
<circle cx="563.6" cy="267.3" r="2.6" fill="#137060" stroke="#222" stroke-width="0.6"/>
<circle cx="582.4" cy="282.4" r="2.6" fill="#137060" stroke="#222" stroke-width="0.6"/>
<text transform="translate(341 288.2) rotate(-89.95)" font-size="8.8" fill="#1a1a1a" stroke="#1a1a1a" stroke-width="0.2">Significantly</text>
<text transform="translate(350.3 288.2) rotate(-89.95)" font-size="8.8" fill="#1a1a1a" stroke="#1a1a1a" stroke-width="0.2">changed lipids</text>
<circle cx="608.6" cy="245.6" r="2.6" fill="#c0282d" stroke="#222" stroke-width="0.6"/>
<text transform="translate(615.6 248.6) rotate(0.05)" font-size="8.1" fill="#111" stroke="#111" stroke-width="0.2">LPS</text>
<circle cx="608.6" cy="254.8" r="2.6" fill="#1e4bb4" stroke="#222" stroke-width="0.6"/>
<text transform="translate(615.6 257.8) rotate(0.05)" font-size="8.1" fill="#111" stroke="#111" stroke-width="0.2">ILG</text>
<circle cx="608.6" cy="263.7" r="2.6" fill="#137060" stroke="#222" stroke-width="0.6"/>
<text transform="translate(615.6 266.7) rotate(0.05)" font-size="8.1" fill="#111" stroke="#111" stroke-width="0.2">GU</text>
<text transform="translate(-0.8 372.1) rotate(0.05)" font-size="20" stroke="#000" stroke-width="0.1">d</text>
<text transform="translate(261.8 357.5) rotate(0.05)" font-size="8.9" text-anchor="middle" fill="#111" stroke="#111" stroke-width="0.2">PA</text>
<rect x="237.2" y="370.7" width="5.05" height="29.7" fill="#9a9a9a" stroke="#2b2b2b" stroke-width="0.7"/>
<line x1="239.72" y1="368.94" x2="239.72" y2="372.46" stroke="#222" stroke-width="0.6"/>
<line x1="238.72" y1="368.94" x2="240.72" y2="368.94" stroke="#222" stroke-width="0.6"/>
<circle cx="240.02" cy="368.81" r="0.95" fill="#2a2a2a"/>
<circle cx="239.19" cy="371" r="0.95" fill="#2a2a2a"/>
<circle cx="239.97" cy="371.53" r="0.95" fill="#2a2a2a"/>
<rect x="242.65" y="365.2" width="5.05" height="35.2" fill="#e58e8e" stroke="#2b2b2b" stroke-width="0.7"/>
<line x1="245.17" y1="362.83" x2="245.17" y2="367.57" stroke="#222" stroke-width="0.6"/>
<line x1="244.17" y1="362.83" x2="246.17" y2="362.83" stroke="#222" stroke-width="0.6"/>
<circle cx="245.4" cy="362.45" r="0.95" fill="#8a1414"/>
<circle cx="245.27" cy="364.69" r="0.95" fill="#8a1414"/>
<circle cx="245.55" cy="368.27" r="0.95" fill="#8a1414"/>
<rect x="248.1" y="378" width="5.05" height="22.4" fill="#86a2dc" stroke="#2b2b2b" stroke-width="0.7"/>
<line x1="250.62" y1="375" x2="250.62" y2="381" stroke="#222" stroke-width="0.6"/>
<line x1="249.62" y1="375" x2="251.62" y2="375" stroke="#222" stroke-width="0.6"/>
<circle cx="250.42" cy="375.24" r="0.95" fill="#1a3a8c"/>
<circle cx="250.03" cy="378.14" r="0.95" fill="#1a3a8c"/>
<circle cx="250.35" cy="381.81" r="0.95" fill="#1a3a8c"/>
<rect x="253.55" y="375.1" width="5.05" height="25.3" fill="#7cbfad" stroke="#2b2b2b" stroke-width="0.7"/>
<line x1="256.07" y1="373.08" x2="256.07" y2="377.12" stroke="#222" stroke-width="0.6"/>
<line x1="255.07" y1="373.08" x2="257.07" y2="373.08" stroke="#222" stroke-width="0.6"/>
<circle cx="255.78" cy="374.12" r="0.95" fill="#0d5a4a"/>
<circle cx="256.14" cy="376.98" r="0.95" fill="#0d5a4a"/>
<circle cx="255.97" cy="375.16" r="0.95" fill="#0d5a4a"/>
<rect x="261" y="393.3" width="5.05" height="7.1" fill="#9a9a9a" stroke="#2b2b2b" stroke-width="0.7"/>
<line x1="263.52" y1="391.62" x2="263.52" y2="394.98" stroke="#222" stroke-width="0.6"/>
<line x1="262.52" y1="391.62" x2="264.52" y2="391.62" stroke="#222" stroke-width="0.6"/>
<circle cx="263.96" cy="392.45" r="0.95" fill="#2a2a2a"/>
<circle cx="263.95" cy="394.62" r="0.95" fill="#2a2a2a"/>
<circle cx="263.16" cy="392.24" r="0.95" fill="#2a2a2a"/>
<rect x="266.45" y="385.1" width="5.05" height="15.3" fill="#e58e8e" stroke="#2b2b2b" stroke-width="0.7"/>
<line x1="268.97" y1="383.42" x2="268.97" y2="386.78" stroke="#222" stroke-width="0.6"/>
<line x1="267.97" y1="383.42" x2="269.97" y2="383.42" stroke="#222" stroke-width="0.6"/>
<circle cx="268.82" cy="385.26" r="0.95" fill="#8a1414"/>
<circle cx="268.96" cy="384.94" r="0.95" fill="#8a1414"/>
<circle cx="268.81" cy="385.47" r="0.95" fill="#8a1414"/>
<rect x="271.9" y="380.4" width="5.05" height="20" fill="#86a2dc" stroke="#2b2b2b" stroke-width="0.7"/>
<line x1="274.42" y1="377.52" x2="274.42" y2="383.28" stroke="#222" stroke-width="0.6"/>
<line x1="273.42" y1="377.52" x2="275.42" y2="377.52" stroke="#222" stroke-width="0.6"/>
<circle cx="274.92" cy="378.15" r="0.95" fill="#1a3a8c"/>
<circle cx="273.88" cy="380.82" r="0.95" fill="#1a3a8c"/>
<circle cx="274.46" cy="379.01" r="0.95" fill="#1a3a8c"/>
<rect x="277.35" y="386.3" width="5.05" height="14.1" fill="#7cbfad" stroke="#2b2b2b" stroke-width="0.7"/>
<line x1="279.87" y1="384.05" x2="279.87" y2="388.55" stroke="#222" stroke-width="0.6"/>
<line x1="278.87" y1="384.05" x2="280.87" y2="384.05" stroke="#222" stroke-width="0.6"/>
<circle cx="279.66" cy="386.68" r="0.95" fill="#0d5a4a"/>
<circle cx="280.23" cy="384.97" r="0.95" fill="#0d5a4a"/>
<circle cx="280.12" cy="385.08" r="0.95" fill="#0d5a4a"/>
<text transform="translate(279.87 398) rotate(0.05)" font-size="7.5" text-anchor="middle" fill="#ee2026" font-weight="bold">*</text>
<line x1="233.9" y1="359.2" x2="233.9" y2="400.9" stroke="#333" stroke-width="1.1"/>
<line x1="233.4" y1="400.4" x2="285.4" y2="400.4" stroke="#222" stroke-width="1.1"/>
<line x1="232.5" y1="370.2" x2="233.9" y2="370.2" stroke="#444" stroke-width="0.5"/>
<text transform="translate(231.9 371.8) rotate(0.05)" font-size="4.5" text-anchor="end" fill="#666" stroke="#666" stroke-width="0.06">1.5×10<tspan font-size="3" dy="-1.7">8</tspan></text>
<line x1="232.5" y1="380.3" x2="233.9" y2="380.3" stroke="#444" stroke-width="0.5"/>
<text transform="translate(231.9 381.9) rotate(0.05)" font-size="4.5" text-anchor="end" fill="#666" stroke="#666" stroke-width="0.06">1.0×10<tspan font-size="3" dy="-1.7">8</tspan></text>
<line x1="232.5" y1="390.8" x2="233.9" y2="390.8" stroke="#444" stroke-width="0.5"/>
<text transform="translate(231.9 392.4) rotate(0.05)" font-size="4.5" text-anchor="end" fill="#666" stroke="#666" stroke-width="0.06">5.0×10<tspan font-size="3" dy="-1.7">7</tspan></text>
<line x1="232.5" y1="401" x2="233.9" y2="401" stroke="#444" stroke-width="0.5"/>
<text transform="translate(231.9 402.6) rotate(0.05)" font-size="4.5" text-anchor="end" fill="#666" stroke="#666" stroke-width="0.06">0.0×10<tspan font-size="3" dy="-1.7">0</tspan></text>
<text transform="translate(247.2 407.4) rotate(0.05)" font-size="5" text-anchor="middle" fill="#222" stroke="#222" stroke-width="0.17">1h</text>
<text transform="translate(271.1 407.4) rotate(0.05)" font-size="5" text-anchor="middle" fill="#222" stroke="#222" stroke-width="0.17">24h</text>
<text transform="translate(211.4 380.6) rotate(-89.95)" font-size="5.2" text-anchor="middle" fill="#333" stroke="#333" stroke-width="0.17">Abundance</text>
<text transform="translate(380.3 357.1) rotate(0.05)" font-size="8.9" text-anchor="middle" fill="#111" stroke="#111" stroke-width="0.2">DG</text>
<rect x="355.9" y="369.4" width="5.05" height="30.9" fill="#9a9a9a" stroke="#2b2b2b" stroke-width="0.7"/>
<line x1="358.42" y1="366.52" x2="358.42" y2="372.28" stroke="#222" stroke-width="0.6"/>
<line x1="357.42" y1="366.52" x2="359.42" y2="366.52" stroke="#222" stroke-width="0.6"/>
<circle cx="358.37" cy="370.09" r="0.95" fill="#2a2a2a"/>
<circle cx="358.35" cy="372.66" r="0.95" fill="#2a2a2a"/>
<circle cx="357.89" cy="372.23" r="0.95" fill="#2a2a2a"/>
<rect x="361.35" y="376.4" width="5.05" height="23.9" fill="#e58e8e" stroke="#2b2b2b" stroke-width="0.7"/>
<line x1="363.87" y1="374.11" x2="363.87" y2="378.69" stroke="#222" stroke-width="0.6"/>
<line x1="362.87" y1="374.11" x2="364.87" y2="374.11" stroke="#222" stroke-width="0.6"/>
<circle cx="363.33" cy="377.23" r="0.95" fill="#8a1414"/>
<circle cx="363.36" cy="378.56" r="0.95" fill="#8a1414"/>
<circle cx="363.49" cy="376.97" r="0.95" fill="#8a1414"/>
<rect x="366.8" y="370.4" width="5.05" height="29.9" fill="#86a2dc" stroke="#2b2b2b" stroke-width="0.7"/>
<line x1="369.32" y1="367.32" x2="369.32" y2="373.48" stroke="#222" stroke-width="0.6"/>
<line x1="368.32" y1="367.32" x2="370.32" y2="367.32" stroke="#222" stroke-width="0.6"/>
<circle cx="369.68" cy="370.89" r="0.95" fill="#1a3a8c"/>
<circle cx="369.53" cy="370.39" r="0.95" fill="#1a3a8c"/>
<circle cx="369.07" cy="371.8" r="0.95" fill="#1a3a8c"/>
<rect x="372.25" y="378" width="5.05" height="22.3" fill="#7cbfad" stroke="#2b2b2b" stroke-width="0.7"/>
<line x1="374.77" y1="376.06" x2="374.77" y2="379.94" stroke="#222" stroke-width="0.6"/>
<line x1="373.77" y1="376.06" x2="375.77" y2="376.06" stroke="#222" stroke-width="0.6"/>
<circle cx="374.34" cy="379.7" r="0.95" fill="#0d5a4a"/>
<circle cx="374.42" cy="380.11" r="0.95" fill="#0d5a4a"/>
<circle cx="374.28" cy="375.99" r="0.95" fill="#0d5a4a"/>
<rect x="379.7" y="385.2" width="5.05" height="15.1" fill="#9a9a9a" stroke="#2b2b2b" stroke-width="0.7"/>
<line x1="382.22" y1="382.35" x2="382.22" y2="388.05" stroke="#222" stroke-width="0.6"/>
<line x1="381.22" y1="382.35" x2="383.22" y2="382.35" stroke="#222" stroke-width="0.6"/>
<circle cx="382.12" cy="388.55" r="0.95" fill="#2a2a2a"/>
<circle cx="381.93" cy="386.38" r="0.95" fill="#2a2a2a"/>
<circle cx="382.44" cy="388.21" r="0.95" fill="#2a2a2a"/>
<rect x="385.15" y="387.4" width="5.05" height="12.9" fill="#e58e8e" stroke="#2b2b2b" stroke-width="0.7"/>
<line x1="387.67" y1="385.55" x2="387.67" y2="389.25" stroke="#222" stroke-width="0.6"/>
<line x1="386.67" y1="385.55" x2="388.67" y2="385.55" stroke="#222" stroke-width="0.6"/>
<circle cx="387.9" cy="385.27" r="0.95" fill="#8a1414"/>
<circle cx="388.07" cy="385.2" r="0.95" fill="#8a1414"/>
<circle cx="387.35" cy="386.41" r="0.95" fill="#8a1414"/>
<rect x="390.6" y="374.5" width="5.05" height="25.8" fill="#86a2dc" stroke="#2b2b2b" stroke-width="0.7"/>
<line x1="393.12" y1="371.97" x2="393.12" y2="377.03" stroke="#222" stroke-width="0.6"/>
<line x1="392.12" y1="371.97" x2="394.12" y2="371.97" stroke="#222" stroke-width="0.6"/>
<circle cx="393.19" cy="373.31" r="0.95" fill="#1a3a8c"/>
<circle cx="393.61" cy="372.22" r="0.95" fill="#1a3a8c"/>
<circle cx="393.53" cy="373.34" r="0.95" fill="#1a3a8c"/>
<rect x="396.05" y="389.3" width="5.05" height="11" fill="#7cbfad" stroke="#2b2b2b" stroke-width="0.7"/>
<line x1="398.57" y1="387.46" x2="398.57" y2="391.14" stroke="#222" stroke-width="0.6"/>
<line x1="397.57" y1="387.46" x2="399.57" y2="387.46" stroke="#222" stroke-width="0.6"/>
<circle cx="399.15" cy="390.73" r="0.95" fill="#0d5a4a"/>
<circle cx="398.01" cy="388.78" r="0.95" fill="#0d5a4a"/>
<circle cx="398.74" cy="388.72" r="0.95" fill="#0d5a4a"/>
<line x1="352.6" y1="359" x2="352.6" y2="400.8" stroke="#333" stroke-width="1.1"/>
<line x1="352.1" y1="400.3" x2="404.1" y2="400.3" stroke="#222" stroke-width="1.1"/>
<line x1="351.2" y1="372.6" x2="352.6" y2="372.6" stroke="#444" stroke-width="0.5"/>
<text transform="translate(350.6 374.2) rotate(0.05)" font-size="4.5" text-anchor="end" fill="#666" stroke="#666" stroke-width="0.06">1×10<tspan font-size="3" dy="-1.7">8</tspan></text>
<line x1="351.2" y1="386.3" x2="352.6" y2="386.3" stroke="#444" stroke-width="0.5"/>
<text transform="translate(350.6 387.9) rotate(0.05)" font-size="4.5" text-anchor="end" fill="#666" stroke="#666" stroke-width="0.06">5×10<tspan font-size="3" dy="-1.7">7</tspan></text>
<line x1="351.2" y1="400.5" x2="352.6" y2="400.5" stroke="#444" stroke-width="0.5"/>
<text transform="translate(350.6 402.1) rotate(0.05)" font-size="4.5" text-anchor="end" fill="#666" stroke="#666" stroke-width="0.06">0×10<tspan font-size="3" dy="-1.7">0</tspan></text>
<text transform="translate(365.9 407.3) rotate(0.05)" font-size="5" text-anchor="middle" fill="#222" stroke="#222" stroke-width="0.17">1h</text>
<text transform="translate(389.8 407.3) rotate(0.05)" font-size="5" text-anchor="middle" fill="#222" stroke="#222" stroke-width="0.17">24h</text>
<text transform="translate(335.7 380.45) rotate(-89.95)" font-size="5.2" text-anchor="middle" fill="#333" stroke="#333" stroke-width="0.17">Abundance</text>
<text transform="translate(483.5 357.1) rotate(0.05)" font-size="8.9" text-anchor="middle" fill="#111" stroke="#111" stroke-width="0.2">MG</text>
<rect x="458.7" y="364.7" width="5.05" height="35.6" fill="#9a9a9a" stroke="#2b2b2b" stroke-width="0.7"/>
<line x1="461.22" y1="362.74" x2="461.22" y2="366.66" stroke="#222" stroke-width="0.6"/>
<line x1="460.22" y1="362.74" x2="462.22" y2="362.74" stroke="#222" stroke-width="0.6"/>
<circle cx="460.73" cy="364.93" r="0.95" fill="#2a2a2a"/>
<circle cx="461.49" cy="364.52" r="0.95" fill="#2a2a2a"/>
<circle cx="461.43" cy="364.34" r="0.95" fill="#2a2a2a"/>
<rect x="464.15" y="367.5" width="5.05" height="32.8" fill="#e58e8e" stroke="#2b2b2b" stroke-width="0.7"/>
<line x1="466.67" y1="365.72" x2="466.67" y2="369.28" stroke="#222" stroke-width="0.6"/>
<line x1="465.67" y1="365.72" x2="467.67" y2="365.72" stroke="#222" stroke-width="0.6"/>
<circle cx="466.22" cy="369.02" r="0.95" fill="#8a1414"/>
<circle cx="467.27" cy="369.46" r="0.95" fill="#8a1414"/>
<circle cx="466.7" cy="369.54" r="0.95" fill="#8a1414"/>
<rect x="469.6" y="363.7" width="5.05" height="36.6" fill="#86a2dc" stroke="#2b2b2b" stroke-width="0.7"/>
<line x1="472.12" y1="361.63" x2="472.12" y2="365.77" stroke="#222" stroke-width="0.6"/>
<line x1="471.12" y1="361.63" x2="473.12" y2="361.63" stroke="#222" stroke-width="0.6"/>
<circle cx="472.42" cy="362.88" r="0.95" fill="#1a3a8c"/>
<circle cx="472.64" cy="363.68" r="0.95" fill="#1a3a8c"/>
<circle cx="472.1" cy="361.51" r="0.95" fill="#1a3a8c"/>
<rect x="475.05" y="371.3" width="5.05" height="29" fill="#7cbfad" stroke="#2b2b2b" stroke-width="0.7"/>
<line x1="477.57" y1="368.32" x2="477.57" y2="374.28" stroke="#222" stroke-width="0.6"/>
<line x1="476.57" y1="368.32" x2="478.57" y2="368.32" stroke="#222" stroke-width="0.6"/>
<circle cx="477.62" cy="372.06" r="0.95" fill="#0d5a4a"/>
<circle cx="477.14" cy="368.11" r="0.95" fill="#0d5a4a"/>
<circle cx="478.04" cy="369.53" r="0.95" fill="#0d5a4a"/>
<rect x="482.5" y="388.4" width="5.05" height="11.9" fill="#9a9a9a" stroke="#2b2b2b" stroke-width="0.7"/>
<line x1="485.02" y1="385.45" x2="485.02" y2="391.35" stroke="#222" stroke-width="0.6"/>
<line x1="484.02" y1="385.45" x2="486.02" y2="385.45" stroke="#222" stroke-width="0.6"/>
<circle cx="485.53" cy="386.31" r="0.95" fill="#2a2a2a"/>
<circle cx="485.14" cy="384.81" r="0.95" fill="#2a2a2a"/>
<circle cx="484.83" cy="391.99" r="0.95" fill="#2a2a2a"/>
<rect x="487.95" y="388.4" width="5.05" height="11.9" fill="#e58e8e" stroke="#2b2b2b" stroke-width="0.7"/>
<line x1="490.47" y1="385.29" x2="490.47" y2="391.51" stroke="#222" stroke-width="0.6"/>
<line x1="489.47" y1="385.29" x2="491.47" y2="385.29" stroke="#222" stroke-width="0.6"/>
<circle cx="489.93" cy="389.67" r="0.95" fill="#8a1414"/>
<circle cx="490.41" cy="387.05" r="0.95" fill="#8a1414"/>
<circle cx="490.76" cy="386.36" r="0.95" fill="#8a1414"/>
<rect x="493.4" y="380.2" width="5.05" height="20.1" fill="#86a2dc" stroke="#2b2b2b" stroke-width="0.7"/>
<line x1="495.92" y1="378.31" x2="495.92" y2="382.09" stroke="#222" stroke-width="0.6"/>
<line x1="494.92" y1="378.31" x2="496.92" y2="378.31" stroke="#222" stroke-width="0.6"/>
<circle cx="495.68" cy="381.61" r="0.95" fill="#1a3a8c"/>
<circle cx="495.99" cy="378.09" r="0.95" fill="#1a3a8c"/>
<circle cx="495.98" cy="378.22" r="0.95" fill="#1a3a8c"/>
<rect x="498.85" y="389.7" width="5.05" height="10.6" fill="#7cbfad" stroke="#2b2b2b" stroke-width="0.7"/>
<line x1="501.37" y1="386.84" x2="501.37" y2="392.56" stroke="#222" stroke-width="0.6"/>
<line x1="500.37" y1="386.84" x2="502.37" y2="386.84" stroke="#222" stroke-width="0.6"/>
<circle cx="501.32" cy="390.41" r="0.95" fill="#0d5a4a"/>
<circle cx="501.39" cy="386.23" r="0.95" fill="#0d5a4a"/>
<circle cx="501.55" cy="386.7" r="0.95" fill="#0d5a4a"/>
<line x1="455.4" y1="359" x2="455.4" y2="400.8" stroke="#333" stroke-width="1.1"/>
<line x1="454.9" y1="400.3" x2="506.9" y2="400.3" stroke="#222" stroke-width="1.1"/>
<line x1="454" y1="366.6" x2="455.4" y2="366.6" stroke="#444" stroke-width="0.5"/>
<text transform="translate(453.4 368.2) rotate(0.05)" font-size="4.5" text-anchor="end" fill="#666" stroke="#666" stroke-width="0.06">2.0×10<tspan font-size="3" dy="-1.7">7</tspan></text>
<line x1="454" y1="375" x2="455.4" y2="375" stroke="#444" stroke-width="0.5"/>
<text transform="translate(453.4 376.6) rotate(0.05)" font-size="4.5" text-anchor="end" fill="#666" stroke="#666" stroke-width="0.06">1.5×10<tspan font-size="3" dy="-1.7">7</tspan></text>
<line x1="454" y1="383.4" x2="455.4" y2="383.4" stroke="#444" stroke-width="0.5"/>
<text transform="translate(453.4 385) rotate(0.05)" font-size="4.5" text-anchor="end" fill="#666" stroke="#666" stroke-width="0.06">1.0×10<tspan font-size="3" dy="-1.7">7</tspan></text>
<line x1="454" y1="391.8" x2="455.4" y2="391.8" stroke="#444" stroke-width="0.5"/>
<text transform="translate(453.4 393.4) rotate(0.05)" font-size="4.5" text-anchor="end" fill="#666" stroke="#666" stroke-width="0.06">5.0×10<tspan font-size="3" dy="-1.7">6</tspan></text>
<line x1="454" y1="400.5" x2="455.4" y2="400.5" stroke="#444" stroke-width="0.5"/>
<text transform="translate(453.4 402.1) rotate(0.05)" font-size="4.5" text-anchor="end" fill="#666" stroke="#666" stroke-width="0.06">0.0×10<tspan font-size="3" dy="-1.7">0</tspan></text>
<text transform="translate(468.7 407.3) rotate(0.05)" font-size="5" text-anchor="middle" fill="#222" stroke="#222" stroke-width="0.17">1h</text>
<text transform="translate(492.6 407.3) rotate(0.05)" font-size="5" text-anchor="middle" fill="#222" stroke="#222" stroke-width="0.17">24h</text>
<text transform="translate(434.5 380.45) rotate(-89.95)" font-size="5.2" text-anchor="middle" fill="#333" stroke="#333" stroke-width="0.17">Abundance</text>
<text transform="translate(259 440.7) rotate(0.05)" font-size="8.9" text-anchor="middle" fill="#111" stroke="#111" stroke-width="0.2">PS</text>
<rect x="234.9" y="458.1" width="5.05" height="25.3" fill="#9a9a9a" stroke="#2b2b2b" stroke-width="0.7"/>
<line x1="237.42" y1="456.29" x2="237.42" y2="459.91" stroke="#222" stroke-width="0.6"/>
<line x1="236.42" y1="456.29" x2="238.42" y2="456.29" stroke="#222" stroke-width="0.6"/>
<circle cx="237.24" cy="458.47" r="0.95" fill="#2a2a2a"/>
<circle cx="237.62" cy="457.51" r="0.95" fill="#2a2a2a"/>
<circle cx="237.02" cy="456.52" r="0.95" fill="#2a2a2a"/>
<rect x="240.35" y="466.1" width="5.05" height="17.3" fill="#e58e8e" stroke="#2b2b2b" stroke-width="0.7"/>
<line x1="242.87" y1="462.99" x2="242.87" y2="469.21" stroke="#222" stroke-width="0.6"/>
<line x1="241.87" y1="462.99" x2="243.87" y2="462.99" stroke="#222" stroke-width="0.6"/>
<circle cx="243.28" cy="464.74" r="0.95" fill="#8a1414"/>
<circle cx="242.85" cy="469.12" r="0.95" fill="#8a1414"/>
<circle cx="242.38" cy="463.27" r="0.95" fill="#8a1414"/>
<rect x="245.8" y="467.2" width="5.05" height="16.2" fill="#86a2dc" stroke="#2b2b2b" stroke-width="0.7"/>
<line x1="248.32" y1="464.19" x2="248.32" y2="470.21" stroke="#222" stroke-width="0.6"/>
<line x1="247.32" y1="464.19" x2="249.32" y2="464.19" stroke="#222" stroke-width="0.6"/>
<circle cx="248.32" cy="464.21" r="0.95" fill="#1a3a8c"/>
<circle cx="247.86" cy="467.48" r="0.95" fill="#1a3a8c"/>
<circle cx="247.92" cy="466.95" r="0.95" fill="#1a3a8c"/>
<rect x="251.25" y="468.6" width="5.05" height="14.8" fill="#7cbfad" stroke="#2b2b2b" stroke-width="0.7"/>
<line x1="253.77" y1="466.14" x2="253.77" y2="471.06" stroke="#222" stroke-width="0.6"/>
<line x1="252.77" y1="466.14" x2="254.77" y2="466.14" stroke="#222" stroke-width="0.6"/>
<circle cx="253.61" cy="468.64" r="0.95" fill="#0d5a4a"/>
<circle cx="253.65" cy="466.67" r="0.95" fill="#0d5a4a"/>
<circle cx="253.32" cy="466.71" r="0.95" fill="#0d5a4a"/>
<rect x="258.7" y="467.2" width="5.05" height="16.2" fill="#9a9a9a" stroke="#2b2b2b" stroke-width="0.7"/>
<line x1="261.22" y1="465.22" x2="261.22" y2="469.18" stroke="#222" stroke-width="0.6"/>
<line x1="260.22" y1="465.22" x2="262.22" y2="465.22" stroke="#222" stroke-width="0.6"/>
<circle cx="261.22" cy="469.12" r="0.95" fill="#2a2a2a"/>
<circle cx="260.64" cy="469.21" r="0.95" fill="#2a2a2a"/>
<circle cx="261.21" cy="469.49" r="0.95" fill="#2a2a2a"/>
<rect x="264.15" y="452.1" width="5.05" height="31.3" fill="#e58e8e" stroke="#2b2b2b" stroke-width="0.7"/>
<line x1="266.67" y1="449.23" x2="266.67" y2="454.97" stroke="#222" stroke-width="0.6"/>
<line x1="265.67" y1="449.23" x2="267.67" y2="449.23" stroke="#222" stroke-width="0.6"/>
<circle cx="266.9" cy="452.62" r="0.95" fill="#8a1414"/>
<circle cx="266.97" cy="450.08" r="0.95" fill="#8a1414"/>
<circle cx="266.39" cy="449.52" r="0.95" fill="#8a1414"/>
<rect x="269.6" y="456.6" width="5.05" height="26.8" fill="#86a2dc" stroke="#2b2b2b" stroke-width="0.7"/>
<line x1="272.12" y1="454.95" x2="272.12" y2="458.25" stroke="#222" stroke-width="0.6"/>
<line x1="271.12" y1="454.95" x2="273.12" y2="454.95" stroke="#222" stroke-width="0.6"/>
<circle cx="272.14" cy="456.14" r="0.95" fill="#1a3a8c"/>
<circle cx="272.59" cy="455.71" r="0.95" fill="#1a3a8c"/>
<circle cx="272.21" cy="454.82" r="0.95" fill="#1a3a8c"/>
<rect x="275.05" y="466.1" width="5.05" height="17.3" fill="#7cbfad" stroke="#2b2b2b" stroke-width="0.7"/>
<line x1="277.57" y1="464.13" x2="277.57" y2="468.07" stroke="#222" stroke-width="0.6"/>
<line x1="276.57" y1="464.13" x2="278.57" y2="464.13" stroke="#222" stroke-width="0.6"/>
<circle cx="277.91" cy="466.59" r="0.95" fill="#0d5a4a"/>
<circle cx="277.04" cy="467.18" r="0.95" fill="#0d5a4a"/>
<circle cx="277.69" cy="464.79" r="0.95" fill="#0d5a4a"/>
<text transform="translate(242.87 481.3) rotate(0.05)" font-size="7.5" text-anchor="middle" fill="#ee2026" font-weight="bold">*</text>
<text transform="translate(248.32 481.3) rotate(0.05)" font-size="7.5" text-anchor="middle" fill="#ee2026" font-weight="bold">*</text>
<text transform="translate(266.67 481.3) rotate(0.05)" font-size="7.5" text-anchor="middle" fill="#ee2026" font-weight="bold">*</text>
<line x1="231.6" y1="442.6" x2="231.6" y2="483.9" stroke="#333" stroke-width="1.1"/>
<line x1="231.1" y1="483.4" x2="283.1" y2="483.4" stroke="#222" stroke-width="1.1"/>
<line x1="230.2" y1="444.4" x2="231.6" y2="444.4" stroke="#444" stroke-width="0.5"/>
<text transform="translate(229.6 446) rotate(0.05)" font-size="4.5" text-anchor="end" fill="#666" stroke="#666" stroke-width="0.06">4×10<tspan font-size="3" dy="-1.7">7</tspan></text>
<line x1="230.2" y1="454.3" x2="231.6" y2="454.3" stroke="#444" stroke-width="0.5"/>
<text transform="translate(229.6 455.9) rotate(0.05)" font-size="4.5" text-anchor="end" fill="#666" stroke="#666" stroke-width="0.06">3×10<tspan font-size="3" dy="-1.7">7</tspan></text>
<line x1="230.2" y1="464.2" x2="231.6" y2="464.2" stroke="#444" stroke-width="0.5"/>
<text transform="translate(229.6 465.8) rotate(0.05)" font-size="4.5" text-anchor="end" fill="#666" stroke="#666" stroke-width="0.06">2×10<tspan font-size="3" dy="-1.7">7</tspan></text>
<line x1="230.2" y1="474.1" x2="231.6" y2="474.1" stroke="#444" stroke-width="0.5"/>
<text transform="translate(229.6 475.7) rotate(0.05)" font-size="4.5" text-anchor="end" fill="#666" stroke="#666" stroke-width="0.06">1×10<tspan font-size="3" dy="-1.7">7</tspan></text>
<line x1="230.2" y1="484" x2="231.6" y2="484" stroke="#444" stroke-width="0.5"/>
<text transform="translate(229.6 485.6) rotate(0.05)" font-size="4.5" text-anchor="end" fill="#666" stroke="#666" stroke-width="0.06">0×10<tspan font-size="3" dy="-1.7">0</tspan></text>
<text transform="translate(244.9 490.4) rotate(0.05)" font-size="5" text-anchor="middle" fill="#222" stroke="#222" stroke-width="0.17">1h</text>
<text transform="translate(268.8 490.4) rotate(0.05)" font-size="5" text-anchor="middle" fill="#222" stroke="#222" stroke-width="0.17">24h</text>
<text transform="translate(215.1 463.8) rotate(-89.95)" font-size="5.2" text-anchor="middle" fill="#333" stroke="#333" stroke-width="0.17">Abundance</text>
<text transform="translate(166.2 440.9) rotate(0.05)" font-size="8.9" text-anchor="middle" fill="#111" stroke="#111" stroke-width="0.2">PE</text>
<rect x="141.5" y="455" width="5.05" height="28.4" fill="#9a9a9a" stroke="#2b2b2b" stroke-width="0.7"/>
<line x1="144.02" y1="451.83" x2="144.02" y2="458.17" stroke="#222" stroke-width="0.6"/>
<line x1="143.02" y1="451.83" x2="145.02" y2="451.83" stroke="#222" stroke-width="0.6"/>
<circle cx="144.16" cy="451.22" r="0.95" fill="#2a2a2a"/>
<circle cx="144.4" cy="456.58" r="0.95" fill="#2a2a2a"/>
<circle cx="144.39" cy="453.7" r="0.95" fill="#2a2a2a"/>
<rect x="146.95" y="467.4" width="5.05" height="16" fill="#e58e8e" stroke="#2b2b2b" stroke-width="0.7"/>
<line x1="149.47" y1="465.06" x2="149.47" y2="469.74" stroke="#222" stroke-width="0.6"/>
<line x1="148.47" y1="465.06" x2="150.47" y2="465.06" stroke="#222" stroke-width="0.6"/>
<circle cx="148.88" cy="469.96" r="0.95" fill="#8a1414"/>
<circle cx="149.36" cy="470.08" r="0.95" fill="#8a1414"/>
<circle cx="148.98" cy="466.84" r="0.95" fill="#8a1414"/>
<rect x="152.4" y="468.2" width="5.05" height="15.2" fill="#86a2dc" stroke="#2b2b2b" stroke-width="0.7"/>
<line x1="154.92" y1="466.21" x2="154.92" y2="470.19" stroke="#222" stroke-width="0.6"/>
<line x1="153.92" y1="466.21" x2="155.92" y2="466.21" stroke="#222" stroke-width="0.6"/>
<circle cx="155.13" cy="469.41" r="0.95" fill="#1a3a8c"/>
<circle cx="154.73" cy="466.39" r="0.95" fill="#1a3a8c"/>
<circle cx="154.56" cy="466.34" r="0.95" fill="#1a3a8c"/>
<rect x="157.85" y="471.1" width="5.05" height="12.3" fill="#7cbfad" stroke="#2b2b2b" stroke-width="0.7"/>
<line x1="160.37" y1="469.15" x2="160.37" y2="473.05" stroke="#222" stroke-width="0.6"/>
<line x1="159.37" y1="469.15" x2="161.37" y2="469.15" stroke="#222" stroke-width="0.6"/>
<circle cx="160.94" cy="470.24" r="0.95" fill="#0d5a4a"/>
<circle cx="160.72" cy="473.62" r="0.95" fill="#0d5a4a"/>
<circle cx="160.37" cy="471" r="0.95" fill="#0d5a4a"/>
<rect x="165.3" y="467.1" width="5.05" height="16.3" fill="#9a9a9a" stroke="#2b2b2b" stroke-width="0.7"/>
<line x1="167.82" y1="464.25" x2="167.82" y2="469.95" stroke="#222" stroke-width="0.6"/>
<line x1="166.82" y1="464.25" x2="168.82" y2="464.25" stroke="#222" stroke-width="0.6"/>
<circle cx="168.12" cy="470.12" r="0.95" fill="#2a2a2a"/>
<circle cx="167.46" cy="468.11" r="0.95" fill="#2a2a2a"/>
<circle cx="168.23" cy="468.03" r="0.95" fill="#2a2a2a"/>
<rect x="170.75" y="458.1" width="5.05" height="25.3" fill="#e58e8e" stroke="#2b2b2b" stroke-width="0.7"/>
<line x1="173.27" y1="455.24" x2="173.27" y2="460.96" stroke="#222" stroke-width="0.6"/>
<line x1="172.27" y1="455.24" x2="174.27" y2="455.24" stroke="#222" stroke-width="0.6"/>
<circle cx="173.53" cy="455.07" r="0.95" fill="#8a1414"/>
<circle cx="172.86" cy="456.98" r="0.95" fill="#8a1414"/>
<circle cx="173.48" cy="461.56" r="0.95" fill="#8a1414"/>
<rect x="176.2" y="466.3" width="5.05" height="17.1" fill="#86a2dc" stroke="#2b2b2b" stroke-width="0.7"/>
<line x1="178.72" y1="463.51" x2="178.72" y2="469.09" stroke="#222" stroke-width="0.6"/>
<line x1="177.72" y1="463.51" x2="179.72" y2="463.51" stroke="#222" stroke-width="0.6"/>
<circle cx="179.11" cy="463.65" r="0.95" fill="#1a3a8c"/>
<circle cx="179.21" cy="469.47" r="0.95" fill="#1a3a8c"/>
<circle cx="179.12" cy="468.08" r="0.95" fill="#1a3a8c"/>
<rect x="181.65" y="470.3" width="5.05" height="13.1" fill="#7cbfad" stroke="#2b2b2b" stroke-width="0.7"/>
<line x1="184.17" y1="467.42" x2="184.17" y2="473.18" stroke="#222" stroke-width="0.6"/>
<line x1="183.17" y1="467.42" x2="185.17" y2="467.42" stroke="#222" stroke-width="0.6"/>
<circle cx="184.09" cy="470.98" r="0.95" fill="#0d5a4a"/>
<circle cx="184.51" cy="472.74" r="0.95" fill="#0d5a4a"/>
<circle cx="183.93" cy="473.08" r="0.95" fill="#0d5a4a"/>
<text transform="translate(173.27 481.7) rotate(0.05)" font-size="7.5" text-anchor="middle" fill="#ee2026" font-weight="bold">*</text>
<line x1="138.2" y1="442.5" x2="138.2" y2="483.9" stroke="#333" stroke-width="1.1"/>
<line x1="137.7" y1="483.4" x2="189.7" y2="483.4" stroke="#222" stroke-width="1.1"/>
<line x1="136.8" y1="453.4" x2="138.2" y2="453.4" stroke="#444" stroke-width="0.5"/>
<text transform="translate(136.2 455) rotate(0.05)" font-size="4.5" text-anchor="end" fill="#666" stroke="#666" stroke-width="0.06">9×10<tspan font-size="3" dy="-1.7">7</tspan></text>
<line x1="136.8" y1="463.6" x2="138.2" y2="463.6" stroke="#444" stroke-width="0.5"/>
<text transform="translate(136.2 465.2) rotate(0.05)" font-size="4.5" text-anchor="end" fill="#666" stroke="#666" stroke-width="0.06">6×10<tspan font-size="3" dy="-1.7">7</tspan></text>
<line x1="136.8" y1="473.9" x2="138.2" y2="473.9" stroke="#444" stroke-width="0.5"/>
<text transform="translate(136.2 475.5) rotate(0.05)" font-size="4.5" text-anchor="end" fill="#666" stroke="#666" stroke-width="0.06">3×10<tspan font-size="3" dy="-1.7">7</tspan></text>
<line x1="136.8" y1="484.2" x2="138.2" y2="484.2" stroke="#444" stroke-width="0.5"/>
<text transform="translate(136.2 485.8) rotate(0.05)" font-size="4.5" text-anchor="end" fill="#666" stroke="#666" stroke-width="0.06">0×10<tspan font-size="3" dy="-1.7">0</tspan></text>
<text transform="translate(151.5 490.4) rotate(0.05)" font-size="5" text-anchor="middle" fill="#222" stroke="#222" stroke-width="0.17">1h</text>
<text transform="translate(175.4 490.4) rotate(0.05)" font-size="5" text-anchor="middle" fill="#222" stroke="#222" stroke-width="0.17">24h</text>
<text transform="translate(122.1 463.75) rotate(-89.95)" font-size="5.2" text-anchor="middle" fill="#333" stroke="#333" stroke-width="0.17">Abundance</text>
<text transform="translate(68.4 440.9) rotate(0.05)" font-size="8.9" text-anchor="middle" fill="#111" stroke="#111" stroke-width="0.2">PC</text>
<rect x="43.8" y="450.2" width="5.05" height="33.2" fill="#9a9a9a" stroke="#2b2b2b" stroke-width="0.7"/>
<line x1="46.32" y1="447.06" x2="46.32" y2="453.34" stroke="#222" stroke-width="0.6"/>
<line x1="45.32" y1="447.06" x2="47.32" y2="447.06" stroke="#222" stroke-width="0.6"/>
<circle cx="46.86" cy="450.46" r="0.95" fill="#2a2a2a"/>
<circle cx="46.88" cy="447.07" r="0.95" fill="#2a2a2a"/>
<circle cx="46.02" cy="452.55" r="0.95" fill="#2a2a2a"/>
<rect x="49.25" y="458.2" width="5.05" height="25.2" fill="#e58e8e" stroke="#2b2b2b" stroke-width="0.7"/>
<line x1="51.77" y1="455.26" x2="51.77" y2="461.14" stroke="#222" stroke-width="0.6"/>
<line x1="50.77" y1="455.26" x2="52.77" y2="455.26" stroke="#222" stroke-width="0.6"/>
<circle cx="51.41" cy="456.15" r="0.95" fill="#8a1414"/>
<circle cx="51.45" cy="457.88" r="0.95" fill="#8a1414"/>
<circle cx="52.26" cy="458.14" r="0.95" fill="#8a1414"/>
<rect x="54.7" y="459.3" width="5.05" height="24.1" fill="#86a2dc" stroke="#2b2b2b" stroke-width="0.7"/>
<line x1="57.22" y1="456.6" x2="57.22" y2="462" stroke="#222" stroke-width="0.6"/>
<line x1="56.22" y1="456.6" x2="58.22" y2="456.6" stroke="#222" stroke-width="0.6"/>
<circle cx="57.09" cy="460.78" r="0.95" fill="#1a3a8c"/>
<circle cx="57.57" cy="461.29" r="0.95" fill="#1a3a8c"/>
<circle cx="57.75" cy="460.58" r="0.95" fill="#1a3a8c"/>
<rect x="60.15" y="461.4" width="5.05" height="22" fill="#7cbfad" stroke="#2b2b2b" stroke-width="0.7"/>
<line x1="62.67" y1="458.48" x2="62.67" y2="464.32" stroke="#222" stroke-width="0.6"/>
<line x1="61.67" y1="458.48" x2="63.67" y2="458.48" stroke="#222" stroke-width="0.6"/>
<circle cx="62.17" cy="460.69" r="0.95" fill="#0d5a4a"/>
<circle cx="63.07" cy="462.56" r="0.95" fill="#0d5a4a"/>
<circle cx="62.78" cy="460.18" r="0.95" fill="#0d5a4a"/>
<rect x="67.6" y="465.4" width="5.05" height="18" fill="#9a9a9a" stroke="#2b2b2b" stroke-width="0.7"/>
<line x1="70.12" y1="462.46" x2="70.12" y2="468.34" stroke="#222" stroke-width="0.6"/>
<line x1="69.12" y1="462.46" x2="71.12" y2="462.46" stroke="#222" stroke-width="0.6"/>
<circle cx="69.53" cy="467.64" r="0.95" fill="#2a2a2a"/>
<circle cx="69.54" cy="465.32" r="0.95" fill="#2a2a2a"/>
<circle cx="70.49" cy="462.43" r="0.95" fill="#2a2a2a"/>
<rect x="73.05" y="458.2" width="5.05" height="25.2" fill="#e58e8e" stroke="#2b2b2b" stroke-width="0.7"/>
<line x1="75.57" y1="455.93" x2="75.57" y2="460.47" stroke="#222" stroke-width="0.6"/>
<line x1="74.57" y1="455.93" x2="76.57" y2="455.93" stroke="#222" stroke-width="0.6"/>
<circle cx="75.52" cy="458.82" r="0.95" fill="#8a1414"/>
<circle cx="75.23" cy="457.23" r="0.95" fill="#8a1414"/>
<circle cx="75.98" cy="457.34" r="0.95" fill="#8a1414"/>
<rect x="78.5" y="458.5" width="5.05" height="24.9" fill="#86a2dc" stroke="#2b2b2b" stroke-width="0.7"/>
<line x1="81.02" y1="455.91" x2="81.02" y2="461.09" stroke="#222" stroke-width="0.6"/>
<line x1="80.02" y1="455.91" x2="82.02" y2="455.91" stroke="#222" stroke-width="0.6"/>
<circle cx="80.53" cy="457.1" r="0.95" fill="#1a3a8c"/>
<circle cx="81.26" cy="456.96" r="0.95" fill="#1a3a8c"/>
<circle cx="81.21" cy="458.11" r="0.95" fill="#1a3a8c"/>
<rect x="83.95" y="465.8" width="5.05" height="17.6" fill="#7cbfad" stroke="#2b2b2b" stroke-width="0.7"/>
<line x1="86.47" y1="462.91" x2="86.47" y2="468.69" stroke="#222" stroke-width="0.6"/>
<line x1="85.47" y1="462.91" x2="87.47" y2="462.91" stroke="#222" stroke-width="0.6"/>
<circle cx="86.69" cy="462.95" r="0.95" fill="#0d5a4a"/>
<circle cx="86.86" cy="462.35" r="0.95" fill="#0d5a4a"/>
<circle cx="86.2" cy="463.43" r="0.95" fill="#0d5a4a"/>
<text transform="translate(57.22 481.4) rotate(0.05)" font-size="7.5" text-anchor="middle" fill="#ee2026" font-weight="bold">*</text>
<text transform="translate(75.57 481.4) rotate(0.05)" font-size="7.5" text-anchor="middle" fill="#ee2026" font-weight="bold">*</text>
<line x1="40.5" y1="442.5" x2="40.5" y2="483.9" stroke="#333" stroke-width="1.1"/>
<line x1="40" y1="483.4" x2="92" y2="483.4" stroke="#222" stroke-width="1.1"/>
<line x1="39.1" y1="453.7" x2="40.5" y2="453.7" stroke="#444" stroke-width="0.5"/>
<text transform="translate(38.5 455.3) rotate(0.05)" font-size="4.5" text-anchor="end" fill="#666" stroke="#666" stroke-width="0.06">3×10<tspan font-size="3" dy="-1.7">8</tspan></text>
<line x1="39.1" y1="463.8" x2="40.5" y2="463.8" stroke="#444" stroke-width="0.5"/>
<text transform="translate(38.5 465.4) rotate(0.05)" font-size="4.5" text-anchor="end" fill="#666" stroke="#666" stroke-width="0.06">2×10<tspan font-size="3" dy="-1.7">8</tspan></text>
<line x1="39.1" y1="474" x2="40.5" y2="474" stroke="#444" stroke-width="0.5"/>
<text transform="translate(38.5 475.6) rotate(0.05)" font-size="4.5" text-anchor="end" fill="#666" stroke="#666" stroke-width="0.06">1×10<tspan font-size="3" dy="-1.7">8</tspan></text>
<line x1="39.1" y1="484.2" x2="40.5" y2="484.2" stroke="#444" stroke-width="0.5"/>
<text transform="translate(38.5 485.8) rotate(0.05)" font-size="4.5" text-anchor="end" fill="#666" stroke="#666" stroke-width="0.06">0×10<tspan font-size="3" dy="-1.7">0</tspan></text>
<text transform="translate(53.8 490.4) rotate(0.05)" font-size="5" text-anchor="middle" fill="#222" stroke="#222" stroke-width="0.17">1h</text>
<text transform="translate(77.7 490.4) rotate(0.05)" font-size="5" text-anchor="middle" fill="#222" stroke="#222" stroke-width="0.17">24h</text>
<text transform="translate(24.4 463.75) rotate(-89.95)" font-size="5.2" text-anchor="middle" fill="#333" stroke="#333" stroke-width="0.17">Abundance</text>
<text transform="translate(384.2 443.4) rotate(0.05)" font-size="8.9" text-anchor="middle" fill="#111" stroke="#111" stroke-width="0.2">TG</text>
<rect x="359.4" y="475" width="5.05" height="11.7" fill="#9a9a9a" stroke="#2b2b2b" stroke-width="0.7"/>
<line x1="361.92" y1="471.87" x2="361.92" y2="478.13" stroke="#222" stroke-width="0.6"/>
<line x1="360.92" y1="471.87" x2="362.92" y2="471.87" stroke="#222" stroke-width="0.6"/>
<circle cx="361.59" cy="473.88" r="0.95" fill="#2a2a2a"/>
<circle cx="362.05" cy="478.18" r="0.95" fill="#2a2a2a"/>
<circle cx="361.79" cy="478.21" r="0.95" fill="#2a2a2a"/>
<rect x="364.85" y="476.2" width="5.05" height="10.5" fill="#e58e8e" stroke="#2b2b2b" stroke-width="0.7"/>
<line x1="367.37" y1="473.8" x2="367.37" y2="478.6" stroke="#222" stroke-width="0.6"/>
<line x1="366.37" y1="473.8" x2="368.37" y2="473.8" stroke="#222" stroke-width="0.6"/>
<circle cx="367.38" cy="479.04" r="0.95" fill="#8a1414"/>
<circle cx="367" cy="479.25" r="0.95" fill="#8a1414"/>
<circle cx="366.96" cy="478.26" r="0.95" fill="#8a1414"/>
<rect x="370.3" y="478.8" width="5.05" height="7.9" fill="#86a2dc" stroke="#2b2b2b" stroke-width="0.7"/>
<line x1="372.82" y1="476.36" x2="372.82" y2="481.24" stroke="#222" stroke-width="0.6"/>
<line x1="371.82" y1="476.36" x2="373.82" y2="476.36" stroke="#222" stroke-width="0.6"/>
<circle cx="372.43" cy="475.63" r="0.95" fill="#1a3a8c"/>
<circle cx="372.77" cy="481.63" r="0.95" fill="#1a3a8c"/>
<circle cx="372.52" cy="480.77" r="0.95" fill="#1a3a8c"/>
<rect x="375.75" y="482.3" width="5.05" height="4.4" fill="#7cbfad" stroke="#2b2b2b" stroke-width="0.7"/>
<line x1="378.27" y1="480.14" x2="378.27" y2="484.46" stroke="#222" stroke-width="0.6"/>
<line x1="377.27" y1="480.14" x2="379.27" y2="480.14" stroke="#222" stroke-width="0.6"/>
<circle cx="378.33" cy="480.05" r="0.95" fill="#0d5a4a"/>
<circle cx="378.29" cy="484.34" r="0.95" fill="#0d5a4a"/>
<circle cx="378.78" cy="481.61" r="0.95" fill="#0d5a4a"/>
<rect x="383.2" y="482.3" width="5.05" height="4.4" fill="#9a9a9a" stroke="#2b2b2b" stroke-width="0.7"/>
<line x1="385.72" y1="479.27" x2="385.72" y2="485.33" stroke="#222" stroke-width="0.6"/>
<line x1="384.72" y1="479.27" x2="386.72" y2="479.27" stroke="#222" stroke-width="0.6"/>
<circle cx="385.21" cy="483.61" r="0.95" fill="#2a2a2a"/>
<circle cx="385.65" cy="483.28" r="0.95" fill="#2a2a2a"/>
<circle cx="385.55" cy="485.91" r="0.95" fill="#2a2a2a"/>
<rect x="388.65" y="452" width="5.05" height="34.7" fill="#e58e8e" stroke="#2b2b2b" stroke-width="0.7"/>
<line x1="391.17" y1="449.34" x2="391.17" y2="454.66" stroke="#222" stroke-width="0.6"/>
<line x1="390.17" y1="449.34" x2="392.17" y2="449.34" stroke="#222" stroke-width="0.6"/>
<circle cx="391.02" cy="452.91" r="0.95" fill="#8a1414"/>
<circle cx="391.38" cy="452.15" r="0.95" fill="#8a1414"/>
<circle cx="391.17" cy="454.81" r="0.95" fill="#8a1414"/>
<rect x="394.1" y="467.1" width="5.05" height="19.6" fill="#86a2dc" stroke="#2b2b2b" stroke-width="0.7"/>
<line x1="396.62" y1="464.92" x2="396.62" y2="469.28" stroke="#222" stroke-width="0.6"/>
<line x1="395.62" y1="464.92" x2="397.62" y2="464.92" stroke="#222" stroke-width="0.6"/>
<circle cx="396.09" cy="469.8" r="0.95" fill="#1a3a8c"/>
<circle cx="396.84" cy="469" r="0.95" fill="#1a3a8c"/>
<circle cx="396.56" cy="467.43" r="0.95" fill="#1a3a8c"/>
<rect x="399.55" y="480.9" width="5.05" height="5.8" fill="#7cbfad" stroke="#2b2b2b" stroke-width="0.7"/>
<line x1="402.07" y1="478.1" x2="402.07" y2="483.7" stroke="#222" stroke-width="0.6"/>
<line x1="401.07" y1="478.1" x2="403.07" y2="478.1" stroke="#222" stroke-width="0.6"/>
<circle cx="402.34" cy="483.75" r="0.95" fill="#0d5a4a"/>
<circle cx="401.51" cy="482.72" r="0.95" fill="#0d5a4a"/>
<circle cx="401.63" cy="479.63" r="0.95" fill="#0d5a4a"/>
<text transform="translate(378.27 484.8) rotate(0.05)" font-size="7.5" text-anchor="middle" fill="#ee2026" font-weight="bold">*</text>
<text transform="translate(391.17 484.6) rotate(0.05)" font-size="7.5" text-anchor="middle" fill="#ee2026" font-weight="bold">*</text>
<text transform="translate(396.62 484.6) rotate(0.05)" font-size="7.5" text-anchor="middle" fill="#ee2026" font-weight="bold">*</text>
<line x1="356.1" y1="445.9" x2="356.1" y2="487.2" stroke="#333" stroke-width="1.1"/>
<line x1="355.6" y1="486.7" x2="407.6" y2="486.7" stroke="#222" stroke-width="1.1"/>
<line x1="354.7" y1="447.3" x2="356.1" y2="447.3" stroke="#444" stroke-width="0.5"/>
<text transform="translate(354.1 448.9) rotate(0.05)" font-size="4.5" text-anchor="end" fill="#666" stroke="#666" stroke-width="0.06">2.0×10<tspan font-size="3" dy="-1.7">7</tspan></text>
<line x1="354.7" y1="457.3" x2="356.1" y2="457.3" stroke="#444" stroke-width="0.5"/>
<text transform="translate(354.1 458.9) rotate(0.05)" font-size="4.5" text-anchor="end" fill="#666" stroke="#666" stroke-width="0.06">1.5×10<tspan font-size="3" dy="-1.7">7</tspan></text>
<line x1="354.7" y1="467.2" x2="356.1" y2="467.2" stroke="#444" stroke-width="0.5"/>
<text transform="translate(354.1 468.8) rotate(0.05)" font-size="4.5" text-anchor="end" fill="#666" stroke="#666" stroke-width="0.06">1.0×10<tspan font-size="3" dy="-1.7">7</tspan></text>
<line x1="354.7" y1="477.1" x2="356.1" y2="477.1" stroke="#444" stroke-width="0.5"/>
<text transform="translate(354.1 478.7) rotate(0.05)" font-size="4.5" text-anchor="end" fill="#666" stroke="#666" stroke-width="0.06">5.0×10<tspan font-size="3" dy="-1.7">6</tspan></text>
<line x1="354.7" y1="487" x2="356.1" y2="487" stroke="#444" stroke-width="0.5"/>
<text transform="translate(354.1 488.6) rotate(0.05)" font-size="4.5" text-anchor="end" fill="#666" stroke="#666" stroke-width="0.06">0.0×10<tspan font-size="3" dy="-1.7">0</tspan></text>
<text transform="translate(369.4 493.7) rotate(0.05)" font-size="5" text-anchor="middle" fill="#222" stroke="#222" stroke-width="0.17">1h</text>
<text transform="translate(393.3 493.7) rotate(0.05)" font-size="5" text-anchor="middle" fill="#222" stroke="#222" stroke-width="0.17">24h</text>
<text transform="translate(336.4 467.1) rotate(-89.95)" font-size="5.2" text-anchor="middle" fill="#333" stroke="#333" stroke-width="0.17">Abundance</text>
<text transform="translate(483.8 443.3) rotate(0.05)" font-size="8.9" text-anchor="middle" fill="#111" stroke="#111" stroke-width="0.2">CE</text>
<rect x="459" y="479.1" width="5.05" height="7.1" fill="#9a9a9a" stroke="#2b2b2b" stroke-width="0.7"/>
<line x1="461.52" y1="475.98" x2="461.52" y2="482.22" stroke="#222" stroke-width="0.6"/>
<line x1="460.52" y1="475.98" x2="462.52" y2="475.98" stroke="#222" stroke-width="0.6"/>
<circle cx="461.09" cy="482.28" r="0.95" fill="#2a2a2a"/>
<circle cx="461.61" cy="479.81" r="0.95" fill="#2a2a2a"/>
<circle cx="461.39" cy="475.42" r="0.95" fill="#2a2a2a"/>
<rect x="464.45" y="481" width="5.05" height="5.2" fill="#e58e8e" stroke="#2b2b2b" stroke-width="0.7"/>
<line x1="466.97" y1="478.2" x2="466.97" y2="483.8" stroke="#222" stroke-width="0.6"/>
<line x1="465.97" y1="478.2" x2="467.97" y2="478.2" stroke="#222" stroke-width="0.6"/>
<circle cx="466.71" cy="482.03" r="0.95" fill="#8a1414"/>
<circle cx="466.72" cy="482.91" r="0.95" fill="#8a1414"/>
<circle cx="466.87" cy="481.32" r="0.95" fill="#8a1414"/>
<rect x="469.9" y="481" width="5.05" height="5.2" fill="#86a2dc" stroke="#2b2b2b" stroke-width="0.7"/>
<line x1="472.42" y1="477.83" x2="472.42" y2="484.17" stroke="#222" stroke-width="0.6"/>
<line x1="471.42" y1="477.83" x2="473.42" y2="477.83" stroke="#222" stroke-width="0.6"/>
<circle cx="472.79" cy="482.22" r="0.95" fill="#1a3a8c"/>
<circle cx="472.28" cy="482.45" r="0.95" fill="#1a3a8c"/>
<circle cx="472.67" cy="484.81" r="0.95" fill="#1a3a8c"/>
<rect x="475.35" y="484.2" width="5.05" height="2" fill="#7cbfad" stroke="#2b2b2b" stroke-width="0.7"/>
<line x1="477.87" y1="481.49" x2="477.87" y2="486.91" stroke="#222" stroke-width="0.6"/>
<line x1="476.87" y1="481.49" x2="478.87" y2="481.49" stroke="#222" stroke-width="0.6"/>
<circle cx="477.46" cy="482.63" r="0.95" fill="#0d5a4a"/>
<circle cx="478.26" cy="484.73" r="0.95" fill="#0d5a4a"/>
<circle cx="477.69" cy="486.27" r="0.95" fill="#0d5a4a"/>
<rect x="482.8" y="484.6" width="5.05" height="1.6" fill="#9a9a9a" stroke="#2b2b2b" stroke-width="0.7"/>
<line x1="485.32" y1="482.78" x2="485.32" y2="486.42" stroke="#222" stroke-width="0.6"/>
<line x1="484.32" y1="482.78" x2="486.32" y2="482.78" stroke="#222" stroke-width="0.6"/>
<circle cx="485.77" cy="484.68" r="0.95" fill="#2a2a2a"/>
<circle cx="485.61" cy="483" r="0.95" fill="#2a2a2a"/>
<circle cx="485.09" cy="483.04" r="0.95" fill="#2a2a2a"/>
<rect x="488.25" y="454" width="5.05" height="32.2" fill="#e58e8e" stroke="#2b2b2b" stroke-width="0.7"/>
<line x1="490.77" y1="452.31" x2="490.77" y2="455.69" stroke="#222" stroke-width="0.6"/>
<line x1="489.77" y1="452.31" x2="491.77" y2="452.31" stroke="#222" stroke-width="0.6"/>
<circle cx="490.63" cy="453.11" r="0.95" fill="#8a1414"/>
<circle cx="491.32" cy="456.05" r="0.95" fill="#8a1414"/>
<circle cx="490.54" cy="452.63" r="0.95" fill="#8a1414"/>
<rect x="493.7" y="475.9" width="5.05" height="10.3" fill="#86a2dc" stroke="#2b2b2b" stroke-width="0.7"/>
<line x1="496.22" y1="472.79" x2="496.22" y2="479.01" stroke="#222" stroke-width="0.6"/>
<line x1="495.22" y1="472.79" x2="497.22" y2="472.79" stroke="#222" stroke-width="0.6"/>
<circle cx="496.01" cy="473.45" r="0.95" fill="#1a3a8c"/>
<circle cx="495.75" cy="475.4" r="0.95" fill="#1a3a8c"/>
<circle cx="496.09" cy="473.96" r="0.95" fill="#1a3a8c"/>
<rect x="499.15" y="485" width="5.05" height="1.2" fill="#7cbfad" stroke="#2b2b2b" stroke-width="0.7"/>
<line x1="501.67" y1="482.78" x2="501.67" y2="487.22" stroke="#222" stroke-width="0.6"/>
<line x1="500.67" y1="482.78" x2="502.67" y2="482.78" stroke="#222" stroke-width="0.6"/>
<circle cx="501.39" cy="487.67" r="0.95" fill="#0d5a4a"/>
<circle cx="502.16" cy="483.29" r="0.95" fill="#0d5a4a"/>
<circle cx="502.07" cy="484.71" r="0.95" fill="#0d5a4a"/>
<text transform="translate(477.87 484.3) rotate(0.05)" font-size="7.5" text-anchor="middle" fill="#ee2026" font-weight="bold">*</text>
<text transform="translate(490.77 484.6) rotate(0.05)" font-size="7.5" text-anchor="middle" fill="#ee2026" font-weight="bold">*</text>
<text transform="translate(496.22 484.6) rotate(0.05)" font-size="7.5" text-anchor="middle" fill="#ee2026" font-weight="bold">*</text>
<line x1="455.7" y1="445.4" x2="455.7" y2="486.7" stroke="#333" stroke-width="1.1"/>
<line x1="455.2" y1="486.2" x2="507.2" y2="486.2" stroke="#222" stroke-width="1.1"/>
<line x1="454.3" y1="454.5" x2="455.7" y2="454.5" stroke="#444" stroke-width="0.5"/>
<text transform="translate(453.7 456.1) rotate(0.05)" font-size="4.5" text-anchor="end" fill="#666" stroke="#666" stroke-width="0.06">6×10<tspan font-size="3" dy="-1.7">7</tspan></text>
<line x1="454.3" y1="465.6" x2="455.7" y2="465.6" stroke="#444" stroke-width="0.5"/>
<text transform="translate(453.7 467.2) rotate(0.05)" font-size="4.5" text-anchor="end" fill="#666" stroke="#666" stroke-width="0.06">4×10<tspan font-size="3" dy="-1.7">7</tspan></text>
<line x1="454.3" y1="476.3" x2="455.7" y2="476.3" stroke="#444" stroke-width="0.5"/>
<text transform="translate(453.7 477.9) rotate(0.05)" font-size="4.5" text-anchor="end" fill="#666" stroke="#666" stroke-width="0.06">2×10<tspan font-size="3" dy="-1.7">7</tspan></text>
<line x1="454.3" y1="487" x2="455.7" y2="487" stroke="#444" stroke-width="0.5"/>
<text transform="translate(453.7 488.6) rotate(0.05)" font-size="4.5" text-anchor="end" fill="#666" stroke="#666" stroke-width="0.06">0×10<tspan font-size="3" dy="-1.7">0</tspan></text>
<text transform="translate(469 493.2) rotate(0.05)" font-size="5" text-anchor="middle" fill="#222" stroke="#222" stroke-width="0.17">1h</text>
<text transform="translate(492.9 493.2) rotate(0.05)" font-size="5" text-anchor="middle" fill="#222" stroke="#222" stroke-width="0.17">24h</text>
<text transform="translate(439.2 466.6) rotate(-89.95)" font-size="5.2" text-anchor="middle" fill="#333" stroke="#333" stroke-width="0.17">Abundance</text>
<text transform="translate(69.7 523.7) rotate(0.05)" font-size="8.9" text-anchor="middle" fill="#111" stroke="#111" stroke-width="0.2">LPC</text>
<rect x="43.8" y="539.8" width="5.05" height="27" fill="#9a9a9a" stroke="#2b2b2b" stroke-width="0.7"/>
<line x1="46.32" y1="537.18" x2="46.32" y2="542.42" stroke="#222" stroke-width="0.6"/>
<line x1="45.32" y1="537.18" x2="47.32" y2="537.18" stroke="#222" stroke-width="0.6"/>
<circle cx="46.1" cy="541.7" r="0.95" fill="#2a2a2a"/>
<circle cx="46.63" cy="537.43" r="0.95" fill="#2a2a2a"/>
<circle cx="46.39" cy="539.6" r="0.95" fill="#2a2a2a"/>
<rect x="49.25" y="532.1" width="5.05" height="34.7" fill="#e58e8e" stroke="#2b2b2b" stroke-width="0.7"/>
<line x1="51.77" y1="529.43" x2="51.77" y2="534.77" stroke="#222" stroke-width="0.6"/>
<line x1="50.77" y1="529.43" x2="52.77" y2="529.43" stroke="#222" stroke-width="0.6"/>
<circle cx="51.5" cy="533.86" r="0.95" fill="#8a1414"/>
<circle cx="52.27" cy="531.15" r="0.95" fill="#8a1414"/>
<circle cx="51.52" cy="532.3" r="0.95" fill="#8a1414"/>
<rect x="54.7" y="546.2" width="5.05" height="20.6" fill="#86a2dc" stroke="#2b2b2b" stroke-width="0.7"/>
<line x1="57.22" y1="543.59" x2="57.22" y2="548.81" stroke="#222" stroke-width="0.6"/>
<line x1="56.22" y1="543.59" x2="58.22" y2="543.59" stroke="#222" stroke-width="0.6"/>
<circle cx="57.55" cy="544.57" r="0.95" fill="#1a3a8c"/>
<circle cx="57.61" cy="543.09" r="0.95" fill="#1a3a8c"/>
<circle cx="57.04" cy="546.65" r="0.95" fill="#1a3a8c"/>
<rect x="60.15" y="543" width="5.05" height="23.8" fill="#7cbfad" stroke="#2b2b2b" stroke-width="0.7"/>
<line x1="62.67" y1="539.9" x2="62.67" y2="546.1" stroke="#222" stroke-width="0.6"/>
<line x1="61.67" y1="539.9" x2="63.67" y2="539.9" stroke="#222" stroke-width="0.6"/>
<circle cx="62.36" cy="541.11" r="0.95" fill="#0d5a4a"/>
<circle cx="62.73" cy="539.53" r="0.95" fill="#0d5a4a"/>
<circle cx="62.88" cy="545.05" r="0.95" fill="#0d5a4a"/>
<rect x="67.6" y="560.7" width="5.05" height="6.1" fill="#9a9a9a" stroke="#2b2b2b" stroke-width="0.7"/>
<line x1="70.12" y1="558.44" x2="70.12" y2="562.96" stroke="#222" stroke-width="0.6"/>
<line x1="69.12" y1="558.44" x2="71.12" y2="558.44" stroke="#222" stroke-width="0.6"/>
<circle cx="69.65" cy="562.51" r="0.95" fill="#2a2a2a"/>
<circle cx="70.29" cy="559.57" r="0.95" fill="#2a2a2a"/>
<circle cx="70.28" cy="563.45" r="0.95" fill="#2a2a2a"/>
<rect x="73.05" y="550.7" width="5.05" height="16.1" fill="#e58e8e" stroke="#2b2b2b" stroke-width="0.7"/>
<line x1="75.57" y1="547.99" x2="75.57" y2="553.41" stroke="#222" stroke-width="0.6"/>
<line x1="74.57" y1="547.99" x2="76.57" y2="547.99" stroke="#222" stroke-width="0.6"/>
<circle cx="75.44" cy="552.63" r="0.95" fill="#8a1414"/>
<circle cx="75.86" cy="553.8" r="0.95" fill="#8a1414"/>
<circle cx="75.44" cy="549.59" r="0.95" fill="#8a1414"/>
<rect x="78.5" y="549.4" width="5.05" height="17.4" fill="#86a2dc" stroke="#2b2b2b" stroke-width="0.7"/>
<line x1="81.02" y1="546.51" x2="81.02" y2="552.29" stroke="#222" stroke-width="0.6"/>
<line x1="80.02" y1="546.51" x2="82.02" y2="546.51" stroke="#222" stroke-width="0.6"/>
<circle cx="80.64" cy="548.27" r="0.95" fill="#1a3a8c"/>
<circle cx="81.06" cy="552.19" r="0.95" fill="#1a3a8c"/>
<circle cx="81.22" cy="549.56" r="0.95" fill="#1a3a8c"/>
<rect x="83.95" y="555" width="5.05" height="11.8" fill="#7cbfad" stroke="#2b2b2b" stroke-width="0.7"/>
<line x1="86.47" y1="551.96" x2="86.47" y2="558.04" stroke="#222" stroke-width="0.6"/>
<line x1="85.47" y1="551.96" x2="87.47" y2="551.96" stroke="#222" stroke-width="0.6"/>
<circle cx="86.28" cy="552.1" r="0.95" fill="#0d5a4a"/>
<circle cx="86.37" cy="551.57" r="0.95" fill="#0d5a4a"/>
<circle cx="86.89" cy="555.02" r="0.95" fill="#0d5a4a"/>
<text transform="translate(51.77 564.3) rotate(0.05)" font-size="7.5" text-anchor="middle" fill="#ee2026" font-weight="bold">*</text>
<text transform="translate(75.57 564.3) rotate(0.05)" font-size="7.5" text-anchor="middle" fill="#ee2026" font-weight="bold">*</text>
<text transform="translate(81.02 564.3) rotate(0.05)" font-size="7.5" text-anchor="middle" fill="#ee2026" font-weight="bold">*</text>
<text transform="translate(86.47 564.3) rotate(0.05)" font-size="7.5" text-anchor="middle" fill="#ee2026" font-weight="bold">*</text>
<line x1="40.5" y1="525.7" x2="40.5" y2="567.3" stroke="#333" stroke-width="1.1"/>
<line x1="40" y1="566.8" x2="92" y2="566.8" stroke="#222" stroke-width="1.1"/>
<line x1="39.1" y1="535" x2="40.5" y2="535" stroke="#444" stroke-width="0.5"/>
<text transform="translate(38.5 536.6) rotate(0.05)" font-size="4.5" text-anchor="end" fill="#666" stroke="#666" stroke-width="0.06">3×10<tspan font-size="3" dy="-1.7">7</tspan></text>
<line x1="39.1" y1="545.2" x2="40.5" y2="545.2" stroke="#444" stroke-width="0.5"/>
<text transform="translate(38.5 546.8) rotate(0.05)" font-size="4.5" text-anchor="end" fill="#666" stroke="#666" stroke-width="0.06">2×10<tspan font-size="3" dy="-1.7">7</tspan></text>
<line x1="39.1" y1="555.8" x2="40.5" y2="555.8" stroke="#444" stroke-width="0.5"/>
<text transform="translate(38.5 557.4) rotate(0.05)" font-size="4.5" text-anchor="end" fill="#666" stroke="#666" stroke-width="0.06">1×10<tspan font-size="3" dy="-1.7">7</tspan></text>
<line x1="39.1" y1="567" x2="40.5" y2="567" stroke="#444" stroke-width="0.5"/>
<text transform="translate(38.5 568.6) rotate(0.05)" font-size="4.5" text-anchor="end" fill="#666" stroke="#666" stroke-width="0.06">0×10<tspan font-size="3" dy="-1.7">0</tspan></text>
<text transform="translate(53.8 573.8) rotate(0.05)" font-size="5" text-anchor="middle" fill="#222" stroke="#222" stroke-width="0.17">1h</text>
<text transform="translate(77.7 573.8) rotate(0.05)" font-size="5" text-anchor="middle" fill="#222" stroke="#222" stroke-width="0.17">24h</text>
<text transform="translate(24.1 547.05) rotate(-89.95)" font-size="5.2" text-anchor="middle" fill="#333" stroke="#333" stroke-width="0.17">Abundance</text>
<text transform="translate(168.9 523.7) rotate(0.05)" font-size="8.9" text-anchor="middle" fill="#111" stroke="#111" stroke-width="0.2">LPE</text>
<rect x="143.9" y="537.4" width="5.05" height="29.4" fill="#9a9a9a" stroke="#2b2b2b" stroke-width="0.7"/>
<line x1="146.42" y1="534.73" x2="146.42" y2="540.07" stroke="#222" stroke-width="0.6"/>
<line x1="145.42" y1="534.73" x2="147.42" y2="534.73" stroke="#222" stroke-width="0.6"/>
<circle cx="146.3" cy="537.94" r="0.95" fill="#2a2a2a"/>
<circle cx="146.15" cy="537.91" r="0.95" fill="#2a2a2a"/>
<circle cx="146.77" cy="539.79" r="0.95" fill="#2a2a2a"/>
<rect x="149.35" y="536.6" width="5.05" height="30.2" fill="#e58e8e" stroke="#2b2b2b" stroke-width="0.7"/>
<line x1="151.87" y1="533.66" x2="151.87" y2="539.54" stroke="#222" stroke-width="0.6"/>
<line x1="150.87" y1="533.66" x2="152.87" y2="533.66" stroke="#222" stroke-width="0.6"/>
<circle cx="152.08" cy="533.93" r="0.95" fill="#8a1414"/>
<circle cx="151.87" cy="538.54" r="0.95" fill="#8a1414"/>
<circle cx="152.35" cy="539.65" r="0.95" fill="#8a1414"/>
<rect x="154.8" y="547.8" width="5.05" height="19" fill="#86a2dc" stroke="#2b2b2b" stroke-width="0.7"/>
<line x1="157.32" y1="545.01" x2="157.32" y2="550.59" stroke="#222" stroke-width="0.6"/>
<line x1="156.32" y1="545.01" x2="158.32" y2="545.01" stroke="#222" stroke-width="0.6"/>
<circle cx="157.5" cy="550.13" r="0.95" fill="#1a3a8c"/>
<circle cx="156.88" cy="550.55" r="0.95" fill="#1a3a8c"/>
<circle cx="157.56" cy="549.28" r="0.95" fill="#1a3a8c"/>
<rect x="160.25" y="546.5" width="5.05" height="20.3" fill="#7cbfad" stroke="#2b2b2b" stroke-width="0.7"/>
<line x1="162.77" y1="543.92" x2="162.77" y2="549.08" stroke="#222" stroke-width="0.6"/>
<line x1="161.77" y1="543.92" x2="163.77" y2="543.92" stroke="#222" stroke-width="0.6"/>
<circle cx="162.25" cy="544.99" r="0.95" fill="#0d5a4a"/>
<circle cx="163.16" cy="547.19" r="0.95" fill="#0d5a4a"/>
<circle cx="162.43" cy="544.98" r="0.95" fill="#0d5a4a"/>
<rect x="167.7" y="550.2" width="5.05" height="16.6" fill="#9a9a9a" stroke="#2b2b2b" stroke-width="0.7"/>
<line x1="170.22" y1="548.24" x2="170.22" y2="552.16" stroke="#222" stroke-width="0.6"/>
<line x1="169.22" y1="548.24" x2="171.22" y2="548.24" stroke="#222" stroke-width="0.6"/>
<circle cx="170.43" cy="548.13" r="0.95" fill="#2a2a2a"/>
<circle cx="170.58" cy="552.62" r="0.95" fill="#2a2a2a"/>
<circle cx="170.46" cy="549.49" r="0.95" fill="#2a2a2a"/>
<rect x="173.15" y="538.2" width="5.05" height="28.6" fill="#e58e8e" stroke="#2b2b2b" stroke-width="0.7"/>
<line x1="175.67" y1="536.48" x2="175.67" y2="539.92" stroke="#222" stroke-width="0.6"/>
<line x1="174.67" y1="536.48" x2="176.67" y2="536.48" stroke="#222" stroke-width="0.6"/>
<circle cx="175.46" cy="539.71" r="0.95" fill="#8a1414"/>
<circle cx="175.83" cy="535.99" r="0.95" fill="#8a1414"/>
<circle cx="175.4" cy="536.59" r="0.95" fill="#8a1414"/>
<rect x="178.6" y="535.3" width="5.05" height="31.5" fill="#86a2dc" stroke="#2b2b2b" stroke-width="0.7"/>
<line x1="181.12" y1="533.61" x2="181.12" y2="536.99" stroke="#222" stroke-width="0.6"/>
<line x1="180.12" y1="533.61" x2="182.12" y2="533.61" stroke="#222" stroke-width="0.6"/>
<circle cx="181.19" cy="535.06" r="0.95" fill="#1a3a8c"/>
<circle cx="180.57" cy="536.65" r="0.95" fill="#1a3a8c"/>
<circle cx="180.65" cy="536.74" r="0.95" fill="#1a3a8c"/>
<rect x="184.05" y="548.6" width="5.05" height="18.2" fill="#7cbfad" stroke="#2b2b2b" stroke-width="0.7"/>
<line x1="186.57" y1="546.64" x2="186.57" y2="550.56" stroke="#222" stroke-width="0.6"/>
<line x1="185.57" y1="546.64" x2="187.57" y2="546.64" stroke="#222" stroke-width="0.6"/>
<circle cx="186.38" cy="549.26" r="0.95" fill="#0d5a4a"/>
<circle cx="186.65" cy="547.74" r="0.95" fill="#0d5a4a"/>
<circle cx="186.92" cy="547.16" r="0.95" fill="#0d5a4a"/>
<text transform="translate(175.67 564.3) rotate(0.05)" font-size="7.5" text-anchor="middle" fill="#ee2026" font-weight="bold">*</text>
<line x1="140.6" y1="525.7" x2="140.6" y2="567.3" stroke="#333" stroke-width="1.1"/>
<line x1="140.1" y1="566.8" x2="192.1" y2="566.8" stroke="#222" stroke-width="1.1"/>
<line x1="139.2" y1="528.4" x2="140.6" y2="528.4" stroke="#444" stroke-width="0.5"/>
<text transform="translate(138.6 530) rotate(0.05)" font-size="4.5" text-anchor="end" fill="#666" stroke="#666" stroke-width="0.06">2.5×10<tspan font-size="3" dy="-1.7">7</tspan></text>
<line x1="139.2" y1="536.3" x2="140.6" y2="536.3" stroke="#444" stroke-width="0.5"/>
<text transform="translate(138.6 537.9) rotate(0.05)" font-size="4.5" text-anchor="end" fill="#666" stroke="#666" stroke-width="0.06">2.0×10<tspan font-size="3" dy="-1.7">7</tspan></text>
<line x1="139.2" y1="544.2" x2="140.6" y2="544.2" stroke="#444" stroke-width="0.5"/>
<text transform="translate(138.6 545.8) rotate(0.05)" font-size="4.5" text-anchor="end" fill="#666" stroke="#666" stroke-width="0.06">1.5×10<tspan font-size="3" dy="-1.7">7</tspan></text>
<line x1="139.2" y1="552.1" x2="140.6" y2="552.1" stroke="#444" stroke-width="0.5"/>
<text transform="translate(138.6 553.7) rotate(0.05)" font-size="4.5" text-anchor="end" fill="#666" stroke="#666" stroke-width="0.06">1.0×10<tspan font-size="3" dy="-1.7">7</tspan></text>
<line x1="139.2" y1="560" x2="140.6" y2="560" stroke="#444" stroke-width="0.5"/>
<text transform="translate(138.6 561.6) rotate(0.05)" font-size="4.5" text-anchor="end" fill="#666" stroke="#666" stroke-width="0.06">5.0×10<tspan font-size="3" dy="-1.7">6</tspan></text>
<line x1="139.2" y1="567.9" x2="140.6" y2="567.9" stroke="#444" stroke-width="0.5"/>
<text transform="translate(138.6 569.5) rotate(0.05)" font-size="4.5" text-anchor="end" fill="#666" stroke="#666" stroke-width="0.06">0.0×10<tspan font-size="3" dy="-1.7">0</tspan></text>
<text transform="translate(153.9 573.8) rotate(0.05)" font-size="5" text-anchor="middle" fill="#222" stroke="#222" stroke-width="0.17">1h</text>
<text transform="translate(177.8 573.8) rotate(0.05)" font-size="5" text-anchor="middle" fill="#222" stroke="#222" stroke-width="0.17">24h</text>
<text transform="translate(119.5 547.05) rotate(-89.95)" font-size="5.2" text-anchor="middle" fill="#333" stroke="#333" stroke-width="0.17">Abundance</text>
<text transform="translate(384 523.8) rotate(0.05)" font-size="8.9" text-anchor="middle" fill="#111" stroke="#111" stroke-width="0.2">FA</text>
<rect x="359.6" y="534.3" width="5.05" height="32.4" fill="#9a9a9a" stroke="#2b2b2b" stroke-width="0.7"/>
<line x1="362.12" y1="532.37" x2="362.12" y2="536.23" stroke="#222" stroke-width="0.6"/>
<line x1="361.12" y1="532.37" x2="363.12" y2="532.37" stroke="#222" stroke-width="0.6"/>
<circle cx="362.49" cy="536.01" r="0.95" fill="#2a2a2a"/>
<circle cx="361.56" cy="534.49" r="0.95" fill="#2a2a2a"/>
<circle cx="361.55" cy="535.7" r="0.95" fill="#2a2a2a"/>
<rect x="365.05" y="531.5" width="5.05" height="35.2" fill="#e58e8e" stroke="#2b2b2b" stroke-width="0.7"/>
<line x1="367.57" y1="529.09" x2="367.57" y2="533.91" stroke="#222" stroke-width="0.6"/>
<line x1="366.57" y1="529.09" x2="368.57" y2="529.09" stroke="#222" stroke-width="0.6"/>
<circle cx="367.05" cy="531.02" r="0.95" fill="#8a1414"/>
<circle cx="367.84" cy="532.31" r="0.95" fill="#8a1414"/>
<circle cx="367.45" cy="532.03" r="0.95" fill="#8a1414"/>
<rect x="370.5" y="536.4" width="5.05" height="30.3" fill="#86a2dc" stroke="#2b2b2b" stroke-width="0.7"/>
<line x1="373.02" y1="533.98" x2="373.02" y2="538.82" stroke="#222" stroke-width="0.6"/>
<line x1="372.02" y1="533.98" x2="374.02" y2="533.98" stroke="#222" stroke-width="0.6"/>
<circle cx="372.69" cy="536.96" r="0.95" fill="#1a3a8c"/>
<circle cx="373.61" cy="538.71" r="0.95" fill="#1a3a8c"/>
<circle cx="373.57" cy="538.31" r="0.95" fill="#1a3a8c"/>
<rect x="375.95" y="541.3" width="5.05" height="25.4" fill="#7cbfad" stroke="#2b2b2b" stroke-width="0.7"/>
<line x1="378.47" y1="539.17" x2="378.47" y2="543.43" stroke="#222" stroke-width="0.6"/>
<line x1="377.47" y1="539.17" x2="379.47" y2="539.17" stroke="#222" stroke-width="0.6"/>
<circle cx="377.96" cy="543.99" r="0.95" fill="#0d5a4a"/>
<circle cx="378.03" cy="541.18" r="0.95" fill="#0d5a4a"/>
<circle cx="378.69" cy="541.05" r="0.95" fill="#0d5a4a"/>
<rect x="383.4" y="556.2" width="5.05" height="10.5" fill="#9a9a9a" stroke="#2b2b2b" stroke-width="0.7"/>
<line x1="385.92" y1="553.47" x2="385.92" y2="558.93" stroke="#222" stroke-width="0.6"/>
<line x1="384.92" y1="553.47" x2="386.92" y2="553.47" stroke="#222" stroke-width="0.6"/>
<circle cx="385.73" cy="555.88" r="0.95" fill="#2a2a2a"/>
<circle cx="385.8" cy="554" r="0.95" fill="#2a2a2a"/>
<circle cx="385.55" cy="554.65" r="0.95" fill="#2a2a2a"/>
<rect x="388.85" y="556.9" width="5.05" height="9.8" fill="#e58e8e" stroke="#2b2b2b" stroke-width="0.7"/>
<line x1="391.37" y1="554.12" x2="391.37" y2="559.68" stroke="#222" stroke-width="0.6"/>
<line x1="390.37" y1="554.12" x2="392.37" y2="554.12" stroke="#222" stroke-width="0.6"/>
<circle cx="391.3" cy="557.02" r="0.95" fill="#8a1414"/>
<circle cx="391.61" cy="554.72" r="0.95" fill="#8a1414"/>
<circle cx="391.09" cy="554.71" r="0.95" fill="#8a1414"/>
<rect x="394.3" y="551.3" width="5.05" height="15.4" fill="#86a2dc" stroke="#2b2b2b" stroke-width="0.7"/>
<line x1="396.82" y1="548.8" x2="396.82" y2="553.8" stroke="#222" stroke-width="0.6"/>
<line x1="395.82" y1="548.8" x2="397.82" y2="548.8" stroke="#222" stroke-width="0.6"/>
<circle cx="397.39" cy="552.61" r="0.95" fill="#1a3a8c"/>
<circle cx="397.36" cy="552.91" r="0.95" fill="#1a3a8c"/>
<circle cx="397.09" cy="554.03" r="0.95" fill="#1a3a8c"/>
<rect x="399.75" y="558.3" width="5.05" height="8.4" fill="#7cbfad" stroke="#2b2b2b" stroke-width="0.7"/>
<line x1="402.27" y1="555.55" x2="402.27" y2="561.05" stroke="#222" stroke-width="0.6"/>
<line x1="401.27" y1="555.55" x2="403.27" y2="555.55" stroke="#222" stroke-width="0.6"/>
<circle cx="401.92" cy="555.17" r="0.95" fill="#0d5a4a"/>
<circle cx="402.71" cy="554.82" r="0.95" fill="#0d5a4a"/>
<circle cx="402.43" cy="559.89" r="0.95" fill="#0d5a4a"/>
<line x1="356.3" y1="525.9" x2="356.3" y2="567.2" stroke="#333" stroke-width="1.1"/>
<line x1="355.8" y1="566.7" x2="407.8" y2="566.7" stroke="#222" stroke-width="1.1"/>
<line x1="354.9" y1="528.2" x2="356.3" y2="528.2" stroke="#444" stroke-width="0.5"/>
<text transform="translate(354.3 529.8) rotate(0.05)" font-size="4.5" text-anchor="end" fill="#666" stroke="#666" stroke-width="0.06">4×10<tspan font-size="3" dy="-1.7">8</tspan></text>
<line x1="354.9" y1="537.9" x2="356.3" y2="537.9" stroke="#444" stroke-width="0.5"/>
<text transform="translate(354.3 539.5) rotate(0.05)" font-size="4.5" text-anchor="end" fill="#666" stroke="#666" stroke-width="0.06">3×10<tspan font-size="3" dy="-1.7">8</tspan></text>
<line x1="354.9" y1="547.6" x2="356.3" y2="547.6" stroke="#444" stroke-width="0.5"/>
<text transform="translate(354.3 549.2) rotate(0.05)" font-size="4.5" text-anchor="end" fill="#666" stroke="#666" stroke-width="0.06">2×10<tspan font-size="3" dy="-1.7">8</tspan></text>
<line x1="354.9" y1="557.4" x2="356.3" y2="557.4" stroke="#444" stroke-width="0.5"/>
<text transform="translate(354.3 559) rotate(0.05)" font-size="4.5" text-anchor="end" fill="#666" stroke="#666" stroke-width="0.06">1×10<tspan font-size="3" dy="-1.7">8</tspan></text>
<line x1="354.9" y1="567.1" x2="356.3" y2="567.1" stroke="#444" stroke-width="0.5"/>
<text transform="translate(354.3 568.7) rotate(0.05)" font-size="4.5" text-anchor="end" fill="#666" stroke="#666" stroke-width="0.06">0×10<tspan font-size="3" dy="-1.7">0</tspan></text>
<text transform="translate(369.6 573.7) rotate(0.05)" font-size="5" text-anchor="middle" fill="#222" stroke="#222" stroke-width="0.17">1h</text>
<text transform="translate(393.5 573.7) rotate(0.05)" font-size="5" text-anchor="middle" fill="#222" stroke="#222" stroke-width="0.17">24h</text>
<text transform="translate(338.9 541) rotate(-89.95)" font-size="5.2" text-anchor="middle" fill="#333" stroke="#333" stroke-width="0.17">Abundance</text>
<text transform="translate(90.3 385.1) rotate(0.05)" font-size="13.2" fill="#111" stroke="#111" stroke-width="0.1">G3P</text>
<text transform="translate(149.8 385.1) rotate(0.05)" font-size="13" fill="#111" stroke="#111" stroke-width="0.1">LPA</text>
<line x1="128.5" y1="379.6" x2="139.5" y2="379.6" stroke="#1a0a0a" stroke-width="1.3"/>
<path d="M145.1 379.6L139 383.05L139 376.15Z" fill="#1a0a0a"/>
<line x1="183.5" y1="380.8" x2="195" y2="380.8" stroke="#1a0a0a" stroke-width="1.3"/>
<path d="M200.6 380.8L194.5 384.25L194.5 377.35Z" fill="#1a0a0a"/>
<line x1="290.7" y1="380.8" x2="320.8" y2="380.8" stroke="#1a0a0a" stroke-width="1.3"/>
<path d="M326.4 380.8L320.3 384.25L320.3 377.35Z" fill="#1a0a0a"/>
<line x1="253.6" y1="413.5" x2="253.6" y2="424.1" stroke="#1a0a0a" stroke-width="1.3"/>
<path d="M253.6 429.7L250.15 423.6L257.05 423.6Z" fill="#1a0a0a"/>
<line x1="294.5" y1="408.6" x2="300.06" y2="413.79" stroke="#1a0a0a" stroke-width="1.2"/>
<path d="M303.5 417L297.72 415.57L301.68 411.33Z" fill="#1a0a0a"/>
<rect x="307.6" y="418.6" width="9.2" height="9.0" fill="#fff" stroke="#444" stroke-width="0.9"/>
<line x1="311.9" y1="431.2" x2="311.9" y2="441.4" stroke="#1a0a0a" stroke-width="1.3"/>
<path d="M311.9 447L308.45 440.9L315.35 440.9Z" fill="#1a0a0a"/>
<line x1="318.4" y1="430.1" x2="323.74" y2="435.02" stroke="#1a0a0a" stroke-width="1.2"/>
<path d="M327.2 438.2L321.41 436.81L325.34 432.54Z" fill="#1a0a0a"/>
<text transform="translate(301.6 409.2) rotate(0.05)" font-size="8.3" font-weight="bold" fill="#111" stroke="#111" stroke-width="0.2">CDS</text>
<text transform="translate(308.2 457.8) rotate(0.05)" font-size="9.5" fill="#111" stroke="#111" stroke-width="0.1">PI</text>
<text transform="translate(308.2 469.2) rotate(0.05)" font-size="9.5" fill="#111" stroke="#111" stroke-width="0.1">PG</text>
<text transform="translate(308.2 479.7) rotate(0.05)" font-size="9.5" fill="#111" stroke="#111" stroke-width="0.1">CL</text>
<line x1="375.7" y1="429.8" x2="375.7" y2="419.6" stroke="#1a0a0a" stroke-width="1.3"/>
<path d="M375.7 414L379.15 420.1L372.25 420.1Z" fill="#1a0a0a"/>
<text transform="translate(380.7 428.4) rotate(0.05)" font-size="8.8" font-weight="bold" fill="#111" stroke="#111" stroke-width="0.2">LIPE</text>
<text transform="translate(407 372.6) rotate(0.05)" font-size="8.8" font-weight="bold" fill="#111" stroke="#111" stroke-width="0.2">LIPE</text>
<line x1="411" y1="378.9" x2="421.9" y2="378.9" stroke="#1a0a0a" stroke-width="1.3"/>
<path d="M427.5 378.9L421.4 382.35L421.4 375.45Z" fill="#1a0a0a"/>
<line x1="208" y1="463.5" x2="197.4" y2="463.5" stroke="#1a0a0a" stroke-width="1.3"/>
<path d="M191.8 463.5L197.9 460.05L197.9 466.95Z" fill="#1a0a0a"/>
<line x1="114.1" y1="463.8" x2="103.6" y2="463.8" stroke="#1a0a0a" stroke-width="1.3"/>
<path d="M98 463.8L104.1 460.35L104.1 467.25Z" fill="#1a0a0a"/>
<line x1="65.5" y1="496.1" x2="65.5" y2="506.9" stroke="#1a0a0a" stroke-width="1.3"/>
<path d="M65.5 512.5L62.05 506.4L68.95 506.4Z" fill="#1a0a0a"/>
<line x1="161.5" y1="496.1" x2="161.5" y2="506.9" stroke="#1a0a0a" stroke-width="1.3"/>
<path d="M161.5 512.5L158.05 506.4L164.95 506.4Z" fill="#1a0a0a"/>
<line x1="441.5" y1="540.7" x2="430.1" y2="540.7" stroke="#1a0a0a" stroke-width="1.3" stroke-dasharray="2 1.4"/>
<path d="M425.1 540.7L430.6 537.45L430.6 543.95Z" fill="#1a0a0a"/>
<line x1="474.8" y1="526.8" x2="474.8" y2="515.4" stroke="#1a0a0a" stroke-width="1.3" stroke-dasharray="2 1.4"/>
<path d="M474.8 510.4L478.05 515.9L471.55 515.9Z" fill="#1a0a0a"/>
<text transform="translate(452.2 543.5) rotate(0.05)" font-size="9.2" fill="#111" stroke="#111" stroke-width="0.14">AcetylCoA</text>
<rect x="526.7" y="508.25" width="9.5" height="8.9" fill="#9a9a9a" stroke="#333" stroke-width="1.1"/>
<circle cx="531.45" cy="512.7" r="0.9" fill="#2a2a2a"/>
<text transform="translate(539 515.4) rotate(0.05)" font-size="7.7" fill="#111" stroke="#111" stroke-width="0.2">Control</text>
<rect x="526.7" y="521.85" width="9.5" height="8.9" fill="#e58e8e" stroke="#333" stroke-width="1.1"/>
<circle cx="531.45" cy="526.3" r="0.9" fill="#8a1414"/>
<text transform="translate(539 528.7) rotate(0.05)" font-size="7.7" fill="#111" stroke="#111" stroke-width="0.2">LPS</text>
<rect x="526.7" y="535.65" width="9.5" height="8.9" fill="#86a2dc" stroke="#333" stroke-width="1.1"/>
<circle cx="531.45" cy="540.1" r="0.9" fill="#1a3a8c"/>
<text transform="translate(539 542.5) rotate(0.05)" font-size="7.7" fill="#111" stroke="#111" stroke-width="0.2">ILG</text>
<rect x="526.7" y="549.45" width="9.5" height="8.9" fill="#7cbfad" stroke="#333" stroke-width="1.1"/>
<circle cx="531.45" cy="553.9" r="0.9" fill="#0d5a4a"/>
<text transform="translate(539 556.1) rotate(0.05)" font-size="7.7" fill="#111" stroke="#111" stroke-width="0.2">GU</text>
<text transform="translate(-0.6 608.7) rotate(0.05)" font-size="20" stroke="#000" stroke-width="0.1">e</text>
<line x1="42.4" y1="689.9" x2="183.5" y2="689.9" stroke="#9a9a9a" stroke-width="1.2" stroke-dasharray="1.9 2.4"/>
<line x1="87.4" y1="599.5" x2="87.4" y2="740" stroke="#333" stroke-width="0.8" stroke-dasharray="2 2"/>
<circle cx="86.66" cy="690.31" r="1.4" fill="#ffffff" stroke="#111" stroke-width="0.6"/>
<circle cx="107.42" cy="669.08" r="1.4" fill="#7a1a80" stroke="#111" stroke-width="0.6"/>
<circle cx="80.76" cy="698.34" r="1.4" fill="#3a8fd0" stroke="#111" stroke-width="0.6"/>
<circle cx="80.53" cy="698.95" r="1.4" fill="#1a4d9a" stroke="#111" stroke-width="0.6"/>
<circle cx="95.56" cy="683.65" r="1.4" fill="#ffffff" stroke="#111" stroke-width="0.6"/>
<circle cx="113" cy="666.9" r="1.4" fill="#1a4d9a" stroke="#111" stroke-width="0.6"/>
<circle cx="96.97" cy="679.42" r="1.4" fill="#ffffff" stroke="#111" stroke-width="0.6"/>
<circle cx="102.67" cy="674.49" r="1.4" fill="#ffffff" stroke="#111" stroke-width="0.6"/>
<circle cx="142.92" cy="638.64" r="1.4" fill="#ffffff" stroke="#111" stroke-width="0.6"/>
<circle cx="90.08" cy="691.52" r="1.4" fill="#3a8fd0" stroke="#111" stroke-width="0.6"/>
<circle cx="96.5" cy="682.05" r="1.4" fill="#ffffff" stroke="#111" stroke-width="0.6"/>
<circle cx="70.34" cy="714.81" r="1.4" fill="#f0e020" stroke="#111" stroke-width="0.6"/>
<circle cx="112.31" cy="668.33" r="1.4" fill="#1a4d9a" stroke="#111" stroke-width="0.6"/>
<circle cx="78.32" cy="702.07" r="1.4" fill="#1a4d9a" stroke="#111" stroke-width="0.6"/>
<circle cx="136.18" cy="642.48" r="1.4" fill="#ffffff" stroke="#111" stroke-width="0.6"/>
<circle cx="77.02" cy="700.25" r="1.4" fill="#3a8fd0" stroke="#111" stroke-width="0.6"/>
<circle cx="85.03" cy="691.95" r="1.4" fill="#3a8fd0" stroke="#111" stroke-width="0.6"/>
<circle cx="90.58" cy="687.29" r="1.4" fill="#3a8fd0" stroke="#111" stroke-width="0.6"/>
<circle cx="91.17" cy="690.76" r="1.4" fill="#3a8fd0" stroke="#111" stroke-width="0.6"/>
<circle cx="99.17" cy="675.72" r="1.4" fill="#a8dcd2" stroke="#111" stroke-width="0.6"/>
<circle cx="86.87" cy="687.86" r="1.4" fill="#a8dcd2" stroke="#111" stroke-width="0.6"/>
<circle cx="106.96" cy="668.07" r="1.4" fill="#ffffff" stroke="#111" stroke-width="0.6"/>
<circle cx="80.67" cy="699.76" r="1.4" fill="#1a4d9a" stroke="#111" stroke-width="0.6"/>
<circle cx="134.79" cy="642.73" r="1.4" fill="#ffffff" stroke="#111" stroke-width="0.6"/>
<circle cx="78.31" cy="700.86" r="1.4" fill="#1a4d9a" stroke="#111" stroke-width="0.6"/>
<circle cx="104.31" cy="666.54" r="1.4" fill="#ffffff" stroke="#111" stroke-width="0.6"/>
<circle cx="87.65" cy="686.48" r="1.4" fill="#ffffff" stroke="#111" stroke-width="0.6"/>
<circle cx="130.55" cy="650.36" r="1.4" fill="#3a8fd0" stroke="#111" stroke-width="0.6"/>
<circle cx="108.18" cy="671.33" r="1.4" fill="#3a8fd0" stroke="#111" stroke-width="0.6"/>
<circle cx="88.63" cy="687.57" r="1.4" fill="#ffffff" stroke="#111" stroke-width="0.6"/>
<circle cx="130.1" cy="649.67" r="1.4" fill="#ffffff" stroke="#111" stroke-width="0.6"/>
<circle cx="105.26" cy="669.44" r="1.4" fill="#ffffff" stroke="#111" stroke-width="0.6"/>
<circle cx="115.05" cy="663.58" r="1.4" fill="#ffffff" stroke="#111" stroke-width="0.6"/>
<circle cx="73.96" cy="699.29" r="1.4" fill="#3a8fd0" stroke="#111" stroke-width="0.6"/>
<circle cx="85.09" cy="690.06" r="1.4" fill="#7a1a80" stroke="#111" stroke-width="0.6"/>
<circle cx="104.28" cy="677.41" r="1.4" fill="#3a8fd0" stroke="#111" stroke-width="0.6"/>
<circle cx="102.48" cy="672.65" r="1.4" fill="#7a1a80" stroke="#111" stroke-width="0.6"/>
<circle cx="100.45" cy="676.95" r="1.4" fill="#3a8fd0" stroke="#111" stroke-width="0.6"/>
<circle cx="110.34" cy="665.77" r="1.4" fill="#ffffff" stroke="#111" stroke-width="0.6"/>
<circle cx="99.87" cy="674.1" r="1.4" fill="#ffffff" stroke="#111" stroke-width="0.6"/>
<circle cx="73.07" cy="705.69" r="1.4" fill="#1a4d9a" stroke="#111" stroke-width="0.6"/>
<circle cx="72.66" cy="705.85" r="1.4" fill="#e69f00" stroke="#111" stroke-width="0.6"/>
<circle cx="131.39" cy="646.34" r="1.4" fill="#ffffff" stroke="#111" stroke-width="0.6"/>
<circle cx="113.94" cy="663.5" r="1.4" fill="#ffffff" stroke="#111" stroke-width="0.6"/>
<circle cx="142.33" cy="637.9" r="1.4" fill="#ffffff" stroke="#111" stroke-width="0.6"/>
<circle cx="76.02" cy="705.75" r="1.4" fill="#3a8fd0" stroke="#111" stroke-width="0.6"/>
<circle cx="73.65" cy="704.43" r="1.4" fill="#1a4d9a" stroke="#111" stroke-width="0.6"/>
<circle cx="117.82" cy="659.99" r="1.4" fill="#3a8fd0" stroke="#111" stroke-width="0.6"/>
<circle cx="87.86" cy="684.06" r="1.4" fill="#ffffff" stroke="#111" stroke-width="0.6"/>
<circle cx="123.65" cy="652.59" r="1.4" fill="#ffffff" stroke="#111" stroke-width="0.6"/>
<circle cx="114.09" cy="659.64" r="1.4" fill="#ffffff" stroke="#111" stroke-width="0.6"/>
<circle cx="109.08" cy="669.6" r="1.4" fill="#ffffff" stroke="#111" stroke-width="0.6"/>
<circle cx="74.15" cy="705.93" r="1.4" fill="#3a8fd0" stroke="#111" stroke-width="0.6"/>
<circle cx="75.73" cy="701.11" r="1.4" fill="#3a8fd0" stroke="#111" stroke-width="0.6"/>
<circle cx="72.96" cy="701.24" r="1.4" fill="#e69f00" stroke="#111" stroke-width="0.6"/>
<circle cx="81.66" cy="693.93" r="1.4" fill="#ffffff" stroke="#111" stroke-width="0.6"/>
<circle cx="104.05" cy="677.4" r="1.4" fill="#3a8fd0" stroke="#111" stroke-width="0.6"/>
<circle cx="79.51" cy="695.71" r="1.4" fill="#ffffff" stroke="#111" stroke-width="0.6"/>
<circle cx="140.58" cy="640.63" r="1.4" fill="#ffffff" stroke="#111" stroke-width="0.6"/>
<circle cx="94.33" cy="680.89" r="1.4" fill="#1a4d9a" stroke="#111" stroke-width="0.6"/>
<circle cx="89.33" cy="685.1" r="1.4" fill="#ffffff" stroke="#111" stroke-width="0.6"/>
<circle cx="70.71" cy="702.97" r="1.4" fill="#7a1a80" stroke="#111" stroke-width="0.6"/>
<circle cx="100.55" cy="676.95" r="1.4" fill="#1a4d9a" stroke="#111" stroke-width="0.6"/>
<circle cx="115.11" cy="662.48" r="1.4" fill="#ffffff" stroke="#111" stroke-width="0.6"/>
<circle cx="114.43" cy="663.89" r="1.4" fill="#ffffff" stroke="#111" stroke-width="0.6"/>
<circle cx="119.19" cy="660.56" r="1.4" fill="#3a8fd0" stroke="#111" stroke-width="0.6"/>
<circle cx="117.66" cy="663.6" r="1.4" fill="#ffffff" stroke="#111" stroke-width="0.6"/>
<circle cx="78.25" cy="697.71" r="1.4" fill="#ffffff" stroke="#111" stroke-width="0.6"/>
<circle cx="79.2" cy="698.64" r="1.4" fill="#3a8fd0" stroke="#111" stroke-width="0.6"/>
<circle cx="121.95" cy="657.93" r="1.4" fill="#ffffff" stroke="#111" stroke-width="0.6"/>
<circle cx="125.95" cy="652.43" r="1.4" fill="#ffffff" stroke="#111" stroke-width="0.6"/>
<circle cx="99.98" cy="674.08" r="1.4" fill="#ffffff" stroke="#111" stroke-width="0.6"/>
<circle cx="75.45" cy="708.1" r="1.4" fill="#3a8fd0" stroke="#111" stroke-width="0.6"/>
<circle cx="128.28" cy="649.86" r="1.4" fill="#ffffff" stroke="#111" stroke-width="0.6"/>
<circle cx="83.93" cy="696.09" r="1.4" fill="#3a8fd0" stroke="#111" stroke-width="0.6"/>
<circle cx="123.43" cy="658.23" r="1.4" fill="#3a8fd0" stroke="#111" stroke-width="0.6"/>
<circle cx="80.17" cy="698.06" r="1.4" fill="#3a8fd0" stroke="#111" stroke-width="0.6"/>
<circle cx="112.23" cy="665.07" r="1.4" fill="#a8dcd2" stroke="#111" stroke-width="0.6"/>
<circle cx="116.15" cy="662.24" r="1.4" fill="#3a8fd0" stroke="#111" stroke-width="0.6"/>
<circle cx="84.28" cy="692.68" r="1.4" fill="#3a8fd0" stroke="#111" stroke-width="0.6"/>
<circle cx="79.47" cy="696.22" r="1.4" fill="#ffffff" stroke="#111" stroke-width="0.6"/>
<circle cx="130.21" cy="650.91" r="1.4" fill="#3a8fd0" stroke="#111" stroke-width="0.6"/>
<circle cx="85.56" cy="694.38" r="1.4" fill="#3a8fd0" stroke="#111" stroke-width="0.6"/>
<circle cx="142.52" cy="639.45" r="1.4" fill="#ffffff" stroke="#111" stroke-width="0.6"/>
<circle cx="133.77" cy="646.79" r="1.4" fill="#505050" stroke="#111" stroke-width="0.6"/>
<circle cx="78.28" cy="695.51" r="1.4" fill="#1a6b35" stroke="#111" stroke-width="0.6"/>
<circle cx="94.21" cy="690.14" r="1.4" fill="#8b1010" stroke="#111" stroke-width="0.6"/>
<circle cx="131.31" cy="647.41" r="1.4" fill="#ffffff" stroke="#111" stroke-width="0.6"/>
<circle cx="81.23" cy="691.66" r="1.4" fill="#1a6b35" stroke="#111" stroke-width="0.6"/>
<circle cx="95.1" cy="682.69" r="1.4" fill="#ffffff" stroke="#111" stroke-width="0.6"/>
<circle cx="75.84" cy="702.64" r="1.4" fill="#3a8fd0" stroke="#111" stroke-width="0.6"/>
<circle cx="85.03" cy="692.6" r="1.4" fill="#3a8fd0" stroke="#111" stroke-width="0.6"/>
<circle cx="98.16" cy="679.29" r="1.4" fill="#ffffff" stroke="#111" stroke-width="0.6"/>
<circle cx="86.44" cy="688.32" r="1.4" fill="#7a1a80" stroke="#111" stroke-width="0.6"/>
<circle cx="123.76" cy="655.58" r="1.4" fill="#ffffff" stroke="#111" stroke-width="0.6"/>
<circle cx="79.06" cy="693.08" r="1.4" fill="#ffffff" stroke="#111" stroke-width="0.6"/>
<circle cx="78.56" cy="699" r="1.4" fill="#ffffff" stroke="#111" stroke-width="0.6"/>
<circle cx="89.25" cy="691.54" r="1.4" fill="#505050" stroke="#111" stroke-width="0.6"/>
<circle cx="101.27" cy="675.27" r="1.4" fill="#ffffff" stroke="#111" stroke-width="0.6"/>
<circle cx="89.56" cy="686.51" r="1.4" fill="#ffffff" stroke="#111" stroke-width="0.6"/>
<circle cx="110.69" cy="670.41" r="1.4" fill="#8b1010" stroke="#111" stroke-width="0.6"/>
<circle cx="112.44" cy="665.54" r="1.4" fill="#ffffff" stroke="#111" stroke-width="0.6"/>
<circle cx="103.07" cy="672.91" r="1.4" fill="#7a1a80" stroke="#111" stroke-width="0.6"/>
<circle cx="107.09" cy="666.44" r="1.4" fill="#ffffff" stroke="#111" stroke-width="0.6"/>
<circle cx="123.8" cy="655.79" r="1.4" fill="#3a8fd0" stroke="#111" stroke-width="0.6"/>
<circle cx="93.56" cy="682.85" r="1.4" fill="#505050" stroke="#111" stroke-width="0.6"/>
<circle cx="138.12" cy="643.08" r="1.4" fill="#ffffff" stroke="#111" stroke-width="0.6"/>
<circle cx="72.98" cy="706.03" r="1.4" fill="#3a8fd0" stroke="#111" stroke-width="0.6"/>
<circle cx="73.74" cy="709.86" r="1.4" fill="#f0e020" stroke="#111" stroke-width="0.6"/>
<circle cx="126.31" cy="652.06" r="1.4" fill="#ffffff" stroke="#111" stroke-width="0.6"/>
<circle cx="72.23" cy="699.76" r="1.4" fill="#3a8fd0" stroke="#111" stroke-width="0.6"/>
<circle cx="78.51" cy="699.16" r="1.4" fill="#505050" stroke="#111" stroke-width="0.6"/>
<circle cx="116.71" cy="661.09" r="1.4" fill="#ffffff" stroke="#111" stroke-width="0.6"/>
<circle cx="92.15" cy="682.91" r="1.4" fill="#1a6b35" stroke="#111" stroke-width="0.6"/>
<circle cx="120.29" cy="657.22" r="1.4" fill="#e69f00" stroke="#111" stroke-width="0.6"/>
<circle cx="106.97" cy="672.76" r="1.4" fill="#ffffff" stroke="#111" stroke-width="0.6"/>
<circle cx="78.11" cy="701.64" r="1.4" fill="#3a8fd0" stroke="#111" stroke-width="0.6"/>
<circle cx="105.82" cy="677.45" r="1.4" fill="#1a4d9a" stroke="#111" stroke-width="0.6"/>
<circle cx="99.19" cy="676.68" r="1.4" fill="#ffffff" stroke="#111" stroke-width="0.6"/>
<circle cx="81.15" cy="697.81" r="1.4" fill="#1a4d9a" stroke="#111" stroke-width="0.6"/>
<circle cx="94.88" cy="679.39" r="1.4" fill="#ffffff" stroke="#111" stroke-width="0.6"/>
<circle cx="100.44" cy="674.31" r="1.4" fill="#e69f00" stroke="#111" stroke-width="0.6"/>
<circle cx="74.64" cy="711.11" r="1.4" fill="#f0e020" stroke="#111" stroke-width="0.6"/>
<circle cx="77.46" cy="699.59" r="1.4" fill="#1a4d9a" stroke="#111" stroke-width="0.6"/>
<circle cx="78.6" cy="694.46" r="1.4" fill="#ffffff" stroke="#111" stroke-width="0.6"/>
<circle cx="140.48" cy="638.43" r="1.4" fill="#ffffff" stroke="#111" stroke-width="0.6"/>
<circle cx="126.97" cy="654.77" r="1.4" fill="#3a8fd0" stroke="#111" stroke-width="0.6"/>
<circle cx="105.18" cy="673.71" r="1.4" fill="#1a4d9a" stroke="#111" stroke-width="0.6"/>
<circle cx="132.3" cy="646.12" r="1.4" fill="#ffffff" stroke="#111" stroke-width="0.6"/>
<circle cx="100.14" cy="681.31" r="1.4" fill="#3a8fd0" stroke="#111" stroke-width="0.6"/>
<circle cx="106.2" cy="670.19" r="1.4" fill="#ffffff" stroke="#111" stroke-width="0.6"/>
<circle cx="128.44" cy="648.53" r="1.4" fill="#ffffff" stroke="#111" stroke-width="0.6"/>
<circle cx="111.43" cy="666.88" r="1.4" fill="#ffffff" stroke="#111" stroke-width="0.6"/>
<circle cx="108.61" cy="668.54" r="1.4" fill="#ffffff" stroke="#111" stroke-width="0.6"/>
<circle cx="70.7" cy="711.99" r="1.4" fill="#f0e020" stroke="#111" stroke-width="0.6"/>
<circle cx="125.61" cy="652.18" r="1.4" fill="#ffffff" stroke="#111" stroke-width="0.6"/>
<circle cx="90.69" cy="684.67" r="1.4" fill="#7a1a80" stroke="#111" stroke-width="0.6"/>
<circle cx="107.45" cy="673.44" r="1.4" fill="#505050" stroke="#111" stroke-width="0.6"/>
<circle cx="102.54" cy="673.3" r="1.4" fill="#ffffff" stroke="#111" stroke-width="0.6"/>
<circle cx="111.49" cy="665.57" r="1.4" fill="#ffffff" stroke="#111" stroke-width="0.6"/>
<circle cx="117.28" cy="663.08" r="1.4" fill="#3a8fd0" stroke="#111" stroke-width="0.6"/>
<circle cx="95.83" cy="675.47" r="1.4" fill="#ffffff" stroke="#111" stroke-width="0.6"/>
<circle cx="84.85" cy="695.83" r="1.4" fill="#1a4d9a" stroke="#111" stroke-width="0.6"/>
<circle cx="116.9" cy="660.53" r="1.4" fill="#a8dcd2" stroke="#111" stroke-width="0.6"/>
<circle cx="95.29" cy="679.89" r="1.4" fill="#7a1a80" stroke="#111" stroke-width="0.6"/>
<circle cx="94.57" cy="683.12" r="1.4" fill="#ffffff" stroke="#111" stroke-width="0.6"/>
<circle cx="101.11" cy="680.14" r="1.4" fill="#1a4d9a" stroke="#111" stroke-width="0.6"/>
<circle cx="74.76" cy="700.47" r="1.4" fill="#1a4d9a" stroke="#111" stroke-width="0.6"/>
<circle cx="145.3" cy="636.68" r="1.4" fill="#3a8fd0" stroke="#111" stroke-width="0.6"/>
<circle cx="72.48" cy="702.45" r="1.4" fill="#3a8fd0" stroke="#111" stroke-width="0.6"/>
<circle cx="90.38" cy="688.8" r="1.4" fill="#1a4d9a" stroke="#111" stroke-width="0.6"/>
<circle cx="100.57" cy="676.37" r="1.4" fill="#ffffff" stroke="#111" stroke-width="0.6"/>
<circle cx="142.43" cy="637.12" r="1.4" fill="#ffffff" stroke="#111" stroke-width="0.6"/>
<circle cx="72.2" cy="702.77" r="1.4" fill="#e69f00" stroke="#111" stroke-width="0.6"/>
<circle cx="88.02" cy="687.36" r="1.4" fill="#1a6b35" stroke="#111" stroke-width="0.6"/>
<circle cx="121.14" cy="657.76" r="1.4" fill="#ffffff" stroke="#111" stroke-width="0.6"/>
<circle cx="97.51" cy="680.94" r="1.4" fill="#1a4d9a" stroke="#111" stroke-width="0.6"/>
<circle cx="83.2" cy="697.83" r="1.4" fill="#1a4d9a" stroke="#111" stroke-width="0.6"/>
<circle cx="125.62" cy="652.08" r="1.4" fill="#ffffff" stroke="#111" stroke-width="0.6"/>
<circle cx="75.58" cy="700.59" r="1.4" fill="#3a8fd0" stroke="#111" stroke-width="0.6"/>
<circle cx="99.11" cy="675.47" r="1.4" fill="#ffffff" stroke="#111" stroke-width="0.6"/>
<circle cx="114.63" cy="664.97" r="1.4" fill="#3a8fd0" stroke="#111" stroke-width="0.6"/>
<circle cx="80.03" cy="695.99" r="1.4" fill="#ffffff" stroke="#111" stroke-width="0.6"/>
<circle cx="94.34" cy="690.68" r="1.4" fill="#8b1010" stroke="#111" stroke-width="0.6"/>
<circle cx="96.44" cy="678.61" r="1.4" fill="#ffffff" stroke="#111" stroke-width="0.6"/>
<circle cx="104.92" cy="670.91" r="1.4" fill="#ffffff" stroke="#111" stroke-width="0.6"/>
<circle cx="94.13" cy="688.82" r="1.4" fill="#3a8fd0" stroke="#111" stroke-width="0.6"/>
<circle cx="90.54" cy="690.53" r="1.4" fill="#3a8fd0" stroke="#111" stroke-width="0.6"/>
<circle cx="76.41" cy="702.02" r="1.4" fill="#1a4d9a" stroke="#111" stroke-width="0.6"/>
<circle cx="70.49" cy="714.01" r="1.4" fill="#f0e020" stroke="#111" stroke-width="0.6"/>
<circle cx="83.43" cy="696.44" r="1.4" fill="#3a8fd0" stroke="#111" stroke-width="0.6"/>
<circle cx="92.78" cy="687.85" r="1.4" fill="#3a8fd0" stroke="#111" stroke-width="0.6"/>
<circle cx="105.1" cy="674.98" r="1.4" fill="#3a8fd0" stroke="#111" stroke-width="0.6"/>
<circle cx="122.08" cy="661.06" r="1.4" fill="#3a8fd0" stroke="#111" stroke-width="0.6"/>
<circle cx="119.51" cy="658.59" r="1.4" fill="#ffffff" stroke="#111" stroke-width="0.6"/>
<circle cx="103.7" cy="674.33" r="1.4" fill="#ffffff" stroke="#111" stroke-width="0.6"/>
<circle cx="80.08" cy="698.25" r="1.4" fill="#e69f00" stroke="#111" stroke-width="0.6"/>
<circle cx="95.46" cy="676.3" r="1.4" fill="#ffffff" stroke="#111" stroke-width="0.6"/>
<circle cx="94.8" cy="680.61" r="1.4" fill="#ffffff" stroke="#111" stroke-width="0.6"/>
<circle cx="84.94" cy="697.09" r="1.4" fill="#3a8fd0" stroke="#111" stroke-width="0.6"/>
<circle cx="94.58" cy="678.9" r="1.4" fill="#ffffff" stroke="#111" stroke-width="0.6"/>
<circle cx="119.92" cy="658.95" r="1.4" fill="#ffffff" stroke="#111" stroke-width="0.6"/>
<circle cx="78.78" cy="699.04" r="1.4" fill="#1a4d9a" stroke="#111" stroke-width="0.6"/>
<circle cx="95.78" cy="678.28" r="1.4" fill="#1a6b35" stroke="#111" stroke-width="0.6"/>
<circle cx="78.86" cy="698.92" r="1.4" fill="#3a8fd0" stroke="#111" stroke-width="0.6"/>
<circle cx="117.94" cy="659.34" r="1.4" fill="#ffffff" stroke="#111" stroke-width="0.6"/>
<circle cx="95.6" cy="680.37" r="1.4" fill="#7a1a80" stroke="#111" stroke-width="0.6"/>
<circle cx="113.89" cy="662.24" r="1.4" fill="#ffffff" stroke="#111" stroke-width="0.6"/>
<circle cx="73.51" cy="701.74" r="1.4" fill="#3a8fd0" stroke="#111" stroke-width="0.6"/>
<circle cx="80.18" cy="696.8" r="1.4" fill="#3a8fd0" stroke="#111" stroke-width="0.6"/>
<circle cx="74.04" cy="701.87" r="1.4" fill="#e69f00" stroke="#111" stroke-width="0.6"/>
<circle cx="111.74" cy="667.05" r="1.4" fill="#ffffff" stroke="#111" stroke-width="0.6"/>
<circle cx="77.92" cy="701.49" r="1.4" fill="#1a4d9a" stroke="#111" stroke-width="0.6"/>
<circle cx="90.13" cy="691.4" r="1.4" fill="#1a4d9a" stroke="#111" stroke-width="0.6"/>
<circle cx="85.03" cy="687.96" r="1.4" fill="#ffffff" stroke="#111" stroke-width="0.6"/>
<circle cx="144.58" cy="634.41" r="1.4" fill="#ffffff" stroke="#111" stroke-width="0.6"/>
<circle cx="75.04" cy="705.31" r="1.4" fill="#3a8fd0" stroke="#111" stroke-width="0.6"/>
<circle cx="108.51" cy="665.54" r="1.4" fill="#ffffff" stroke="#111" stroke-width="0.6"/>
<circle cx="85.16" cy="689.22" r="1.4" fill="#e69f00" stroke="#111" stroke-width="0.6"/>
<circle cx="89.96" cy="691.02" r="1.4" fill="#3a8fd0" stroke="#111" stroke-width="0.6"/>
<circle cx="86.44" cy="687.11" r="1.4" fill="#ffffff" stroke="#111" stroke-width="0.6"/>
<circle cx="112" cy="664.44" r="1.4" fill="#ffffff" stroke="#111" stroke-width="0.6"/>
<circle cx="75.46" cy="697.75" r="1.4" fill="#3a8fd0" stroke="#111" stroke-width="0.6"/>
<circle cx="75.65" cy="705.15" r="1.4" fill="#3a8fd0" stroke="#111" stroke-width="0.6"/>
<circle cx="96.96" cy="679.86" r="1.4" fill="#ffffff" stroke="#111" stroke-width="0.6"/>
<circle cx="135.36" cy="642.98" r="1.4" fill="#ffffff" stroke="#111" stroke-width="0.6"/>
<circle cx="91.61" cy="688.78" r="1.4" fill="#8b1010" stroke="#111" stroke-width="0.6"/>
<circle cx="77.37" cy="696.62" r="1.4" fill="#ffffff" stroke="#111" stroke-width="0.6"/>
<circle cx="83" cy="693.77" r="1.4" fill="#3a8fd0" stroke="#111" stroke-width="0.6"/>
<circle cx="118.94" cy="658.48" r="1.4" fill="#7a1a80" stroke="#111" stroke-width="0.6"/>
<circle cx="129.01" cy="648.21" r="1.4" fill="#ffffff" stroke="#111" stroke-width="0.6"/>
<circle cx="96.41" cy="682.92" r="1.4" fill="#ffffff" stroke="#111" stroke-width="0.6"/>
<circle cx="79.32" cy="700.11" r="1.4" fill="#1a4d9a" stroke="#111" stroke-width="0.6"/>
<circle cx="113.95" cy="662.83" r="1.4" fill="#ffffff" stroke="#111" stroke-width="0.6"/>
<circle cx="118.39" cy="665.35" r="1.4" fill="#8b1010" stroke="#111" stroke-width="0.6"/>
<circle cx="118.66" cy="658.9" r="1.4" fill="#e69f00" stroke="#111" stroke-width="0.6"/>
<circle cx="110.02" cy="666.05" r="1.4" fill="#ffffff" stroke="#111" stroke-width="0.6"/>
<circle cx="81.65" cy="692.76" r="1.4" fill="#7a1a80" stroke="#111" stroke-width="0.6"/>
<circle cx="85.46" cy="691.87" r="1.4" fill="#a8dcd2" stroke="#111" stroke-width="0.6"/>
<circle cx="120.18" cy="658.02" r="1.4" fill="#ffffff" stroke="#111" stroke-width="0.6"/>
<circle cx="85.37" cy="694.52" r="1.4" fill="#1a4d9a" stroke="#111" stroke-width="0.6"/>
<circle cx="102.83" cy="673.41" r="1.4" fill="#ffffff" stroke="#111" stroke-width="0.6"/>
<circle cx="95.95" cy="681.18" r="1.4" fill="#ffffff" stroke="#111" stroke-width="0.6"/>
<circle cx="108.94" cy="665.77" r="1.4" fill="#ffffff" stroke="#111" stroke-width="0.6"/>
<circle cx="106.6" cy="678.43" r="1.4" fill="#1a4d9a" stroke="#111" stroke-width="0.6"/>
<circle cx="83.69" cy="699.24" r="1.4" fill="#1a4d9a" stroke="#111" stroke-width="0.6"/>
<circle cx="97.13" cy="678.37" r="1.4" fill="#7a1a80" stroke="#111" stroke-width="0.6"/>
<circle cx="95.3" cy="684" r="1.4" fill="#3a8fd0" stroke="#111" stroke-width="0.6"/>
<circle cx="97.81" cy="679.36" r="1.4" fill="#ffffff" stroke="#111" stroke-width="0.6"/>
<circle cx="144.97" cy="634.95" r="1.4" fill="#ffffff" stroke="#111" stroke-width="0.6"/>
<circle cx="87.76" cy="689.81" r="1.4" fill="#505050" stroke="#111" stroke-width="0.6"/>
<circle cx="75.71" cy="701.8" r="1.4" fill="#3a8fd0" stroke="#111" stroke-width="0.6"/>
<circle cx="115.94" cy="667.9" r="1.4" fill="#8b1010" stroke="#111" stroke-width="0.6"/>
<circle cx="71.73" cy="702.74" r="1.4" fill="#3a8fd0" stroke="#111" stroke-width="0.6"/>
<circle cx="102.68" cy="672.66" r="1.4" fill="#7a1a80" stroke="#111" stroke-width="0.6"/>
<circle cx="94.42" cy="682.37" r="1.4" fill="#ffffff" stroke="#111" stroke-width="0.6"/>
<circle cx="135.52" cy="643.08" r="1.4" fill="#ffffff" stroke="#111" stroke-width="0.6"/>
<circle cx="101.55" cy="676.8" r="1.4" fill="#3a8fd0" stroke="#111" stroke-width="0.6"/>
<circle cx="130.5" cy="649.7" r="1.4" fill="#ffffff" stroke="#111" stroke-width="0.6"/>
<circle cx="115.35" cy="660.73" r="1.4" fill="#ffffff" stroke="#111" stroke-width="0.6"/>
<circle cx="82.95" cy="695.53" r="1.4" fill="#3a8fd0" stroke="#111" stroke-width="0.6"/>
<circle cx="86.73" cy="691.52" r="1.4" fill="#3a8fd0" stroke="#111" stroke-width="0.6"/>
<circle cx="77.73" cy="694.9" r="1.4" fill="#ffffff" stroke="#111" stroke-width="0.6"/>
<circle cx="108.93" cy="673.8" r="1.4" fill="#1a4d9a" stroke="#111" stroke-width="0.6"/>
<circle cx="114.65" cy="666.36" r="1.4" fill="#1a4d9a" stroke="#111" stroke-width="0.6"/>
<circle cx="82.4" cy="697.43" r="1.4" fill="#3a8fd0" stroke="#111" stroke-width="0.6"/>
<circle cx="121.29" cy="658.41" r="1.4" fill="#ffffff" stroke="#111" stroke-width="0.6"/>
<circle cx="104.93" cy="673.99" r="1.4" fill="#ffffff" stroke="#111" stroke-width="0.6"/>
<circle cx="119.68" cy="658.88" r="1.4" fill="#ffffff" stroke="#111" stroke-width="0.6"/>
<circle cx="94.83" cy="683.27" r="1.4" fill="#ffffff" stroke="#111" stroke-width="0.6"/>
<circle cx="99.44" cy="678.68" r="1.4" fill="#1a4d9a" stroke="#111" stroke-width="0.6"/>
<circle cx="122.41" cy="656.04" r="1.4" fill="#ffffff" stroke="#111" stroke-width="0.6"/>
<circle cx="81.25" cy="695.15" r="1.4" fill="#3a8fd0" stroke="#111" stroke-width="0.6"/>
<circle cx="109.15" cy="667.64" r="1.4" fill="#ffffff" stroke="#111" stroke-width="0.6"/>
<circle cx="96.83" cy="681.8" r="1.4" fill="#3a8fd0" stroke="#111" stroke-width="0.6"/>
<circle cx="87.12" cy="690.21" r="1.4" fill="#1a4d9a" stroke="#111" stroke-width="0.6"/>
<circle cx="115.4" cy="660.36" r="1.4" fill="#ffffff" stroke="#111" stroke-width="0.6"/>
<circle cx="88.18" cy="692.26" r="1.4" fill="#3a8fd0" stroke="#111" stroke-width="0.6"/>
<circle cx="87.83" cy="686.6" r="1.4" fill="#ffffff" stroke="#111" stroke-width="0.6"/>
<circle cx="95.41" cy="685.28" r="1.4" fill="#e69f00" stroke="#111" stroke-width="0.6"/>
<circle cx="72.9" cy="703.87" r="1.4" fill="#3a8fd0" stroke="#111" stroke-width="0.6"/>
<circle cx="142.62" cy="637.66" r="1.4" fill="#3a8fd0" stroke="#111" stroke-width="0.6"/>
<circle cx="111.14" cy="670.15" r="1.4" fill="#e69f00" stroke="#111" stroke-width="0.6"/>
<circle cx="82.06" cy="696.78" r="1.4" fill="#3a8fd0" stroke="#111" stroke-width="0.6"/>
<circle cx="119.9" cy="658.51" r="1.4" fill="#ffffff" stroke="#111" stroke-width="0.6"/>
<circle cx="78.25" cy="695.9" r="1.4" fill="#ffffff" stroke="#111" stroke-width="0.6"/>
<circle cx="84.8" cy="691.71" r="1.4" fill="#1a4d9a" stroke="#111" stroke-width="0.6"/>
<circle cx="75.03" cy="702.73" r="1.4" fill="#1a4d9a" stroke="#111" stroke-width="0.6"/>
<circle cx="93.49" cy="687.89" r="1.4" fill="#3a8fd0" stroke="#111" stroke-width="0.6"/>
<circle cx="73.65" cy="706.8" r="1.4" fill="#3a8fd0" stroke="#111" stroke-width="0.6"/>
<circle cx="97.91" cy="683.92" r="1.4" fill="#3a8fd0" stroke="#111" stroke-width="0.6"/>
<circle cx="97.54" cy="680.01" r="1.4" fill="#ffffff" stroke="#111" stroke-width="0.6"/>
<circle cx="121.33" cy="656.21" r="1.4" fill="#ffffff" stroke="#111" stroke-width="0.6"/>
<circle cx="133.38" cy="647.73" r="1.4" fill="#3a8fd0" stroke="#111" stroke-width="0.6"/>
<circle cx="122.93" cy="654.32" r="1.4" fill="#7a1a80" stroke="#111" stroke-width="0.6"/>
<circle cx="96.07" cy="684.24" r="1.4" fill="#3a8fd0" stroke="#111" stroke-width="0.6"/>
<circle cx="86.2" cy="689.5" r="1.4" fill="#e69f00" stroke="#111" stroke-width="0.6"/>
<circle cx="120.62" cy="656.82" r="1.4" fill="#1a6b35" stroke="#111" stroke-width="0.6"/>
<circle cx="120.18" cy="657.05" r="1.4" fill="#ffffff" stroke="#111" stroke-width="0.6"/>
<circle cx="108.22" cy="664.89" r="1.4" fill="#e69f00" stroke="#111" stroke-width="0.6"/>
<circle cx="121.09" cy="657.99" r="1.4" fill="#3a8fd0" stroke="#111" stroke-width="0.6"/>
<circle cx="140.41" cy="639.64" r="1.4" fill="#ffffff" stroke="#111" stroke-width="0.6"/>
<circle cx="128.38" cy="649.66" r="1.4" fill="#ffffff" stroke="#111" stroke-width="0.6"/>
<circle cx="102.53" cy="674.67" r="1.4" fill="#ffffff" stroke="#111" stroke-width="0.6"/>
<circle cx="108.34" cy="670.35" r="1.4" fill="#1a6b35" stroke="#111" stroke-width="0.6"/>
<circle cx="97.85" cy="681.81" r="1.4" fill="#3a8fd0" stroke="#111" stroke-width="0.6"/>
<circle cx="92.84" cy="681.94" r="1.4" fill="#ffffff" stroke="#111" stroke-width="0.6"/>
<circle cx="90.18" cy="685.63" r="1.4" fill="#e69f00" stroke="#111" stroke-width="0.6"/>
<circle cx="92.18" cy="680.48" r="1.4" fill="#ffffff" stroke="#111" stroke-width="0.6"/>
<circle cx="110.19" cy="663.69" r="1.4" fill="#ffffff" stroke="#111" stroke-width="0.6"/>
<circle cx="112.79" cy="661.94" r="1.4" fill="#ffffff" stroke="#111" stroke-width="0.6"/>
<circle cx="79.82" cy="700.59" r="1.4" fill="#3a8fd0" stroke="#111" stroke-width="0.6"/>
<circle cx="81.45" cy="698.88" r="1.4" fill="#1a4d9a" stroke="#111" stroke-width="0.6"/>
<circle cx="104.23" cy="671.41" r="1.4" fill="#ffffff" stroke="#111" stroke-width="0.6"/>
<circle cx="91.22" cy="689.33" r="1.4" fill="#1a4d9a" stroke="#111" stroke-width="0.6"/>
<circle cx="111.27" cy="667.84" r="1.4" fill="#ffffff" stroke="#111" stroke-width="0.6"/>
<circle cx="96.14" cy="681.19" r="1.4" fill="#1a6b35" stroke="#111" stroke-width="0.6"/>
<circle cx="114.06" cy="665.46" r="1.4" fill="#ffffff" stroke="#111" stroke-width="0.6"/>
<circle cx="115.19" cy="662.41" r="1.4" fill="#ffffff" stroke="#111" stroke-width="0.6"/>
<circle cx="85.34" cy="697.53" r="1.4" fill="#1a4d9a" stroke="#111" stroke-width="0.6"/>
<circle cx="97.18" cy="680.12" r="1.4" fill="#ffffff" stroke="#111" stroke-width="0.6"/>
<circle cx="131.92" cy="645.47" r="1.4" fill="#ffffff" stroke="#111" stroke-width="0.6"/>
<circle cx="104.29" cy="669.53" r="1.4" fill="#ffffff" stroke="#111" stroke-width="0.6"/>
<circle cx="129.38" cy="650.2" r="1.4" fill="#3a8fd0" stroke="#111" stroke-width="0.6"/>
<circle cx="94.69" cy="685.37" r="1.4" fill="#3a8fd0" stroke="#111" stroke-width="0.6"/>
<circle cx="88.1" cy="687.21" r="1.4" fill="#ffffff" stroke="#111" stroke-width="0.6"/>
<circle cx="108.63" cy="668.79" r="1.4" fill="#ffffff" stroke="#111" stroke-width="0.6"/>
<circle cx="99.73" cy="677.82" r="1.4" fill="#a8dcd2" stroke="#111" stroke-width="0.6"/>
<circle cx="69.43" cy="712.87" r="1.4" fill="#f0e020" stroke="#111" stroke-width="0.6"/>
<circle cx="112.04" cy="665.08" r="1.4" fill="#1a4d9a" stroke="#111" stroke-width="0.6"/>
<circle cx="90.82" cy="687.66" r="1.4" fill="#3a8fd0" stroke="#111" stroke-width="0.6"/>
<circle cx="86.94" cy="689.76" r="1.4" fill="#ffffff" stroke="#111" stroke-width="0.6"/>
<circle cx="89.54" cy="684.47" r="1.4" fill="#ffffff" stroke="#111" stroke-width="0.6"/>
<circle cx="72.78" cy="703.95" r="1.4" fill="#505050" stroke="#111" stroke-width="0.6"/>
<circle cx="74.6" cy="703.52" r="1.4" fill="#3a8fd0" stroke="#111" stroke-width="0.6"/>
<circle cx="110.59" cy="665.79" r="1.4" fill="#e69f00" stroke="#111" stroke-width="0.6"/>
<circle cx="129.69" cy="648.8" r="1.4" fill="#ffffff" stroke="#111" stroke-width="0.6"/>
<circle cx="69.85" cy="714.04" r="1.4" fill="#f0e020" stroke="#111" stroke-width="0.6"/>
<circle cx="80.91" cy="697.84" r="1.4" fill="#ffffff" stroke="#111" stroke-width="0.6"/>
<circle cx="115.84" cy="661.16" r="1.4" fill="#7a1a80" stroke="#111" stroke-width="0.6"/>
<circle cx="139.88" cy="641.19" r="1.4" fill="#ffffff" stroke="#111" stroke-width="0.6"/>
<circle cx="129.66" cy="648.12" r="1.4" fill="#ffffff" stroke="#111" stroke-width="0.6"/>
<circle cx="106.03" cy="670.57" r="1.4" fill="#ffffff" stroke="#111" stroke-width="0.6"/>
<circle cx="84.81" cy="693.82" r="1.4" fill="#3a8fd0" stroke="#111" stroke-width="0.6"/>
<circle cx="69.62" cy="713.53" r="1.4" fill="#f0e020" stroke="#111" stroke-width="0.6"/>
<circle cx="81.47" cy="693.53" r="1.4" fill="#505050" stroke="#111" stroke-width="0.6"/>
<circle cx="102.05" cy="677.44" r="1.4" fill="#ffffff" stroke="#111" stroke-width="0.6"/>
<circle cx="107.52" cy="669.69" r="1.4" fill="#ffffff" stroke="#111" stroke-width="0.6"/>
<circle cx="143.75" cy="634.3" r="1.4" fill="#ffffff" stroke="#111" stroke-width="0.6"/>
<circle cx="89.24" cy="688.6" r="1.4" fill="#3a8fd0" stroke="#111" stroke-width="0.6"/>
<circle cx="112.27" cy="676.18" r="1.4" fill="#8b1010" stroke="#111" stroke-width="0.6"/>
<circle cx="132.46" cy="646.44" r="1.4" fill="#ffffff" stroke="#111" stroke-width="0.6"/>
<circle cx="84.77" cy="692.63" r="1.4" fill="#ffffff" stroke="#111" stroke-width="0.6"/>
<circle cx="78.17" cy="706.04" r="1.4" fill="#f0e020" stroke="#111" stroke-width="0.6"/>
<circle cx="108.61" cy="667.69" r="1.4" fill="#7a1a80" stroke="#111" stroke-width="0.6"/>
<circle cx="121.66" cy="657.81" r="1.4" fill="#ffffff" stroke="#111" stroke-width="0.6"/>
<circle cx="78.04" cy="696.86" r="1.4" fill="#ffffff" stroke="#111" stroke-width="0.6"/>
<circle cx="91.34" cy="685.91" r="1.4" fill="#ffffff" stroke="#111" stroke-width="0.6"/>
<circle cx="85.19" cy="693.93" r="1.4" fill="#3a8fd0" stroke="#111" stroke-width="0.6"/>
<circle cx="132.88" cy="646.96" r="1.4" fill="#ffffff" stroke="#111" stroke-width="0.6"/>
<circle cx="95.19" cy="683.44" r="1.4" fill="#ffffff" stroke="#111" stroke-width="0.6"/>
<circle cx="92.37" cy="689.9" r="1.4" fill="#3a8fd0" stroke="#111" stroke-width="0.6"/>
<circle cx="87.38" cy="686.58" r="1.4" fill="#a8dcd2" stroke="#111" stroke-width="0.6"/>
<circle cx="121.9" cy="659.55" r="1.4" fill="#505050" stroke="#111" stroke-width="0.6"/>
<circle cx="109.17" cy="667.1" r="1.4" fill="#ffffff" stroke="#111" stroke-width="0.6"/>
<circle cx="72.27" cy="705.93" r="1.4" fill="#1a4d9a" stroke="#111" stroke-width="0.6"/>
<circle cx="74.06" cy="703.04" r="1.4" fill="#3a8fd0" stroke="#111" stroke-width="0.6"/>
<circle cx="77.34" cy="701.03" r="1.4" fill="#a8dcd2" stroke="#111" stroke-width="0.6"/>
<circle cx="72.42" cy="711.62" r="1.4" fill="#f0e020" stroke="#111" stroke-width="0.6"/>
<circle cx="75.89" cy="704.68" r="1.4" fill="#505050" stroke="#111" stroke-width="0.6"/>
<circle cx="127.56" cy="651.79" r="1.4" fill="#ffffff" stroke="#111" stroke-width="0.6"/>
<circle cx="120.15" cy="660.09" r="1.4" fill="#ffffff" stroke="#111" stroke-width="0.6"/>
<circle cx="139.62" cy="641.28" r="1.4" fill="#ffffff" stroke="#111" stroke-width="0.6"/>
<circle cx="76.27" cy="701.91" r="1.4" fill="#3a8fd0" stroke="#111" stroke-width="0.6"/>
<circle cx="121.45" cy="656.36" r="1.4" fill="#ffffff" stroke="#111" stroke-width="0.6"/>
<circle cx="94.98" cy="684.82" r="1.4" fill="#3a8fd0" stroke="#111" stroke-width="0.6"/>
<circle cx="84.26" cy="691.11" r="1.4" fill="#ffffff" stroke="#111" stroke-width="0.6"/>
<circle cx="107.5" cy="669.29" r="1.4" fill="#505050" stroke="#111" stroke-width="0.6"/>
<circle cx="107.87" cy="669.27" r="1.4" fill="#ffffff" stroke="#111" stroke-width="0.6"/>
<circle cx="91" cy="689.71" r="1.4" fill="#3a8fd0" stroke="#111" stroke-width="0.6"/>
<circle cx="95.27" cy="690.43" r="1.4" fill="#8b1010" stroke="#111" stroke-width="0.6"/>
<circle cx="106.38" cy="674.33" r="1.4" fill="#1a4d9a" stroke="#111" stroke-width="0.6"/>
<circle cx="82.15" cy="691.82" r="1.4" fill="#ffffff" stroke="#111" stroke-width="0.6"/>
<circle cx="133.54" cy="645.51" r="1.4" fill="#ffffff" stroke="#111" stroke-width="0.6"/>
<circle cx="91.7" cy="686.92" r="1.4" fill="#3a8fd0" stroke="#111" stroke-width="0.6"/>
<circle cx="94.77" cy="678.92" r="1.4" fill="#ffffff" stroke="#111" stroke-width="0.6"/>
<circle cx="92.67" cy="682.67" r="1.4" fill="#ffffff" stroke="#111" stroke-width="0.6"/>
<circle cx="101.82" cy="674.94" r="1.4" fill="#ffffff" stroke="#111" stroke-width="0.6"/>
<circle cx="95.07" cy="686.31" r="1.4" fill="#1a4d9a" stroke="#111" stroke-width="0.6"/>
<circle cx="80.02" cy="697.4" r="1.4" fill="#ffffff" stroke="#111" stroke-width="0.6"/>
<circle cx="93.74" cy="687.64" r="1.4" fill="#3a8fd0" stroke="#111" stroke-width="0.6"/>
<circle cx="97.14" cy="686.28" r="1.4" fill="#3a8fd0" stroke="#111" stroke-width="0.6"/>
<circle cx="91.66" cy="682.32" r="1.4" fill="#ffffff" stroke="#111" stroke-width="0.6"/>
<circle cx="68.43" cy="703.48" r="1.4" fill="#3a8fd0" stroke="#111" stroke-width="0.6"/>
<circle cx="75.94" cy="700.43" r="1.4" fill="#3a8fd0" stroke="#111" stroke-width="0.6"/>
<circle cx="82.89" cy="700.99" r="1.4" fill="#3a8fd0" stroke="#111" stroke-width="0.6"/>
<circle cx="143.75" cy="634.72" r="1.4" fill="#ffffff" stroke="#111" stroke-width="0.6"/>
<circle cx="100.6" cy="680.08" r="1.4" fill="#e69f00" stroke="#111" stroke-width="0.6"/>
<circle cx="111.06" cy="667.74" r="1.4" fill="#ffffff" stroke="#111" stroke-width="0.6"/>
<circle cx="120.3" cy="658.65" r="1.4" fill="#ffffff" stroke="#111" stroke-width="0.6"/>
<circle cx="72.26" cy="705.7" r="1.4" fill="#1a4d9a" stroke="#111" stroke-width="0.6"/>
<circle cx="76.33" cy="699.63" r="1.4" fill="#3a8fd0" stroke="#111" stroke-width="0.6"/>
<circle cx="105.56" cy="671.11" r="1.4" fill="#ffffff" stroke="#111" stroke-width="0.6"/>
<circle cx="116.92" cy="665.01" r="1.4" fill="#3a8fd0" stroke="#111" stroke-width="0.6"/>
<circle cx="92.8" cy="684.98" r="1.4" fill="#e69f00" stroke="#111" stroke-width="0.6"/>
<circle cx="74.33" cy="702.07" r="1.4" fill="#3a8fd0" stroke="#111" stroke-width="0.6"/>
<circle cx="137.28" cy="643.35" r="1.4" fill="#ffffff" stroke="#111" stroke-width="0.6"/>
<circle cx="73.28" cy="703.29" r="1.4" fill="#3a8fd0" stroke="#111" stroke-width="0.6"/>
<circle cx="74.98" cy="703.76" r="1.4" fill="#3a8fd0" stroke="#111" stroke-width="0.6"/>
<circle cx="111.08" cy="666.62" r="1.4" fill="#ffffff" stroke="#111" stroke-width="0.6"/>
<circle cx="105.96" cy="674.85" r="1.4" fill="#8b1010" stroke="#111" stroke-width="0.6"/>
<circle cx="99.05" cy="683.85" r="1.4" fill="#8b1010" stroke="#111" stroke-width="0.6"/>
<circle cx="120.24" cy="656.2" r="1.4" fill="#ffffff" stroke="#111" stroke-width="0.6"/>
<circle cx="116.7" cy="666.33" r="1.4" fill="#3a8fd0" stroke="#111" stroke-width="0.6"/>
<circle cx="107.15" cy="667.52" r="1.4" fill="#ffffff" stroke="#111" stroke-width="0.6"/>
<circle cx="74.04" cy="707.81" r="1.4" fill="#1a4d9a" stroke="#111" stroke-width="0.6"/>
<circle cx="83.57" cy="695.22" r="1.4" fill="#1a4d9a" stroke="#111" stroke-width="0.6"/>
<circle cx="143.37" cy="635.44" r="1.4" fill="#ffffff" stroke="#111" stroke-width="0.6"/>
<circle cx="100.65" cy="681.21" r="1.4" fill="#1a4d9a" stroke="#111" stroke-width="0.6"/>
<circle cx="117.08" cy="661.05" r="1.4" fill="#ffffff" stroke="#111" stroke-width="0.6"/>
<circle cx="120.93" cy="657.34" r="1.4" fill="#ffffff" stroke="#111" stroke-width="0.6"/>
<circle cx="105.28" cy="668.4" r="1.4" fill="#ffffff" stroke="#111" stroke-width="0.6"/>
<circle cx="86.68" cy="693.75" r="1.4" fill="#1a4d9a" stroke="#111" stroke-width="0.6"/>
<circle cx="73.89" cy="705.88" r="1.4" fill="#3a8fd0" stroke="#111" stroke-width="0.6"/>
<circle cx="80.47" cy="697.84" r="1.4" fill="#3a8fd0" stroke="#111" stroke-width="0.6"/>
<circle cx="114.5" cy="663.05" r="1.4" fill="#ffffff" stroke="#111" stroke-width="0.6"/>
<circle cx="94.77" cy="684.75" r="1.4" fill="#1a4d9a" stroke="#111" stroke-width="0.6"/>
<circle cx="83.43" cy="700.11" r="1.4" fill="#1a4d9a" stroke="#111" stroke-width="0.6"/>
<circle cx="74.52" cy="701.71" r="1.4" fill="#3a8fd0" stroke="#111" stroke-width="0.6"/>
<circle cx="96.85" cy="675.58" r="1.4" fill="#e69f00" stroke="#111" stroke-width="0.6"/>
<circle cx="117.79" cy="660.32" r="1.4" fill="#ffffff" stroke="#111" stroke-width="0.6"/>
<circle cx="117.07" cy="663.22" r="1.4" fill="#a8dcd2" stroke="#111" stroke-width="0.6"/>
<circle cx="68.64" cy="715.96" r="1.4" fill="#f0e020" stroke="#111" stroke-width="0.6"/>
<circle cx="79.93" cy="697.46" r="1.4" fill="#3a8fd0" stroke="#111" stroke-width="0.6"/>
<circle cx="99.75" cy="676.88" r="1.4" fill="#ffffff" stroke="#111" stroke-width="0.6"/>
<circle cx="106.55" cy="674.98" r="1.4" fill="#3a8fd0" stroke="#111" stroke-width="0.6"/>
<circle cx="72.43" cy="700.16" r="1.4" fill="#3a8fd0" stroke="#111" stroke-width="0.6"/>
<circle cx="122.85" cy="653.27" r="1.4" fill="#ffffff" stroke="#111" stroke-width="0.6"/>
<circle cx="91.46" cy="681.19" r="1.4" fill="#ffffff" stroke="#111" stroke-width="0.6"/>
<circle cx="98.32" cy="683.72" r="1.4" fill="#3a8fd0" stroke="#111" stroke-width="0.6"/>
<circle cx="86.61" cy="695.56" r="1.4" fill="#3a8fd0" stroke="#111" stroke-width="0.6"/>
<circle cx="125.84" cy="655.51" r="1.4" fill="#3a8fd0" stroke="#111" stroke-width="0.6"/>
<circle cx="99.9" cy="676.92" r="1.4" fill="#505050" stroke="#111" stroke-width="0.6"/>
<circle cx="81.5" cy="692.3" r="1.4" fill="#ffffff" stroke="#111" stroke-width="0.6"/>
<circle cx="109.78" cy="672.29" r="1.4" fill="#3a8fd0" stroke="#111" stroke-width="0.6"/>
<circle cx="87.85" cy="694.36" r="1.4" fill="#8b1010" stroke="#111" stroke-width="0.6"/>
<circle cx="116.2" cy="660.43" r="1.4" fill="#ffffff" stroke="#111" stroke-width="0.6"/>
<circle cx="133.57" cy="646.26" r="1.4" fill="#ffffff" stroke="#111" stroke-width="0.6"/>
<circle cx="101.12" cy="672.45" r="1.4" fill="#ffffff" stroke="#111" stroke-width="0.6"/>
<circle cx="77.46" cy="706.67" r="1.4" fill="#f0e020" stroke="#111" stroke-width="0.6"/>
<circle cx="90.2" cy="687.32" r="1.4" fill="#1a4d9a" stroke="#111" stroke-width="0.6"/>
<circle cx="101.91" cy="675.18" r="1.4" fill="#ffffff" stroke="#111" stroke-width="0.6"/>
<circle cx="66.3" cy="679.4" r="1.6" fill="#1a4d9a" stroke="#1a1a1a" stroke-width="0.55"/>
<circle cx="71.4" cy="679.4" r="1.6" fill="#1a4d9a" stroke="#1a1a1a" stroke-width="0.55"/>
<circle cx="84.5" cy="679.7" r="1.6" fill="#1a4d9a" stroke="#1a1a1a" stroke-width="0.55"/>
<circle cx="64.5" cy="687.4" r="1.6" fill="#1a4d9a" stroke="#1a1a1a" stroke-width="0.55"/>
<circle cx="53.9" cy="683.1" r="1.6" fill="#7a1a80" stroke="#1a1a1a" stroke-width="0.55"/>
<circle cx="68.2" cy="720.7" r="1.6" fill="#1a6b35" stroke="#1a1a1a" stroke-width="0.55"/>
<circle cx="52" cy="734.2" r="1.6" fill="#1a6b35" stroke="#1a1a1a" stroke-width="0.55"/>
<circle cx="63.6" cy="740" r="1.6" fill="#1a6b35" stroke="#1a1a1a" stroke-width="0.55"/>
<circle cx="122.1" cy="665.9" r="1.6" fill="#8b1010" stroke="#1a1a1a" stroke-width="0.55"/>
<circle cx="117.7" cy="670.3" r="1.6" fill="#8b1010" stroke="#1a1a1a" stroke-width="0.55"/>
<circle cx="84" cy="685" r="1.6" fill="#ffffff" stroke="#1a1a1a" stroke-width="0.55"/>
<circle cx="177.3" cy="605.3" r="1.6" fill="#505050" stroke="#1a1a1a" stroke-width="0.55"/>
<circle cx="173.5" cy="608.7" r="1.6" fill="#505050" stroke="#1a1a1a" stroke-width="0.55"/>
<circle cx="169.3" cy="613.1" r="1.6" fill="#505050" stroke="#1a1a1a" stroke-width="0.55"/>
<path d="M55 715.5l1.9 3.2h-3.8z" fill="#1a4d9a" stroke="#111" stroke-width="0.5"/>
<path d="M63.4 709.6l1.9 3.2h-3.8z" fill="#1a4d9a" stroke="#111" stroke-width="0.5"/>
<path d="M48 730.4l1.9 3.2h-3.8z" fill="#333" stroke="#111" stroke-width="0.5"/>
<ellipse cx="71.5" cy="712.6" rx="10.5" ry="4.6" transform="rotate(-42 71.5 712.6)" fill="none" stroke="#f0dc28" stroke-width="0.9" stroke-dasharray="1.6 1.4"/>
<rect x="42.4" y="599.5" width="141.1" height="140.5" fill="none" stroke="#333" stroke-width="1"/>
<line x1="40.4" y1="600.1" x2="42.4" y2="600.1" stroke="#333" stroke-width="0.8"/>
<text transform="translate(39.8 603.4) rotate(0.05)" font-size="7.2" text-anchor="end" fill="#333" stroke="#333" stroke-width="0.2">15</text>
<line x1="40.4" y1="630" x2="42.4" y2="630" stroke="#333" stroke-width="0.8"/>
<text transform="translate(39.8 633.3) rotate(0.05)" font-size="7.2" text-anchor="end" fill="#333" stroke="#333" stroke-width="0.2">10</text>
<line x1="40.4" y1="659.9" x2="42.4" y2="659.9" stroke="#333" stroke-width="0.8"/>
<text transform="translate(39.8 663.2) rotate(0.05)" font-size="7.2" text-anchor="end" fill="#333" stroke="#333" stroke-width="0.2">5</text>
<line x1="40.4" y1="689.8" x2="42.4" y2="689.8" stroke="#333" stroke-width="0.8"/>
<text transform="translate(39.8 693.1) rotate(0.05)" font-size="7.2" text-anchor="end" fill="#333" stroke="#333" stroke-width="0.2">0</text>
<line x1="40.4" y1="719.7" x2="42.4" y2="719.7" stroke="#333" stroke-width="0.8"/>
<text transform="translate(39.8 723) rotate(0.05)" font-size="7.2" text-anchor="end" fill="#333" stroke="#333" stroke-width="0.2">-5</text>
<line x1="55.95" y1="740" x2="55.95" y2="742" stroke="#333" stroke-width="0.8"/>
<text transform="translate(55.95 748.6) rotate(0.05)" font-size="7.1" text-anchor="middle" fill="#333" stroke="#333" stroke-width="0.2">-5</text>
<line x1="87.2" y1="740" x2="87.2" y2="742" stroke="#333" stroke-width="0.8"/>
<text transform="translate(87.2 748.6) rotate(0.05)" font-size="7.1" text-anchor="middle" fill="#333" stroke="#333" stroke-width="0.2">0</text>
<line x1="118.45" y1="740" x2="118.45" y2="742" stroke="#333" stroke-width="0.8"/>
<text transform="translate(118.45 748.6) rotate(0.05)" font-size="7.1" text-anchor="middle" fill="#333" stroke="#333" stroke-width="0.2">5</text>
<line x1="149.7" y1="740" x2="149.7" y2="742" stroke="#333" stroke-width="0.8"/>
<text transform="translate(149.7 748.6) rotate(0.05)" font-size="7.1" text-anchor="middle" fill="#333" stroke="#333" stroke-width="0.2">10</text>
<line x1="180.95" y1="740" x2="180.95" y2="742" stroke="#333" stroke-width="0.8"/>
<text transform="translate(180.95 748.6) rotate(0.05)" font-size="7.1" text-anchor="middle" fill="#333" stroke="#333" stroke-width="0.2">15</text>
<text transform="translate(112.5 758.6) rotate(0.05)" font-size="8.8" text-anchor="middle" fill="#111" stroke="#111" stroke-width="0.2">Log2 Fold-change (ILG vs.Control)</text>
<text transform="translate(28.4 670) rotate(-89.95)" font-size="8.8" text-anchor="middle" fill="#111" stroke="#111" stroke-width="0.2">Log2 Fold-change (GU vs.Control)</text>
<line x1="61.3" y1="641.4" x2="66.2" y2="677.8" stroke="#555" stroke-width="0.5"/>
<line x1="75.9" y1="661.3" x2="71.5" y2="677.8" stroke="#555" stroke-width="0.5"/>
<line x1="94.7" y1="691.1" x2="100.6" y2="699.1" stroke="#555" stroke-width="0.5"/>
<line x1="169.5" y1="605.3" x2="175.6" y2="605.3" stroke="#555" stroke-width="0.5" stroke-dasharray="1 0.8"/>
<line x1="151" y1="618" x2="167.6" y2="613.4" stroke="#555" stroke-width="0.5"/>
<line x1="173.8" y1="610.4" x2="177.6" y2="619.8" stroke="#555" stroke-width="0.5"/>
<text transform="translate(46.4 638.2) rotate(0.05)" font-size="8.1" fill="#222" stroke="#222" stroke-width="0.2">TG 16:0_18:0_18:0</text>
<text transform="translate(46 657.9) rotate(0.05)" font-size="8.1" fill="#222" stroke="#222" stroke-width="0.2">TG 16:0_16:0_18:0</text>
<text transform="translate(102.5 700.1) rotate(0.05)" font-size="8.1" fill="#222" stroke="#222" stroke-width="0.2">TG 16:0_16:0_16:0</text>
<text transform="translate(76.6 721.8) rotate(0.05)" font-size="8.1" fill="#222" stroke="#222" stroke-width="0.2">EtherTG</text>
<text transform="translate(142.6 608.7) rotate(0.05)" font-size="8.1" fill="#222" stroke="#222" stroke-width="0.2">FA16:0</text>
<text transform="translate(118.9 620.4) rotate(0.05)" font-size="8.1" fill="#222" stroke="#222" stroke-width="0.2">MG 18:0</text>
<text transform="translate(153.1 626.2) rotate(0.05)" font-size="8.1" fill="#222" stroke="#222" stroke-width="0.2">MG16:0</text>
<circle cx="195.9" cy="604.1" r="1.6" fill="#ffffff" stroke="#1a1a1a" stroke-width="0.55"/>
<text transform="translate(201.2 606.7) rotate(0.05)" font-size="7.3" fill="#1a1a1a" stroke="#1a1a1a" stroke-width="0.2">PA/PC/PE/PG/PI/PS</text>
<circle cx="195.9" cy="615.6" r="1.6" fill="#e69f00" stroke="#1a1a1a" stroke-width="0.55"/>
<text transform="translate(201.2 618.2) rotate(0.05)" font-size="7.3" fill="#1a1a1a" stroke="#1a1a1a" stroke-width="0.2">LysoPhospholipid</text>
<circle cx="195.9" cy="627.8" r="1.6" fill="#f0e020" stroke="#1a1a1a" stroke-width="0.55"/>
<text transform="translate(201.2 630.4) rotate(0.05)" font-size="7.3" fill="#1a1a1a" stroke="#1a1a1a" stroke-width="0.2">Ether lipid</text>
<circle cx="195.9" cy="639.2" r="1.6" fill="#3a8fd0" stroke="#1a1a1a" stroke-width="0.55"/>
<text transform="translate(201.2 641.8) rotate(0.05)" font-size="7.3" fill="#1a1a1a" stroke="#1a1a1a" stroke-width="0.2">DG</text>
<circle cx="195.9" cy="651.2" r="1.6" fill="#1a4d9a" stroke="#1a1a1a" stroke-width="0.55"/>
<text transform="translate(201.2 653.8) rotate(0.05)" font-size="7.3" fill="#1a1a1a" stroke="#1a1a1a" stroke-width="0.2">TG</text>
<circle cx="195.9" cy="662.6" r="1.6" fill="#8b1010" stroke="#1a1a1a" stroke-width="0.55"/>
<text transform="translate(201.2 665.2) rotate(0.05)" font-size="7.3" fill="#1a1a1a" stroke="#1a1a1a" stroke-width="0.2">CE</text>
<circle cx="195.9" cy="675" r="1.6" fill="#7a1a80" stroke="#1a1a1a" stroke-width="0.55"/>
<text transform="translate(201.2 677.6) rotate(0.05)" font-size="7.3" fill="#1a1a1a" stroke="#1a1a1a" stroke-width="0.2">Ceramide</text>
<circle cx="195.9" cy="686.4" r="1.6" fill="#a8dcd2" stroke="#1a1a1a" stroke-width="0.55"/>
<text transform="translate(201.2 689) rotate(0.05)" font-size="7.3" fill="#1a1a1a" stroke="#1a1a1a" stroke-width="0.2">HexCer</text>
<circle cx="195.9" cy="698.8" r="1.6" fill="#1a6b35" stroke="#1a1a1a" stroke-width="0.55"/>
<text transform="translate(201.2 701.4) rotate(0.05)" font-size="7.3" fill="#1a1a1a" stroke="#1a1a1a" stroke-width="0.2">Hex2Cer</text>
<circle cx="195.9" cy="710.2" r="1.6" fill="#505050" stroke="#1a1a1a" stroke-width="0.55"/>
<text transform="translate(201.2 712.8) rotate(0.05)" font-size="7.3" fill="#1a1a1a" stroke="#1a1a1a" stroke-width="0.2">Others</text>
<path d="M195.9 722.3l2.2 3.8h-4.4z" fill="none" stroke="#222" stroke-width="0.6"/>
<text transform="translate(201.2 727.1) rotate(0.05)" font-size="7.3" fill="#1a1a1a" stroke="#1a1a1a" stroke-width="0.2">up</text>
<path d="M195.9 738l2.2 -3.8h-4.4z" fill="none" stroke="#222" stroke-width="0.6"/>
<text transform="translate(201.2 738.6) rotate(0.05)" font-size="7.3" fill="#1a1a1a" stroke="#1a1a1a" stroke-width="0.2">down</text>
<text transform="translate(307 609.3) rotate(0.05)" font-size="20" stroke="#000" stroke-width="0.1">f</text>
<rect x="332.4" y="598.6" width="41" height="8.6" fill="#454545"/>
<text transform="translate(352.9 605.7) rotate(0.05)" font-size="7.5" text-anchor="middle" fill="#fff" stroke="#fff" stroke-width="0.2">Control</text>
<rect x="373.4" y="598.6" width="41.4" height="8.6" fill="#bf181c"/>
<text transform="translate(394.1 605.7) rotate(0.05)" font-size="7.5" text-anchor="middle" fill="#fff" stroke="#fff" stroke-width="0.2">LPS</text>
<rect x="414.8" y="598.6" width="41.2" height="8.6" fill="#1542a0"/>
<text transform="translate(435.4 605.7) rotate(0.05)" font-size="7.5" text-anchor="middle" fill="#fff" stroke="#fff" stroke-width="0.2">ILG</text>
<rect x="456" y="598.6" width="41.4" height="8.6" fill="#0b6f5e"/>
<text transform="translate(476.7 605.7) rotate(0.05)" font-size="7.5" text-anchor="middle" fill="#fff" stroke="#fff" stroke-width="0.2">GU</text>
<rect x="332.4" y="608.8" width="8.25" height="8.24" fill="#b1b1de" stroke="#3a3a3a" stroke-width="0.75"/>
<rect x="340.65" y="608.8" width="8.25" height="8.24" fill="#b3b3df" stroke="#3a3a3a" stroke-width="0.75"/>
<rect x="348.9" y="608.8" width="8.25" height="8.24" fill="#cacae9" stroke="#3a3a3a" stroke-width="0.75"/>
<rect x="357.15" y="608.8" width="8.25" height="8.24" fill="#b7b7e0" stroke="#3a3a3a" stroke-width="0.75"/>
<rect x="365.4" y="608.8" width="8.25" height="8.24" fill="#9393d2" stroke="#3a3a3a" stroke-width="0.75"/>
<rect x="373.65" y="608.8" width="8.25" height="8.24" fill="#cccce9" stroke="#3a3a3a" stroke-width="0.75"/>
<rect x="381.9" y="608.8" width="8.25" height="8.24" fill="#a7a7da" stroke="#3a3a3a" stroke-width="0.75"/>
<rect x="390.15" y="608.8" width="8.25" height="8.24" fill="#afafdd" stroke="#3a3a3a" stroke-width="0.75"/>
<rect x="398.4" y="608.8" width="8.25" height="8.24" fill="#ffffff" stroke="#3a3a3a" stroke-width="0.75"/>
<rect x="406.65" y="608.8" width="8.25" height="8.24" fill="#db5454" stroke="#3a3a3a" stroke-width="0.75"/>
<rect x="414.9" y="608.8" width="8.25" height="8.24" fill="#b7b7e0" stroke="#3a3a3a" stroke-width="0.75"/>
<rect x="423.15" y="608.8" width="8.25" height="8.24" fill="#b2b2de" stroke="#3a3a3a" stroke-width="0.75"/>
<rect x="431.4" y="608.8" width="8.25" height="8.24" fill="#b6b6e0" stroke="#3a3a3a" stroke-width="0.75"/>
<rect x="439.65" y="608.8" width="8.25" height="8.24" fill="#dbdbf0" stroke="#3a3a3a" stroke-width="0.75"/>
<rect x="447.9" y="608.8" width="8.25" height="8.24" fill="#de6363" stroke="#3a3a3a" stroke-width="0.75"/>
<rect x="456.15" y="608.8" width="8.25" height="8.24" fill="#afafdd" stroke="#3a3a3a" stroke-width="0.75"/>
<rect x="464.4" y="608.8" width="8.25" height="8.24" fill="#ababdb" stroke="#3a3a3a" stroke-width="0.75"/>
<rect x="472.65" y="608.8" width="8.25" height="8.24" fill="#b0b0dd" stroke="#3a3a3a" stroke-width="0.75"/>
<rect x="480.9" y="608.8" width="8.25" height="8.24" fill="#b1b1de" stroke="#3a3a3a" stroke-width="0.75"/>
<rect x="489.15" y="608.8" width="8.25" height="8.24" fill="#ffffff" stroke="#3a3a3a" stroke-width="0.75"/>
<rect x="332.4" y="617.04" width="8.25" height="8.24" fill="#bdbde3" stroke="#3a3a3a" stroke-width="0.75"/>
<rect x="340.65" y="617.04" width="8.25" height="8.24" fill="#aaaadb" stroke="#3a3a3a" stroke-width="0.75"/>
<rect x="348.9" y="617.04" width="8.25" height="8.24" fill="#ababdb" stroke="#3a3a3a" stroke-width="0.75"/>
<rect x="357.15" y="617.04" width="8.25" height="8.24" fill="#cccce9" stroke="#3a3a3a" stroke-width="0.75"/>
<rect x="365.4" y="617.04" width="8.25" height="8.24" fill="#b4b4df" stroke="#3a3a3a" stroke-width="0.75"/>
<rect x="373.65" y="617.04" width="8.25" height="8.24" fill="#a9a9db" stroke="#3a3a3a" stroke-width="0.75"/>
<rect x="381.9" y="617.04" width="8.25" height="8.24" fill="#b4b4df" stroke="#3a3a3a" stroke-width="0.75"/>
<rect x="390.15" y="617.04" width="8.25" height="8.24" fill="#a9a9da" stroke="#3a3a3a" stroke-width="0.75"/>
<rect x="398.4" y="617.04" width="8.25" height="8.24" fill="#f3f3fa" stroke="#3a3a3a" stroke-width="0.75"/>
<rect x="406.65" y="617.04" width="8.25" height="8.24" fill="#d94b4b" stroke="#3a3a3a" stroke-width="0.75"/>
<rect x="414.9" y="617.04" width="8.25" height="8.24" fill="#a9a9da" stroke="#3a3a3a" stroke-width="0.75"/>
<rect x="423.15" y="617.04" width="8.25" height="8.24" fill="#a6a6d9" stroke="#3a3a3a" stroke-width="0.75"/>
<rect x="431.4" y="617.04" width="8.25" height="8.24" fill="#b6b6e0" stroke="#3a3a3a" stroke-width="0.75"/>
<rect x="439.65" y="617.04" width="8.25" height="8.24" fill="#aaaadb" stroke="#3a3a3a" stroke-width="0.75"/>
<rect x="447.9" y="617.04" width="8.25" height="8.24" fill="#e37777" stroke="#3a3a3a" stroke-width="0.75"/>
<rect x="456.15" y="617.04" width="8.25" height="8.24" fill="#aaaadb" stroke="#3a3a3a" stroke-width="0.75"/>
<rect x="464.4" y="617.04" width="8.25" height="8.24" fill="#b8b8e1" stroke="#3a3a3a" stroke-width="0.75"/>
<rect x="472.65" y="617.04" width="8.25" height="8.24" fill="#b6b6e0" stroke="#3a3a3a" stroke-width="0.75"/>
<rect x="480.9" y="617.04" width="8.25" height="8.24" fill="#acacdc" stroke="#3a3a3a" stroke-width="0.75"/>
<rect x="489.15" y="617.04" width="8.25" height="8.24" fill="#fffefe" stroke="#3a3a3a" stroke-width="0.75"/>
<rect x="332.4" y="625.28" width="8.25" height="8.24" fill="#b7b7e0" stroke="#3a3a3a" stroke-width="0.75"/>
<rect x="340.65" y="625.28" width="8.25" height="8.24" fill="#b0b0dd" stroke="#3a3a3a" stroke-width="0.75"/>
<rect x="348.9" y="625.28" width="8.25" height="8.24" fill="#b2b2de" stroke="#3a3a3a" stroke-width="0.75"/>
<rect x="357.15" y="625.28" width="8.25" height="8.24" fill="#aaaadb" stroke="#3a3a3a" stroke-width="0.75"/>
<rect x="365.4" y="625.28" width="8.25" height="8.24" fill="#b7b7e0" stroke="#3a3a3a" stroke-width="0.75"/>
<rect x="373.65" y="625.28" width="8.25" height="8.24" fill="#b3b3de" stroke="#3a3a3a" stroke-width="0.75"/>
<rect x="381.9" y="625.28" width="8.25" height="8.24" fill="#b7b7e1" stroke="#3a3a3a" stroke-width="0.75"/>
<rect x="390.15" y="625.28" width="8.25" height="8.24" fill="#b6b6e0" stroke="#3a3a3a" stroke-width="0.75"/>
<rect x="398.4" y="625.28" width="8.25" height="8.24" fill="#ffffff" stroke="#3a3a3a" stroke-width="0.75"/>
<rect x="406.65" y="625.28" width="8.25" height="8.24" fill="#d74141" stroke="#3a3a3a" stroke-width="0.75"/>
<rect x="414.9" y="625.28" width="8.25" height="8.24" fill="#acacdc" stroke="#3a3a3a" stroke-width="0.75"/>
<rect x="423.15" y="625.28" width="8.25" height="8.24" fill="#adaddc" stroke="#3a3a3a" stroke-width="0.75"/>
<rect x="431.4" y="625.28" width="8.25" height="8.24" fill="#a9a9db" stroke="#3a3a3a" stroke-width="0.75"/>
<rect x="439.65" y="625.28" width="8.25" height="8.24" fill="#bfbfe4" stroke="#3a3a3a" stroke-width="0.75"/>
<rect x="447.9" y="625.28" width="8.25" height="8.24" fill="#e68686" stroke="#3a3a3a" stroke-width="0.75"/>
<rect x="456.15" y="625.28" width="8.25" height="8.24" fill="#a8a8da" stroke="#3a3a3a" stroke-width="0.75"/>
<rect x="464.4" y="625.28" width="8.25" height="8.24" fill="#acacdc" stroke="#3a3a3a" stroke-width="0.75"/>
<rect x="472.65" y="625.28" width="8.25" height="8.24" fill="#b1b1de" stroke="#3a3a3a" stroke-width="0.75"/>
<rect x="480.9" y="625.28" width="8.25" height="8.24" fill="#a6a6d9" stroke="#3a3a3a" stroke-width="0.75"/>
<rect x="489.15" y="625.28" width="8.25" height="8.24" fill="#c8c8e8" stroke="#3a3a3a" stroke-width="0.75"/>
<rect x="332.4" y="633.52" width="8.25" height="8.24" fill="#acacdc" stroke="#3a3a3a" stroke-width="0.75"/>
<rect x="340.65" y="633.52" width="8.25" height="8.24" fill="#acacdc" stroke="#3a3a3a" stroke-width="0.75"/>
<rect x="348.9" y="633.52" width="8.25" height="8.24" fill="#cbcbe9" stroke="#3a3a3a" stroke-width="0.75"/>
<rect x="357.15" y="633.52" width="8.25" height="8.24" fill="#c5c5e6" stroke="#3a3a3a" stroke-width="0.75"/>
<rect x="365.4" y="633.52" width="8.25" height="8.24" fill="#acacdc" stroke="#3a3a3a" stroke-width="0.75"/>
<rect x="373.65" y="633.52" width="8.25" height="8.24" fill="#afafdd" stroke="#3a3a3a" stroke-width="0.75"/>
<rect x="381.9" y="633.52" width="8.25" height="8.24" fill="#b3b3df" stroke="#3a3a3a" stroke-width="0.75"/>
<rect x="390.15" y="633.52" width="8.25" height="8.24" fill="#a7a7da" stroke="#3a3a3a" stroke-width="0.75"/>
<rect x="398.4" y="633.52" width="8.25" height="8.24" fill="#f2f2f9" stroke="#3a3a3a" stroke-width="0.75"/>
<rect x="406.65" y="633.52" width="8.25" height="8.24" fill="#d53c3c" stroke="#3a3a3a" stroke-width="0.75"/>
<rect x="414.9" y="633.52" width="8.25" height="8.24" fill="#bdbde3" stroke="#3a3a3a" stroke-width="0.75"/>
<rect x="423.15" y="633.52" width="8.25" height="8.24" fill="#b4b4df" stroke="#3a3a3a" stroke-width="0.75"/>
<rect x="431.4" y="633.52" width="8.25" height="8.24" fill="#b5b5e0" stroke="#3a3a3a" stroke-width="0.75"/>
<rect x="439.65" y="633.52" width="8.25" height="8.24" fill="#bdbde3" stroke="#3a3a3a" stroke-width="0.75"/>
<rect x="447.9" y="633.52" width="8.25" height="8.24" fill="#eda3a3" stroke="#3a3a3a" stroke-width="0.75"/>
<rect x="456.15" y="633.52" width="8.25" height="8.24" fill="#b4b4df" stroke="#3a3a3a" stroke-width="0.75"/>
<rect x="464.4" y="633.52" width="8.25" height="8.24" fill="#adaddc" stroke="#3a3a3a" stroke-width="0.75"/>
<rect x="472.65" y="633.52" width="8.25" height="8.24" fill="#b1b1de" stroke="#3a3a3a" stroke-width="0.75"/>
<rect x="480.9" y="633.52" width="8.25" height="8.24" fill="#a6a6d9" stroke="#3a3a3a" stroke-width="0.75"/>
<rect x="489.15" y="633.52" width="8.25" height="8.24" fill="#dadaef" stroke="#3a3a3a" stroke-width="0.75"/>
<rect x="332.4" y="641.76" width="8.25" height="8.24" fill="#aaaadb" stroke="#3a3a3a" stroke-width="0.75"/>
<rect x="340.65" y="641.76" width="8.25" height="8.24" fill="#b7b7e0" stroke="#3a3a3a" stroke-width="0.75"/>
<rect x="348.9" y="641.76" width="8.25" height="8.24" fill="#c0c0e4" stroke="#3a3a3a" stroke-width="0.75"/>
<rect x="357.15" y="641.76" width="8.25" height="8.24" fill="#c9c9e8" stroke="#3a3a3a" stroke-width="0.75"/>
<rect x="365.4" y="641.76" width="8.25" height="8.24" fill="#b7b7e0" stroke="#3a3a3a" stroke-width="0.75"/>
<rect x="373.65" y="641.76" width="8.25" height="8.24" fill="#b7b7e0" stroke="#3a3a3a" stroke-width="0.75"/>
<rect x="381.9" y="641.76" width="8.25" height="8.24" fill="#adaddc" stroke="#3a3a3a" stroke-width="0.75"/>
<rect x="390.15" y="641.76" width="8.25" height="8.24" fill="#adaddc" stroke="#3a3a3a" stroke-width="0.75"/>
<rect x="398.4" y="641.76" width="8.25" height="8.24" fill="#f4f4fa" stroke="#3a3a3a" stroke-width="0.75"/>
<rect x="406.65" y="641.76" width="8.25" height="8.24" fill="#e68686" stroke="#3a3a3a" stroke-width="0.75"/>
<rect x="414.9" y="641.76" width="8.25" height="8.24" fill="#b4b4df" stroke="#3a3a3a" stroke-width="0.75"/>
<rect x="423.15" y="641.76" width="8.25" height="8.24" fill="#a8a8da" stroke="#3a3a3a" stroke-width="0.75"/>
<rect x="431.4" y="641.76" width="8.25" height="8.24" fill="#b4b4df" stroke="#3a3a3a" stroke-width="0.75"/>
<rect x="439.65" y="641.76" width="8.25" height="8.24" fill="#cacae9" stroke="#3a3a3a" stroke-width="0.75"/>
<rect x="447.9" y="641.76" width="8.25" height="8.24" fill="#da4f4f" stroke="#3a3a3a" stroke-width="0.75"/>
<rect x="456.15" y="641.76" width="8.25" height="8.24" fill="#b6b6e0" stroke="#3a3a3a" stroke-width="0.75"/>
<rect x="464.4" y="641.76" width="8.25" height="8.24" fill="#a7a7da" stroke="#3a3a3a" stroke-width="0.75"/>
<rect x="472.65" y="641.76" width="8.25" height="8.24" fill="#b7b7e0" stroke="#3a3a3a" stroke-width="0.75"/>
<rect x="480.9" y="641.76" width="8.25" height="8.24" fill="#a8a8da" stroke="#3a3a3a" stroke-width="0.75"/>
<rect x="489.15" y="641.76" width="8.25" height="8.24" fill="#c2c2e5" stroke="#3a3a3a" stroke-width="0.75"/>
<rect x="332.4" y="650" width="8.25" height="8.24" fill="#e4e4f3" stroke="#3a3a3a" stroke-width="0.75"/>
<rect x="340.65" y="650" width="8.25" height="8.24" fill="#f1f1f9" stroke="#3a3a3a" stroke-width="0.75"/>
<rect x="348.9" y="650" width="8.25" height="8.24" fill="#ffffff" stroke="#3a3a3a" stroke-width="0.75"/>
<rect x="357.15" y="650" width="8.25" height="8.24" fill="#fffefe" stroke="#3a3a3a" stroke-width="0.75"/>
<rect x="365.4" y="650" width="8.25" height="8.24" fill="#e6e6f5" stroke="#3a3a3a" stroke-width="0.75"/>
<rect x="373.65" y="650" width="8.25" height="8.24" fill="#b7b7e0" stroke="#3a3a3a" stroke-width="0.75"/>
<rect x="381.9" y="650" width="8.25" height="8.24" fill="#6c6cc2" stroke="#3a3a3a" stroke-width="0.75"/>
<rect x="390.15" y="650" width="8.25" height="8.24" fill="#c6c6e7" stroke="#3a3a3a" stroke-width="0.75"/>
<rect x="398.4" y="650" width="8.25" height="8.24" fill="#c2c2e5" stroke="#3a3a3a" stroke-width="0.75"/>
<rect x="406.65" y="650" width="8.25" height="8.24" fill="#f2bbbb" stroke="#3a3a3a" stroke-width="0.75"/>
<rect x="414.9" y="650" width="8.25" height="8.24" fill="#acacdc" stroke="#3a3a3a" stroke-width="0.75"/>
<rect x="423.15" y="650" width="8.25" height="8.24" fill="#aaaadb" stroke="#3a3a3a" stroke-width="0.75"/>
<rect x="431.4" y="650" width="8.25" height="8.24" fill="#a8a8da" stroke="#3a3a3a" stroke-width="0.75"/>
<rect x="439.65" y="650" width="8.25" height="8.24" fill="#ffffff" stroke="#3a3a3a" stroke-width="0.75"/>
<rect x="447.9" y="650" width="8.25" height="8.24" fill="#d33232" stroke="#3a3a3a" stroke-width="0.75"/>
<rect x="456.15" y="650" width="8.25" height="8.24" fill="#6c6cc2" stroke="#3a3a3a" stroke-width="0.75"/>
<rect x="464.4" y="650" width="8.25" height="8.24" fill="#7676c6" stroke="#3a3a3a" stroke-width="0.75"/>
<rect x="472.65" y="650" width="8.25" height="8.24" fill="#8181ca" stroke="#3a3a3a" stroke-width="0.75"/>
<rect x="480.9" y="650" width="8.25" height="8.24" fill="#9999d4" stroke="#3a3a3a" stroke-width="0.75"/>
<rect x="489.15" y="650" width="8.25" height="8.24" fill="#bfbfe4" stroke="#3a3a3a" stroke-width="0.75"/>
<rect x="332.4" y="658.24" width="8.25" height="8.24" fill="#a7a7da" stroke="#3a3a3a" stroke-width="0.75"/>
<rect x="340.65" y="658.24" width="8.25" height="8.24" fill="#b8b8e1" stroke="#3a3a3a" stroke-width="0.75"/>
<rect x="348.9" y="658.24" width="8.25" height="8.24" fill="#c6c6e7" stroke="#3a3a3a" stroke-width="0.75"/>
<rect x="357.15" y="658.24" width="8.25" height="8.24" fill="#c3c3e6" stroke="#3a3a3a" stroke-width="0.75"/>
<rect x="365.4" y="658.24" width="8.25" height="8.24" fill="#ababdb" stroke="#3a3a3a" stroke-width="0.75"/>
<rect x="373.65" y="658.24" width="8.25" height="8.24" fill="#b1b1de" stroke="#3a3a3a" stroke-width="0.75"/>
<rect x="381.9" y="658.24" width="8.25" height="8.24" fill="#b5b5df" stroke="#3a3a3a" stroke-width="0.75"/>
<rect x="390.15" y="658.24" width="8.25" height="8.24" fill="#aeaedd" stroke="#3a3a3a" stroke-width="0.75"/>
<rect x="398.4" y="658.24" width="8.25" height="8.24" fill="#e1e1f2" stroke="#3a3a3a" stroke-width="0.75"/>
<rect x="406.65" y="658.24" width="8.25" height="8.24" fill="#f1b6b6" stroke="#3a3a3a" stroke-width="0.75"/>
<rect x="414.9" y="658.24" width="8.25" height="8.24" fill="#a7a7da" stroke="#3a3a3a" stroke-width="0.75"/>
<rect x="423.15" y="658.24" width="8.25" height="8.24" fill="#b6b6e0" stroke="#3a3a3a" stroke-width="0.75"/>
<rect x="431.4" y="658.24" width="8.25" height="8.24" fill="#a7a7da" stroke="#3a3a3a" stroke-width="0.75"/>
<rect x="439.65" y="658.24" width="8.25" height="8.24" fill="#c5c5e6" stroke="#3a3a3a" stroke-width="0.75"/>
<rect x="447.9" y="658.24" width="8.25" height="8.24" fill="#d33232" stroke="#3a3a3a" stroke-width="0.75"/>
<rect x="456.15" y="658.24" width="8.25" height="8.24" fill="#b5b5e0" stroke="#3a3a3a" stroke-width="0.75"/>
<rect x="464.4" y="658.24" width="8.25" height="8.24" fill="#a9a9da" stroke="#3a3a3a" stroke-width="0.75"/>
<rect x="472.65" y="658.24" width="8.25" height="8.24" fill="#b3b3df" stroke="#3a3a3a" stroke-width="0.75"/>
<rect x="480.9" y="658.24" width="8.25" height="8.24" fill="#b7b7e0" stroke="#3a3a3a" stroke-width="0.75"/>
<rect x="489.15" y="658.24" width="8.25" height="8.24" fill="#ffffff" stroke="#3a3a3a" stroke-width="0.75"/>
<rect x="332.4" y="666.48" width="8.25" height="8.24" fill="#b2b2de" stroke="#3a3a3a" stroke-width="0.75"/>
<rect x="340.65" y="666.48" width="8.25" height="8.24" fill="#b4b4df" stroke="#3a3a3a" stroke-width="0.75"/>
<rect x="348.9" y="666.48" width="8.25" height="8.24" fill="#bebee3" stroke="#3a3a3a" stroke-width="0.75"/>
<rect x="357.15" y="666.48" width="8.25" height="8.24" fill="#c4c4e6" stroke="#3a3a3a" stroke-width="0.75"/>
<rect x="365.4" y="666.48" width="8.25" height="8.24" fill="#a9a9da" stroke="#3a3a3a" stroke-width="0.75"/>
<rect x="373.65" y="666.48" width="8.25" height="8.24" fill="#b5b5e0" stroke="#3a3a3a" stroke-width="0.75"/>
<rect x="381.9" y="666.48" width="8.25" height="8.24" fill="#acacdc" stroke="#3a3a3a" stroke-width="0.75"/>
<rect x="390.15" y="666.48" width="8.25" height="8.24" fill="#aeaedd" stroke="#3a3a3a" stroke-width="0.75"/>
<rect x="398.4" y="666.48" width="8.25" height="8.24" fill="#ceceea" stroke="#3a3a3a" stroke-width="0.75"/>
<rect x="406.65" y="666.48" width="8.25" height="8.24" fill="#f1b2b2" stroke="#3a3a3a" stroke-width="0.75"/>
<rect x="414.9" y="666.48" width="8.25" height="8.24" fill="#b5b5e0" stroke="#3a3a3a" stroke-width="0.75"/>
<rect x="423.15" y="666.48" width="8.25" height="8.24" fill="#b8b8e1" stroke="#3a3a3a" stroke-width="0.75"/>
<rect x="431.4" y="666.48" width="8.25" height="8.24" fill="#aeaedd" stroke="#3a3a3a" stroke-width="0.75"/>
<rect x="439.65" y="666.48" width="8.25" height="8.24" fill="#c5c5e6" stroke="#3a3a3a" stroke-width="0.75"/>
<rect x="447.9" y="666.48" width="8.25" height="8.24" fill="#d33232" stroke="#3a3a3a" stroke-width="0.75"/>
<rect x="456.15" y="666.48" width="8.25" height="8.24" fill="#b3b3df" stroke="#3a3a3a" stroke-width="0.75"/>
<rect x="464.4" y="666.48" width="8.25" height="8.24" fill="#afafdd" stroke="#3a3a3a" stroke-width="0.75"/>
<rect x="472.65" y="666.48" width="8.25" height="8.24" fill="#acacdc" stroke="#3a3a3a" stroke-width="0.75"/>
<rect x="480.9" y="666.48" width="8.25" height="8.24" fill="#aeaedc" stroke="#3a3a3a" stroke-width="0.75"/>
<rect x="489.15" y="666.48" width="8.25" height="8.24" fill="#ffffff" stroke="#3a3a3a" stroke-width="0.75"/>
<rect x="332.4" y="674.72" width="8.25" height="8.24" fill="#a9a9da" stroke="#3a3a3a" stroke-width="0.75"/>
<rect x="340.65" y="674.72" width="8.25" height="8.24" fill="#c3c3e5" stroke="#3a3a3a" stroke-width="0.75"/>
<rect x="348.9" y="674.72" width="8.25" height="8.24" fill="#cdcdea" stroke="#3a3a3a" stroke-width="0.75"/>
<rect x="357.15" y="674.72" width="8.25" height="8.24" fill="#cdcdea" stroke="#3a3a3a" stroke-width="0.75"/>
<rect x="365.4" y="674.72" width="8.25" height="8.24" fill="#9191d1" stroke="#3a3a3a" stroke-width="0.75"/>
<rect x="373.65" y="674.72" width="8.25" height="8.24" fill="#afafdd" stroke="#3a3a3a" stroke-width="0.75"/>
<rect x="381.9" y="674.72" width="8.25" height="8.24" fill="#8b8bce" stroke="#3a3a3a" stroke-width="0.75"/>
<rect x="390.15" y="674.72" width="8.25" height="8.24" fill="#a8a8da" stroke="#3a3a3a" stroke-width="0.75"/>
<rect x="398.4" y="674.72" width="8.25" height="8.24" fill="#c1c1e5" stroke="#3a3a3a" stroke-width="0.75"/>
<rect x="406.65" y="674.72" width="8.25" height="8.24" fill="#eea8a8" stroke="#3a3a3a" stroke-width="0.75"/>
<rect x="414.9" y="674.72" width="8.25" height="8.24" fill="#cacae8" stroke="#3a3a3a" stroke-width="0.75"/>
<rect x="423.15" y="674.72" width="8.25" height="8.24" fill="#cbcbe9" stroke="#3a3a3a" stroke-width="0.75"/>
<rect x="431.4" y="674.72" width="8.25" height="8.24" fill="#adaddc" stroke="#3a3a3a" stroke-width="0.75"/>
<rect x="439.65" y="674.72" width="8.25" height="8.24" fill="#cacae8" stroke="#3a3a3a" stroke-width="0.75"/>
<rect x="447.9" y="674.72" width="8.25" height="8.24" fill="#d43737" stroke="#3a3a3a" stroke-width="0.75"/>
<rect x="456.15" y="674.72" width="8.25" height="8.24" fill="#b4b4df" stroke="#3a3a3a" stroke-width="0.75"/>
<rect x="464.4" y="674.72" width="8.25" height="8.24" fill="#b3b3df" stroke="#3a3a3a" stroke-width="0.75"/>
<rect x="472.65" y="674.72" width="8.25" height="8.24" fill="#b2b2de" stroke="#3a3a3a" stroke-width="0.75"/>
<rect x="480.9" y="674.72" width="8.25" height="8.24" fill="#b4b4df" stroke="#3a3a3a" stroke-width="0.75"/>
<rect x="489.15" y="674.72" width="8.25" height="8.24" fill="#eeeef8" stroke="#3a3a3a" stroke-width="0.75"/>
<rect x="332.4" y="682.96" width="8.25" height="8.24" fill="#c9c9e8" stroke="#3a3a3a" stroke-width="0.75"/>
<rect x="340.65" y="682.96" width="8.25" height="8.24" fill="#c1c1e5" stroke="#3a3a3a" stroke-width="0.75"/>
<rect x="348.9" y="682.96" width="8.25" height="8.24" fill="#c5c5e6" stroke="#3a3a3a" stroke-width="0.75"/>
<rect x="357.15" y="682.96" width="8.25" height="8.24" fill="#cacae8" stroke="#3a3a3a" stroke-width="0.75"/>
<rect x="365.4" y="682.96" width="8.25" height="8.24" fill="#9292d1" stroke="#3a3a3a" stroke-width="0.75"/>
<rect x="373.65" y="682.96" width="8.25" height="8.24" fill="#c1c1e5" stroke="#3a3a3a" stroke-width="0.75"/>
<rect x="381.9" y="682.96" width="8.25" height="8.24" fill="#9898d3" stroke="#3a3a3a" stroke-width="0.75"/>
<rect x="390.15" y="682.96" width="8.25" height="8.24" fill="#b2b2de" stroke="#3a3a3a" stroke-width="0.75"/>
<rect x="398.4" y="682.96" width="8.25" height="8.24" fill="#c6c6e7" stroke="#3a3a3a" stroke-width="0.75"/>
<rect x="406.65" y="682.96" width="8.25" height="8.24" fill="#f0adad" stroke="#3a3a3a" stroke-width="0.75"/>
<rect x="414.9" y="682.96" width="8.25" height="8.24" fill="#dadaef" stroke="#3a3a3a" stroke-width="0.75"/>
<rect x="423.15" y="682.96" width="8.25" height="8.24" fill="#c6c6e7" stroke="#3a3a3a" stroke-width="0.75"/>
<rect x="431.4" y="682.96" width="8.25" height="8.24" fill="#ababdb" stroke="#3a3a3a" stroke-width="0.75"/>
<rect x="439.65" y="682.96" width="8.25" height="8.24" fill="#c8c8e8" stroke="#3a3a3a" stroke-width="0.75"/>
<rect x="447.9" y="682.96" width="8.25" height="8.24" fill="#d43737" stroke="#3a3a3a" stroke-width="0.75"/>
<rect x="456.15" y="682.96" width="8.25" height="8.24" fill="#c4c4e6" stroke="#3a3a3a" stroke-width="0.75"/>
<rect x="464.4" y="682.96" width="8.25" height="8.24" fill="#b5b5df" stroke="#3a3a3a" stroke-width="0.75"/>
<rect x="472.65" y="682.96" width="8.25" height="8.24" fill="#9292d1" stroke="#3a3a3a" stroke-width="0.75"/>
<rect x="480.9" y="682.96" width="8.25" height="8.24" fill="#b4b4df" stroke="#3a3a3a" stroke-width="0.75"/>
<rect x="489.15" y="682.96" width="8.25" height="8.24" fill="#c2c2e5" stroke="#3a3a3a" stroke-width="0.75"/>
<rect x="321.8" y="608.8" width="8.2" height="8.24" fill="#5ebd97" stroke="#3a3a3a" stroke-width="0.75"/>
<rect x="321.8" y="617.04" width="8.2" height="8.24" fill="#2ba765" stroke="#3a3a3a" stroke-width="0.75"/>
<rect x="321.8" y="625.28" width="8.2" height="8.24" fill="#3aae70" stroke="#3a3a3a" stroke-width="0.75"/>
<rect x="321.8" y="633.52" width="8.2" height="8.24" fill="#5cbb94" stroke="#3a3a3a" stroke-width="0.75"/>
<rect x="321.8" y="641.76" width="8.2" height="8.24" fill="#6bc3a0" stroke="#3a3a3a" stroke-width="0.75"/>
<rect x="321.8" y="650" width="8.2" height="8.24" fill="#6dc4a2" stroke="#3a3a3a" stroke-width="0.75"/>
<rect x="321.8" y="658.24" width="8.2" height="8.24" fill="#88d0b6" stroke="#3a3a3a" stroke-width="0.75"/>
<rect x="321.8" y="666.48" width="8.2" height="8.24" fill="#55b890" stroke="#3a3a3a" stroke-width="0.75"/>
<rect x="321.8" y="674.72" width="8.2" height="8.24" fill="#e6f5f3" stroke="#3a3a3a" stroke-width="0.75"/>
<rect x="321.8" y="682.96" width="8.2" height="8.24" fill="#5dbc96" stroke="#3a3a3a" stroke-width="0.75"/>
<g font-size="8.15" fill="#111" stroke="#111" stroke-width="0.14">
<text transform="translate(500.4 616.5) rotate(0.05)">Hex2Cer 36:0;O2|Hex2Cer 18:0;O2/18:0</text>
<text transform="translate(500.4 624.7) rotate(0.05)">Hex2Cer 38:0;O2|Hex2Cer 18:0;O2/20:0</text>
<text transform="translate(500.4 632.9) rotate(0.05)">Hex2Cer 34:0;O2|Hex2Cer 18:0;O2/16:0</text>
<text transform="translate(500.4 641.1) rotate(0.05)">Hex2Cer 40:0;O2|Hex2Cer 18:0;O2/22:0</text>
<text transform="translate(500.4 649.3) rotate(0.05)">Hex2Cer 34:1;O2|Hex2Cer 18:1;O2/16:0</text>
<text transform="translate(500.4 657.5) rotate(0.05)">Hex2Cer 42:1;O2|Hex2Cer 18:1;O2/24:0</text>
<text transform="translate(500.4 665.7) rotate(0.05)">Hex2Cer 36:1;O2|Hex2Cer 18:1;O2/18:0</text>
<text transform="translate(500.4 673.9) rotate(0.05)">Hex2Cer 38:1;O2|Hex2Cer 18:1;O2/20:0</text>
<text transform="translate(500.4 682.1) rotate(0.05)">Hex2Cer 40:1;O2|Hex2Cer 18:1;O2/22:0</text>
<text transform="translate(500.4 690.3) rotate(0.05)">Hex2Cer 42:2;O2|Hex2Cer 18:1;O2/24:1</text>
</g>
<g font-size="8.1" fill="#111" stroke="#111" stroke-width="0.14">
<text transform="translate(333.62 694.6) rotate(90.05)">Control_0h</text>
<text transform="translate(341.88 694.6) rotate(90.05)">Control_15m</text>
<text transform="translate(350.12 694.6) rotate(90.05)">Control_1h</text>
<text transform="translate(358.38 694.6) rotate(90.05)">Control_6h</text>
<text transform="translate(366.62 694.6) rotate(90.05)">Control_24h</text>
<text transform="translate(374.88 694.6) rotate(90.05)">LPS_0h</text>
<text transform="translate(383.12 694.6) rotate(90.05)">LPS_15m</text>
<text transform="translate(391.38 694.6) rotate(90.05)">LPS_1h</text>
<text transform="translate(399.62 694.6) rotate(90.05)">LPS_6h</text>
<text transform="translate(407.88 694.6) rotate(90.05)">LPS_24h</text>
<text transform="translate(416.12 694.6) rotate(90.05)">ILG_0h</text>
<text transform="translate(424.38 694.6) rotate(90.05)">ILG_15m</text>
<text transform="translate(432.62 694.6) rotate(90.05)">ILG_1h</text>
<text transform="translate(440.88 694.6) rotate(90.05)">ILG_6h</text>
<text transform="translate(449.12 694.6) rotate(90.05)">ILG_24h</text>
<text transform="translate(457.38 694.6) rotate(90.05)">GU_0h</text>
<text transform="translate(465.62 694.6) rotate(90.05)">GU_15m</text>
<text transform="translate(473.88 694.6) rotate(90.05)">GU_1h</text>
<text transform="translate(482.12 694.6) rotate(90.05)">GU_6h</text>
<text transform="translate(490.38 694.6) rotate(90.05)">GU_24h</text>
</g>
<defs><linearGradient id="fz" x1="0" x2="1" y1="0" y2="0"><stop offset="0" stop-color="#1a1a8c"/><stop offset="0.09" stop-color="#6a6ab8"/><stop offset="0.185" stop-color="#ffffff"/><stop offset="0.5" stop-color="#f2c0c0"/><stop offset="1" stop-color="#d02c2c"/></linearGradient></defs>
<rect x="486.1" y="744.1" width="100.7" height="6.8" fill="url(#fz)"/>
<text transform="translate(486.4 741.6) rotate(0.05)" font-size="5.9" fill="#222" stroke="#222" stroke-width="0.17">Z-score</text>
<text transform="translate(487.7 757.7) rotate(0.05)" font-size="6.6" text-anchor="middle" fill="#222" stroke="#222" stroke-width="0.2">-1</text>
<text transform="translate(505.4 757.7) rotate(0.05)" font-size="6.6" text-anchor="middle" fill="#222" stroke="#222" stroke-width="0.2">0</text>
<text transform="translate(523.7 757.7) rotate(0.05)" font-size="6.6" text-anchor="middle" fill="#222" stroke="#222" stroke-width="0.2">1</text>
<text transform="translate(541.8 757.7) rotate(0.05)" font-size="6.6" text-anchor="middle" fill="#222" stroke="#222" stroke-width="0.2">2</text>
<text transform="translate(560 757.7) rotate(0.05)" font-size="6.6" text-anchor="middle" fill="#222" stroke="#222" stroke-width="0.2">3</text>
<text transform="translate(578 757.7) rotate(0.05)" font-size="6.6" text-anchor="middle" fill="#222" stroke="#222" stroke-width="0.2">4</text>
<rect x="605.6" y="741.2" width="11" height="10.3" fill="#eaf6f6"/>
<rect x="616.6" y="741.2" width="11" height="10.3" fill="#aee0dc"/>
<rect x="627.6" y="741.2" width="11" height="10.3" fill="#63c09e"/>
<rect x="638.6" y="741.2" width="11" height="10.3" fill="#2ca562"/>
<rect x="605.6" y="741.2" width="44" height="10.3" fill="none" stroke="#666" stroke-width="0.8"/>
<text transform="translate(606.4 738.6) rotate(0.05)" font-size="5.95" fill="#222" stroke="#222" stroke-width="0.17">Abundance</text>
<text transform="translate(610.8 760) rotate(0.05)" font-size="6.7" text-anchor="middle" fill="#222" stroke="#222" stroke-width="0.2">-5e-16</text>
<text transform="translate(643.4 760) rotate(0.05)" font-size="6.7" text-anchor="middle" fill="#222" stroke="#222" stroke-width="0.2">1e-15</text></svg></body></html>
